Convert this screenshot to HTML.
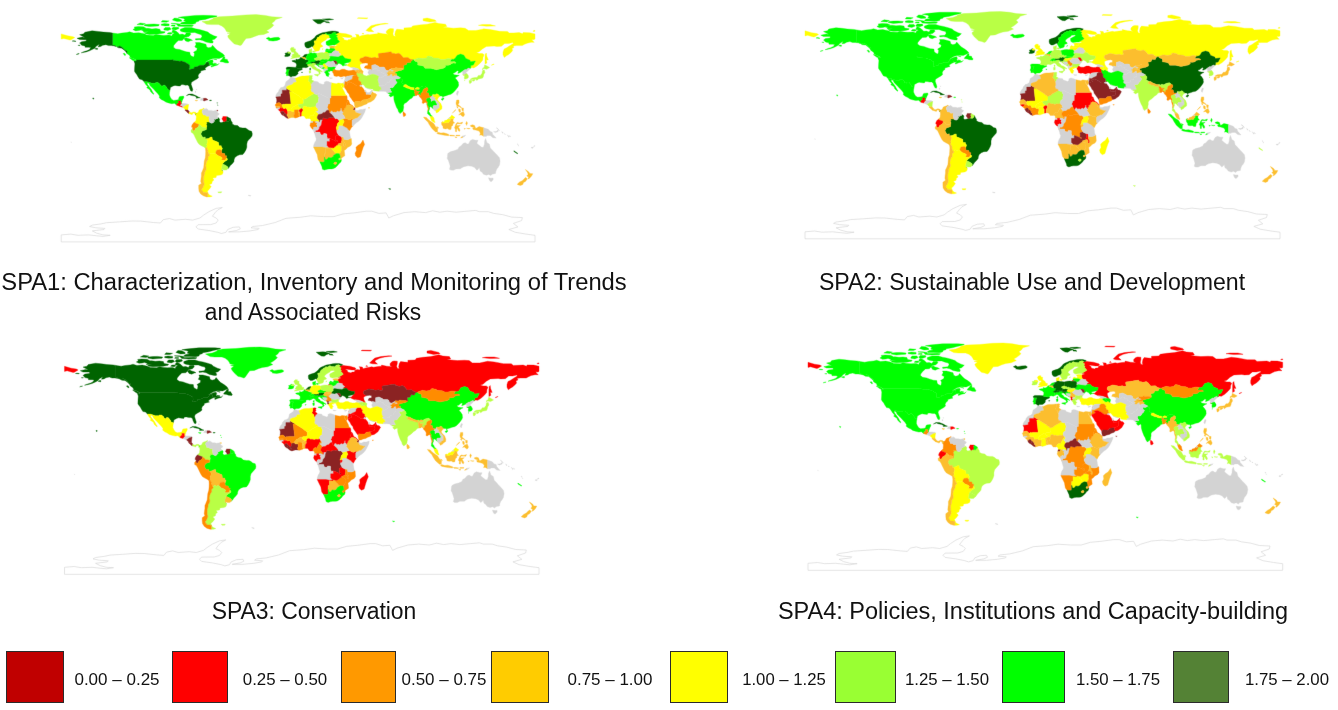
<!DOCTYPE html>
<html lang="en"><head><meta charset="utf-8"><title>Strategic Priority Areas – implementation scores</title>
<style>
html,body{margin:0;padding:0;background:#fff}
body{width:1338px;height:710px;position:relative;overflow:hidden;font-family:"Liberation Sans",sans-serif;color:#111}
svg{position:absolute;left:0;top:0}
.map path{stroke-width:.35;stroke-linejoin:round;fill-rule:evenodd}
.map path.ant{fill:#fff;stroke:#d6d6d6;stroke-width:.65}
.tx{position:absolute;width:800px;text-align:center;white-space:nowrap;transform-origin:50% 0}
.lb{position:absolute;box-sizing:border-box;border:1.5px solid #2b2b2b}
</style></head><body>
<svg width="1338" height="710" viewBox="0 0 1338 710">
<defs><filter id="soft" filterUnits="userSpaceOnUse" x="0" y="0" width="1338" height="710" color-interpolation-filters="sRGB"><feConvolveMatrix order="3" kernelMatrix="0.0025 0.0450 0.0025 0.0450 0.8100 0.0450 0.0025 0.0450 0.0025" divisor="1" edgeMode="none" preserveAlpha="false"/></filter></defs>
<g filter="url(#soft)"><g transform="translate(61.20,0)" class="map">
<path class="ant" d="M0 234.9L9.6 234.1L16.7 235.3L27.5 234.9L35.5 235.8L41.9 236.4L49 235.3L41.9 234.9L35.5 233.2L31.1 230.9L42.8 229.5L43.7 228.4L34.6 227.8L28.4 226.5L31.1 225.1L40 223.9L45.4 222.7L58 221.9L70.5 221L79.5 221.1L92.1 222.5L99.2 223L102 219.7L108.2 218.5L113.6 220.1L124.4 219.3L131.5 220.1L138.7 218L142.3 215.2L147.7 211.7L154.9 208.4L161.1 207.5L156.6 209.9L154 212.6L151.2 216.2L154.9 218L157 220.1L154.9 223L149.5 224.6L136.9 224.7L134.8 226.9L136.9 229L147.7 230.5L156.6 232.3L160.2 233.5L164.8 232.3L166.5 229.5L171.9 227.3L178.2 226.9L179.1 228.8L175.4 230.5L167.4 231.9L178.2 231.9L189 230.9L197 229.5L197.9 228.4L189.8 227.8L191.6 226.5L201.5 225.5L214 222.5L224.8 218.3L238.7 217.3L249.5 215.8L262.2 216.6L272.8 216.6L281.9 213.9L292.6 212.9L305.2 211.2L310.6 211.2L317.7 213.4L324.9 212.9L327.6 218L332.1 215.8L342.8 212.6L353.6 211.7L364.3 212.6L371.5 210.8L378.6 212.2L385.9 211.2L394.8 212.2L405.6 211.2L414.6 210.4L418.1 211.7L427.1 211.7L432.5 213.4L441.6 214.7L450.5 217.1L461.2 217.6L460.4 220.6L452.2 223.4L456.7 226.9L447.7 229.5L454.1 232.3L464.9 234.1L473.8 235.3L473.8 241.9L0 241.9Z"/>
<path d="M121.1 100.8L120.7 100L121.3 100ZM124 109.7L124.1 109.8L124 110.5ZM121.7 107.4L121.1 107.2L121.3 107.1L122 107.4L122 107.6Z" fill="#D3D3D3" stroke="#D3D3D3"/>
<path d="M56.6 33.8L60.5 33.1L65.8 32.5L68.4 31.8L72.4 33.1L77.7 32.7L82.9 33.8L85.5 35.1L92.1 35.4L94.8 34.4L98.7 35.1L102.7 35.4L107.9 35.1L110.6 36L111.2 34.4L113.2 33.1L110.6 32.5L111.2 30.5L112.5 29.9L115.8 31.8L117.1 33.1L118.5 34.4L121.1 34.1L123.7 35.1L125 33.1L129 32.9L129.6 34.4L127.7 36.4L123.7 37.3L122.4 39L121.1 40.4L117.1 40.6L114.5 43L112.5 45.6L112.3 47.2L114.5 48.9L118.5 49.5L121.1 50.5L125 51.8L128.6 52.2L129 54.8L130.3 56.1L132.3 57L132.9 56.1L133.3 53.5L132.3 52.2L135.6 50.2L136 48.2L133.6 46.9L134.9 44.3L134.2 42.6L138.2 42.6L142.1 43.6L144.8 44.3L145.4 46.9L147.4 47.8L150 47.2L151.4 45.2L154 48.2L156 50.2L159.2 52.2L161.9 54.1L163.5 56.1L161.9 56.9L157.9 58.5L152.7 58.3L148.7 59.4L145.4 61.3L143.5 62.8L146.1 61.6L148.7 60.3L151.4 59.8L152 61.3L151.4 62.7L152 63.7L154 64.2L156.6 64.6L157.9 63.3L156.6 65L153.3 65.9L150.3 67.1L150 67L150 65.9L152 64.9L148.7 65.3L148.6 65.3L148.5 65.1L147.7 64.4L147.7 62.5L147 62.2L145.8 62.1L144.8 63L144.4 63.7L142.8 65.3L138.6 65.3L136.3 66.5L132.9 67.2L132.9 68.4L128.3 69.6L127.5 69.1L128.5 67.9L128.3 64.9L127 64L125.7 63.4L125.2 62.8L120.4 61L118.5 61.2L115.2 60.8L112.4 60.4L111.6 59.5L111.6 60L75 60L72.4 58.5L69.1 57.4L68.4 55.4L65.8 53.5L65.8 51L63.4 49.9L61.2 47.6L58.6 46L56 47L55.3 46.5L55.1 46.5L53.7 45.5L51.3 45.2L51.3 33ZM72.8 61L74.6 61L72.8 61.1Z" fill="#00FF00" stroke="#00FF00"/>
<path d="M111.6 59.5L112.4 60.4L115.2 60.8L118.5 61.2L120.4 61L125.2 62.8L125.7 63.4L127 64L128.3 64.9L128.5 67.9L127.5 69.1L128.3 69.6L132.9 68.4L132.9 67.2L136.3 66.5L138.6 65.3L142.8 65.3L144.4 63.7L144.8 63L145.8 62.1L147 62.2L147.7 62.5L147.7 64.4L148.5 65.1L148.6 65.3L146.1 66.6L144.1 67.9L143.7 69.2L144.8 69.6L142.1 70.3L139.5 71.1L139.5 72.5L137.8 73.8L136.9 75.8L137.3 77.7L135.6 79.1L132.9 80.6L130.3 82.3L129.9 84.3L131 87.6L131.6 89.6L131.1 91.3L129.6 90.9L128.3 88.2L127.9 86.3L126.3 85L124.4 85.2L121.7 84.6L119.8 84.7L119.1 86L117.1 85.9L113.8 85.4L111.9 86L109.2 87.6L108.8 90.2L108.8 90.3L106.3 89.6L105.9 88.1L104.4 86.1L103.4 85.2L102 85.2L101.1 86.3L99.4 85.5L98.8 84.2L96.7 82.6L94.5 82.6L94.5 83.3L90.8 83.3L85.8 81.7L82.8 81.7L82.7 81.7L82.7 81.5L80.9 79.7L78.3 79.1L76.6 76.4L75.7 74.7L74 72.5L73.3 71.3L73.4 67.9L73.7 63.7L72.8 61.1L74.6 61L75 61L75 60L111.6 60ZM61.2 47.6L63.4 49.9L65.8 51L65.8 53.5L65.1 52.2L63.2 50.2L60.5 48.2L57.3 47.8L56 47L58.6 46ZM53.7 45.5L55.1 46.5L52.6 45.9L50 45.6L47.4 45.6L44.7 44.7L41.5 45.3L39.5 46.5L36.9 46.9L38.2 44.3L34.9 46.3L33.6 48.2L30.9 49.5L28.3 50.8L25 51.9L21.7 52.6L20 52.8L23 51.5L25.7 50.8L28.3 49.5L29.6 47.6L27.6 47.3L24 47.3L23.7 45.9L20.4 45.2L19.1 43.6L18.4 43L20.4 41.7L25 41L25 39.7L22.4 39.7L18.4 39.6L15.8 38.3L21.1 37.1L23.7 37.7L21.7 36.4L18.4 34.7L22.4 33.8L23.7 32.2L30.9 30.8L36.9 31.4L42.1 32.1L48.7 32.5L51.3 33L51.3 45.2Z" fill="#006400" stroke="#006400"/>
<path d="M90.8 83.3L94.5 83.3L94.5 82.6L96.7 82.6L98.8 84.2L99.4 85.5L101.1 86.3L102 85.2L103.4 85.2L104.4 86.1L105.9 88.1L106.3 89.6L108.8 90.3L108.3 92.8L108.2 95.1L109.2 97.4L110.6 99.4L112.5 100.4L115.2 100L117.1 99.7L117.8 97.4L118.5 96.5L122.4 96.1L122.7 97.4L121.6 99.4L121.3 100L120.7 100L119.6 101L117.1 101L117.1 101.8L117.9 102.8L116.5 103.2L115.6 104.2L115.6 105.3L113.2 103.3L110.6 103.7L107.3 102.9L104.6 102L102.7 100.7L100 99.4L98.1 97.8L98.3 96.1L96.7 93.8L94.1 91.1L92.8 89.6L90.8 87.6L88.8 85.6L87.9 83.4L85.9 82.6L86.2 84.3L88.2 86.9L90.2 89.6L91.5 92.2L92.8 93.9L92.1 94.3L89.5 91.8L88.8 89.9L86.9 88.6L85.5 87.8L86.5 86.5L84.5 84.6L83.3 82.6L82.8 81.7L82.8 81.7L85.8 81.7Z" fill="#00FF00" stroke="#00FF00"/>
<path d="M120.8 101.4L120 103.3L120.8 103.5L120.7 103.7L119.5 103.5L119.6 101L120.7 100L121.1 100.8Z" fill="#00FF00" stroke="#00FF00"/>
<path d="M116.5 103.2L117.9 102.8L117.1 101.8L117.1 101L119.6 101L119.5 103.5L120.7 103.7L119.5 104.8L119.2 105.4L118.5 106.2L118.5 106.2L115.6 105.3L115.6 104.2Z" fill="#FF0000" stroke="#FF0000"/>
<path d="M120.4 106L121.5 106.2L121.3 107.1L121.1 107.2L120.4 107L118.5 106.2L119.2 105.4Z" fill="#FF0000" stroke="#FF0000"/>
<path d="M121.1 103.6L123.7 103.5L126.3 103.9L127.4 104.6L126 105L125 105.3L123.7 106.1L122.8 106.9L122 107.4L121.3 107.1L121.5 106.2L120.4 106L119.2 105.4L119.5 104.8L120.7 103.7L120.8 103.5Z" fill="#D3D3D3" stroke="#D3D3D3"/>
<path d="M123.7 106.1L125 105.3L126 105L127.4 104.6L127 107.3L126.7 109.9L126.8 110L125.3 109.9L124.1 109.8L124 109.7L124 109.6L122 107.6L122 107.4L122.8 106.9Z" fill="#FFFF00" stroke="#FFFF00"/>
<path d="M126.8 110L127.7 111.2L128.2 111.7L128.2 111.9L127.8 112.4L127.8 113.5L126.7 113L125.3 111.5L124 110.5L124 110.5L124.1 109.8L125.3 109.9Z" fill="#8B2323" stroke="#8B2323"/>
<path d="M128.3 111.8L129 112.5L130.3 112.8L132.3 111.9L134.2 112.2L135.2 113.2L134.4 114.9L133.6 113.4L132.3 112.8L131.2 114.1L131 114.7L129.6 114.2L127.9 113.6L127.8 113.5L127.8 112.4L128.2 111.9Z" fill="#FFFF00" stroke="#FFFF00"/>
<path d="M151.6 43.1L149.4 43L144.8 42.1L141.5 40.4L138.2 39.7L134.5 40L134.2 38.8L139.5 38.4L140.8 36.4L140.2 34.7L136.9 33.8L133.6 32.5L129 32.7L125 32.5L121.1 31.8L119.1 30.9L119.1 29.2L123.7 27.5L130.3 27.6L134.2 28.8L138.2 29.5L142.8 30.8L146.7 32.1L148.7 33.8L152.7 35.8L156 36.8L153.3 39.3L150.7 40L152 41.7Z" fill="#00FF00" stroke="#00FF00"/>
<path d="M84.2 33.8L82.9 32.7L87.5 31.8L81.6 32.1L82.9 31.2L80.3 30.2L82.3 28.5L86.9 28.3L90.8 28.9L94.8 28.5L98.7 29.2L99.4 31.2L104 31.8L103.3 32.9L98.7 33.8L94.8 34.2L88.2 34.4Z" fill="#00FF00" stroke="#00FF00"/>
<path d="M71.7 29.6L73.7 28.3L73 27L77 26.6L82.3 26.8L84.9 28.2L81.6 29.5L77.7 30.6L74.4 30.9Z" fill="#00FF00" stroke="#00FF00"/>
<path d="M102.7 29.9L102.7 28.8L104 27.5L108.6 27.5L109.9 29.2L106.6 30.5Z" fill="#00FF00" stroke="#00FF00"/>
<path d="M111.2 29.6L110.6 28.5L111.9 27.2L117.1 27.2L117.8 28.5L114.5 29.9Z" fill="#00FF00" stroke="#00FF00"/>
<path d="M105.9 33.8L107.3 32.7L109.9 32.5L111.2 33.5L109.2 34.3Z" fill="#00FF00" stroke="#00FF00"/>
<path d="M122.7 38.4L125 37.7L127 38.6L129.6 39.3L131.3 40.4L129.6 40.6L127 41.8L124.4 41Z" fill="#00FF00" stroke="#00FF00"/>
<path d="M82.9 25.7L83.6 24.6L88.2 24.2L92.8 24L98.1 24.6L97.4 25.9L93.4 26.2L88.2 26.6Z" fill="#00FF00" stroke="#00FF00"/>
<path d="M100 25.3L100 24.2L103.3 23.6L107.9 24L107.9 25.7L104 25.9Z" fill="#00FF00" stroke="#00FF00"/>
<path d="M109.9 25.9L110.6 25L113.8 25.1L113.8 26.2Z" fill="#00FF00" stroke="#00FF00"/>
<path d="M109.9 23.6L109.9 23.3L114.5 23.4L119.1 24.1L119.1 25L123.7 25.1L129 24.9L132.3 25.3L131 26.4L123.7 26.6L117.1 26.2L115.2 24.2Z" fill="#00FF00" stroke="#00FF00"/>
<path d="M119.8 24.1L119.1 23.3L121.1 22.2L125 21.7L122.4 20.7L123.7 19.4L122.4 18.4L117.1 17.4L121.1 16.7L126.3 16.2L134.2 15.4L142.1 15.3L150 15.4L156 15.9L155.3 16.7L148.7 18L144.1 19.4L138.2 20.3L137.5 21.3L134.9 22L134.2 23.6L131 24.3L125 24.2Z" fill="#00FF00" stroke="#00FF00"/>
<path d="M111.2 20L113.2 18L117.1 18.4L120.4 20L120.4 21.3L115.8 21.6Z" fill="#00FF00" stroke="#00FF00"/>
<path d="M75.7 24.6L79 22.9L84.2 23.7L81.6 25Z" fill="#00FF00" stroke="#00FF00"/>
<path d="M100 22L101.3 20.4L107.9 20.9L105.3 22.2Z" fill="#00FF00" stroke="#00FF00"/>
<path d="M158.9 61.7L159.2 60.7L161.2 58.7L162.1 57.1L163.7 56.9L163.5 59L166.1 59.4L166.5 60.7L167.5 61.9L167.1 63L163.9 62.8L161.9 62Z" fill="#00FF00" stroke="#00FF00"/>
<path d="M68 57.7L71.7 58.3L74.4 60L74.4 61L71.7 60.4Z" fill="#00FF00" stroke="#00FF00"/>
<path d="M61.9 53.5L63.4 53.3L64.5 54.8L63.8 55.7Z" fill="#00FF00" stroke="#00FF00"/>
<path d="M152 58.9L153.3 58.9L155.6 59.5L155.3 59.9Z" fill="#00FF00" stroke="#00FF00"/>
<path d="M152.3 62.9L155.3 63.4L154.6 64L152.7 63.6Z" fill="#00FF00" stroke="#00FF00"/>
<path d="M33.6 48.9L34.9 48.2L36.5 48.2L36.2 49.5Z" fill="#006400" stroke="#006400"/>
<path d="M10.9 41.1L12.5 40.7L14.7 41.1L14.5 41.5Z" fill="#006400" stroke="#006400"/>
<path d="M16.7 45.3L18.8 45.2L18.7 45.7Z" fill="#006400" stroke="#006400"/>
<path d="M15.1 54.5L15.8 54L18 53.5L17.8 53.9Z" fill="#006400" stroke="#006400"/>
<path d="M31.6 97.9L32.8 98.3L32.2 99.3L31.6 98.7Z" fill="#006400" stroke="#006400"/>
<path d="M157.9 16.7L171.1 16.1L184.3 14.9L194.8 14.6L204 15.4L210.6 16.7L221.1 17.4L214.5 19.4L213.2 21.3L210.6 23.3L212.6 25.3L210.6 27.2L207.9 29.2L205.3 30.5L207.9 32.2L202.7 34.4L197.4 35.1L193.5 36.4L189.5 38L184.9 38.4L182.9 41L180.3 44.9L179 45.6L176.4 44.7L173.1 43.9L171.1 41.9L169.1 40.1L167.1 37.7L166.5 35.8L169.1 33.8L165.8 33.1L169.8 32.5L165.2 31.4L164.5 29.9L163.2 27.9L160.6 25.9L157.3 24.6L150 24.6L145.4 24.2L143.5 23L140.8 21.6L147.4 20.7L151.4 19.1L152.7 17.8Z" fill="#B9FF45" stroke="#B9FF45"/>
<path d="M125.2 95.6L127.7 94.1L131 94L134.9 95.7L137.5 97.2L139.2 97.8L134.9 98.2L135.3 97.3L133.6 96.1L129.6 95.3L128.3 94.7Z" fill="#006400" stroke="#006400"/>
<path d="M141.5 100.4L139 100.2L140.4 98.2L142.4 98.3L142.4 100.9Z" fill="#D3D3D3" stroke="#D3D3D3"/>
<path d="M142.4 98.3L144.8 98.3L146.9 99.8L144.8 100.3L142.8 101.1L142.4 100.9Z" fill="#8B2323" stroke="#8B2323"/>
<path d="M133.8 100.2L136.5 100.4L135.6 101L134 100.6Z" fill="#FCBE2E" stroke="#FCBE2E"/>
<path d="M148.5 100L150.4 100.2L150 100.7L148.5 100.7Z" fill="#006400" stroke="#006400"/>
<path d="M155.4 110.3L156.6 110.2L156.6 111.1L155.6 111.1Z" fill="#8B2323" stroke="#8B2323"/>
<path d="M133.8 91.3L134.5 91.3L134.5 92.6L133.8 92.2Z" fill="#D3D3D3" stroke="#D3D3D3"/>
<path d="M134.8 89L135.6 89.6L135.3 89.9Z" fill="#D3D3D3" stroke="#D3D3D3"/>
<path d="M155.6 102.8L156.4 102.8L156 103.3Z" fill="#006400" stroke="#006400"/>
<path d="M156.4 104.8L156.9 105L156.6 105.4Z" fill="#006400" stroke="#006400"/>
<path d="M169.1 118.7L170 121L171.1 122.4L171.1 123.9L173.3 125.2L176.4 125.6L178.6 127.6L181.6 128L184.3 128L186.2 129.2L187.9 130.6L190.4 131.3L191.1 133.8L190.8 136.1L188.9 138.4L187.5 139.8L186.2 141.4L185.6 144L185.6 147.3L184.7 149.9L183.2 152.5L181.6 154.5L178.3 154.8L176 155.8L173.7 157.5L172.9 159.7L172.7 161.7L171.1 163.7L169.1 165.6L167.8 167.6L166.6 168.8L166.6 168.7L166.9 167.2L165.8 166.2L163.7 164.9L163.2 164.7L161.1 163.9L163.5 161.6L166.1 160L166.2 158.7L165 157.9L165.4 155.8L163.9 155.7L163.5 153.6L160.7 153.3L160.3 150.8L161.2 148.2L160.2 147L160 145.7L157.7 145.7L157.3 142.4L155.3 141.6L153.3 140.7L151.4 140.1L151 138.5L150.8 137L149.2 137.3L147.4 138.4L145.3 138.8L144 138.8L144 136.9L141.9 137.4L141 136.4L139.6 133.9L141.1 131L144.9 129.8L145.6 125.9L144.8 123.7L145.8 123.5L145 122.1L148.3 122.1L148.9 122.7L150.7 123.3L152.4 122.4L152.4 121L153.5 121.4L152.7 119.1L154.2 119.5L154.6 118.9L156.6 118.4L157 117.5L157.9 118.4L158.5 119.3L158.1 121.3L159.2 122.6L160.6 122.4L162.5 121.8L163.3 121.8L164.4 121L165.2 121.3L167.1 121.4L167.8 121L168.9 119.1L169.1 118.6ZM161.6 170.9L161.7 171.2L160 170.2L161.3 170.5ZM135.2 113.2L135.2 113.2L135.3 114L134.4 114.9Z" fill="#006400" stroke="#006400"/>
<path d="M143 108.8L141.7 109.6L141.1 110.5L140.8 112.2L141.5 113.2L142.1 115L144.1 115.1L145.4 116.3L148.1 116.2L147.7 118.4L148.3 121.7L148.9 122.7L148.3 122.1L145 122.1L145.8 123.5L144.8 123.7L145.6 125.9L144.9 129.8L144.8 127.9L142.8 127.3L140.8 127.3L139.5 125.6L137.8 124.5L136.2 123.9L134.5 123.3L133.2 122.5L132.8 122.4L132.9 122.4L133.2 122L134.9 120.4L134.9 119.1L135.2 117.1L134.9 115.4L134.4 114.9L135.3 114L135.2 113.2L136.2 112.8L137.3 111.9L137.8 110.3L139.1 109.6L140.8 109.2L142.7 108.1L142.9 108.4Z" fill="#FFFF00" stroke="#FFFF00"/>
<path d="M156.4 115.5L156.1 116.6L157 117.5L156.6 118.4L154.6 118.9L154.2 119.5L152.7 119.1L153.5 121.4L152.4 121L152.4 122.4L150.7 123.3L148.9 122.7L148.3 121.7L147.7 118.4L148.1 116.2L145.4 116.3L144.1 115.1L142.1 115L141.5 113.2L140.8 112.2L141.1 110.5L141.7 109.6L143 108.8L143.1 109.2L144.8 109.1L144.5 108.3L146.7 109.5L147.1 110.4L150 110.4L152 110.9L155.3 110.3L155.6 111.5L156.9 113.2L158.1 113.6L157.5 115Z" fill="#D3D3D3" stroke="#D3D3D3"/>
<path d="M165.8 119.7L165.2 121.3L164.4 121L163.3 121.8L162.5 121.8L161.5 119.9L160.6 119.1L161.5 117.5L161.7 116.5L163.9 116.6L165.8 116.7L165.3 118.4Z" fill="#FF0000" stroke="#FF0000"/>
<path d="M167.8 121L167.1 121.4L165.2 121.3L165.8 119.7L165.3 118.4L165.8 116.7L167.8 117.8L169.1 118.6L168.9 119.1Z" fill="#006400" stroke="#006400"/>
<path d="M136.2 123.9L137.8 124.5L137.5 126.3L136 127.7L134.2 128.5L133.6 130.2L132.5 130.9L131.2 130.1L131.2 128.8L131.6 127.6L130.4 127.2L130.6 125.6L131.6 123.7L132.8 122.5L133.2 122.5L134.5 123.3Z" fill="#FF8C00" stroke="#FF8C00"/>
<path d="M132.5 130.9L133.6 130.2L134.2 128.5L136 127.7L137.5 126.3L137.8 124.5L139.5 125.6L140.8 127.3L142.8 127.3L144.8 127.9L144.9 129.8L141.1 131L139.6 133.9L141 136.4L141.9 137.4L144 136.9L144 138.8L145.3 138.8L146.5 140.7L146.1 143.3L145.4 144.4L146.1 145.7L145.3 147L145.4 147.3L144.2 148.3L142.8 147L140.2 145.7L137.9 144.3L136.5 142.4L135.3 140.1L134 137.4L132.9 135.1L131.7 133.2L130 132.2L129.9 130.2L131.2 128.8L131.2 130.1Z" fill="#B9FF45" stroke="#B9FF45"/>
<path d="M149.2 137.3L150.8 137L151 138.5L151.4 140.1L153.3 140.7L155.3 141.6L157.3 142.4L157.7 145.7L160 145.7L160.2 147L161.2 148.2L160.3 150.8L159.1 149.6L155.6 150.2L155 151.2L154.4 153.4L152.7 153.2L152 153.8L149.6 152.9L148.7 154.1L147.5 154.2L147.1 152.5L146.4 151.2L146.9 149.9L146.1 149.2L145.4 147.3L145.3 147L146.1 145.7L145.4 144.4L146.1 143.3L146.5 140.7L145.3 138.8L147.4 138.4Z" fill="#FFFF00" stroke="#FFFF00"/>
<path d="M155.6 150.2L159.1 149.6L160.3 150.8L160.7 153.3L163.5 153.6L163.9 155.7L165.4 155.8L165 157.9L164.8 159.4L163.5 160.3L161.9 160.3L159.8 160L161.1 157.9L159.5 156.7L156.6 155.5L154.4 153.4L155 151.2Z" fill="#FF8C00" stroke="#FF8C00"/>
<path d="M160 168.9L160 168.8L160.3 167L161.1 163.9L163.2 164.7L163.7 164.9L165.8 166.2L166.9 167.2L166.6 168.7L166.6 168.8L166.5 168.9L165.2 170L162.9 170.1L160.8 169.5ZM160 168.9L161.3 170.5L160 170.2Z" fill="#B9FF45" stroke="#B9FF45"/>
<path d="M149.6 152.9L152 153.8L152.7 153.2L154.4 153.4L156.6 155.5L159.5 156.7L161.1 157.9L159.8 160L161.9 160.3L163.5 160.3L164.8 159.4L165 157.9L166.2 158.7L166.1 160L163.5 161.6L161.1 163.9L160.3 167L160 168.8L160 168.9L160 170.2L161.7 171.2L161.9 172.2L161.2 174.2L159.2 175.1L155.3 175.5L154.9 177.5L151.4 178.1L152.7 180.1L151 181.4L150.7 183.4L148.1 184.7L150 186.6L148.1 189.3L146.1 191.2L146.9 192.9L146.8 193.1L144.8 192.5L142.1 192.5L141.7 191.2L140.8 190.8L140.4 189.3L141.5 188L142.4 186L143.1 184L142.5 182L142.4 179.4L142.5 176.8L143.2 174.8L143.5 172.2L144.2 170.9L145 169.3L145 168L144.5 165.6L145 163L145.8 160.8L147 159.7L146.7 158.8L146.9 156.5L148.3 155.8L148.5 154.5L147.5 154.2L148.7 154.1ZM146.8 193.1L146.7 193.5L148.7 195.2L151.1 196.2L148.7 196.9L146.6 196.9L146.6 193.5Z" fill="#FFFF00" stroke="#FFFF00"/>
<path d="M145.4 147.3L146.1 149.2L146.9 149.9L146.4 151.2L147.1 152.5L147.5 154.2L148.5 154.5L148.3 155.8L146.9 156.5L146.7 158.8L147 159.7L145.8 160.8L145 163L144.5 165.6L145 168L145 169.3L144.2 170.9L143.5 172.2L143.2 174.8L142.5 176.8L142.4 179.4L142.5 182L143.1 184L142.4 186L141.5 188L140.4 189.3L140.8 190.8L141.7 191.2L142.1 192.5L144.8 192.5L146.8 193.1L146.8 193.1L146.6 193.5L146.6 196.9L145.4 196.9L142.1 195.8L139.5 193.9L137.8 191.2L137.5 188L137.5 185.3L140.2 183.4L139.5 181.4L139.8 178.8L140.2 176.1L140.2 173.1L141.2 170.9L142.5 167.6L142.8 164.3L143.1 161.1L144.1 157.8L144.4 154.5L144.5 151.2L144.2 148.3Z" fill="#FCBE2E" stroke="#FCBE2E"/>
<path d="M156.6 191.9L160.6 191.8L159.9 192.8L157.3 192.8Z" fill="#B9FF45" stroke="#B9FF45"/>
<path d="M186.9 195.2L189.5 195.6L189.3 196.1L187.5 195.7Z" fill="#D3D3D3" stroke="#D3D3D3"/>
<path d="M248.3 75.6L248.2 75.9L247.4 75.7ZM247.1 118.5L248.1 118.2L248.1 118.4ZM234.3 118L233.1 117.7L233.2 117.6L234.6 117.9ZM239.8 108.1L240.6 108.1L240.1 108.7ZM254.5 130.7L254.1 131.9L254 130.4Z" fill="#D3D3D3" stroke="#D3D3D3"/>
<path d="M219.5 87.8L221.8 87.2L223.7 85.6L224.1 83.9L224.7 81.7L227 80.1L228.3 79.1L229.1 77.4L229.9 77.2L233 78L234 78.1L234 78.3L234.5 79.1L235.3 81.7L235.2 82.1L232.2 82.7L232 83.8L229.9 85L227.7 85.6L225.4 86.7L225.4 88L219.5 88L219.4 88Z" fill="#D3D3D3" stroke="#D3D3D3"/>
<path d="M225.4 88.5L225.4 90.2L221.1 90.2L221.1 93.5L219.8 94.1L219.8 96.4L214.6 97L214.5 96.8L214.8 95.1L215.8 93.2L217.3 91.5L217.8 89.9L219.4 88L219.5 88L225.4 88Z" fill="#D3D3D3" stroke="#D3D3D3"/>
<path d="M219.8 94.1L221.1 93.5L221.1 90.2L225.4 90.2L225.4 88.5L230.5 91.5L228.4 91.5L229.7 102.9L229.7 104L224.4 104L222.8 104.4L221.8 104L220.8 105L219.3 103.3L217.8 102.5L215.2 103.2L215.6 100.7L215.4 98.7L214.6 97L219.8 96.4Z" fill="#8B2323" stroke="#8B2323"/>
<path d="M219.3 103.3L220.8 105L221.9 108.1L220.7 108.2L218.9 107.8L217.2 107.7L214.9 108.1L214.8 107.1L217.2 106.9L218.7 106.9L218.7 106.6L217.2 106.2L214.7 106.5L213.9 105L215.2 103.3L215.2 103.2L217.8 102.5Z" fill="#FF8C00" stroke="#FF8C00"/>
<path d="M218.7 106.6L218.7 106.9L217.2 106.9L214.8 107.1L214.8 106.6L214.7 106.5L217.2 106.2Z" fill="#FCBE2E" stroke="#FCBE2E"/>
<path d="M218.9 107.8L218.9 109L217.6 109.2L217.2 109.9L217.2 109.9L214.9 108.1L217.2 107.7Z" fill="#D3D3D3" stroke="#D3D3D3"/>
<path d="M218.9 109L218.9 107.8L220.7 108.2L221.9 108.1L222.8 108.7L224.7 108.1L225.7 109.4L226.4 110.9L226.6 113.2L226 114.3L224.7 114.6L224.4 113.3L223.3 113.2L222.8 112.1L222.2 111.2L220.4 111.3L219.4 112.5L219.1 111.6L217.8 110.5L217.2 109.9L217.6 109.2Z" fill="#FF0000" stroke="#FF0000"/>
<path d="M222.2 111.2L222.8 112.1L223.3 113.2L222.9 114.1L221.8 115.3L220.4 114.5L219.5 112.8L219.4 112.5L220.4 111.3Z" fill="#8B2323" stroke="#8B2323"/>
<path d="M223.3 113.2L224.4 113.3L224.7 114.6L226 114.3L225.7 115.8L227 116.7L227 118.5L225.1 117.8L222.7 115.8L221.8 115.3L222.9 114.1Z" fill="#8B2323" stroke="#8B2323"/>
<path d="M225.7 115.8L226 114.3L226.6 113.2L226.4 110.9L228.7 110.4L229.7 110.7L230.7 111.6L233.2 111.7L233.3 113.8L232.7 115.8L233.2 117.6L233.1 117.7L232.3 117.5L230.3 117.5L227 118.5L227 116.7Z" fill="#FCBE2E" stroke="#FCBE2E"/>
<path d="M222.8 104.4L224.4 104L229.7 104L229.7 102.9L228.4 91.5L230.5 91.5L238.5 96.6L239.3 97.7L241.1 98.3L241.2 99.4L242.4 99.3L242.4 102.7L241.5 104.1L238.6 104.2L237.2 104.8L236 104.5L234.3 105.7L233 106.5L231.2 107L231.1 107.9L229.9 108.8L229.7 110.7L228.7 110.4L226.4 110.9L225.7 109.4L224.7 108.1L222.8 108.7L221.9 108.1L220.8 105L221.8 104Z" fill="#FFFF00" stroke="#FFFF00"/>
<path d="M231.1 107.9L231.2 107L233 106.5L234.3 105.7L236 104.5L237.2 104.8L237.3 106L238.2 107.1L239.8 108.1L240.1 108.7L238.7 109.4L238.1 109.9L236.8 109.8L233.2 109.9L233.2 111.7L230.7 111.6L229.7 110.7L229.9 108.8Z" fill="#FFFF00" stroke="#FFFF00"/>
<path d="M233.3 113.8L233.2 111.7L233.2 109.9L236.8 109.8L237.6 110.8L237.4 112.8L237.8 113.4L237.6 115.3L238.5 116.3L238.3 116.5L236.2 117.4L234.6 117.9L233.2 117.6L232.7 115.8Z" fill="#FF8C00" stroke="#FF8C00"/>
<path d="M237.8 113.4L237.4 112.8L237.6 110.8L236.8 109.8L238.1 109.9L238 110.8L239 112.5L239 116.1L238.9 116.3L238.5 116.4L238.5 116.3L237.6 115.3Z" fill="#FCBE2E" stroke="#FCBE2E"/>
<path d="M238 110.8L238.1 109.9L238.7 109.4L240.1 108.7L240.6 108.1L241.6 109L241.9 110.3L240.6 112.5L240.5 115.9L239.2 116.3L239 116.1L239 112.5Z" fill="#FF0000" stroke="#FF0000"/>
<path d="M241.5 104.1L242.4 102.7L242.4 99.3L244.5 98.7L246.8 96.9L252.7 93.5L255.6 94.7L256.6 94.1L256.8 96.4L257.8 97.6L257.6 98.2L257 100.8L257.3 102.1L255.2 103.7L254.7 105.4L254.8 106.3L253.1 107.1L251 106.9L249.4 107.5L247.2 106.9L245.8 107.1L244 106.1L242.3 106.6L241.6 109L240.6 108.1L239.8 108.1L238.2 107.1L237.3 106L237.2 104.8L238.6 104.2Z" fill="#B9FF45" stroke="#B9FF45"/>
<path d="M241.9 110.3L241.6 109L242.3 106.6L244 106.1L245.8 107.1L247.2 106.9L249.4 107.5L251 106.9L253.1 107.1L254.8 106.3L255.6 108.1L256.1 109.1L255.1 109.9L254.3 111.2L253.7 112.8L253 113.4L252.4 115L251.8 115.7L250.7 115.1L249.8 115.4L249.1 116.1L248.5 116.7L248.1 118.2L247.1 118.5L246.1 118.5L244.8 118.7L243.9 117.4L242.8 116.1L240.5 115.9L240.6 112.5Z" fill="#FFFF00" stroke="#FFFF00"/>
<path d="M249.1 116.1L249.8 115.4L250.7 115.1L251.8 115.7L252.4 115L253 113.4L253.7 112.8L254.3 111.2L255.1 109.9L256.1 109.1L255.6 108.1L256 107.4L256.6 109.1L256.8 110.2L257.3 111.2L255.6 111.2L255.2 111.7L256.9 113.2L257.3 114.5L256.4 115.9L256 117.4L256.2 118.4L256.9 119.2L258.1 120.5L258.2 122.1L256 121.4L254.4 121.4L251.8 121.3L249.8 121.3L249.7 121.3L249.8 121L249.7 119.7L248.5 118.4L248.1 118.4L248.1 118.2L248.5 116.7Z" fill="#FFFF00" stroke="#FFFF00"/>
<path d="M251.8 123L249.3 123L249.4 122.7L249.7 121.3L251.8 121.3Z" fill="#D3D3D3" stroke="#D3D3D3"/>
<path d="M251.8 121.3L254.4 121.4L254.3 122.6L255.6 122.5L255.9 123.5L255.2 124.3L256 125.1L255.9 126.8L255.5 127.5L253.7 126.8L253.4 127.5L252.2 127.5L252.6 128.9L251.5 129.4L249.8 127.6L248.7 125.6L249.1 123.9L249.3 123L251.8 123Z" fill="#FF8C00" stroke="#FF8C00"/>
<path d="M252.2 127.5L253.4 127.5L253.7 126.8L255.5 127.5L255.9 126.8L256 125.1L255.2 124.3L255.9 123.5L255.6 122.5L254.3 122.6L254.4 121.4L256 121.4L258.2 122.1L258.6 120.6L258.9 119.7L261.4 119.7L260.7 121.4L260.3 123.9L259.9 125.2L258.2 127.2L258 128.9L257 130L255.9 130.7L254.5 130.7L254 130.4L253.6 130.2L252.3 130.8L252.3 130.7L251.6 129.6L251.5 129.4L252.6 128.9Z" fill="#D3D3D3" stroke="#D3D3D3"/>
<path d="M254.5 130.7L255.9 130.7L257 130L258 128.9L258.2 127.2L259.9 125.2L260.3 123.9L260.7 121.4L261.4 119.7L261.4 118.7L262.6 117.8L263.9 118.4L266.5 118.9L267 118L269.1 117.6L270.2 117.8L273 117.6L274.3 118.7L275.7 118.4L277.4 119.7L278.1 121.4L276.3 123.4L275.9 125.1L275.9 126.2L275.3 126.6L275.1 127.9L275.3 129L275.6 130.1L275.7 132.2L277.3 135.1L274.9 135.5L274.3 136.4L274.5 138.1L274.3 139.8L275.1 140.6L276.1 140.3L276.1 141.9L275.1 141.9L274.3 140.9L273.1 140.3L272.3 139.9L270.2 139.1L268.5 138.6L266.1 139L266.2 138.1L265.6 136.8L265.7 135.2L265.6 133.9L263.6 133.5L262.6 133.5L262.4 134.8L260.1 134.9L259.1 133.8L258.7 132.1L255.2 132.1L253.1 132.3L253 131.9L254.1 131.9Z" fill="#FF0000" stroke="#FF0000"/>
<path d="M258.7 132.1L259.1 133.8L260.1 134.9L262.4 134.8L262.6 133.5L263.6 133.5L265.6 133.9L265.7 135.2L265.6 136.8L266.2 138.1L266.1 139L268.5 138.6L268.5 141.4L265.9 141.4L265.9 145.6L267.7 147.4L264.5 147.8L261.1 147.1L255.3 147.1L252.4 147L252.4 145.3L253.4 142.7L254.7 140.7L255.1 138.8L254.3 136.8L254 135.5L253.1 132.5L253.1 132.3L253.1 132.3L255.2 132.1ZM254 130.4L254.1 131.9L253 131.9L252.3 130.8L253.6 130.2Z" fill="#D3D3D3" stroke="#D3D3D3"/>
<path d="M261.1 147.1L264.5 147.8L267.7 147.4L268.7 147.3L270.2 147.7L268.9 147.9L267.8 148.6L264.5 148.3L264.5 153.2L263.2 153.2L263.2 156.9L263.2 161.6L261.9 162.2L259.9 162L258.6 161.8L256.9 159.7L256.4 157.1L256 154.5L254.7 151.9L253.4 149.2L252.4 147.3L252.4 147L255.3 147.1Z" fill="#FCBE2E" stroke="#FCBE2E"/>
<path d="M264.5 153.2L264.5 148.3L267.8 148.6L268.9 147.9L270.2 147.7L270.2 148.6L271.4 150L272.8 151.2L273.4 152L273.8 152.7L275.6 153.4L274.1 154.2L272.4 155.3L272.2 156.2L270.6 157.6L269.4 157.8L267.2 157.5L266.6 158.6L265.3 159.5L264.1 159.5L263.2 156.9L263.2 153.2Z" fill="#FCBE2E" stroke="#FCBE2E"/>
<path d="M272.4 147.9L273.2 147.1L274.8 146L275.1 145.3L276.9 144.8L276.9 145.3L278.1 145.3L280.1 146.2L280.3 147.1L280.1 148.6L280.3 150.3L279.5 152.3L278.1 153.7L275.6 153.4L273.8 152.7L273.4 152L272.8 151.2L271.4 150L270.2 148.6L270.2 147.7L271 147.8Z" fill="#FFFF00" stroke="#FFFF00"/>
<path d="M268.5 138.6L270.2 139.1L272.3 139.9L273.1 140.3L274.3 140.9L275.1 141.9L276.1 141.9L276.1 140.3L275.1 140.6L274.3 139.8L274.5 138.1L274.3 136.4L274.9 135.5L277.3 135.1L278 135.6L280.2 136.7L280.7 138.5L280.6 140.7L279.9 142.2L280.6 142.7L276.6 144L276.9 144.8L275.1 145.3L274.8 146L273.2 147.1L272.4 147.9L271 147.8L270.2 147.7L268.7 147.3L267.7 147.4L265.9 145.6L265.9 141.4L268.5 141.4Z" fill="#FF0000" stroke="#FF0000"/>
<path d="M282.4 136.9L282.8 139.3L282.4 139.5L282.8 142L284 143.5L284 145.3L283.2 146.8L282 145.3L282.4 144.4L282.2 143.2L280.6 142.7L279.9 142.2L280.6 140.7L280.7 138.5L280.2 136.7L281.5 136.8Z" fill="#FCBE2E" stroke="#FCBE2E"/>
<path d="M279 158.2L278.9 156.2L278.1 153.7L279.5 152.3L280.3 150.3L280.1 148.6L280.3 147.1L280.1 146.2L278.1 145.3L276.9 145.3L276.9 144.8L276.6 144L280.6 142.7L282.2 143.2L282.4 144.4L282 145.3L283.2 146.8L284 145.3L284 143.5L282.8 142L282.4 139.5L282.8 139.3L284.3 139.5L286.3 139.7L288.2 139L289.8 138.2L290.2 138.8L290.3 141.4L290.6 144L289.3 146L286.3 147.5L284.9 149.2L283 150.6L283.4 153.2L283.6 155.8L281 157.5L280.1 158.4L280.1 159.6L279.1 159.5Z" fill="#FCBE2E" stroke="#FCBE2E"/>
<path d="M286.3 139.7L284.3 139.5L282.8 139.3L282.4 136.9L281.5 136.8L280.2 136.7L278 135.6L277.3 135.1L275.7 132.2L275.6 130.1L276.4 130L277.4 128.6L277 127.5L277.4 125.8L277 125.6L281.5 125.6L286.4 128.3L286.6 129.2L288.5 130.5L288.7 130.5L288.2 131.5L288.6 133.5L288.9 135.5L289.3 137.4L289.8 138.2L288.2 139Z" fill="#D3D3D3" stroke="#D3D3D3"/>
<path d="M286.4 128.3L281.5 125.6L281.6 124.1L282.3 122.9L283 121.8L282.3 120.3L281.6 118.8L284.1 118.3L285.5 118.5L287 119.6L288.9 119.9L290.6 118.8L292 119.2L290.9 120.6L290.9 125.4L291.5 126.4L290.2 127.6L289.1 129.6L288.7 130.4L288.5 130.5L286.6 129.2Z" fill="#FF8C00" stroke="#FF8C00"/>
<path d="M275.9 125.1L276.3 123.4L278.1 121.4L277.4 119.7L279 119.6L280.3 119.2L281.6 118.8L282.3 120.3L283 121.8L282.3 122.9L281.6 124.1L281.5 125.6L277 125.6L275.9 126.2Z" fill="#FFFF00" stroke="#FFFF00"/>
<path d="M277.4 125.8L277 127.5L276.3 127.9L275.1 127.9L275.3 126.6L275.9 126.2L277 125.6Z" fill="#FFFF00" stroke="#FFFF00"/>
<path d="M277 127.5L277.4 128.6L276.4 130L275.6 130.1L275.3 129L275.1 127.9L276.3 127.9Z" fill="#FFFF00" stroke="#FFFF00"/>
<path d="M290.9 120.6L292 119.2L293.4 118.7L294.7 117.9L296.1 117.8L300.1 113.8L298.6 113.8L294.7 112.5L293.2 110L293.8 109.2L294.8 110.5L296.8 110.5L298.8 109.6L301.4 109.5L304.3 108.7L304 110.7L303.4 112.5L302 115.1L300.7 117.5L299.4 119.3L297.4 121.3L295.5 122.6L293.5 124.3L291.7 126.3L291.5 126.4L290.9 125.4Z" fill="#D3D3D3" stroke="#D3D3D3"/>
<path d="M291.9 109.9L291.9 109L292.7 107.9L293.5 107.7L293.9 107.9L293.8 109.2L293.2 110Z" fill="#8B2323" stroke="#8B2323"/>
<path d="M290.6 105.8L288.4 105.2L286.8 104.8L286.3 105.7L284.9 105.6L285.5 102.9L286.3 101.6L287.6 100.8L288.6 103.6L289.5 104.6L291.1 105.3L292.8 107.3L293.5 107.7L292.7 107.9Z" fill="#FF8C00" stroke="#FF8C00"/>
<path d="M286.8 104.8L288.4 105.2L290.6 105.8L292.7 107.9L291.9 109L291.9 109.9L293.2 110L294.7 112.5L298.6 113.8L300.1 113.8L296.1 117.8L294.7 117.9L293.4 118.7L292 119.2L290.6 118.8L288.9 119.9L287 119.6L285.5 118.5L284.1 118.3L283.4 117.2L282.6 115.5L281.3 114.2L280.3 113.8L281.8 113L281.8 111.9L282 110.4L283 109.9L282.8 108.7L284.4 107.7L284.9 105.6L286.3 105.7Z" fill="#FCBE2E" stroke="#FCBE2E"/>
<path d="M279 119.6L277.4 119.7L275.7 118.4L274.3 118.7L273 117.6L271.6 115.7L270.1 114.1L268.7 112.9L269.5 111.5L269.8 110.8L270.9 110.7L271.8 111.9L273.6 111.7L274.8 112L276.4 110.8L278 111.5L279.5 109.9L279.1 108.6L279.9 108.3L280.6 108.3L280.5 110.3L281.5 110.9L281.8 111.9L281.8 113L280.3 113.8L281.3 114.2L282.6 115.5L283.4 117.2L284.1 118.3L281.6 118.8L280.3 119.2Z" fill="#D3D3D3" stroke="#D3D3D3"/>
<path d="M285.5 102.9L284.9 105.6L284.4 107.7L282.8 108.7L283 109.9L282 110.4L281.8 111.9L281.5 110.9L280.5 110.3L280.6 108.3L279.9 108.3L279.1 108.6L279.5 109.9L278 111.5L276.4 110.8L274.8 112L273.6 111.7L271.8 111.9L270.9 110.7L269.8 110.8L269.5 111.5L268.7 112.9L267.8 112.5L268 111.3L267 110L266.5 107.8L265.6 107.5L266.2 106.7L266.6 105.7L267 103.9L268.5 103.7L268.5 98.7L268.5 98.1L269.8 98.1L269.8 95.5L285.3 95.5L285.9 96.8L286 99.4L287.6 100.7L287.6 100.8L286.3 101.6Z" fill="#FF8C00" stroke="#FF8C00"/>
<path d="M270.1 82.9L270.1 82.8L272.4 83.3L275.1 83.8L277 83L279 83.3L279.4 83.4L279.7 85L279.9 86.3L281 87.6L281.6 88.9L282.3 90.2L283.4 92.2L283.9 94.1L285.3 95.5L269.8 95.5L269.8 86Z" fill="#FFFF00" stroke="#FFFF00"/>
<path d="M268.5 98.1L268.5 98.7L258 93.6L256.6 94.1L255.6 94.7L252.7 93.5L252 92.4L250.3 92L249.4 89.8L249.9 88.2L249.8 85.7L249.4 84.7L250.3 83.9L250.5 82.7L252 81.7L252.2 80.8L252.2 80.8L253.4 81.3L255.3 81.5L257 81.9L257.6 83.1L259.9 83.9L261.9 84.6L263.2 83.6L263.2 81.9L265.2 81.2L267.2 81.5L269.8 82.7L270.1 82.8L270.1 82.9L269.8 86L269.8 95.5L269.8 98.1Z" fill="#D3D3D3" stroke="#D3D3D3"/>
<path d="M250.5 82.7L250.3 83.9L249.4 84.7L248.7 82.2L247.8 81.7L246.9 80.4L247.7 78.8L247.8 76.4L248.2 75.9L248.3 75.6L248.7 75.5L250.1 75.4L251.4 75.8L250.7 77.1L251.1 78.4L250.3 79.3L251.4 80.4L252.2 80.7L252.2 80.8L252 81.7Z" fill="#B9FF45" stroke="#B9FF45"/>
<path d="M234.9 78.1L236.9 77.2L238.9 76.4L240.8 76L243.5 76L246.1 75.8L247.4 75.7L248.2 75.9L247.8 76.4L247.7 78.8L246.9 80.4L247.8 81.7L248.7 82.2L249.4 84.7L249.8 85.7L249.9 88.2L249.4 89.8L250.3 92L252 92.4L252.7 93.5L246.8 96.9L244.5 98.7L242.4 99.3L241.2 99.4L241.1 98.3L239.3 97.7L238.5 96.6L230.5 91.5L225.4 88.5L225.4 86.7L227.7 85.6L229.9 85L232 83.8L232.2 82.7L235.2 82.1L235.3 81.7L234.5 79.1L234 78.3L234 78.1Z" fill="#FFFF00" stroke="#FFFF00"/>
<path d="M268.5 98.7L268.5 103.7L267 103.9L266.6 105.7L266.2 106.7L265.6 107.5L266.5 107.8L267 110L265.5 110.4L263.7 112.4L262 112.5L261.8 112.9L260.2 114L258.7 114.2L257.3 114.5L256.9 113.2L255.2 111.7L255.6 111.2L257.3 111.2L256.8 110.2L256.6 109.1L256 107.4L255.6 108.1L254.8 106.3L254.7 105.4L255.2 103.7L257.3 102.1L257 100.8L257.6 98.2L257.8 97.6L256.8 96.4L256.6 94.1L258 93.6Z" fill="#D3D3D3" stroke="#D3D3D3"/>
<path d="M260.2 114L261.8 112.9L262 112.5L263.7 112.4L265.5 110.4L267 110L268 111.3L267.8 112.5L268.7 112.9L270.1 114.1L271.6 115.7L273 117.6L270.2 117.8L269.1 117.6L267 118L266.5 118.9L263.9 118.4L262.6 117.8L261.4 118.7L261.4 119.7L258.9 119.7L258.6 120.6L258.2 122.1L258.1 120.5L256.9 119.2L256.2 118.4L256 117.4L256.4 115.9L257.3 114.5L258.7 114.2Z" fill="#8B2323" stroke="#8B2323"/>
<path d="M261.9 162.2L263.2 161.6L263.2 156.9L264.1 159.5L265.3 159.5L266.6 158.6L267.2 157.5L269.4 157.8L270.6 157.6L272.2 156.2L272.4 155.3L274.1 154.2L275.6 153.4L278.1 153.7L278.9 156.2L279 158.2L278.1 158L277.4 159.1L278 160.1L279 160L279.1 159.5L280.1 159.6L280.2 160.4L279.7 162L278 163.4L276.8 165L274.4 167.4L272.4 168.5L270.7 168.9L267.8 168.9L265.9 169.2L263.2 170L261.2 169.2L260.9 167.4L260.6 166.3L259.7 164.3L258.6 161.8L259.9 162ZM273 164.1L274 164.5L275.1 164.1L275.6 163L274.9 162L273.8 162L272.4 163.2Z" fill="#00FF00" stroke="#00FF00"/>
<path d="M279 160L278 160.1L277.4 159.1L278.1 158L279 158.2L279.1 159.5Z" fill="#B9FF45" stroke="#B9FF45"/>
<path d="M273.8 162L274.9 162L275.6 163L275.1 164.1L274 164.5L273 164.1L272.4 163.2Z" fill="#FCBE2E" stroke="#FCBE2E"/>
<path d="M301.8 140.1L303.4 144.4L302 147.3L300.7 151.2L299.2 156.7L296.5 157.8L294.4 155.8L293.9 153.2L295.2 150.6L294.8 147.3L296.8 145.3L299.4 143.7L300.7 141.8Z" fill="#FF8C00" stroke="#FF8C00"/>
<path d="M307 107.7L308.6 107.8L307.7 108.2Z" fill="#FCBE2E" stroke="#FCBE2E"/>
<path d="M373.9 110.8L374.3 110.7L374.3 110.9ZM372.7 118L372.8 118.4L371.8 117ZM338.9 113.7L337.6 112.5L337.2 111.3L339 113.6ZM309.3 89.3L307.3 89L304.7 87.8L304.4 87.4L310.1 89.1ZM300.3 85.2L300.1 85L300.5 85ZM303.8 91.5L303.8 91.3L303.8 91.9L303.1 90.9L303.2 90.4ZM304.8 91.8L305.1 92L304.8 92L304.8 92.6L304.3 92L304.8 91.5Z" fill="#D3D3D3" stroke="#D3D3D3"/>
<path d="M276.4 45.7L274.4 44.9L273.3 45L273.5 44.9L276.4 43.2L278.4 41.8L277 40.1L276 39.3L276.5 38.1L275.1 36.5L276.4 35.5L274.7 34.8L274.3 33.9L274.9 33.7L277.3 32.8L280.3 33.3L284.9 33.8L290.2 35.4L291.1 36.7L289.5 37.5L286.9 37.5L282.3 36.9L280.3 36.7L282.7 38.4L282.7 39.7L286.3 40.5L286.9 39.7L289.5 39.6L289.8 38L292.2 37.2L295.1 37.5L295.1 35.4L294.2 34.3L297.4 34.7L298.1 36.4L300.7 35.5L306.7 34.4L308.6 34.8L313.2 34.1L316.5 33.8L316.5 32.7L321.8 33.8L325.1 34.1L327.1 34.7L325.1 33.1L325.1 31.2L327.1 29.2L329 28.5L332.3 28.8L332.3 31.2L331.7 33.8L332.3 35.8L334.3 36.4L333.6 34.4L334.3 31.2L335.6 29.2L339.6 29.6L342.8 29.9L342.8 27.9L350.1 27.5L351.4 25.9L358 24.9L365.9 24.2L373.8 22.4L377.7 23.6L384.3 24.2L385.6 26.6L381.7 27.2L385.6 27.5L392.2 28.2L399.4 27.8L404 28.2L407.3 30.5L410.6 30.5L414.6 30.5L421.2 29.2L422.5 28.8L429.1 29.5L434.3 30.5L438.3 31.3L446.2 31.4L448.1 33L452.7 32.9L458 32.6L461.3 33.8L462 32.5L468.5 32.7L473.8 33.9L473.8 39L472.5 39.7L470.5 39.4L471.8 41.3L473.1 42.3L469.9 42.3L465.9 43.2L463.3 44.3L461 45.6L455.4 45.6L452.1 45.9L452.7 47.6L450.8 48.5L451.4 50.5L450.1 52.2L447.5 54.5L445.2 55.8L443.1 57.4L441.8 54.8L441.8 52.2L442.9 49.1L445.5 47.8L448.8 45.6L452.1 43.6L451.7 42.6L447.5 43.6L443.5 43.5L440.2 46.3L435.6 46.5L433 46.1L425.1 46.5L421.2 48.9L417.9 51.8L415.2 52.6L417.9 53.5L421.2 53.5L422.9 54.8L421.8 57.4L421.6 60L419.2 62.9L415.9 65.9L412.6 67.9L410.6 67.6L408.9 68.6L408.8 68.7L408.8 68.7L409.6 67.4L409.6 65.5L412.1 65.1L414.2 61L409.3 61.7L408.8 60.2L404.7 58.5L402.7 55.2L399.4 54.1L395.8 55.4L393.8 58.5L391.9 59.4L390.5 59L386.9 58.5L383 59.6L379.7 59.6L377.1 58.3L371.5 57.9L371.4 57L367.2 56.1L365.6 56.8L365.9 57.9L361.3 58.6L357.3 57.9L353.4 59.4L352.5 59.8L351.8 59.8L349 59.2L346.7 57.4L342.2 57.7L339.4 54.4L337.6 53.2L334 54.1L333.6 53.5L330.6 53.2L330.1 51.8L326.7 52.2L322.7 52.9L321.1 53.1L317.2 53.6L317.1 55.4L317.8 57.7L315.3 58.1L313.9 57.3L310.2 57.9L308.6 57.4L306 56.8L303.8 56.5L301 57.9L299.4 58.2L298.5 59.6L298.8 61.3L301.3 63.3L298.8 64.6L298.8 65.9L299.2 67.5L300.1 69.5L300.4 69.8L299.8 70.3L298 69.3L295.5 68.3L292.8 67.6L289.7 67.4L289.1 67.1L286.9 66.1L285.2 65.1L284.6 65.2L285.3 64.9L285.4 64.8L286.3 64.8L286.9 64L288.5 62.7L287.2 62.5L289.3 61.5L289.7 59.2L286.9 58.9L283.8 58.2L281.4 55.6L278.8 56L278.2 54.5L279.9 54.3L277.4 52.4L277.6 51.4L274 50.6L273.5 49.1L273 48.7L273.2 48.4L273 47.2L273.8 46.3ZM401.5 74.8L402.9 74.9L401.9 74.9ZM301.6 74L301.3 73.9L300.1 73.4L301.4 73.9L301.4 73.9ZM284 78.4L284.1 78.8L283.8 79.2ZM264.5 51.8L264.9 51.8L266.8 52.3L266.9 52.9L263 52.9Z" fill="#FFFF00" stroke="#FFFF00"/>
<path d="M353.9 61.2L355.7 61.7L356.7 62.8L356.5 64.9L360 65.4L362.5 66.2L363.8 68.3L369.6 68.3L375.1 69.7L382.2 68.2L384.3 66.9L384 65.3L386.9 65.3L388.9 64.8L390.5 63.4L392.2 63L394.4 63.2L394.6 62.4L392.9 61.5L391.9 61.7L389.3 61.7L388.9 61.1L390.5 59L391.9 59.4L393.8 58.5L395.8 55.4L399.4 54.1L402.7 55.2L404.7 58.5L408.8 60.2L409.3 61.7L414.2 61L412.1 65.1L409.6 65.5L409.6 67.4L408.8 68.7L407.7 68L405.4 69.2L405.5 70L403.9 69.5L400.6 71.7L400.5 71.9L400.5 71.8L397.5 73.2L396.5 73.2L397.5 71.2L396.1 70.7L393.5 72.8L391.8 73.2L392.9 74.7L395.5 75.1L398.1 75.4L396.1 76.4L393.9 78.1L395.5 79.7L397.2 82.3L397.2 83.6L397.5 85L396.8 86.9L394.8 89.6L393.5 91.1L391.5 93.1L389.6 94.3L386.9 94.9L385 95.7L382.3 96.4L381.7 97.6L381 96.1L379 96L378.9 96.1L377.3 95.5L377.1 94.3L375.5 93.8L374.8 94.4L373.6 94.8L371.8 94.5L371.3 94.9L370.7 96.5L370.1 96.5L370.1 96L368.5 96.1L367.5 95.3L367.6 94L366.9 92.8L365.4 93L365.5 91.5L366.8 90.3L366.8 88.2L365.2 87.2L363.6 85.9L361.9 86L360 86.7L358 87.8L357.6 87.8L356 87.3L354 88.4L353.9 88.5L353.8 87.5L352.8 87.7L350.7 87.6L349.7 87.2L347.7 86.4L346.1 85.5L344.8 84.6L343.5 84.7L341.5 83.6L340.5 83L340.5 81.5L341.3 81.5L340.9 79.3L340 78.9L339.3 77.7L336.8 76.3L335.5 75.6L335.2 75.4L335.6 73.8L334 73.7L333.9 72.6L334.3 71.7L336.4 71.2L338.1 70.5L339.8 70.4L342.5 69L342.7 67.8L342.1 65.4L345.2 64.6L346.1 62.4L349.4 62.5L350.1 60.7L351.8 59.8L352.5 59.8Z" fill="#00FF00" stroke="#00FF00"/>
<path d="M357.3 57.9L361.3 58.6L365.9 57.9L365.6 56.8L367.2 56.1L371.4 57L371.5 57.9L377.1 58.3L379.7 59.6L383 59.6L386.9 58.5L390.5 59L388.9 61.1L389.3 61.7L391.9 61.7L392.9 61.5L394.6 62.4L394.4 63.2L392.2 63L390.5 63.4L388.9 64.8L386.9 65.3L384 65.3L384.3 66.9L382.2 68.2L375.1 69.7L369.6 68.3L363.8 68.3L362.5 66.2L360 65.4L356.5 64.9L356.7 62.8L355.7 61.7L353.9 61.2L352.5 59.8L353.4 59.4Z" fill="#B9FF45" stroke="#B9FF45"/>
<path d="M298.5 59.6L299.4 58.2L301 57.9L303.8 56.5L306 56.8L308.6 57.4L310.2 57.9L313.9 57.3L315.3 58.1L317.8 57.7L317.1 55.4L317.2 53.6L321.1 53.1L322.7 52.9L326.7 52.2L330.1 51.8L330.6 53.2L333.6 53.5L334 54.1L337.6 53.2L339.4 54.4L342.2 57.7L346.7 57.4L349 59.2L351.8 59.8L350.1 60.7L349.4 62.5L346.1 62.4L345.2 64.6L342.1 65.4L342.7 67.8L342.5 69L340.9 68.2L336.5 68L334.6 67.6L333.6 68.6L330.3 68.4L330.2 68.8L327.7 70L327.2 70.9L326.4 70.5L324.7 70.3L324.4 69.3L323.8 69.2L323.9 67.9L322.3 67L318.5 67.2L317.3 66.2L314 64.5L310.6 65.3L310.6 70.1L309 69.3L307.3 69L306.6 69.2L306 68.6L303.1 67.9L304 65.9L306.7 65.3L306.7 63.3L304.7 62.9L301.4 63.3L301.3 63.3L298.8 61.3Z" fill="#FF8C00" stroke="#FF8C00"/>
<path d="M405.5 70L405.4 69.2L407.7 68L408.8 68.7L408.8 68.7L407.6 70.1L406 71.6L404.7 72.5L405.8 73.7L405.8 73.7L404 74.1L402.9 74.9L401.5 74.8L401.4 74.7L401.7 72.5L400.5 71.9L400.6 71.7L403.9 69.5Z" fill="#D3D3D3" stroke="#D3D3D3"/>
<path d="M404 74.1L405.8 73.7L407.2 75.8L407.2 77.5L406 78.5L403.4 79.2L403.1 77.7L403.5 75.8L401.9 74.9L402.9 74.9Z" fill="#B9FF45" stroke="#B9FF45"/>
<path d="M330.3 92.3L330.2 91.3L329.2 90.3L329.4 89.6L328.5 88.6L329.8 87.6L331.5 87.7L332.8 86.3L333.5 85.1L335 83.8L335.1 83.5L336 81.9L335.2 81.7L334.7 81L334.2 79.8L334.3 78.8L336.7 79.1L338.2 78.4L339.3 77.7L340 78.9L340.9 79.3L341.3 81.5L340.5 81.5L340.5 83L341.5 83.6L343.5 84.7L342.7 85.2L342.3 86.5L343.8 87.1L345.7 88.1L347.6 88.4L349 89.2L350.1 89.4L351.8 89.7L352.8 89.7L352.8 87.7L353.8 87.5L353.9 88.5L354 89.2L355.7 89.2L358 89.2L358.1 88.4L357.6 87.8L358 87.8L360 86.7L361.9 86L363.6 85.9L365.2 87.2L365 88L363.5 88.5L362.2 89.4L361.4 91.3L361.5 92L360.7 93L359.8 92.8L359.7 94.3L359.6 95.2L358.8 95.6L358.4 94.1L356.9 94.1L356.9 92.7L358.4 91.7L358.5 91.4L355.9 91.3L355.1 91.1L355.1 90.2L353.4 89.6L352.8 90.5L353.9 91.3L352.8 92.2L353.8 92.7L353.6 93.9L354 95.5L353.9 95.7L352.1 96.1L351.4 97.2L350.5 98.2L348.8 99L346.8 101L345.2 102.4L343.2 103.6L342.3 105.3L342.5 107.3L342.1 109.2L341.9 110.8L340.9 112.1L339.8 112.6L339 113.6L337.2 111.3L336.7 109.5L335.3 107.3L334.3 104.6L333.4 102L332.7 99.4L332.6 96.8L332.3 95.5L329.4 97L327.7 95.2L329.4 94.1L327.1 93.5L326.6 93.3L326.7 93.2L327.4 92.4Z" fill="#00FF00" stroke="#00FF00"/>
<path d="M346.1 85.5L347.7 86.4L349.7 87.2L350.7 87.6L352.8 87.7L352.8 89.7L351.8 89.7L350.1 89.4L349 89.2L347.6 88.4L345.7 88.1L343.8 87.1L342.3 86.5L342.7 85.2L343.5 84.7L344.8 84.6Z" fill="#FFFF00" stroke="#FFFF00"/>
<path d="M356 87.3L357.6 87.8L358.1 88.4L358 89.2L355.7 89.2L354 89.2L353.9 88.5L354 88.4Z" fill="#FFFF00" stroke="#FFFF00"/>
<path d="M353.8 92.7L352.8 92.2L353.9 91.3L352.8 90.5L353.4 89.6L355.1 90.2L355.1 91.1L355.9 91.3L358.5 91.4L358.4 91.7L356.9 92.7L356.9 94.1L358.4 94.1L358.8 95.6L358.5 96.7L358 95.5L356.7 94.5L355.7 95.5L354 95.7L354 95.5L353.6 93.9Z" fill="#FF8C00" stroke="#FF8C00"/>
<path d="M320.2 89.3L319.6 88.6L319.6 87.3L318.4 86.9L317.1 85.1L319.2 85.7L321.1 85.6L324.3 85.1L324.9 83.3L326.7 82.6L328.1 82.5L328.1 81.2L329.4 80.6L328.9 79.7L330.5 79.6L331.1 78.5L330.6 77.1L332.3 76L334.4 76L335.5 75.6L336.8 76.3L339.3 77.7L338.2 78.4L336.7 79.1L334.3 78.8L334.2 79.8L334.7 81L335.2 81.7L336 81.9L335.1 83.5L335 83.8L333.5 85.1L332.8 86.3L331.5 87.7L329.8 87.6L328.5 88.6L329.4 89.6L329.2 90.3L330.2 91.3L330.3 92.3L327.4 92.4L326.7 93.2L326.5 93.2L325.7 92.8L324.7 91.5L321.8 91.3L318 91.3L318.2 89.9Z" fill="#D3D3D3" stroke="#D3D3D3"/>
<path d="M319.8 77.9L321.8 76.7L323.2 75.4L324.4 75.3L326.1 75.5L328.1 75.5L329.6 74.1L330.6 73.9L331 74.6L331.4 76.2L333.4 75.3L335.2 75.4L335.5 75.6L334.4 76L332.3 76L330.6 77.1L331.1 78.5L330.5 79.6L328.9 79.7L329.4 80.6L328.1 81.2L328.1 82.5L326.7 82.6L324.9 83.3L324.3 85.1L321.1 85.6L319.2 85.7L317.1 85.1L318.2 83.9L317.1 83L316.5 79.7L317.4 76.3L317.4 77.6Z" fill="#D3D3D3" stroke="#D3D3D3"/>
<path d="M309 69.3L310.6 70.1L311.9 70.1L314 68.3L315.9 69L316 70L318.4 70.4L319 71.8L321.7 73.3L324.4 74.5L324.4 75.3L323.2 75.4L321.8 76.7L319.8 77.9L317.4 77.6L317.4 76.3L314.9 75.1L312.3 74.2L310.6 74.3L307.8 75.4L307.5 75.3L308 75.1L306.7 72.5L307.7 70.5L306.6 69.2L307.3 69Z" fill="#D3D3D3" stroke="#D3D3D3"/>
<path d="M314 64.5L317.3 66.2L318.5 67.2L322.3 67L323.9 67.9L323.8 69.2L324.4 69.3L324.7 70.3L326.4 70.5L327.2 70.9L327.7 70L330.2 68.8L330.7 69L329.7 69.9L331.3 69.9L333 70.8L331.3 71.6L329.7 71.4L329.8 70.7L328.1 70.8L327.2 71.6L327.7 72L325.6 72.9L326.9 74.2L326.1 75.5L324.4 75.3L324.4 74.5L321.7 73.3L319 71.8L318.4 70.4L316 70L315.9 69L314 68.3L311.9 70.1L310.6 70.1L310.6 65.3Z" fill="#D3D3D3" stroke="#D3D3D3"/>
<path d="M333.6 68.6L334.6 67.6L336.5 68L340.9 68.2L342.5 69L339.8 70.4L338.1 70.5L336.4 71.2L334.3 71.7L333.9 72.6L331.7 72.6L329.7 72.4L328.1 72.4L328.1 71.6L329.7 71.4L331.3 71.6L333 70.8L331.3 69.9L329.7 69.9L330.7 69L330.2 68.8L330.3 68.4Z" fill="#FCBE2E" stroke="#FCBE2E"/>
<path d="M325.6 72.9L327.7 72L327.2 71.6L328.1 70.8L329.8 70.7L329.7 71.4L328.1 71.6L328.1 72.4L329.7 72.4L331.7 72.6L333.9 72.6L334 73.7L335.6 73.8L335.2 75.4L333.4 75.3L331.4 76.2L331 74.6L330.6 73.9L329.6 74.1L328.1 75.5L326.1 75.5L326.9 74.2Z" fill="#FCBE2E" stroke="#FCBE2E"/>
<path d="M359.6 95.2L359.7 94.3L359.8 92.8L360.7 93L361.5 92L361.4 91.3L362.2 89.4L363.5 88.5L365 88L365.2 87.2L366.8 88.2L366.8 90.3L365.5 91.5L365.4 93L366.9 92.8L367.6 94L367.5 95.3L368.5 96.1L370.1 96L370.1 96.5L369.2 97.7L368.6 97.6L367.9 97.7L367.1 98.3L365.6 98.6L365.1 100L366.7 102.7L366.1 104.4L367.3 106.2L367.5 107.8L368 108.8L366.9 110.7L366.5 111.2L366.8 108.6L365.9 106L365.5 103.3L364.8 102.3L363.2 102.7L362.3 103.6L361 103.1L361.3 100.7L360.2 98.7L358.6 97L358.5 96.7L358.8 95.6Z" fill="#FF8C00" stroke="#FF8C00"/>
<path d="M368 108.8L367.5 107.8L367.3 106.2L366.1 104.4L366.7 102.7L365.1 100L365.6 98.6L367.1 98.3L367.9 97.7L368.6 97.6L369.3 98.7L370.2 98.7L369.8 100.2L370.1 101.4L371.3 100.4L372.5 100.2L373.8 100.3L374.7 101.4L374.8 102.8L375.9 103.7L375.7 105.3L375.4 105.6L372.5 105.6L371.7 106.5L372.3 109L372.3 109.1L372.2 109L371.1 107.9L369.7 106.7L368.5 106.9L368.2 109.2L367.5 111.5L368.8 113.2L369.6 115.1L371.1 116.2L371.2 116.2L370 116.8L368.8 116.1L368.8 115.8L367.9 114.9L366.3 113.6L366.5 111.2L366.9 110.7Z" fill="#00FF00" stroke="#00FF00"/>
<path d="M370.1 96.5L370.7 96.5L371.3 94.9L372.3 95.8L372.6 97L374.6 97.3L373.8 98.7L375.4 100L377.1 102.1L378.3 103.3L378.5 104.5L378.4 105L376.4 105.6L375.4 105.6L375.7 105.3L375.9 103.7L374.8 102.8L374.7 101.4L373.8 100.3L372.5 100.2L371.3 100.4L370.1 101.4L369.8 100.2L370.2 98.7L369.3 98.7L368.6 97.6L369.2 97.7Z" fill="#D3D3D3" stroke="#D3D3D3"/>
<path d="M372.5 105.6L375.4 105.6L376.4 105.6L378.4 105L378.5 106.7L378.4 108.2L376.3 109L376.7 109.9L375.2 110L374.3 110.7L373.9 110.8L373.1 110.4L372.3 109.2L372.3 109L371.7 106.5Z" fill="#D3D3D3" stroke="#D3D3D3"/>
<path d="M375.2 110L376.7 109.9L376.3 109L378.4 108.2L378.5 106.7L378.4 105L378.5 104.5L378.3 103.3L377.1 102.1L375.4 100L373.8 98.7L374.6 97.3L372.6 97L372.3 95.8L371.3 94.9L371.8 94.5L373.6 94.8L374.8 94.4L375.5 93.8L377.1 94.3L377.3 95.5L378.9 96.1L377.3 97.4L376.1 99.4L377.1 101.1L379.4 103.3L380.8 106.6L380.6 109L378.4 110.5L377.3 111.9L375.1 112.9L374.8 111.2L374.3 110.9L374.3 110.7Z" fill="#FFFF00" stroke="#FFFF00"/>
<path d="M371.2 116.2L371.8 117L372.8 118.4L373.1 120.4L374 122.4L373.1 122.5L371.1 121.3L370.2 120.4L369.2 117.8L368.8 116.1L370 116.8Z" fill="#FFFF00" stroke="#FFFF00"/>
<path d="M295.3 72.6L295.9 72.2L295.9 72.6L296.7 73.2L297.6 73.3L298.1 73.3L298.8 72.8L300.5 72.6L300.1 73.4L301.3 73.9L301.6 74L302.7 75.3L305.3 76L307.5 75.3L307.8 75.4L310.6 74.3L312.3 74.2L314.9 75.1L317.4 76.3L316.5 79.7L317.1 83L318.2 83.9L317.1 85.1L318.4 86.9L319.6 87.3L319.6 88.6L320.2 89.3L318.2 89.9L318 91.3L317.8 91.3L314.6 91L312.3 90.6L311.7 88.9L310.1 89.1L304.4 87.4L303.4 86L302 84.7L301 84.6L300.7 84.8L299.7 83.6L299.7 81.9L297.7 80.8L296.9 78.9L297.6 77.5L296.5 77.1L295.9 75.5L295.2 73.9Z" fill="#B9FF45" stroke="#B9FF45"/>
<path d="M271.9 70.1L271.6 69.6L272.8 69.1L273.6 69.2L273.8 69.7L275.3 70.3L278.1 70.4L280.7 69.2L283.2 69.2L284.9 70.1L287.6 70.7L289.9 70.5L291.5 69.9L291.5 69.9L293.2 69.9L294.2 70.4L294.4 71.6L295.9 72.2L295.3 72.6L295.2 73.9L295.9 75.5L292.7 75.6L290.5 75.6L287.6 75.9L285.7 76.2L285.1 76.8L284.5 77.2L284.3 77.2L284.5 76.3L282.3 76.2L279.7 77L277.2 76L275.1 76.4L272.8 75.8L272.4 73.8L271.5 72.5L271.4 71.8L271.1 70.9L271.5 70.7Z" fill="#FF8C00" stroke="#FF8C00"/>
<path d="M295.5 68.3L298 69.3L298.2 70.3L296.1 70.1L294.2 70.4L293.2 69.9L291.5 69.9L291.5 69.9L291.8 69.7L291.5 68.3L289.7 67.4L292.8 67.6Z" fill="#D3D3D3" stroke="#D3D3D3"/>
<path d="M296.9 70.8L297.3 71.6L298.1 72.5L298.1 73.3L297.6 73.3L296.8 72.5L295.9 72.2L294.4 71.6L294.2 70.4L296.1 70.1Z" fill="#FCBE2E" stroke="#FCBE2E"/>
<path d="M302 71.4L301.4 73.8L301.4 73.9L301.4 73.9L300.1 73.4L300.5 72.6L298.8 72.8L298.1 73.3L298.1 72.5L297.3 71.6L296.9 70.8L296.1 70.1L298.2 70.3L298 69.3L299.8 70.3L300.4 69.8ZM296.7 73.2L295.9 72.6L295.9 72.2L296.8 72.5L297.6 73.3Z" fill="#FCBE2E" stroke="#FCBE2E"/>
<path d="M285.1 76.8L285.7 76.2L287.6 75.9L290.5 75.6L292.7 75.6L291.3 76.6L291.3 77.6L290.9 79.2L288 80.5L285.3 81.9L284 81.4L284 80.6L285.1 79.4L284.7 78.9L284.1 78.8L284 78.4L284.1 77.7L284.3 77.2L284.5 77.2Z" fill="#D3D3D3" stroke="#D3D3D3"/>
<path d="M284.7 78.9L285.1 79.4L284 80.6L283.2 80.9L283.6 79.8L283.8 79.2L284.1 78.8Z" fill="#D3D3D3" stroke="#D3D3D3"/>
<path d="M282.8 81.7L283.2 80.9L284 80.6L284 81.4L283.8 81.8L283.6 83L283.5 83.8L282.9 85.6L282 83.3L282 83Z" fill="#D3D3D3" stroke="#D3D3D3"/>
<path d="M283.6 83L283.8 81.8L284 81.4L285.3 81.9L288 80.5L288.5 82.1L285.6 83L286.9 84.3L286.3 85L285.2 85.1L284.4 86L283 85.9L282.9 85.6L283.5 83.8Z" fill="#FF8C00" stroke="#FF8C00"/>
<path d="M296.5 77.1L297.6 77.5L296.9 78.9L297.7 80.8L299.7 81.9L299.7 83.6L300.7 84.8L300.5 85L300.1 85L299.7 84.8L298.2 86.1L295.7 86L292.2 83.5L290.1 82.5L288.5 82.1L288 80.5L290.9 79.2L291.3 77.6L291.3 76.6L292.7 75.6L295.9 75.5Z" fill="#FF8C00" stroke="#FF8C00"/>
<path d="M300.1 85L300.3 85.2L300.1 85.4L300.6 86.7L300.6 86.8L299.4 86.9L298.2 86.1L299.7 84.8Z" fill="#D3D3D3" stroke="#D3D3D3"/>
<path d="M285.2 85.1L286.3 85L286.9 84.3L285.6 83L288.5 82.1L290.1 82.5L292.2 83.5L295.7 86L298.2 86.1L299.4 86.9L300.6 86.8L300.7 86.9L300.7 86.9L302 88.5L302.7 89.6L303.2 90.4L303.1 90.9L303.8 91.9L304.3 92L304.8 92.6L304.8 94.3L306.1 94.3L309.5 94.5L310.2 95.5L309.3 98.1L305.3 99.4L301.4 99.9L299.4 101.9L298.4 101.6L296.4 101.5L294.8 101.5L293.9 101.4L293.6 102.4L293.2 102.8L293.1 102.8L293.1 102.7L291.5 100.7L290.2 98.7L288.5 96.4L287.8 94.1L286.3 92.4L285.2 90.2L283.4 87.7L282.9 86L283 85.9L284.4 86Z" fill="#FF8C00" stroke="#FF8C00"/>
<path d="M293.9 101.4L294.8 101.5L296.4 101.5L298.4 101.6L299.4 101.9L301.4 99.9L305.3 99.4L306.8 102.5L306.8 102.6L306.7 102.7L305.6 103.9L302.7 104.9L300.7 106L298.1 106.7L296.1 107.5L294.2 107.7L293.8 106.9L293.2 104.6L293.1 103.1L293.2 102.8L293.6 102.4Z" fill="#FCBE2E" stroke="#FCBE2E"/>
<path d="M309.3 98.1L310.2 95.5L309.5 94.5L310.3 92.6L311 91.7L311.1 91.7L311.1 91.8L312.6 93.1L314.2 93.4L315.6 94.8L314.2 97.4L313 99.4L311.3 100.7L309.3 102L306.9 102.6L306.8 102.5L305.3 99.4ZM310.7 90.2L311 89.9L311 90.6L310.7 90.6Z" fill="#FCBE2E" stroke="#FCBE2E"/>
<path d="M305.1 92L306 92.6L308 92.6L309.9 91.1L310.7 90.2L310.7 90.6L311 90.6L311.1 91.4L311 91.7L310.3 92.6L309.5 94.5L306.1 94.3L304.8 94.3L304.8 92.6L304.8 92Z" fill="#D3D3D3" stroke="#D3D3D3"/>
<path d="M304 90.2L304.7 90.2L304.8 91.5L304.3 92L303.8 91.9L303.8 91.3Z" fill="#D3D3D3" stroke="#D3D3D3"/>
<path d="M282.9 85.9L282.8 85.7L282.2 87.6L281.9 88L280.6 86.8L279.8 85.1L279.4 83.4L280.3 83.5L281.9 83.3L281.9 83.2L282 83.3L282.9 85.6Z" fill="#FFFF00" stroke="#FFFF00"/>
<path d="M275.5 33.4L274.3 32.7L273.6 32.3L271.1 32.9L270.7 33.8L269.7 34.3L268.1 34.1L266.4 34.2L265.3 33.4L264 33.7L263.2 34.6L260.7 34.4L260.5 35.2L258.5 35.8L258.1 36.4L257.2 37.3L256 37.6L256 38.6L254.9 39.6L255.5 39.8L255.2 40.4L252.8 40.9L253 41.7L253.1 43.2L253.9 43.9L253 44.3L253.5 45.1L252.4 45.7L252.3 46.6L251.6 46.8L251.6 46.9L250.7 46.3L249.4 47.2L247.4 48.1L245.5 48L243.9 46.5L243.5 44.3L243.7 42.7L246.1 41.7L249.4 40.7L251.4 39.3L253.4 37.7L254.7 35.8L256.6 34.7L258.6 33.8L261.2 32.7L264.5 32.2L267.8 31.4L270.9 31L274.4 31.2L277.7 32.1L277 32.7L277.3 32.8L274.9 33.7Z" fill="#006400" stroke="#006400"/>
<path d="M252.4 45.7L253.5 45.1L253 44.3L253.9 43.9L253.1 43.2L253 41.7L252.8 40.9L255.2 40.4L255.5 39.8L254.9 39.6L256 38.6L256 37.6L257.2 37.3L258.1 36.4L258.5 35.8L260.5 35.2L260.7 34.4L263.2 34.6L264 33.7L265.9 34.4L268 35.2L268 36L268.5 36.7L268.4 37.5L268.7 38L265.9 38.3L264.9 39.7L261.9 41.4L259.9 43L259.5 44.3L261.2 45.6L261.6 46.5L258.9 47.6L258.6 49.5L257.7 50.7L255.7 51.1L254 51.6L253.6 50.6L252.4 48.7L251.6 46.9L251.6 46.9L251.6 46.8L252.3 46.6Z" fill="#FFFF00" stroke="#FFFF00"/>
<path d="M266.4 34.2L268.1 34.1L269.7 34.3L270.7 33.8L271.1 32.9L273.6 32.3L274.3 32.7L275.5 33.4L274.9 33.7L274.3 33.9L274.7 34.8L276.4 35.5L275.1 36.5L276.5 38.1L276 39.3L277 40.1L278.4 41.8L276.4 43.2L273.5 44.9L273.3 45L271.1 45.1L267.2 45.7L265.2 44.7L264.9 43L264.8 41.7L268.5 39.7L270.2 38.6L268.7 38L268.4 37.5L268.5 36.7L268 36L268 35.2L265.9 34.4L264 33.7L265.3 33.4Z" fill="#00FF00" stroke="#00FF00"/>
<path d="M273.2 48.4L273 48.7L271.1 48.5L269.8 48.2L268.9 48.4L268.9 47.8L267.8 46.6L270.5 46.1L273.8 46.3L273 47.2Z" fill="#FCBE2E" stroke="#FCBE2E"/>
<path d="M271.1 48.5L273 48.7L273.5 49.1L274 50.6L271.9 51.2L269.8 50.3L265.9 50.3L264.5 50.7L264.5 49.8L265.5 48.7L267.8 49.5L268.9 49.1L268.9 48.4L269.8 48.2Z" fill="#00FF00" stroke="#00FF00"/>
<path d="M269.8 50.3L271.9 51.2L272.2 51.8L270.9 52.3L270.9 53.2L269 53.6L267.8 53.6L266.9 52.9L266.8 52.3L264.9 51.8L264.5 51.8L264.5 50.7L265.9 50.3Z" fill="#00FF00" stroke="#00FF00"/>
<path d="M270.9 53.2L270.9 52.3L272.2 51.8L271.9 51.2L274 50.6L277.6 51.4L277.4 52.4L279.9 54.3L278.2 54.5L278.8 56L277 57L275.1 56.8L272.4 56.6L269.8 56.2L268 56.8L268 56L267.4 55.7L268.4 55.2L267.8 53.6L269 53.6Z" fill="#D3D3D3" stroke="#D3D3D3"/>
<path d="M268 56.8L269.8 56.2L272.4 56.6L275.1 56.8L277 57L278.8 56L281.4 55.6L283.8 58.2L286.9 58.9L289.7 59.2L289.3 61.5L287.2 62.5L284.9 63L283 63.7L283.4 64.8L284.9 64.8L285.4 64.8L285.3 64.9L284.6 65.2L283.6 65.3L281.6 66.1L281 65.3L279.9 64.2L277.7 63.2L276.4 64.2L276 64.9L276 64.9L274 64.6L274.9 63.8L276.4 63.4L275.3 62L275.3 61.3L273.5 60.7L271.9 61L269.7 61.7L267 61.3L266 60.8L266.6 59.9L268.6 57.7Z" fill="#00FF00" stroke="#00FF00"/>
<path d="M275.3 61.3L275.3 62L276.4 63.4L274.9 63.8L274 64.6L273.9 63.7L272.8 62L271.9 61L273.5 60.7Z" fill="#8B2323" stroke="#8B2323"/>
<path d="M246 66.1L246.1 65L245.8 64.2L246.1 64.1L247.3 64.1L248 63.4L248.7 64.2L249.1 63.3L250.2 63.7L250.6 63.2L250.7 62.8L251.4 62.9L252.8 62.5L253.2 63L254.9 63.3L254.5 63.7L254.8 64.2L255.1 64.5L255 64.5L254.9 64.5L253.1 64.9L253.2 66.2L254.8 67.2L255.6 68.6L258 69.3L259.9 70.8L261.2 71.7L261 72.1L259.3 71.3L258.7 72.2L259.4 73.2L258.6 73.9L258 74.6L257.4 74.3L258 73.2L257.3 71.8L256 71.1L254.7 70.3L253.1 69.6L251.4 68.6L250.5 67.2L249.4 66.3L248.4 66.1L246.8 66.9L247 66.3Z" fill="#B9FF45" stroke="#B9FF45"/>
<path d="M228.2 69.3L228.7 69.7L227.8 70.5L227.8 71.6L227.7 72.2L227 72.4L227.7 73L227.3 73.9L227.7 74.2L227 75.1L227.2 75.5L227.2 75.6L225.3 75.8L225.3 73.8L224.4 73.4L225.2 71.6L225.4 69.9L225.3 69.3L226.1 69.1Z" fill="#00FF00" stroke="#00FF00"/>
<path d="M236.2 68.2L237.8 68.2L239.1 68.6L240.9 68.7L240.9 68.7L241.1 69.5L239.8 70.1L238 70.8L236.5 72.5L237 73.4L236.1 74.5L234.5 75.8L233.9 76L231.1 76.2L229.8 77L228.6 76.3L227.7 75.5L227.2 75.6L227.2 75.5L227 75.1L227.7 74.2L227.3 73.9L227.7 73L227 72.4L227.7 72.2L227.8 71.6L227.8 70.5L228.7 69.7L228.2 69.3L226.1 69.1L225.3 69.3L224.8 67.9L226.4 67L229 67.1L231.9 67.2L234.5 67.4L234.5 67.5Z" fill="#006400" stroke="#006400"/>
<path d="M234.5 67.4L235.3 65.8L235.3 64L233.9 62.4L231.2 61.5L230.7 60.8L233 60.3L234.8 60.4L234.7 59.1L236.6 59.6L238.9 58.6L239.1 57.5L240.1 57.2L240.2 57.3L240.7 57.8L241.1 58.1L242.3 58.3L242.4 58.7L243.2 58.6L243.3 59L244.5 59.4L245.3 59.4L245.7 59.8L247.7 60L246.9 61.2L246.9 61.9L246 62.3L244.9 63.2L244.9 63.7L245.8 63.4L246.1 64.1L245.8 64.2L246.1 65L246 66.1L247 66.3L246.8 66.9L244.8 67.8L243.2 67.4L241.5 67.5L240.8 68.6L240.9 68.7L239.1 68.6L237.8 68.2L236.2 68.2L234.5 67.5L234.5 67.4Z" fill="#006400" stroke="#006400"/>
<path d="M241.2 56.9L241.3 56.9L241.4 57L242.6 56.9L243.5 56.9L244.5 57.1L244.4 57.7L244.8 57.7L245.2 58.1L244.9 58.6L244.5 58.7L244.5 59.4L243.3 59L243.2 58.6L242.4 58.7L242.3 58.3L241.1 58.1L240.7 57.8L240.2 57.3L240.3 57.2Z" fill="#FCBE2E" stroke="#FCBE2E"/>
<path d="M244.9 58.6L245.5 59L245.3 59.4L244.5 59.4L244.5 58.7Z" fill="#D3D3D3" stroke="#D3D3D3"/>
<path d="M242.4 55.8L243.2 54.8L244.8 54.3L246.1 54.2L246.4 54.5L246.2 55.3L245.7 55.4L245.8 56.2L244.8 56.4L244.9 57.1L244.8 57.7L244.4 57.7L244.5 57.1L243.5 56.9L242.6 56.9L241.4 57L241.3 56.9Z" fill="#006400" stroke="#006400"/>
<path d="M246.4 54.1L248.1 53.7L248.4 52.8L248.1 52.3L248.2 52.3L249.8 52.4L249.8 52.4L251.4 53.2L253.1 53.1L255.6 53.5L255.6 53.6L255.6 54.8L256.2 56L256.4 57.5L255.7 57.4L253.9 58.2L253 58.5L253.4 59.4L255.1 60.4L253.9 61.1L254 62L253 61.9L251.4 62.1L249.5 62L248.1 61.7L246.9 61.9L246.9 61.2L247.7 60L245.7 59.8L245.3 59.4L245.5 59L244.9 58.6L245.2 58.1L244.8 57.7L244.9 57.1L244.8 56.4L245.8 56.2L245.7 55.4L246.2 55.3L246.4 54.5L246.1 54.2Z" fill="#00FF00" stroke="#00FF00"/>
<path d="M247.8 51.5L247.7 49.8L249.4 49.3L250.7 48.6L250.7 50.5L250.1 51.8L249.8 52.4L248.2 52.3L248.1 52.3Z" fill="#B9FF45" stroke="#B9FF45"/>
<path d="M246 62.3L246.9 61.9L248.1 61.7L249.5 62L249.5 62.5L250.7 62.8L250.6 63.2L250.2 63.7L249.1 63.3L248.7 64.2L248 63.4L247.3 64.1L246.1 64.1L245.8 63.4L244.9 63.7L244.9 63.2Z" fill="#00FF00" stroke="#00FF00"/>
<path d="M253 61.9L254 62L253.9 61.1L255.1 60.4L256.2 60.6L256.6 60L259.1 60.6L259.5 61.3L259.4 61.7L258.6 62.1L258.1 62.8L257.4 63L256.1 63.4L254.9 63.3L253.2 63L252.8 62.5L251.4 62.9L250.7 62.8L249.5 62.5L249.5 62L251.4 62.1Z" fill="#006400" stroke="#006400"/>
<path d="M255.7 57.4L256.4 57.5L258.2 57.8L258.9 58.6L260.2 58.3L261.8 59.4L260.9 59.6L259.1 60.6L256.6 60L256.2 60.6L255.1 60.4L253.4 59.4L253 58.5L253.9 58.2Z" fill="#B9FF45" stroke="#B9FF45"/>
<path d="M255.6 53.5L258.6 52.8L261.2 52.6L263 52.9L266.9 52.9L267.8 53.6L268.4 55.2L267.4 55.7L268 56L268 56.8L268.6 57.7L266.6 59.9L265.2 59.5L263.2 59.8L261.8 59.4L260.2 58.3L258.9 58.6L258.2 57.8L256.4 57.5L256.2 56L255.6 54.8L255.6 53.6L255.6 53.5Z" fill="#B9FF45" stroke="#B9FF45"/>
<path d="M261.8 59.4L263.2 59.8L265.2 59.5L266.6 59.9L266 60.8L263.6 61L261.6 61.6L259.5 61.3L259.1 60.6L260.9 59.6Z" fill="#00FF00" stroke="#00FF00"/>
<path d="M259.4 61.7L259.5 61.3L261.6 61.6L263.6 61L266 60.8L267 61.3L266 61.9L264.8 63.4L263.6 63.7L261.6 64.1L260.1 64.1L258.7 63.3L258.1 62.8L258.6 62.1Z" fill="#00FF00" stroke="#00FF00"/>
<path d="M256.1 63.4L257.4 63L258.1 62.8L258.7 63.3L257.6 63.7L257.4 64.2L257 64.6L256.1 64.5L255.2 64.7L255 64.5L255.1 64.5L254.8 64.2L254.5 63.7L254.9 63.3Z" fill="#006400" stroke="#006400"/>
<path d="M257 64.6L257.4 64.2L257.6 63.7L258.7 63.3L260.1 64.1L261.6 64.1L262.4 65L261.9 65.4L259.3 65L257.7 65L257.7 65.7L258.4 66.5L260.1 67.8L261.2 68.4L261.2 68.6L259.3 67.6L257 66.3L255.7 65L255.2 64.7L256.1 64.5Z" fill="#00FF00" stroke="#00FF00"/>
<path d="M261.9 65.4L262.4 66.2L262.7 66.7L262.2 67.2L261.5 67.6L261.2 68.4L260.1 67.8L258.4 66.5L257.7 65.7L257.7 65L259.3 65Z" fill="#D3D3D3" stroke="#D3D3D3"/>
<path d="M265.1 65L265.2 65.5L266.5 65.8L266.8 66.3L266.4 67.4L267.2 67.8L266.4 68.7L265.2 69L264 69.3L263.4 68.4L263.7 67.9L262.2 67.2L262.7 66.7L262.4 66.2L261.9 65.4L262.4 65L261.6 64.1L263.6 63.7Z" fill="#FFFF00" stroke="#FFFF00"/>
<path d="M261.5 67.6L262.2 67.2L263.7 67.9L263.4 68.4L262.7 68.6L262.4 69.3L262.2 69.3L261.2 68.6L261.2 68.4Z" fill="#00FF00" stroke="#00FF00"/>
<path d="M263.4 68.4L264 69.3L263.9 70.3L264.5 70.8L264.1 71.7L263.3 72.2L262.4 71.2L262.6 69.6L262.4 69.5L262.4 69.3L262.7 68.6Z" fill="#D3D3D3" stroke="#D3D3D3"/>
<path d="M266.4 68.7L267.2 70L266.9 70.1L265.7 70.4L264.5 70.8L263.9 70.3L264 69.3L265.2 69Z" fill="#D3D3D3" stroke="#D3D3D3"/>
<path d="M264.5 70.8L265.7 70.4L266.9 70.1L267.2 70L269.1 69.9L271.3 70L271.6 69.6L271.9 70.1L271.5 70.7L271.1 70.9L268.5 70.8L268.5 71.8L266.9 71.3L267.2 72.8L268.5 74.2L267.4 74.7L267.4 76.4L266.2 76.3L265.3 75.9L264.8 74.7L264.5 73.8L263.5 72.5L263.3 72.2L264.1 71.7Z" fill="#00FF00" stroke="#00FF00"/>
<path d="M270.3 67L272.4 66.5L274.4 67L273.8 67.9L273.4 68.6L273.6 69.2L272.8 69.1L271.6 69.6L271.3 70L269.1 69.9L267.2 70L266.4 68.7L267.2 67.8L266.4 67.4L266.8 66.3L266.5 65.8L267 66.7Z" fill="#00FF00" stroke="#00FF00"/>
<path d="M269.7 61.7L271.9 61L272.8 62L273.9 63.7L274 64.6L276 64.9L276 65L275.9 65.3L274.7 66.6L274.4 67L272.4 66.5L270.3 67L267 66.7L266.5 65.8L265.2 65.5L265.1 65L263.6 63.7L264.8 63.4L266 61.9L267 61.3Z" fill="#D3D3D3" stroke="#D3D3D3"/>
<path d="M0 33.9L6.6 35.8L11.8 36.7L13.6 37.6L9.9 39.8L8.6 40L5.9 39.3L2.6 38.4L0 39Z" fill="#FFFF00" stroke="#FFFF00"/>
<path d="M229.4 58.7L231 57.3L232.7 56.9L230.1 56.4L231.2 55.4L231 54.4L233 53.7L232.6 52.3L230.6 52.2L229.7 50.6L229 48.9L230.3 47.4L232.7 47.4L232.3 48.6L234.3 48.9L234 50.8L234.9 51.9L236.6 53.2L237.3 54.8L239 55.2L238.6 57.3L234.9 57.8L232.3 58.3Z" fill="#B9FF45" stroke="#B9FF45"/>
<path d="M223.7 53.2L225.7 52.9L226.1 51.9L227.3 51.9L227.3 52.2L226.5 52.6L226.1 52.8L227.3 53.3L228.6 53.3L229.5 53.2L229 54.1L228.6 55.8L226.4 56.5L223.7 56.6L223.5 55.8L224.4 54.5Z" fill="#006400" stroke="#006400"/>
<path d="M226.5 52.6L227.3 52.2L227.3 51.9L228.6 51.9L229.7 52.8L229.5 53.2L228.6 53.3L227.3 53.3L226.1 52.8Z" fill="#B9FF45" stroke="#B9FF45"/>
<path d="M204.9 38.4L207.3 37.2L209.3 38.3L213.2 37.5L217.2 37.3L218.9 38.4L218.5 39.4L215.8 40.4L211.9 41.1L207.3 40.5L207.9 40Z" fill="#00FF00" stroke="#00FF00"/>
<path d="M251.4 19.8L258 19.4L260.6 19.6L265.2 21.2L261.9 22L259.3 23.8L256.6 23.7L254 22Z" fill="#006400" stroke="#006400"/>
<path d="M261.2 19.1L268.5 18.7L272.4 19.5L265.9 20.3Z" fill="#006400" stroke="#006400"/>
<path d="M264.5 22.6L264.5 21.7L267.2 21.7L268.5 22.9Z" fill="#006400" stroke="#006400"/>
<path d="M304.7 30.5L305.3 29.9L307.3 27.9L309.9 25.7L315.9 24.2L323.8 23.3L327.1 23.7L319.8 24.6L314.6 25.9L310.6 27.9L309.9 29.2L312.6 31.7L307.3 31.4Z" fill="#FFFF00" stroke="#FFFF00"/>
<path d="M296.1 18.3L297.4 17.7L306.7 17.9L305.3 18.7Z" fill="#FFFF00" stroke="#FFFF00"/>
<path d="M361.9 20.7L361.9 18.7L365.9 18L373.8 20L375.1 21.3L368.5 22Z" fill="#FFFF00" stroke="#FFFF00"/>
<path d="M417.2 25.3L421.2 24.6L429.1 24.6L434.3 25.9L425.1 26.2Z" fill="#FFFF00" stroke="#FFFF00"/>
<path d="M471.8 31.4L472.5 30.5L473.8 30.5L473.8 31.3Z" fill="#FFFF00" stroke="#FFFF00"/>
<path d="M300.7 33.8L302 33.1L302.7 34.1Z" fill="#FFFF00" stroke="#FFFF00"/>
<path d="M423.8 64L423.8 60.7L423.8 57.4L424.1 54.1L425.1 53.1L425.5 56.1L427.1 60L425.1 59.8L425.8 62.9Z" fill="#FFFF00" stroke="#FFFF00"/>
<path d="M430.4 65.3L430.4 64.9L432.7 64L433 64.2Z" fill="#FFFF00" stroke="#FFFF00"/>
<path d="M421.2 69.9L421.6 67.9L422.9 67.5L423.5 64.8L426.8 66.6L428.4 67.5L425.5 69.2L422.5 68.6Z" fill="#B9FF45" stroke="#B9FF45"/>
<path d="M423.1 70.1L423.8 72.5L422.5 74.5L422.2 76.4L421.4 78.1L419.8 78.4L417.2 78.9L416.9 79.4L415.5 80.4L414.6 78.9L411.9 79.3L409.3 79.7L409.3 78.9L411.3 77.9L413.9 77.6L415.9 77.4L417.2 75.4L419.2 75.4L420.9 73.2L421.2 71.2L421.6 70.3Z" fill="#B9FF45" stroke="#B9FF45"/>
<path d="M408 80.4L410.4 80.2L410.4 82.3L409 83.6L408.3 83.3L408 81.4Z" fill="#B9FF45" stroke="#B9FF45"/>
<path d="M410.9 80.6L412.2 79.4L414.2 79.4L413.5 80.6L411.9 81.3Z" fill="#B9FF45" stroke="#B9FF45"/>
<path d="M396.1 91.1L397.5 91.5L396.1 95.5L395.1 94.1Z" fill="#D3D3D3" stroke="#D3D3D3"/>
<path d="M380 99.1L382.1 97.9L383 98.6L381 100.4Z" fill="#00FF00" stroke="#00FF00"/>
<path d="M403 80.6L403.9 80.4L403.9 80.6Z" fill="#B9FF45" stroke="#B9FF45"/>
<path d="M341.9 111.6L343.8 113.2L344.7 115.1L343.5 116.3L342.2 116.4L341.8 113.8Z" fill="#FF8C00" stroke="#FF8C00"/>
<path d="M395.5 100L397.7 100L397.9 102.7L396.8 104.6L400.1 107.3L400.1 107.9L398.1 106.6L396.1 106.3L395.2 104.9L394.8 103.1Z" fill="#FCBE2E" stroke="#FCBE2E"/>
<path d="M397.5 115.1L399.4 112.9L402.1 111.5L403.4 114.5L402.7 116.1L401.8 116.7L400.1 115.4L399.2 114.5Z" fill="#FCBE2E" stroke="#FCBE2E"/>
<path d="M400.5 107.9L402.3 108.2L402.1 110.9L400.8 110.5Z" fill="#FCBE2E" stroke="#FCBE2E"/>
<path d="M397.5 108.8L399 109.2L399.4 111.9L398.1 112.2L397.5 110.5Z" fill="#FCBE2E" stroke="#FCBE2E"/>
<path d="M391.1 113.2L392.9 111.2L394.4 109.5L394.2 110.5Z" fill="#FCBE2E" stroke="#FCBE2E"/>
<path d="M395.4 106.6L396.8 106.9L396.4 108.2Z" fill="#FCBE2E" stroke="#FCBE2E"/>
<path d="M392.2 118.7L391.8 120.4L392.2 121.7L393.5 123L391.8 123.4L391.5 125.4L390.2 126.3L390 128.3L389.6 129.6L387.9 129.6L386.3 128.6L384 128.9L381.9 128.3L381.7 126.3L380.6 125L380.4 123.7L380.4 122.4L381 121.7L381.2 121.7L381.1 122.6L382.3 123.1L384 123L385 122.4L386.5 122.6L387.7 122.4L388.3 121L389.2 120.4L389 118.8L390.2 118.5L391.7 118.8L392.3 118.6Z" fill="#FCBE2E" stroke="#FCBE2E"/>
<path d="M390.2 118.5L389 118.8L389.2 120.4L388.3 121L387.7 122.4L386.5 122.6L385 122.4L384 123L382.3 123.1L381.1 122.6L381.2 121.7L383 122.1L383.4 120.6L385.6 120.1L387.1 118.6L387.2 118.8L388 118.9L388.6 118.7L388.8 117.8L387.7 118.1L389.6 116.4L390.6 115.1L391.8 116.1L393.8 117.5L392.3 118.6L391.7 118.8Z" fill="#FFFF00" stroke="#FFFF00"/>
<path d="M388.8 117.8L388.6 118.7L388 118.9L387.2 118.8L387.1 118.6L387.6 118.2L387.7 118.1Z" fill="#D3D3D3" stroke="#D3D3D3"/>
<path d="M362.3 117L365.2 117.5L366.8 119.3L368.9 121L370.5 122L372.5 123.4L373.5 125L374.4 126.7L376.4 128.3L376.3 131.9L374.4 131.9L372.5 130.2L370.5 128.3L369.2 126.3L367.9 124.3L366.8 122.1L365 120.4L363.2 118.4Z" fill="#FCBE2E" stroke="#FCBE2E"/>
<path d="M375.5 126.6L377.3 127.6L377.1 128.3L375.7 127.3Z" fill="#FCBE2E" stroke="#FCBE2E"/>
<path d="M375.5 133.2L376.7 132.2L379.7 133.1L382.6 132.8L385.2 133.5L387.6 134.4L387.5 135.7L383 135.2L379.7 134.6L376.9 134Z" fill="#FCBE2E" stroke="#FCBE2E"/>
<path d="M388.3 135.1L390.9 135.2L393.5 135.5L392.9 136.1L388.9 135.9Z" fill="#FCBE2E" stroke="#FCBE2E"/>
<path d="M394.8 135.2L398.8 135.2L398.5 135.9L394.8 135.9Z" fill="#FCBE2E" stroke="#FCBE2E"/>
<path d="M401.3 137.4L401.3 136.2L401.4 136.2L401.5 136.8L402.3 136.9Z" fill="#D3D3D3" stroke="#D3D3D3"/>
<path d="M400.8 137.7L399.4 137.8L401.3 136.2L401.3 137.4Z" fill="#FCBE2E" stroke="#FCBE2E"/>
<path d="M401.5 136.8L401.4 136.2L401.4 136.1L404.4 135.3L403.4 136.4L402.3 136.9Z" fill="#D3D3D3" stroke="#D3D3D3"/>
<path d="M393.5 136.8L395.9 137.3L394.8 137.8Z" fill="#FCBE2E" stroke="#FCBE2E"/>
<path d="M394.2 131.5L394.2 128.9L393.3 127.9L394.6 124.3L395.9 122.6L398.8 123L401.4 122.1L400.8 123.8L396.1 123.7L395.1 125.4L396.8 125.5L399.2 125.4L397.5 126.7L397.1 127.2L398.1 128.6L398.8 130.2L398.1 131.5L397.1 130.6L396.1 128.3L395.5 128.9L395.4 131.7Z" fill="#FCBE2E" stroke="#FCBE2E"/>
<path d="M404.7 123.3L405.4 121.4L406.3 123L405.4 125.4Z" fill="#FCBE2E" stroke="#FCBE2E"/>
<path d="M405.4 128.3L409 128.5L407.3 128.9Z" fill="#FCBE2E" stroke="#FCBE2E"/>
<path d="M402.7 128.5L404.3 128.6L403.7 129.3Z" fill="#FCBE2E" stroke="#FCBE2E"/>
<path d="M419.8 134.8L418.5 135.3L419.2 133.2L417.9 131.1L414.6 130.1L411.9 129.6L411.5 128L413.3 127.6L410.6 126.9L409.3 126.2L409.3 125.4L411.3 124.8L413.3 125.4L414.6 128.6L417.9 126.6L422.5 127.7L422.5 136.3Z" fill="#FCBE2E" stroke="#FCBE2E"/>
<path d="M422.5 127.7L427.1 129.3L429.1 131.5L431 132.2L431.4 134.2L435 138.1L431.7 137.7L429.1 135.5L425.8 135.5L425.1 136.4L422.5 136.3Z" fill="#D3D3D3" stroke="#D3D3D3"/>
<path d="M432.3 131.7L435 131.5L437.2 129.8L436.9 131.5L434.3 132.6Z" fill="#D3D3D3" stroke="#D3D3D3"/>
<path d="M435.4 127.7L438 130L438.3 130.6L435.6 128.3Z" fill="#D3D3D3" stroke="#D3D3D3"/>
<path d="M440.5 131.5L442 132.8L441.3 133.2Z" fill="#D3D3D3" stroke="#D3D3D3"/>
<path d="M442.9 133.5L444.2 134.2L443.9 134.6Z" fill="#D3D3D3" stroke="#D3D3D3"/>
<path d="M446.2 134.8L448.1 136.8L447.5 137.2Z" fill="#D3D3D3" stroke="#D3D3D3"/>
<path d="M448.4 135.5L449.2 136.8L448.8 136.9Z" fill="#D3D3D3" stroke="#D3D3D3"/>
<path d="M456.2 143.7L457 144.3L456.6 144.8Z" fill="#D3D3D3" stroke="#D3D3D3"/>
<path d="M457.1 145.3L457.7 146L457.3 146.1Z" fill="#D3D3D3" stroke="#D3D3D3"/>
<path d="M452.7 150.7L456.7 153.4L456 153.7L452.7 151.5Z" fill="#006400" stroke="#006400"/>
<path d="M470.2 147.3L472.1 147.3L471.8 148.2L470.2 148.1Z" fill="#D3D3D3" stroke="#D3D3D3"/>
<path d="M472.2 146.4L473.8 145.6L473.8 146.1L472.5 146.6Z" fill="#D3D3D3" stroke="#D3D3D3"/>
<path d="M9.6 142L10.3 142L10.1 142.4Z" fill="#D3D3D3" stroke="#D3D3D3"/>
<path d="M387.2 152.9L389.6 151.6L393.5 150.6L396.8 149.2L397.9 146.9L399.7 146L402.1 143.3L404 142.7L406 143.9L407.3 143.9L409 140.7L411.3 139.4L414.6 140.3L416.9 140.3L415.6 143.3L417.9 145.3L420.5 147.3L422.2 147.3L423.3 144L423.4 141L424.4 138.5L425.8 142.7L428.1 144L429.1 147.9L431 149.9L433.4 152.5L435.4 154.5L438.3 157.8L438.9 161.1L438.3 165L436.9 167.4L435.6 168.9L434.6 171.6L434.3 173.5L431 174.2L429.4 175.6L427.5 174.4L425.1 175.2L422.2 174.2L420.8 172.2L418.9 170.9L418.5 169.3L418.1 167.6L417.2 168.9L415.9 170.2L415.2 169.7L413.5 167.6L410.6 166.3L406.7 165.8L402.7 166.7L400.1 168L399.4 168.8L394.8 168.9L392.2 170.2L389.6 170.1L388.3 169.3L389 166.3L388.3 163.7L387.2 160.4L386 158.4L386.3 156.5L386.5 153.8Z" fill="#D3D3D3" stroke="#D3D3D3"/>
<path d="M427.3 177.7L429.7 178.2L431.9 178L431.9 179.7L430.4 181.4L429.1 181.4L428 179.8Z" fill="#D3D3D3" stroke="#D3D3D3"/>
<path d="M464.2 169.5L466.3 170.9L467.9 172.2L468.5 173.5L471.6 173.7L470.5 175.8L469.7 176.8L467.6 178.9L466.8 178.4L467.5 177.1L465.6 175.9L466.8 174.6L466.6 172.9L464.9 170.5Z" fill="#FCBE2E" stroke="#FCBE2E"/>
<path d="M464.2 177.5L466.2 178.8L464.3 181.4L462.3 182.4L461.6 184.5L459.3 185.5L457.3 184.9L456 184.3L458.4 182L461 180.7L462.6 179.2Z" fill="#FCBE2E" stroke="#FCBE2E"/>
<path d="M253.4 74.5L257.4 74.2L256.8 76.2L253.4 75Z" fill="#B9FF45" stroke="#B9FF45"/>
<path d="M247.8 70.7L249.5 70.4L249.5 72.9L248.1 73.2Z" fill="#B9FF45" stroke="#B9FF45"/>
<path d="M248.4 68.4L249.4 68L249.3 69.9L248.4 69.5Z" fill="#006400" stroke="#006400"/>
<path d="M268 77.7L271.4 78.1L269.1 78.5Z" fill="#D3D3D3" stroke="#D3D3D3"/>
<path d="M279.4 78.4L282.3 77.6L281.4 78.7L279.9 78.8Z" fill="#D3D3D3" stroke="#D3D3D3"/>
<path d="M251.4 51.2L253.4 50.8L253.4 52.2L251.8 51.9Z" fill="#B9FF45" stroke="#B9FF45"/>
<path d="M249.8 51.5L251 51.5L251 52L250.1 52Z" fill="#B9FF45" stroke="#B9FF45"/>
<path d="M260.9 49.3L261.9 48.4L261.5 49.4Z" fill="#FFFF00" stroke="#FFFF00"/>
<path d="M240.1 72.4L241.4 72.1L241 72.8Z" fill="#006400" stroke="#006400"/>
<path d="M327.4 188.6L329.7 188.9L328.8 189.5Z" fill="#006400" stroke="#006400"/>
</g></g>
<g filter="url(#soft)"><g transform="translate(805.00,0)" class="map">
<path class="ant" d="M0 231.8L9.6 231L16.8 232.2L27.6 231.8L35.6 232.7L42 233.3L49.1 232.2L42 231.8L35.6 230.1L31.1 227.8L42.9 226.4L43.8 225.3L34.7 224.7L28.5 223.4L31.1 222L40.1 220.8L45.5 219.6L58.2 218.8L70.7 217.9L79.7 218L92.4 219.4L99.5 219.9L102.3 216.6L108.5 215.4L113.9 217L124.7 216.2L131.8 217L139.1 214.9L142.6 212.1L148 208.6L155.3 205.3L161.5 204.4L157 206.8L154.4 209.5L151.6 213.1L155.3 214.9L157.4 217L155.3 219.9L149.9 221.5L137.2 221.6L135.1 223.8L137.2 225.9L148 227.4L157 229.2L160.6 230.4L165.2 229.2L166.9 226.4L172.3 224.2L178.7 223.8L179.6 225.7L175.9 227.4L167.8 228.8L178.7 228.8L189.5 227.8L197.5 226.4L198.4 225.3L190.3 224.7L192.1 223.4L202 222.4L214.5 219.4L225.4 215.2L239.3 214.2L250.2 212.7L262.8 213.5L273.5 213.5L282.6 210.8L293.3 209.8L306 208.1L311.4 208.1L318.5 210.3L325.8 209.8L328.4 214.9L332.9 212.7L343.7 209.5L354.5 208.6L365.2 209.5L372.5 207.7L379.6 209.1L386.9 208.1L395.8 209.1L406.7 208.1L415.6 207.3L419.2 208.6L428.2 208.6L433.6 210.3L442.7 211.6L451.6 214L462.3 214.5L461.5 217.5L453.4 220.3L457.8 223.8L448.9 226.4L455.2 229.2L466 231L475 232.2L475 238.8L0 238.8Z"/>
<path d="M121.4 97.7L121 96.9L121.7 96.9ZM124.3 106.6L124.4 106.7L124.3 107.4ZM122 104.3L121.4 104.1L121.7 104L122.3 104.3L122.3 104.5Z" fill="#D3D3D3" stroke="#D3D3D3"/>
<path d="M56.7 30.7L60.7 30L66 29.4L68.6 28.7L72.6 30L77.8 29.6L83.1 30.7L85.8 32L92.4 32.3L95 31.3L99 32L102.9 32.3L108.2 32L110.8 32.9L111.5 31.3L113.5 30L110.8 29.4L111.5 27.4L112.8 26.8L116.1 28.7L117.4 30L118.8 31.3L121.4 31L124 32L125.3 30L129.3 29.8L130 31.3L128 33.3L124 34.2L122.7 35.9L121.4 37.3L117.4 37.5L114.8 39.9L112.8 42.5L112.5 44.1L114.8 45.8L118.8 46.4L121.4 47.4L125.3 48.7L128.9 49.1L129.3 51.7L130.6 53L132.6 53.9L133.3 53L133.7 50.4L132.6 49.1L135.9 47.1L136.3 45.1L133.9 43.8L135.2 41.2L134.6 39.5L138.5 39.5L142.5 40.5L145.1 41.2L145.8 43.8L147.8 44.7L150.4 44.1L151.7 42.1L154.4 45.1L156.4 47.1L159.7 49.1L162.3 51L163.9 53L162.3 53.8L158.3 55.4L153.1 55.2L149.1 56.3L145.8 58.2L143.8 59.7L146.5 58.5L149.1 57.2L151.7 56.7L152.4 58.2L151.7 59.6L152.4 60.6L154.4 61.1L157 61.5L158.3 60.2L157 61.9L153.7 62.8L150.7 64L150.4 63.9L150.4 62.8L152.4 61.8L149.1 62.2L149 62.2L148.8 62L148 61.3L148 59.4L147.4 59.1L146.2 59L145.1 59.9L144.7 60.6L143.2 62.2L138.9 62.2L136.7 63.4L133.3 64.1L133.3 65.3L128.6 66.5L127.9 66L128.8 64.8L128.6 61.8L127.3 60.9L126 60.3L125.5 59.7L120.7 57.9L118.8 58.1L115.5 57.7L112.7 57.3L111.9 56.4L111.9 56.9L75.2 56.9L72.6 55.4L69.3 54.3L68.6 52.3L66 50.4L66 47.9L63.6 46.8L61.4 44.5L58.7 42.9L56.2 43.9L55.4 43.4L55.3 43.4L53.8 42.4L51.5 42.1L51.5 29.9ZM73 57.9L74.8 57.9L73 58Z" fill="#00FF00" stroke="#00FF00"/>
<path d="M111.9 56.4L112.7 57.3L115.5 57.7L118.8 58.1L120.7 57.9L125.5 59.7L126 60.3L127.3 60.9L128.6 61.8L128.8 64.8L127.9 66L128.6 66.5L133.3 65.3L133.3 64.1L136.7 63.4L138.9 62.2L143.2 62.2L144.7 60.6L145.1 59.9L146.2 59L147.4 59.1L148 59.4L148 61.3L148.8 62L149 62.2L146.5 63.5L144.5 64.8L144.1 66.1L145.1 66.5L142.5 67.2L139.9 68L139.9 69.4L138.1 70.7L137.2 72.7L137.6 74.6L135.9 76L133.3 77.5L130.6 79.2L130.2 81.2L131.3 84.5L131.9 86.5L131.4 88.2L130 87.8L128.6 85.1L128.2 83.2L126.7 81.9L124.7 82.1L122 81.5L120.1 81.6L119.4 82.9L117.4 82.8L114.1 82.3L112.2 82.9L109.5 84.5L109.1 87.1L109.1 87.2L106.6 86.5L106.2 85L104.6 83L103.7 82.1L102.3 82.1L101.3 83.2L99.6 82.4L99.1 81.1L97 79.5L94.7 79.5L94.7 80.2L91 80.2L86 78.6L83 78.6L82.9 78.6L82.9 78.4L81.1 76.6L78.5 76L76.8 73.3L75.9 71.6L74.2 69.4L73.5 68.2L73.6 64.8L73.9 60.6L73 58L74.8 57.9L75.2 57.9L75.2 56.9L111.9 56.9ZM61.4 44.5L63.6 46.8L66 47.9L66 50.4L65.3 49.1L63.3 47.1L60.7 45.1L57.4 44.7L56.2 43.9L58.7 42.9ZM53.8 42.4L55.3 43.4L52.8 42.8L50.1 42.5L47.5 42.5L44.9 41.6L41.6 42.2L39.6 43.4L36.9 43.8L38.3 41.2L35 43.2L33.6 45.1L31 46.4L28.4 47.7L25.1 48.8L21.8 49.5L20.1 49.7L23.1 48.4L25.7 47.7L28.4 46.4L29.7 44.5L27.7 44.2L24 44.2L23.8 42.8L20.5 42.1L19.1 40.5L18.5 39.9L20.5 38.6L25.1 37.9L25.1 36.6L22.4 36.6L18.5 36.5L15.8 35.2L21.1 34L23.8 34.6L21.8 33.3L18.5 31.6L22.4 30.7L23.8 29.1L31 27.7L36.9 28.3L42.2 29L48.8 29.4L51.5 29.9L51.5 42.1Z" fill="#00FF00" stroke="#00FF00"/>
<path d="M91 80.2L94.7 80.2L94.7 79.5L97 79.5L99.1 81.1L99.6 82.4L101.3 83.2L102.3 82.1L103.7 82.1L104.6 83L106.2 85L106.6 86.5L109.1 87.2L108.6 89.7L108.5 92L109.5 94.3L110.8 96.3L112.8 97.3L115.5 96.9L117.4 96.6L118.1 94.3L118.8 93.4L122.7 93L123 94.3L121.9 96.3L121.7 96.9L121 96.9L119.9 97.9L117.4 97.9L117.4 98.7L118.2 99.7L116.8 100.1L115.8 101.1L115.8 102.2L113.5 100.2L110.8 100.6L107.5 99.8L104.9 98.9L102.9 97.6L100.3 96.3L98.3 94.7L98.6 93L97 90.7L94.3 88L93 86.5L91 84.5L89.1 82.5L88.1 80.3L86.2 79.5L86.4 81.2L88.4 83.8L90.4 86.5L91.7 89.1L93 90.8L92.4 91.2L89.7 88.7L89.1 86.8L87.1 85.5L85.8 84.7L86.7 83.4L84.7 81.5L83.5 79.5L83 78.6L83 78.6L86 78.6Z" fill="#00FF00" stroke="#00FF00"/>
<path d="M121.1 98.3L120.3 100.2L121.1 100.4L121 100.6L119.8 100.4L119.9 97.9L121 96.9L121.4 97.7Z" fill="#00FF00" stroke="#00FF00"/>
<path d="M116.8 100.1L118.2 99.7L117.4 98.7L117.4 97.9L119.9 97.9L119.8 100.4L121 100.6L119.8 101.7L119.5 102.3L118.8 103.1L118.8 103.1L115.8 102.2L115.8 101.1Z" fill="#FF0000" stroke="#FF0000"/>
<path d="M120.7 102.9L121.8 103.1L121.7 104L121.4 104.1L120.7 103.9L118.8 103.1L119.5 102.3Z" fill="#D3D3D3" stroke="#D3D3D3"/>
<path d="M121.4 100.5L124 100.4L126.7 100.8L127.7 101.5L126.3 101.9L125.3 102.2L124 103L123.1 103.8L122.3 104.3L121.7 104L121.8 103.1L120.7 102.9L119.5 102.3L119.8 101.7L121 100.6L121.1 100.4Z" fill="#D3D3D3" stroke="#D3D3D3"/>
<path d="M124 103L125.3 102.2L126.3 101.9L127.7 101.5L127.3 104.2L127.1 106.8L127.2 106.9L125.6 106.8L124.4 106.7L124.3 106.6L124.3 106.5L122.3 104.5L122.3 104.3L123.1 103.8Z" fill="#B9FF45" stroke="#B9FF45"/>
<path d="M127.2 106.9L128 108.1L128.5 108.6L128.5 108.8L128.1 109.3L128.1 110.4L127.1 109.9L125.6 108.4L124.3 107.4L124.3 107.4L124.4 106.7L125.6 106.8Z" fill="#FCBE2E" stroke="#FCBE2E"/>
<path d="M128.6 108.7L129.3 109.4L130.6 109.7L132.6 108.8L134.6 109.1L135.5 110.1L134.7 111.8L133.9 110.3L132.6 109.7L131.5 111L131.3 111.6L130 111.1L128.2 110.5L128.1 110.4L128.1 109.3L128.5 108.8Z" fill="#FCBE2E" stroke="#FCBE2E"/>
<path d="M152 40L149.8 39.9L145.1 39L141.8 37.3L138.5 36.6L134.8 36.9L134.6 35.7L139.9 35.3L141.2 33.3L140.5 31.6L137.2 30.7L133.9 29.4L129.3 29.6L125.3 29.4L121.4 28.7L119.4 27.8L119.4 26.1L124 24.4L130.6 24.5L134.6 25.7L138.5 26.4L143.2 27.7L147.1 29L149.1 30.7L153.1 32.7L156.4 33.7L153.7 36.2L151.1 36.9L152.4 38.6Z" fill="#00FF00" stroke="#00FF00"/>
<path d="M84.4 30.7L83.1 29.6L87.7 28.7L81.8 29L83.1 28.1L80.5 27.1L82.5 25.4L87.1 25.2L91 25.8L95 25.4L99 26.1L99.6 28.1L104.2 28.7L103.6 29.8L99 30.7L95 31.1L88.4 31.3Z" fill="#00FF00" stroke="#00FF00"/>
<path d="M71.9 26.5L73.9 25.2L73.2 23.9L77.2 23.5L82.5 23.7L85.1 25.1L81.8 26.4L77.8 27.5L74.5 27.8Z" fill="#00FF00" stroke="#00FF00"/>
<path d="M102.9 26.8L102.9 25.7L104.2 24.4L108.9 24.4L110.2 26.1L106.9 27.4Z" fill="#00FF00" stroke="#00FF00"/>
<path d="M111.5 26.5L110.8 25.4L112.2 24.1L117.4 24.1L118.1 25.4L114.8 26.8Z" fill="#00FF00" stroke="#00FF00"/>
<path d="M106.2 30.7L107.5 29.6L110.2 29.4L111.5 30.4L109.5 31.2Z" fill="#00FF00" stroke="#00FF00"/>
<path d="M123 35.3L125.3 34.6L127.3 35.5L130 36.2L131.7 37.3L130 37.5L127.3 38.7L124.7 37.9Z" fill="#00FF00" stroke="#00FF00"/>
<path d="M83.1 22.6L83.8 21.5L88.4 21.1L93 20.9L98.3 21.5L97.6 22.8L93.7 23.1L88.4 23.5Z" fill="#00FF00" stroke="#00FF00"/>
<path d="M100.3 22.2L100.3 21.1L103.6 20.5L108.2 20.9L108.2 22.6L104.2 22.8Z" fill="#00FF00" stroke="#00FF00"/>
<path d="M110.2 22.8L110.8 21.9L114.1 22L114.1 23.1Z" fill="#00FF00" stroke="#00FF00"/>
<path d="M110.2 20.5L110.2 20.2L114.8 20.3L119.4 21L119.4 21.9L124 22L129.3 21.8L132.6 22.2L131.3 23.3L124 23.5L117.4 23.1L115.5 21.1Z" fill="#00FF00" stroke="#00FF00"/>
<path d="M120.1 21L119.4 20.2L121.4 19.1L125.3 18.6L122.7 17.6L124 16.3L122.7 15.3L117.4 14.3L121.4 13.6L126.7 13.1L134.6 12.3L142.5 12.2L150.4 12.3L156.4 12.8L155.7 13.6L149.1 14.9L144.5 16.3L138.5 17.2L137.9 18.2L135.2 18.9L134.6 20.5L131.3 21.2L125.3 21.1Z" fill="#00FF00" stroke="#00FF00"/>
<path d="M111.5 16.9L113.5 14.9L117.4 15.3L120.7 16.9L120.7 18.2L116.1 18.5Z" fill="#00FF00" stroke="#00FF00"/>
<path d="M75.9 21.5L79.2 19.8L84.4 20.6L81.8 21.9Z" fill="#00FF00" stroke="#00FF00"/>
<path d="M100.3 18.9L101.6 17.3L108.2 17.8L105.6 19.1Z" fill="#00FF00" stroke="#00FF00"/>
<path d="M159.3 58.6L159.7 57.6L161.6 55.6L162.6 54L164.1 53.8L163.9 55.9L166.5 56.3L166.9 57.6L168 58.8L167.6 59.9L164.3 59.7L162.3 58.9Z" fill="#00FF00" stroke="#00FF00"/>
<path d="M68.2 54.6L71.9 55.2L74.5 56.9L74.5 57.9L71.9 57.3Z" fill="#00FF00" stroke="#00FF00"/>
<path d="M62 50.4L63.6 50.2L64.7 51.7L64 52.6Z" fill="#00FF00" stroke="#00FF00"/>
<path d="M152.4 55.8L153.7 55.8L156 56.4L155.7 56.8Z" fill="#00FF00" stroke="#00FF00"/>
<path d="M152.7 59.8L155.7 60.3L155 60.9L153.1 60.5Z" fill="#00FF00" stroke="#00FF00"/>
<path d="M33.6 45.8L35 45.1L36.5 45.1L36.3 46.4Z" fill="#00FF00" stroke="#00FF00"/>
<path d="M11 38L12.5 37.6L14.8 38L14.5 38.4Z" fill="#00FF00" stroke="#00FF00"/>
<path d="M16.8 42.2L18.9 42.1L18.7 42.6Z" fill="#00FF00" stroke="#00FF00"/>
<path d="M15.2 51.4L15.8 50.9L18.1 50.4L17.8 50.8Z" fill="#00FF00" stroke="#00FF00"/>
<path d="M31.7 94.8L32.9 95.2L32.3 96.2L31.7 95.6Z" fill="#00FF00" stroke="#00FF00"/>
<path d="M158.3 13.6L171.5 13L184.7 11.8L195.3 11.5L204.5 12.3L211.1 13.6L221.7 14.3L215.1 16.3L213.8 18.2L211.1 20.2L213.1 22.2L211.1 24.1L208.5 26.1L205.8 27.4L208.5 29.1L203.2 31.3L197.9 32L194 33.3L190 34.9L185.4 35.3L183.4 37.9L180.8 41.8L179.4 42.5L176.8 41.6L173.5 40.8L171.5 38.8L169.5 37L167.6 34.6L166.9 32.7L169.5 30.7L166.2 30L170.2 29.4L165.6 28.3L164.9 26.8L163.6 24.8L161 22.8L157.7 21.5L150.4 21.5L145.8 21.1L143.8 19.9L141.2 18.5L147.8 17.6L151.7 16L153.1 14.7Z" fill="#B9FF45" stroke="#B9FF45"/>
<path d="M125.5 92.5L128 91L131.3 90.9L135.2 92.6L137.9 94.1L139.6 94.7L135.2 95.1L135.6 94.2L133.9 93L130 92.2L128.6 91.6Z" fill="#006400" stroke="#006400"/>
<path d="M141.8 97.3L139.3 97.1L140.8 95.1L142.8 95.2L142.8 97.8Z" fill="#D3D3D3" stroke="#D3D3D3"/>
<path d="M142.8 95.2L145.1 95.2L147.2 96.7L145.1 97.2L143.2 98L142.8 97.8Z" fill="#8B2323" stroke="#8B2323"/>
<path d="M134.2 97.1L136.8 97.3L135.9 97.9L134.3 97.5Z" fill="#FCBE2E" stroke="#FCBE2E"/>
<path d="M148.8 96.9L150.8 97.1L150.4 97.6L148.8 97.6Z" fill="#00FF00" stroke="#00FF00"/>
<path d="M155.8 107.2L157 107.1L157 108L156 108Z" fill="#D3D3D3" stroke="#D3D3D3"/>
<path d="M134.2 88.2L134.8 88.2L134.8 89.5L134.2 89.1Z" fill="#D3D3D3" stroke="#D3D3D3"/>
<path d="M135.1 85.9L135.9 86.5L135.6 86.8Z" fill="#D3D3D3" stroke="#D3D3D3"/>
<path d="M156 99.7L156.8 99.7L156.4 100.2Z" fill="#B9FF45" stroke="#B9FF45"/>
<path d="M156.8 101.7L157.3 101.9L157 102.3Z" fill="#B9FF45" stroke="#B9FF45"/>
<path d="M169.5 115.6L170.5 117.9L171.5 119.3L171.5 120.8L173.8 122.1L176.8 122.5L179 124.5L182.1 124.9L184.7 124.9L186.7 126.1L188.4 127.5L190.9 128.2L191.6 130.7L191.3 133L189.3 135.3L188 136.7L186.7 138.3L186 140.9L186 144.2L185.1 146.8L183.7 149.4L182.1 151.4L178.8 151.7L176.4 152.7L174.2 154.4L173.4 156.6L173.1 158.6L171.5 160.6L169.5 162.5L168.2 164.5L167.1 165.7L167 165.6L167.3 164.1L166.2 163.1L164.1 161.8L163.6 161.6L161.5 160.8L163.9 158.5L166.5 156.9L166.6 155.6L165.5 154.8L165.9 152.7L164.3 152.6L163.9 150.5L161.1 150.2L160.7 147.7L161.6 145.1L160.6 143.9L160.4 142.6L158.1 142.6L157.7 139.3L155.7 138.5L153.7 137.6L151.7 137L151.3 135.4L151.2 133.9L149.6 134.2L147.8 135.3L145.7 135.7L144.3 135.7L144.3 133.8L142.2 134.3L141.3 133.3L140 130.8L141.4 127.9L145.3 126.7L145.9 122.8L145.1 120.6L146.2 120.4L145.4 119L148.7 119L149.2 119.6L151.1 120.2L152.8 119.3L152.8 117.9L153.8 118.3L153.1 116L154.6 116.4L155 115.8L157 115.3L157.4 114.4L158.3 115.3L158.9 116.2L158.5 118.2L159.7 119.5L161 119.3L163 118.7L163.7 118.7L164.8 117.9L165.6 118.2L167.6 118.3L168.2 117.9L169.3 116L169.5 115.5ZM162 167.8L162.1 168.1L160.4 167.1L161.7 167.4ZM135.5 110.1L135.5 110.1L135.6 110.9L134.7 111.8Z" fill="#006400" stroke="#006400"/>
<path d="M143.3 105.7L142.1 106.5L141.4 107.4L141.2 109.1L141.8 110.1L142.5 111.9L144.5 112L145.8 113.2L148.4 113.1L148 115.3L148.7 118.6L149.2 119.6L148.7 119L145.4 119L146.2 120.4L145.1 120.6L145.9 122.8L145.3 126.7L145.1 124.8L143.2 124.2L141.2 124.2L139.9 122.5L138.1 121.4L136.6 120.8L134.8 120.2L133.5 119.4L133.2 119.3L133.3 119.3L133.5 118.9L135.2 117.3L135.2 116L135.5 114L135.2 112.3L134.7 111.8L135.6 110.9L135.5 110.1L136.6 109.7L137.6 108.8L138.1 107.2L139.5 106.5L141.2 106.1L143 105L143.2 105.3Z" fill="#FCBE2E" stroke="#FCBE2E"/>
<path d="M156.8 112.4L156.5 113.5L157.4 114.4L157 115.3L155 115.8L154.6 116.4L153.1 116L153.8 118.3L152.8 117.9L152.8 119.3L151.1 120.2L149.2 119.6L148.7 118.6L148 115.3L148.4 113.1L145.8 113.2L144.5 112L142.5 111.9L141.8 110.1L141.2 109.1L141.4 107.4L142.1 106.5L143.3 105.7L143.4 106.1L145.1 106L144.9 105.2L147.1 106.4L147.5 107.3L150.4 107.3L152.4 107.8L155.7 107.2L156 108.4L157.3 110.1L158.5 110.5L157.9 111.9Z" fill="#D3D3D3" stroke="#D3D3D3"/>
<path d="M166.2 116.6L165.6 118.2L164.8 117.9L163.7 118.7L163 118.7L161.9 116.8L161 116L161.9 114.4L162.2 113.4L164.3 113.5L166.2 113.6L165.7 115.3Z" fill="#8B2323" stroke="#8B2323"/>
<path d="M168.2 117.9L167.6 118.3L165.6 118.2L166.2 116.6L165.7 115.3L166.2 113.6L168.2 114.7L169.5 115.5L169.3 116Z" fill="#B9FF45" stroke="#B9FF45"/>
<path d="M136.6 120.8L138.1 121.4L137.9 123.2L136.3 124.6L134.6 125.4L133.9 127.1L132.9 127.8L131.5 127L131.5 125.7L131.9 124.5L130.8 124.1L130.9 122.5L131.9 120.6L133.1 119.4L133.5 119.4L134.8 120.2Z" fill="#FF0000" stroke="#FF0000"/>
<path d="M132.9 127.8L133.9 127.1L134.6 125.4L136.3 124.6L137.9 123.2L138.1 121.4L139.9 122.5L141.2 124.2L143.2 124.2L145.1 124.8L145.3 126.7L141.4 127.9L140 130.8L141.3 133.3L142.2 134.3L144.3 133.8L144.3 135.7L145.7 135.7L146.9 137.6L146.5 140.2L145.8 141.3L146.5 142.6L145.7 143.9L145.8 144.2L144.6 145.2L143.2 143.9L140.5 142.6L138.3 141.2L136.8 139.3L135.6 137L134.3 134.3L133.3 132L132.1 130.1L130.4 129.1L130.2 127.1L131.5 125.7L131.5 127Z" fill="#FCBE2E" stroke="#FCBE2E"/>
<path d="M149.6 134.2L151.2 133.9L151.3 135.4L151.7 137L153.7 137.6L155.7 138.5L157.7 139.3L158.1 142.6L160.4 142.6L160.6 143.9L161.6 145.1L160.7 147.7L159.5 146.5L156 147.1L155.4 148.1L154.8 150.3L153.1 150.1L152.4 150.7L150 149.8L149.1 151L147.9 151.1L147.5 149.4L146.7 148.1L147.2 146.8L146.5 146.1L145.8 144.2L145.7 143.9L146.5 142.6L145.8 141.3L146.5 140.2L146.9 137.6L145.7 135.7L147.8 135.3Z" fill="#FFFF00" stroke="#FFFF00"/>
<path d="M156 147.1L159.5 146.5L160.7 147.7L161.1 150.2L163.9 150.5L164.3 152.6L165.9 152.7L165.5 154.8L165.2 156.3L163.9 157.2L162.3 157.2L160.2 156.9L161.5 154.8L159.9 153.6L157 152.4L154.8 150.3L155.4 148.1Z" fill="#FF8C00" stroke="#FF8C00"/>
<path d="M160.4 165.8L160.4 165.7L160.7 163.9L161.5 160.8L163.6 161.6L164.1 161.8L166.2 163.1L167.3 164.1L167 165.6L167.1 165.7L166.9 165.8L165.6 166.9L163.3 167L161.2 166.4ZM160.4 165.8L161.7 167.4L160.4 167.1Z" fill="#B9FF45" stroke="#B9FF45"/>
<path d="M150 149.8L152.4 150.7L153.1 150.1L154.8 150.3L157 152.4L159.9 153.6L161.5 154.8L160.2 156.9L162.3 157.2L163.9 157.2L165.2 156.3L165.5 154.8L166.6 155.6L166.5 156.9L163.9 158.5L161.5 160.8L160.7 163.9L160.4 165.7L160.4 165.8L160.4 167.1L162.1 168.1L162.3 169.1L161.6 171.1L159.7 172L155.7 172.4L155.3 174.4L151.7 175L153.1 177L151.3 178.3L151.1 180.3L148.4 181.6L150.4 183.5L148.4 186.2L146.5 188.1L147.2 189.8L147.2 190L145.1 189.4L142.5 189.4L142.1 188.1L141.2 187.7L140.8 186.2L141.8 184.9L142.8 182.9L143.4 180.9L142.9 178.9L142.8 176.3L142.9 173.7L143.6 171.7L143.8 169.1L144.6 167.8L145.4 166.2L145.4 164.9L144.9 162.5L145.4 159.9L146.2 157.7L147.4 156.6L147.1 155.7L147.2 153.4L148.7 152.7L148.8 151.4L147.9 151.1L149.1 151ZM147.2 190L147.1 190.4L149.1 192.1L151.5 193.1L149.1 193.8L147 193.8L147 190.4Z" fill="#FFFF00" stroke="#FFFF00"/>
<path d="M145.8 144.2L146.5 146.1L147.2 146.8L146.7 148.1L147.5 149.4L147.9 151.1L148.8 151.4L148.7 152.7L147.2 153.4L147.1 155.7L147.4 156.6L146.2 157.7L145.4 159.9L144.9 162.5L145.4 164.9L145.4 166.2L144.6 167.8L143.8 169.1L143.6 171.7L142.9 173.7L142.8 176.3L142.9 178.9L143.4 180.9L142.8 182.9L141.8 184.9L140.8 186.2L141.2 187.7L142.1 188.1L142.5 189.4L145.1 189.4L147.2 190L147.2 190L147 190.4L147 193.8L145.8 193.8L142.5 192.7L139.9 190.8L138.1 188.1L137.9 184.9L137.9 182.2L140.5 180.3L139.9 178.3L140.1 175.7L140.5 173L140.5 170L141.6 167.8L142.9 164.5L143.2 161.2L143.4 158L144.5 154.7L144.7 151.4L144.9 148.1L144.6 145.2Z" fill="#FCBE2E" stroke="#FCBE2E"/>
<path d="M157 188.8L161 188.7L160.3 189.7L157.7 189.7Z" fill="#FFFF00" stroke="#FFFF00"/>
<path d="M187.4 192.1L190 192.5L189.7 193L188 192.6Z" fill="#D3D3D3" stroke="#D3D3D3"/>
<path d="M248.9 72.5L248.8 72.8L248 72.6ZM247.7 115.4L248.7 115.1L248.7 115.3ZM234.9 114.9L233.7 114.6L233.8 114.5L235.2 114.8ZM240.4 105L241.2 105L240.7 105.6ZM255.2 127.6L254.8 128.8L254.7 127.3Z" fill="#D3D3D3" stroke="#D3D3D3"/>
<path d="M220.1 84.7L222.3 84.1L224.3 82.5L224.7 80.8L225.2 78.6L227.6 77L228.9 76L229.7 74.3L230.5 74.1L233.5 74.9L234.6 75L234.6 75.2L235.1 76L235.9 78.6L235.8 79L232.8 79.6L232.6 80.7L230.5 81.9L228.3 82.5L226 83.6L226 84.9L220.1 84.9L220 84.9Z" fill="#D3D3D3" stroke="#D3D3D3"/>
<path d="M226 85.4L226 87.1L221.7 87.1L221.7 90.4L220.3 91L220.3 93.3L215.2 93.9L215.1 93.7L215.3 92L216.4 90.1L217.8 88.4L218.4 86.8L220 84.9L220.1 84.9L226 84.9Z" fill="#D3D3D3" stroke="#D3D3D3"/>
<path d="M220.3 91L221.7 90.4L221.7 87.1L226 87.1L226 85.4L231 88.4L229 88.4L230.2 99.8L230.2 100.9L225 100.9L223.4 101.3L222.3 100.9L221.4 101.9L219.8 100.2L218.4 99.4L215.7 100.1L216.1 97.6L216 95.6L215.2 93.9L220.3 93.3Z" fill="#8B2323" stroke="#8B2323"/>
<path d="M219.8 100.2L221.4 101.9L222.5 105L221.3 105.1L219.4 104.7L217.7 104.6L215.5 105L215.4 104L217.7 103.8L219.3 103.8L219.3 103.5L217.7 103.1L215.2 103.4L214.4 101.9L215.7 100.2L215.7 100.1L218.4 99.4Z" fill="#FCBE2E" stroke="#FCBE2E"/>
<path d="M219.3 103.5L219.3 103.8L217.7 103.8L215.4 104L215.3 103.5L215.2 103.4L217.7 103.1Z" fill="#FCBE2E" stroke="#FCBE2E"/>
<path d="M219.4 104.7L219.4 105.9L218.1 106.1L217.8 106.8L217.7 106.8L215.5 105L217.7 104.6Z" fill="#FF0000" stroke="#FF0000"/>
<path d="M219.4 105.9L219.4 104.7L221.3 105.1L222.5 105L223.4 105.6L225.2 105L226.3 106.3L226.9 107.8L227.2 110.1L226.5 111.2L225.2 111.5L225 110.2L223.9 110.1L223.4 109L222.7 108.1L221 108.2L220 109.4L219.7 108.5L218.4 107.4L217.8 106.8L218.1 106.1Z" fill="#FF8C00" stroke="#FF8C00"/>
<path d="M222.7 108.1L223.4 109L223.9 110.1L223.5 111L222.3 112.2L221 111.4L220.1 109.7L220 109.4L221 108.2Z" fill="#8B2323" stroke="#8B2323"/>
<path d="M223.9 110.1L225 110.2L225.2 111.5L226.5 111.2L226.3 112.7L227.6 113.6L227.6 115.4L225.6 114.7L223.2 112.7L222.3 112.2L223.5 111Z" fill="#8B2323" stroke="#8B2323"/>
<path d="M226.3 112.7L226.5 111.2L227.2 110.1L226.9 107.8L229.3 107.3L230.2 107.6L231.3 108.5L233.8 108.6L233.9 110.7L233.3 112.7L233.8 114.5L233.7 114.6L232.9 114.4L230.9 114.4L227.6 115.4L227.6 113.6Z" fill="#FF8C00" stroke="#FF8C00"/>
<path d="M223.4 101.3L225 100.9L230.2 100.9L230.2 99.8L229 88.4L231 88.4L239.1 93.5L239.9 94.6L241.7 95.2L241.9 96.3L243 96.2L243 99.6L242.1 101L239.2 101.1L237.8 101.7L236.6 101.4L234.9 102.6L233.5 103.4L231.8 103.9L231.7 104.8L230.5 105.7L230.2 107.6L229.3 107.3L226.9 107.8L226.3 106.3L225.2 105L223.4 105.6L222.5 105L221.4 101.9L222.3 100.9Z" fill="#FFFF00" stroke="#FFFF00"/>
<path d="M231.7 104.8L231.8 103.9L233.5 103.4L234.9 102.6L236.6 101.4L237.8 101.7L237.9 102.9L238.8 104L240.4 105L240.7 105.6L239.3 106.3L238.7 106.8L237.4 106.7L233.8 106.8L233.8 108.6L231.3 108.5L230.2 107.6L230.5 105.7Z" fill="#FFFF00" stroke="#FFFF00"/>
<path d="M233.9 110.7L233.8 108.6L233.8 106.8L237.4 106.7L238.2 107.7L238 109.7L238.4 110.3L238.2 112.2L239.1 113.2L238.9 113.4L236.8 114.3L235.2 114.8L233.8 114.5L233.3 112.7Z" fill="#FFFF00" stroke="#FFFF00"/>
<path d="M238.4 110.3L238 109.7L238.2 107.7L237.4 106.7L238.7 106.8L238.6 107.7L239.6 109.4L239.6 113L239.5 113.2L239.1 113.3L239.1 113.2L238.2 112.2Z" fill="#FFFF00" stroke="#FFFF00"/>
<path d="M238.6 107.7L238.7 106.8L239.3 106.3L240.7 105.6L241.2 105L242.2 105.9L242.5 107.2L241.2 109.4L241.1 112.8L239.8 113.2L239.6 113L239.6 109.4Z" fill="#FF0000" stroke="#FF0000"/>
<path d="M242.1 101L243 99.6L243 96.2L245.2 95.6L247.4 93.8L253.3 90.4L256.2 91.6L257.3 91L257.4 93.3L258.5 94.5L258.2 95.1L257.7 97.7L258 99L255.8 100.6L255.3 102.3L255.4 103.2L253.7 104L251.6 103.8L250 104.4L247.8 103.8L246.5 104L244.6 103L242.9 103.5L242.2 105.9L241.2 105L240.4 105L238.8 104L237.9 102.9L237.8 101.7L239.2 101.1Z" fill="#B9FF45" stroke="#B9FF45"/>
<path d="M242.5 107.2L242.2 105.9L242.9 103.5L244.6 103L246.5 104L247.8 103.8L250 104.4L251.6 103.8L253.7 104L255.4 103.2L256.2 105L256.8 106L255.7 106.8L254.9 108.1L254.4 109.7L253.6 110.3L253.1 111.9L252.4 112.6L251.4 112L250.4 112.3L249.8 113L249.1 113.6L248.7 115.1L247.7 115.4L246.7 115.4L245.4 115.6L244.5 114.3L243.4 113L241.1 112.8L241.2 109.4Z" fill="#FCBE2E" stroke="#FCBE2E"/>
<path d="M249.8 113L250.4 112.3L251.4 112L252.4 112.6L253.1 111.9L253.6 110.3L254.4 109.7L254.9 108.1L255.7 106.8L256.8 106L256.2 105L256.6 104.3L257.3 106L257.4 107.1L258 108.1L256.2 108.1L255.8 108.6L257.6 110.1L258 111.4L257 112.8L256.6 114.3L256.9 115.3L257.6 116.1L258.7 117.4L258.9 119L256.6 118.3L255 118.3L252.4 118.2L250.4 118.2L250.4 118.2L250.4 117.9L250.3 116.6L249.1 115.3L248.7 115.3L248.7 115.1L249.1 113.6Z" fill="#FCBE2E" stroke="#FCBE2E"/>
<path d="M252.4 119.9L250 119.9L250 119.6L250.4 118.2L252.4 118.2Z" fill="#D3D3D3" stroke="#D3D3D3"/>
<path d="M252.4 118.2L255 118.3L254.9 119.5L256.2 119.4L256.5 120.4L255.8 121.2L256.6 122L256.5 123.7L256.1 124.4L254.4 123.7L254 124.4L252.8 124.4L253.2 125.8L252.2 126.3L250.4 124.5L249.4 122.5L249.8 120.8L250 119.9L252.4 119.9Z" fill="#FF0000" stroke="#FF0000"/>
<path d="M252.8 124.4L254 124.4L254.4 123.7L256.1 124.4L256.5 123.7L256.6 122L255.8 121.2L256.5 120.4L256.2 119.4L254.9 119.5L255 118.3L256.6 118.3L258.9 119L259.3 117.5L259.5 116.6L262 116.6L261.4 118.3L261 120.8L260.6 122.1L258.9 124.1L258.6 125.8L257.7 126.9L256.5 127.6L255.2 127.6L254.7 127.3L254.3 127.1L253 127.7L252.9 127.6L252.3 126.5L252.2 126.3L253.2 125.8Z" fill="#D3D3D3" stroke="#D3D3D3"/>
<path d="M255.2 127.6L256.5 127.6L257.7 126.9L258.6 125.8L258.9 124.1L260.6 122.1L261 120.8L261.4 118.3L262 116.6L262 115.6L263.2 114.7L264.5 115.3L267.2 115.8L267.7 114.9L269.8 114.5L270.9 114.7L273.7 114.5L275 115.6L276.4 115.3L278.1 116.6L278.8 118.3L277 120.3L276.6 122L276.6 123.1L276 123.5L275.8 124.8L276 125.9L276.3 127L276.4 129.1L278 132L275.6 132.4L275 133.3L275.2 135L275 136.7L275.8 137.5L276.8 137.2L276.8 138.8L275.8 138.8L275 137.8L273.8 137.2L273 136.8L270.9 136L269.2 135.5L266.8 135.9L266.9 135L266.3 133.7L266.4 132.1L266.3 130.8L264.3 130.4L263.2 130.4L263.1 131.7L260.7 131.8L259.8 130.7L259.4 129L255.8 129L253.7 129.2L253.6 128.8L254.8 128.8Z" fill="#FF8C00" stroke="#FF8C00"/>
<path d="M259.4 129L259.8 130.7L260.7 131.8L263.1 131.7L263.2 130.4L264.3 130.4L266.3 130.8L266.4 132.1L266.3 133.7L266.9 135L266.8 135.9L269.2 135.5L269.2 138.3L266.5 138.3L266.5 142.5L268.4 144.3L265.2 144.7L261.8 144L256 144L253.1 143.9L253.1 142.2L254 139.6L255.3 137.6L255.7 135.7L254.9 133.7L254.7 132.4L253.7 129.4L253.7 129.2L253.7 129.2L255.8 129ZM254.7 127.3L254.8 128.8L253.6 128.8L252.9 127.7L254.3 127.1Z" fill="#D3D3D3" stroke="#D3D3D3"/>
<path d="M261.8 144L265.2 144.7L268.4 144.3L269.4 144.2L270.9 144.6L269.6 144.8L268.5 145.5L265.2 145.2L265.2 150.1L263.9 150.1L263.9 153.8L263.9 158.5L262.6 159.1L260.6 158.9L259.3 158.7L257.6 156.6L257 154L256.6 151.4L255.3 148.8L254 146.1L253.1 144.2L253.1 143.9L256 144Z" fill="#FCBE2E" stroke="#FCBE2E"/>
<path d="M265.2 150.1L265.2 145.2L268.5 145.5L269.6 144.8L270.9 144.6L270.9 145.5L272.1 146.9L273.5 148.1L274 148.9L274.4 149.6L276.3 150.3L274.8 151.1L273.1 152.2L272.9 153.1L271.3 154.5L270.1 154.7L267.8 154.4L267.3 155.5L266 156.4L264.8 156.4L263.9 153.8L263.9 150.1Z" fill="#FCBE2E" stroke="#FCBE2E"/>
<path d="M273.1 144.8L273.9 144L275.5 142.9L275.8 142.2L277.6 141.7L277.6 142.2L278.8 142.2L280.8 143.1L281 144L280.8 145.5L281 147.2L280.2 149.2L278.8 150.6L276.3 150.3L274.4 149.6L274 148.9L273.5 148.1L272.1 146.9L270.9 145.5L270.9 144.6L271.7 144.7Z" fill="#FCBE2E" stroke="#FCBE2E"/>
<path d="M269.2 135.5L270.9 136L273 136.8L273.8 137.2L275 137.8L275.8 138.8L276.8 138.8L276.8 137.2L275.8 137.5L275 136.7L275.2 135L275 133.3L275.6 132.4L278 132L278.7 132.5L280.9 133.6L281.4 135.4L281.3 137.6L280.6 139.1L281.3 139.6L277.3 140.9L277.6 141.7L275.8 142.2L275.5 142.9L273.9 144L273.1 144.8L271.7 144.7L270.9 144.6L269.4 144.2L268.4 144.3L266.5 142.5L266.5 138.3L269.2 138.3Z" fill="#8B2323" stroke="#8B2323"/>
<path d="M283.2 133.8L283.5 136.2L283.2 136.4L283.5 138.9L284.7 140.4L284.7 142.2L283.9 143.7L282.8 142.2L283.2 141.3L282.9 140.1L281.3 139.6L280.6 139.1L281.3 137.6L281.4 135.4L280.9 133.6L282.2 133.7Z" fill="#FF0000" stroke="#FF0000"/>
<path d="M279.7 155.1L279.6 153.1L278.8 150.6L280.2 149.2L281 147.2L280.8 145.5L281 144L280.8 143.1L278.8 142.2L277.6 142.2L277.6 141.7L277.3 140.9L281.3 139.6L282.9 140.1L283.2 141.3L282.8 142.2L283.9 143.7L284.7 142.2L284.7 140.4L283.5 138.9L283.2 136.4L283.5 136.2L285 136.4L287 136.6L289 135.9L290.6 135.1L290.9 135.7L291.1 138.3L291.3 140.9L290 142.9L287 144.4L285.7 146.1L283.7 147.5L284.1 150.1L284.3 152.7L281.7 154.4L280.8 155.3L280.9 156.5L279.9 156.4Z" fill="#FCBE2E" stroke="#FCBE2E"/>
<path d="M287 136.6L285 136.4L283.5 136.2L283.2 133.8L282.2 133.7L280.9 133.6L278.7 132.5L278 132L276.4 129.1L276.3 127L277.1 126.9L278.1 125.5L277.7 124.4L278.1 122.7L277.7 122.5L282.2 122.5L287.1 125.2L287.4 126.1L289.2 127.4L289.4 127.4L289 128.4L289.4 130.4L289.6 132.4L290 134.3L290.6 135.1L289 135.9Z" fill="#D3D3D3" stroke="#D3D3D3"/>
<path d="M287.1 125.2L282.2 122.5L282.4 121L283 119.8L283.7 118.7L283 117.2L282.4 115.7L284.9 115.2L286.2 115.4L287.8 116.5L289.6 116.8L291.3 115.7L292.8 116.1L291.6 117.5L291.6 122.3L292.3 123.3L290.9 124.5L289.9 126.5L289.5 127.3L289.2 127.4L287.4 126.1Z" fill="#FCBE2E" stroke="#FCBE2E"/>
<path d="M276.6 122L277 120.3L278.8 118.3L278.1 116.6L279.7 116.5L281 116.1L282.4 115.7L283 117.2L283.7 118.7L283 119.8L282.4 121L282.2 122.5L277.7 122.5L276.6 123.1Z" fill="#FFFF00" stroke="#FFFF00"/>
<path d="M278.1 122.7L277.7 124.4L277 124.8L275.8 124.8L276 123.5L276.6 123.1L277.7 122.5Z" fill="#FFFF00" stroke="#FFFF00"/>
<path d="M277.7 124.4L278.1 125.5L277.1 126.9L276.3 127L276 125.9L275.8 124.8L277 124.8Z" fill="#FCBE2E" stroke="#FCBE2E"/>
<path d="M291.6 117.5L292.8 116.1L294.1 115.6L295.4 114.8L296.9 114.7L300.8 110.7L299.4 110.7L295.4 109.4L294 106.9L294.5 106.1L295.6 107.4L297.5 107.4L299.5 106.5L302.2 106.4L305.1 105.6L304.8 107.6L304.1 109.4L302.8 112L301.5 114.4L300.2 116.2L298.2 118.2L296.2 119.5L294.2 121.2L292.4 123.2L292.3 123.3L291.6 122.3Z" fill="#D3D3D3" stroke="#D3D3D3"/>
<path d="M292.7 106.8L292.7 105.9L293.4 104.8L294.3 104.6L294.6 104.8L294.5 106.1L294 106.9Z" fill="#FCBE2E" stroke="#FCBE2E"/>
<path d="M291.3 102.7L289.1 102.1L287.5 101.7L287 102.6L285.7 102.5L286.2 99.8L287 98.5L288.3 97.7L289.4 100.5L290.3 101.5L291.9 102.2L293.6 104.2L294.3 104.6L293.4 104.8Z" fill="#FF0000" stroke="#FF0000"/>
<path d="M287.5 101.7L289.1 102.1L291.3 102.7L293.4 104.8L292.7 105.9L292.7 106.8L294 106.9L295.4 109.4L299.4 110.7L300.8 110.7L296.9 114.7L295.4 114.8L294.1 115.6L292.8 116.1L291.3 115.7L289.6 116.8L287.8 116.5L286.2 115.4L284.9 115.2L284.1 114.1L283.3 112.4L282 111.1L281 110.7L282.5 109.9L282.5 108.8L282.8 107.3L283.7 106.8L283.5 105.6L285.1 104.6L285.7 102.5L287 102.6Z" fill="#FCBE2E" stroke="#FCBE2E"/>
<path d="M279.7 116.5L278.1 116.6L276.4 115.3L275 115.6L273.7 114.5L272.3 112.6L270.8 111L269.4 109.8L270.2 108.4L270.5 107.7L271.5 107.6L272.5 108.8L274.3 108.6L275.5 108.9L277.1 107.7L278.7 108.4L280.2 106.8L279.9 105.5L280.6 105.2L281.3 105.2L281.2 107.2L282.2 107.8L282.5 108.8L282.5 109.9L281 110.7L282 111.1L283.3 112.4L284.1 114.1L284.9 115.2L282.4 115.7L281 116.1Z" fill="#D3D3D3" stroke="#D3D3D3"/>
<path d="M286.2 99.8L285.7 102.5L285.1 104.6L283.5 105.6L283.7 106.8L282.8 107.3L282.5 108.8L282.2 107.8L281.2 107.2L281.3 105.2L280.6 105.2L279.9 105.5L280.2 106.8L278.7 108.4L277.1 107.7L275.5 108.9L274.3 108.6L272.5 108.8L271.5 107.6L270.5 107.7L270.2 108.4L269.4 109.8L268.5 109.4L268.6 108.2L267.7 106.9L267.2 104.7L266.3 104.4L266.9 103.6L267.3 102.6L267.7 100.8L269.2 100.6L269.2 95.6L269.2 95L270.5 95L270.5 92.4L286.1 92.4L286.6 93.7L286.7 96.3L288.3 97.6L288.3 97.7L287 98.5Z" fill="#FF0000" stroke="#FF0000"/>
<path d="M270.8 79.8L270.8 79.7L273.1 80.2L275.8 80.7L277.7 79.9L279.7 80.2L280.1 80.3L280.4 81.9L280.6 83.2L281.7 84.5L282.4 85.8L283 87.1L284.1 89.1L284.6 91L286.1 92.4L270.5 92.4L270.5 82.9Z" fill="#FCBE2E" stroke="#FCBE2E"/>
<path d="M269.2 95L269.2 95.6L258.6 90.5L257.3 91L256.2 91.6L253.3 90.4L252.7 89.3L251 88.9L250 86.7L250.6 85.1L250.4 82.6L250 81.6L251 80.8L251.1 79.6L252.7 78.6L252.8 77.7L252.8 77.7L254 78.2L256 78.4L257.7 78.8L258.2 80L260.6 80.8L262.6 81.5L263.9 80.5L263.9 78.8L265.9 78.1L267.8 78.4L270.5 79.6L270.8 79.7L270.8 79.8L270.5 82.9L270.5 92.4L270.5 95Z" fill="#D3D3D3" stroke="#D3D3D3"/>
<path d="M251.1 79.6L251 80.8L250 81.6L249.4 79.1L248.5 78.6L247.5 77.3L248.3 75.7L248.5 73.3L248.8 72.8L248.9 72.5L249.4 72.4L250.7 72.3L252 72.7L251.4 74L251.8 75.3L251 76.2L252 77.3L252.8 77.6L252.8 77.7L252.7 78.6Z" fill="#B9FF45" stroke="#B9FF45"/>
<path d="M235.5 75L237.5 74.1L239.5 73.3L241.5 72.9L244.1 72.9L246.7 72.7L248 72.6L248.8 72.8L248.5 73.3L248.3 75.7L247.5 77.3L248.5 78.6L249.4 79.1L250 81.6L250.4 82.6L250.6 85.1L250 86.7L251 88.9L252.7 89.3L253.3 90.4L247.4 93.8L245.2 95.6L243 96.2L241.9 96.3L241.7 95.2L239.9 94.6L239.1 93.5L231 88.4L226 85.4L226 83.6L228.3 82.5L230.5 81.9L232.6 80.7L232.8 79.6L235.8 79L235.9 78.6L235.1 76L234.6 75.2L234.6 75Z" fill="#FCBE2E" stroke="#FCBE2E"/>
<path d="M269.2 95.6L269.2 100.6L267.7 100.8L267.3 102.6L266.9 103.6L266.3 104.4L267.2 104.7L267.7 106.9L266.1 107.3L264.4 109.3L262.7 109.4L262.4 109.8L260.9 110.9L259.4 111.1L258 111.4L257.6 110.1L255.8 108.6L256.2 108.1L258 108.1L257.4 107.1L257.3 106L256.6 104.3L256.2 105L255.4 103.2L255.3 102.3L255.8 100.6L258 99L257.7 97.7L258.2 95.1L258.5 94.5L257.4 93.3L257.3 91L258.6 90.5Z" fill="#D3D3D3" stroke="#D3D3D3"/>
<path d="M260.9 110.9L262.4 109.8L262.7 109.4L264.4 109.3L266.1 107.3L267.7 106.9L268.6 108.2L268.5 109.4L269.4 109.8L270.8 111L272.3 112.6L273.7 114.5L270.9 114.7L269.8 114.5L267.7 114.9L267.2 115.8L264.5 115.3L263.2 114.7L262 115.6L262 116.6L259.5 116.6L259.3 117.5L258.9 119L258.7 117.4L257.6 116.1L256.9 115.3L256.6 114.3L257 112.8L258 111.4L259.4 111.1Z" fill="#FF8C00" stroke="#FF8C00"/>
<path d="M262.6 159.1L263.9 158.5L263.9 153.8L264.8 156.4L266 156.4L267.3 155.5L267.8 154.4L270.1 154.7L271.3 154.5L272.9 153.1L273.1 152.2L274.8 151.1L276.3 150.3L278.8 150.6L279.6 153.1L279.7 155.1L278.8 154.9L278.1 156L278.7 157L279.7 156.9L279.9 156.4L280.9 156.5L280.9 157.3L280.4 158.9L278.7 160.3L277.5 161.9L275.1 164.3L273.1 165.4L271.4 165.8L268.5 165.8L266.5 166.1L263.9 166.9L261.9 166.1L261.5 164.3L261.2 163.2L260.3 161.2L259.3 158.7L260.6 158.9ZM273.7 161L274.7 161.4L275.8 161L276.3 159.9L275.6 158.9L274.4 158.9L273.1 160.1Z" fill="#006400" stroke="#006400"/>
<path d="M279.7 156.9L278.7 157L278.1 156L278.8 154.9L279.7 155.1L279.9 156.4Z" fill="#FCBE2E" stroke="#FCBE2E"/>
<path d="M274.4 158.9L275.6 158.9L276.3 159.9L275.8 161L274.7 161.4L273.7 161L273.1 160.1Z" fill="#B9FF45" stroke="#B9FF45"/>
<path d="M302.5 137L304.1 141.3L302.8 144.2L301.5 148.1L299.9 153.6L297.3 154.7L295.2 152.7L294.6 150.1L296 147.5L295.6 144.2L297.5 142.2L300.2 140.6L301.5 138.7Z" fill="#FFFF00" stroke="#FFFF00"/>
<path d="M307.8 104.6L309.4 104.7L308.5 105.1Z" fill="#FF8C00" stroke="#FF8C00"/>
<path d="M374.9 107.7L375.2 107.6L375.2 107.8ZM373.7 114.9L373.7 115.3L372.8 113.9ZM339.8 110.6L338.4 109.4L338.1 108.2L339.8 110.5ZM310.1 86.2L308.1 85.9L305.5 84.7L305.2 84.3L310.9 86ZM301.1 82.1L300.8 81.9L301.3 81.9ZM304.5 88.4L304.6 88.2L304.5 88.8L303.9 87.8L303.9 87.3ZM305.6 88.7L305.8 88.9L305.6 88.9L305.6 89.5L305.1 88.9L305.6 88.4Z" fill="#D3D3D3" stroke="#D3D3D3"/>
<path d="M277.1 42.6L275.1 41.8L274 41.9L274.2 41.8L277.1 40.1L279.1 38.7L277.7 37L276.7 36.2L277.2 35L275.8 33.4L277.1 32.4L275.4 31.7L275 30.8L275.6 30.6L278 29.7L281 30.2L285.7 30.7L290.9 32.3L291.9 33.6L290.3 34.4L287.6 34.4L283 33.8L281 33.6L283.4 35.3L283.4 36.6L287 37.4L287.6 36.6L290.3 36.5L290.5 34.9L292.9 34.1L295.8 34.4L295.8 32.3L294.9 31.2L298.2 31.6L298.9 33.3L301.5 32.4L307.4 31.3L309.4 31.7L314 31L317.3 30.7L317.3 29.6L322.6 30.7L325.9 31L327.9 31.6L325.9 30L325.9 28.1L327.9 26.1L329.9 25.4L333.2 25.7L333.2 28.1L332.5 30.7L333.2 32.7L335.1 33.3L334.5 31.3L335.1 28.1L336.5 26.1L340.4 26.5L343.7 26.8L343.7 24.8L351 24.4L352.3 22.8L358.9 21.8L366.8 21.1L374.7 19.3L378.7 20.5L385.3 21.1L386.6 23.5L382.6 24.1L386.6 24.4L393.2 25.1L400.5 24.7L405.1 25.1L408.4 27.4L411.7 27.4L415.6 27.4L422.2 26.1L423.5 25.7L430.1 26.4L435.4 27.4L439.4 28.2L447.3 28.3L449.3 29.9L453.9 29.8L459.2 29.5L462.5 30.7L463.1 29.4L469.7 29.6L475 30.8L475 35.9L473.7 36.6L471.7 36.3L473 38.2L474.3 39.2L471 39.2L467.1 40.1L464.4 41.2L462.2 42.5L456.5 42.5L453.2 42.8L453.9 44.5L451.9 45.4L452.6 47.4L451.2 49.1L448.6 51.4L446.4 52.7L444.3 54.3L442.9 51.7L442.9 49.1L444 46L446.6 44.7L449.9 42.5L453.2 40.5L452.8 39.5L448.6 40.5L444.7 40.4L441.4 43.2L436.7 43.4L434.1 43L426.2 43.4L422.2 45.8L418.9 48.7L416.3 49.5L418.9 50.4L422.2 50.4L423.9 51.7L422.9 54.3L422.6 56.9L420.2 59.8L416.9 62.8L413.6 64.8L411.7 64.5L410 65.5L409.8 65.6L409.8 65.6L410.6 64.3L410.6 62.4L413.1 62L415.2 57.9L410.3 58.6L409.8 57.1L405.7 55.4L403.8 52.1L400.5 51L396.8 52.3L394.8 55.4L392.9 56.3L391.5 55.9L387.9 55.4L384 56.5L380.7 56.5L378 55.2L372.5 54.8L372.3 53.9L368.1 53L366.5 53.7L366.8 54.8L362.2 55.5L358.2 54.8L354.3 56.3L353.3 56.7L352.7 56.7L349.9 56.1L347.5 54.3L343.1 54.6L340.3 51.3L338.4 50.1L334.9 51L334.5 50.4L331.4 50.1L330.9 48.7L327.5 49.1L323.5 49.8L321.9 50L318 50.5L317.9 52.3L318.6 54.6L316.1 55L314.7 54.2L311 54.8L309.4 54.3L306.8 53.7L304.5 53.4L301.8 54.8L300.2 55.1L299.2 56.5L299.5 58.2L302.1 60.2L299.5 61.5L299.5 62.8L299.9 64.4L300.8 66.4L301.2 66.7L300.6 67.2L298.7 66.2L296.2 65.2L293.6 64.5L290.4 64.3L289.9 64L287.6 63L285.9 62L285.4 62.1L286.1 61.8L286.1 61.7L287 61.7L287.6 60.9L289.2 59.6L287.9 59.4L290 58.4L290.4 56.1L287.6 55.8L284.5 55.1L282.1 52.5L279.5 52.9L278.9 51.4L280.6 51.2L278.1 49.3L278.3 48.3L274.7 47.5L274.2 46L273.7 45.6L273.9 45.3L273.7 44.1L274.4 43.2ZM402.5 71.7L403.9 71.8L402.9 71.8ZM302.3 70.9L302 70.8L300.8 70.3L302.2 70.8L302.2 70.8ZM284.7 75.3L284.9 75.7L284.5 76.1ZM265.2 48.7L265.6 48.7L267.5 49.2L267.6 49.8L263.6 49.8Z" fill="#FFFF00" stroke="#FFFF00"/>
<path d="M354.8 58.1L356.6 58.6L357.6 59.7L357.4 61.8L360.9 62.3L363.4 63.1L364.7 65.2L370.5 65.2L376 66.6L383.2 65.1L385.3 63.8L385 62.2L387.9 62.2L389.9 61.7L391.5 60.3L393.2 59.9L395.4 60.1L395.6 59.3L393.9 58.4L392.9 58.6L390.3 58.6L389.9 58L391.5 55.9L392.9 56.3L394.8 55.4L396.8 52.3L400.5 51L403.8 52.1L405.7 55.4L409.8 57.1L410.3 58.6L415.2 57.9L413.1 62L410.6 62.4L410.6 64.3L409.8 65.6L408.8 64.9L406.4 66.1L406.5 66.9L404.9 66.4L401.6 68.6L401.5 68.8L401.5 68.7L398.5 70.1L397.5 70.1L398.5 68.1L397.2 67.6L394.5 69.7L392.8 70.1L393.9 71.6L396.5 72L399.1 72.3L397.2 73.3L394.9 75L396.5 76.6L398.2 79.2L398.2 80.5L398.5 81.9L397.8 83.8L395.8 86.5L394.5 88L392.5 90L390.6 91.2L387.9 91.8L385.9 92.6L383.3 93.3L382.6 94.5L382 93L380 92.9L379.9 93L378.3 92.4L378 91.2L376.4 90.7L375.8 91.3L374.6 91.7L372.7 91.4L372.2 91.8L371.7 93.4L371 93.4L371 92.9L369.4 93L368.4 92.2L368.5 90.9L367.9 89.7L366.3 89.9L366.4 88.4L367.7 87.2L367.7 85.1L366.1 84.1L364.6 82.8L362.8 82.9L360.9 83.6L358.9 84.7L358.5 84.7L356.9 84.2L354.9 85.3L354.8 85.4L354.7 84.4L353.7 84.6L351.6 84.5L350.6 84.1L348.6 83.3L347 82.4L345.7 81.5L344.4 81.6L342.4 80.5L341.3 79.9L341.3 78.4L342.1 78.4L341.7 76.2L340.8 75.8L340.2 74.6L337.6 73.2L336.3 72.5L336.1 72.3L336.5 70.7L334.9 70.6L334.7 69.5L335.1 68.6L337.2 68.1L339 67.4L340.7 67.3L343.3 65.9L343.6 64.7L342.9 62.3L346.1 61.5L347 59.3L350.3 59.4L351 57.6L352.7 56.7L353.3 56.7Z" fill="#006400" stroke="#006400"/>
<path d="M358.2 54.8L362.2 55.5L366.8 54.8L366.5 53.7L368.1 53L372.3 53.9L372.5 54.8L378 55.2L380.7 56.5L384 56.5L387.9 55.4L391.5 55.9L389.9 58L390.3 58.6L392.9 58.6L393.9 58.4L395.6 59.3L395.4 60.1L393.2 59.9L391.5 60.3L389.9 61.7L387.9 62.2L385 62.2L385.3 63.8L383.2 65.1L376 66.6L370.5 65.2L364.7 65.2L363.4 63.1L360.9 62.3L357.4 61.8L357.6 59.7L356.6 58.6L354.8 58.1L353.3 56.7L354.3 56.3Z" fill="#FCBE2E" stroke="#FCBE2E"/>
<path d="M299.2 56.5L300.2 55.1L301.8 54.8L304.5 53.4L306.8 53.7L309.4 54.3L311 54.8L314.7 54.2L316.1 55L318.6 54.6L317.9 52.3L318 50.5L321.9 50L323.5 49.8L327.5 49.1L330.9 48.7L331.4 50.1L334.5 50.4L334.9 51L338.4 50.1L340.3 51.3L343.1 54.6L347.5 54.3L349.9 56.1L352.7 56.7L351 57.6L350.3 59.4L347 59.3L346.1 61.5L342.9 62.3L343.6 64.7L343.3 65.9L341.7 65.1L337.4 64.9L335.4 64.5L334.5 65.5L331.2 65.3L331 65.7L328.5 66.9L328 67.8L327.2 67.4L325.5 67.2L325.2 66.2L324.6 66.1L324.7 64.8L323.1 63.9L319.3 64.1L318.1 63.1L314.8 61.4L311.4 62.2L311.4 67L309.8 66.2L308.1 65.9L307.4 66.1L306.8 65.5L303.9 64.8L304.8 62.8L307.4 62.2L307.4 60.2L305.5 59.8L302.2 60.2L302.1 60.2L299.5 58.2Z" fill="#FCBE2E" stroke="#FCBE2E"/>
<path d="M406.5 66.9L406.4 66.1L408.8 64.9L409.8 65.6L409.8 65.6L408.6 67L407 68.5L405.7 69.4L406.8 70.6L406.8 70.6L405.1 71L403.9 71.8L402.5 71.7L402.4 71.6L402.7 69.4L401.5 68.8L401.6 68.6L404.9 66.4Z" fill="#D3D3D3" stroke="#D3D3D3"/>
<path d="M405.1 71L406.8 70.6L408.2 72.7L408.2 74.4L407 75.4L404.4 76.1L404.1 74.6L404.5 72.7L402.9 71.8L403.9 71.8Z" fill="#B9FF45" stroke="#B9FF45"/>
<path d="M331.2 89.2L331 88.2L330 87.2L330.3 86.5L329.3 85.5L330.7 84.5L332.4 84.6L333.7 83.2L334.3 82L335.8 80.7L335.9 80.4L336.9 78.8L336.1 78.6L335.5 77.9L335 76.7L335.1 75.7L337.5 76L339.1 75.3L340.2 74.6L340.8 75.8L341.7 76.2L342.1 78.4L341.3 78.4L341.3 79.9L342.4 80.5L344.4 81.6L343.6 82.1L343.2 83.4L344.6 84L346.6 85L348.5 85.3L349.9 86.1L351 86.3L352.7 86.6L353.7 86.6L353.7 84.6L354.7 84.4L354.8 85.4L354.9 86.1L356.6 86.1L358.9 86.1L359 85.3L358.5 84.7L358.9 84.7L360.9 83.6L362.8 82.9L364.6 82.8L366.1 84.1L365.9 84.9L364.4 85.4L363.1 86.3L362.3 88.2L362.5 88.9L361.7 89.9L360.7 89.7L360.6 91.2L360.5 92.1L359.7 92.5L359.3 91L357.8 91L357.8 89.6L359.3 88.6L359.4 88.3L356.8 88.2L356 88L356 87.1L354.3 86.5L353.7 87.4L354.8 88.2L353.7 89.1L354.7 89.6L354.5 90.8L354.9 92.4L354.8 92.6L353 93L352.3 94.1L351.4 95.1L349.7 95.9L347.7 97.9L346.1 99.3L344.1 100.5L343.2 102.2L343.3 104.2L342.9 106.1L342.8 107.7L341.7 109L340.7 109.5L339.8 110.5L338.1 108.2L337.5 106.4L336.2 104.2L335.1 101.5L334.2 98.9L333.6 96.3L333.4 93.7L333.2 92.4L330.3 93.9L328.5 92.1L330.3 91L327.9 90.4L327.5 90.2L327.5 90.1L328.3 89.3Z" fill="#B9FF45" stroke="#B9FF45"/>
<path d="M347 82.4L348.6 83.3L350.6 84.1L351.6 84.5L353.7 84.6L353.7 86.6L352.7 86.6L351 86.3L349.9 86.1L348.5 85.3L346.6 85L344.6 84L343.2 83.4L343.6 82.1L344.4 81.6L345.7 81.5Z" fill="#FCBE2E" stroke="#FCBE2E"/>
<path d="M356.9 84.2L358.5 84.7L359 85.3L358.9 86.1L356.6 86.1L354.9 86.1L354.8 85.4L354.9 85.3Z" fill="#B9FF45" stroke="#B9FF45"/>
<path d="M354.7 89.6L353.7 89.1L354.8 88.2L353.7 87.4L354.3 86.5L356 87.1L356 88L356.8 88.2L359.4 88.3L359.3 88.6L357.8 89.6L357.8 91L359.3 91L359.7 92.5L359.4 93.6L358.9 92.4L357.6 91.4L356.6 92.4L354.9 92.6L354.9 92.4L354.5 90.8Z" fill="#FF8C00" stroke="#FF8C00"/>
<path d="M321 86.2L320.4 85.5L320.4 84.2L319.2 83.8L317.9 82L320 82.6L321.9 82.5L325.1 82L325.8 80.2L327.5 79.5L328.9 79.4L328.9 78.1L330.3 77.5L329.7 76.6L331.3 76.5L332 75.4L331.4 74L333.2 72.9L335.3 72.9L336.3 72.5L337.6 73.2L340.2 74.6L339.1 75.3L337.5 76L335.1 75.7L335 76.7L335.5 77.9L336.1 78.6L336.9 78.8L335.9 80.4L335.8 80.7L334.3 82L333.7 83.2L332.4 84.6L330.7 84.5L329.3 85.5L330.3 86.5L330 87.2L331 88.2L331.2 89.2L328.3 89.3L327.5 90.1L327.4 90.1L326.6 89.7L325.5 88.4L322.6 88.2L318.8 88.2L319 86.8Z" fill="#D3D3D3" stroke="#D3D3D3"/>
<path d="M320.6 74.8L322.6 73.6L324.1 72.3L325.2 72.2L327 72.4L328.9 72.4L330.4 71L331.4 70.8L331.8 71.5L332.2 73.1L334.2 72.2L336.1 72.3L336.3 72.5L335.3 72.9L333.2 72.9L331.4 74L332 75.4L331.3 76.5L329.7 76.6L330.3 77.5L328.9 78.1L328.9 79.4L327.5 79.5L325.8 80.2L325.1 82L321.9 82.5L320 82.6L317.9 82L319 80.8L317.9 79.9L317.3 76.6L318.2 73.2L318.2 74.5Z" fill="#D3D3D3" stroke="#D3D3D3"/>
<path d="M309.8 66.2L311.4 67L312.7 67L314.8 65.2L316.7 65.9L316.8 66.9L319.2 67.3L319.8 68.7L322.5 70.2L325.2 71.4L325.2 72.2L324.1 72.3L322.6 73.6L320.6 74.8L318.2 74.5L318.2 73.2L315.7 72L313.1 71.1L311.4 71.2L308.6 72.3L308.3 72.2L308.8 72L307.4 69.4L308.5 67.4L307.4 66.1L308.1 65.9Z" fill="#D3D3D3" stroke="#D3D3D3"/>
<path d="M314.8 61.4L318.1 63.1L319.3 64.1L323.1 63.9L324.7 64.8L324.6 66.1L325.2 66.2L325.5 67.2L327.2 67.4L328 67.8L328.5 66.9L331 65.7L331.6 65.9L330.5 66.8L332.1 66.8L333.8 67.7L332.1 68.5L330.5 68.3L330.7 67.6L328.9 67.7L328 68.5L328.5 68.9L326.4 69.8L327.8 71.1L327 72.4L325.2 72.2L325.2 71.4L322.5 70.2L319.8 68.7L319.2 67.3L316.8 66.9L316.7 65.9L314.8 65.2L312.7 67L311.4 67L311.4 62.2Z" fill="#D3D3D3" stroke="#D3D3D3"/>
<path d="M334.5 65.5L335.4 64.5L337.4 64.9L341.7 65.1L343.3 65.9L340.7 67.3L339 67.4L337.2 68.1L335.1 68.6L334.7 69.5L332.5 69.5L330.5 69.3L328.9 69.3L328.9 68.5L330.5 68.3L332.1 68.5L333.8 67.7L332.1 66.8L330.5 66.8L331.6 65.9L331 65.7L331.2 65.3Z" fill="#FCBE2E" stroke="#FCBE2E"/>
<path d="M326.4 69.8L328.5 68.9L328 68.5L328.9 67.7L330.7 67.6L330.5 68.3L328.9 68.5L328.9 69.3L330.5 69.3L332.5 69.5L334.7 69.5L334.9 70.6L336.5 70.7L336.1 72.3L334.2 72.2L332.2 73.1L331.8 71.5L331.4 70.8L330.4 71L328.9 72.4L327 72.4L327.8 71.1Z" fill="#FCBE2E" stroke="#FCBE2E"/>
<path d="M360.5 92.1L360.6 91.2L360.7 89.7L361.7 89.9L362.5 88.9L362.3 88.2L363.1 86.3L364.4 85.4L365.9 84.9L366.1 84.1L367.7 85.1L367.7 87.2L366.4 88.4L366.3 89.9L367.9 89.7L368.5 90.9L368.4 92.2L369.4 93L371 92.9L371 93.4L370.1 94.6L369.6 94.5L368.8 94.6L368 95.2L366.5 95.5L366 96.9L367.6 99.6L367.1 101.3L368.3 103.1L368.4 104.7L368.9 105.7L367.9 107.6L367.5 108.1L367.7 105.5L366.8 102.9L366.4 100.2L365.8 99.2L364.2 99.6L363.2 100.5L361.9 100L362.2 97.6L361.1 95.6L359.5 93.9L359.4 93.6L359.7 92.5Z" fill="#FF8C00" stroke="#FF8C00"/>
<path d="M368.9 105.7L368.4 104.7L368.3 103.1L367.1 101.3L367.6 99.6L366 96.9L366.5 95.5L368 95.2L368.8 94.6L369.6 94.5L370.2 95.6L371.2 95.6L370.8 97.1L371 98.3L372.2 97.3L373.4 97.1L374.7 97.2L375.6 98.3L375.8 99.7L376.8 100.6L376.7 102.2L376.3 102.5L373.4 102.5L372.6 103.4L373.3 105.9L373.2 106L373.1 105.9L372.1 104.8L370.6 103.6L369.4 103.8L369.2 106.1L368.4 108.4L369.7 110.1L370.5 112L372.1 113.1L372.1 113.1L370.9 113.7L369.8 113L369.7 112.7L368.8 111.8L367.2 110.5L367.5 108.1L367.9 107.6Z" fill="#B9FF45" stroke="#B9FF45"/>
<path d="M371 93.4L371.7 93.4L372.2 91.8L373.3 92.7L373.5 93.9L375.5 94.2L374.7 95.6L376.3 96.9L378 99L379.2 100.2L379.5 101.4L379.3 101.9L377.4 102.5L376.3 102.5L376.7 102.2L376.8 100.6L375.8 99.7L375.6 98.3L374.7 97.2L373.4 97.1L372.2 97.3L371 98.3L370.8 97.1L371.2 95.6L370.2 95.6L369.6 94.5L370.1 94.6Z" fill="#D3D3D3" stroke="#D3D3D3"/>
<path d="M373.4 102.5L376.3 102.5L377.4 102.5L379.3 101.9L379.5 103.6L379.3 105.1L377.2 105.9L377.6 106.8L376.2 106.9L375.2 107.6L374.9 107.7L374.1 107.3L373.3 106.1L373.3 105.9L372.6 103.4Z" fill="#D3D3D3" stroke="#D3D3D3"/>
<path d="M376.2 106.9L377.6 106.8L377.2 105.9L379.3 105.1L379.5 103.6L379.3 101.9L379.5 101.4L379.2 100.2L378 99L376.3 96.9L374.7 95.6L375.5 94.2L373.5 93.9L373.3 92.7L372.2 91.8L372.7 91.4L374.6 91.7L375.8 91.3L376.4 90.7L378 91.2L378.3 92.4L379.9 93L378.3 94.3L377.1 96.3L378 98L380.4 100.2L381.7 103.5L381.6 105.9L379.3 107.4L378.3 108.8L376 109.8L375.8 108.1L375.2 107.8L375.2 107.6Z" fill="#B9FF45" stroke="#B9FF45"/>
<path d="M372.1 113.1L372.8 113.9L373.7 115.3L374.1 117.3L375 119.3L374.1 119.4L372.1 118.2L371.2 117.3L370.1 114.7L369.8 113L370.9 113.7Z" fill="#FCBE2E" stroke="#FCBE2E"/>
<path d="M296.1 69.5L296.6 69.1L296.6 69.5L297.4 70.1L298.3 70.2L298.9 70.2L299.5 69.7L301.2 69.5L300.8 70.3L302 70.8L302.3 70.9L303.5 72.2L306.1 72.9L308.2 72.2L308.6 72.3L311.4 71.2L313.1 71.1L315.7 72L318.2 73.2L317.3 76.6L317.9 79.9L319 80.8L317.9 82L319.2 83.8L320.4 84.2L320.4 85.5L321 86.2L319 86.8L318.8 88.2L318.6 88.2L315.3 87.9L313.1 87.5L312.4 85.8L310.9 86L305.2 84.3L304.1 82.9L302.8 81.6L301.8 81.5L301.5 81.7L300.4 80.5L300.4 78.8L298.5 77.7L297.7 75.8L298.3 74.4L297.3 74L296.6 72.4L296 70.8Z" fill="#00FF00" stroke="#00FF00"/>
<path d="M272.6 67L272.3 66.5L273.5 66L274.3 66.1L274.4 66.6L276 67.2L278.8 67.3L281.4 66.1L283.9 66.1L285.7 67L288.3 67.6L290.7 67.4L292.2 66.8L292.3 66.8L294 66.8L294.9 67.3L295.2 68.5L296.6 69.1L296.1 69.5L296 70.8L296.6 72.4L293.4 72.5L291.2 72.5L288.3 72.8L286.5 73.1L285.8 73.7L285.3 74.1L285 74.1L285.3 73.2L283 73.1L280.4 73.9L277.9 72.9L275.8 73.3L273.5 72.7L273.1 70.7L272.2 69.4L272.1 68.7L271.8 67.8L272.2 67.6Z" fill="#FF0000" stroke="#FF0000"/>
<path d="M296.2 65.2L298.7 66.2L299 67.2L296.9 67L294.9 67.3L294 66.8L292.3 66.8L292.2 66.8L292.5 66.6L292.3 65.2L290.4 64.3L293.6 64.5Z" fill="#D3D3D3" stroke="#D3D3D3"/>
<path d="M297.7 67.7L298.1 68.5L298.9 69.4L298.9 70.2L298.3 70.2L297.5 69.4L296.6 69.1L295.2 68.5L294.9 67.3L296.9 67Z" fill="#FFFF00" stroke="#FFFF00"/>
<path d="M302.8 68.3L302.2 70.7L302.2 70.8L302.2 70.8L300.8 70.3L301.2 69.5L299.5 69.7L298.9 70.2L298.9 69.4L298.1 68.5L297.7 67.7L296.9 67L299 67.2L298.7 66.2L300.6 67.2L301.2 66.7ZM297.4 70.1L296.6 69.5L296.6 69.1L297.5 69.4L298.3 70.2Z" fill="#FFFF00" stroke="#FFFF00"/>
<path d="M285.8 73.7L286.5 73.1L288.3 72.8L291.2 72.5L293.4 72.5L292 73.5L292 74.5L291.6 76.1L288.7 77.4L286.1 78.8L284.7 78.3L284.7 77.5L285.8 76.3L285.4 75.8L284.9 75.7L284.7 75.3L284.9 74.6L285 74.1L285.3 74.1Z" fill="#D3D3D3" stroke="#D3D3D3"/>
<path d="M285.4 75.8L285.8 76.3L284.7 77.5L283.9 77.8L284.3 76.7L284.5 76.1L284.9 75.7Z" fill="#D3D3D3" stroke="#D3D3D3"/>
<path d="M283.5 78.6L283.9 77.8L284.7 77.5L284.7 78.3L284.5 78.7L284.3 79.9L284.2 80.7L283.6 82.5L282.8 80.2L282.8 79.9Z" fill="#D3D3D3" stroke="#D3D3D3"/>
<path d="M284.3 79.9L284.5 78.7L284.7 78.3L286.1 78.8L288.7 77.4L289.2 79L286.3 79.9L287.6 81.2L287 81.9L285.9 82L285.1 82.9L283.7 82.8L283.6 82.5L284.2 80.7Z" fill="#8B2323" stroke="#8B2323"/>
<path d="M297.3 74L298.3 74.4L297.7 75.8L298.5 77.7L300.4 78.8L300.4 80.5L301.5 81.7L301.3 81.9L300.8 81.9L300.4 81.7L299 83L296.5 82.9L292.9 80.4L290.8 79.4L289.2 79L288.7 77.4L291.6 76.1L292 74.5L292 73.5L293.4 72.5L296.6 72.4Z" fill="#8B2323" stroke="#8B2323"/>
<path d="M300.8 81.9L301.1 82.1L300.8 82.3L301.4 83.6L301.4 83.7L300.2 83.8L299 83L300.4 81.7Z" fill="#D3D3D3" stroke="#D3D3D3"/>
<path d="M285.9 82L287 81.9L287.6 81.2L286.3 79.9L289.2 79L290.8 79.4L292.9 80.4L296.5 82.9L299 83L300.2 83.8L301.4 83.7L301.5 83.8L301.5 83.8L302.8 85.4L303.5 86.5L303.9 87.3L303.9 87.8L304.5 88.8L305.1 88.9L305.6 89.5L305.6 91.2L306.9 91.2L310.3 91.4L311 92.4L310.1 95L306.1 96.3L302.2 96.8L300.2 98.8L299.1 98.5L297.1 98.4L295.6 98.4L294.6 98.3L294.4 99.3L294 99.7L293.8 99.7L293.8 99.6L292.3 97.6L290.9 95.6L289.2 93.3L288.6 91L287 89.3L285.9 87.1L284.1 84.6L283.6 82.9L283.7 82.8L285.1 82.9Z" fill="#8B2323" stroke="#8B2323"/>
<path d="M294.6 98.3L295.6 98.4L297.1 98.4L299.1 98.5L300.2 98.8L302.2 96.8L306.1 96.3L307.6 99.4L307.6 99.5L307.4 99.6L306.4 100.8L303.5 101.8L301.5 102.9L298.9 103.6L296.9 104.4L294.9 104.6L294.5 103.8L294 101.5L293.9 100L294 99.7L294.4 99.3Z" fill="#FF8C00" stroke="#FF8C00"/>
<path d="M310.1 95L311 92.4L310.3 91.4L311.1 89.5L311.8 88.6L311.9 88.6L311.9 88.7L313.4 90L315 90.3L316.4 91.7L315 94.3L313.8 96.3L312 97.6L310.1 98.9L307.7 99.5L307.6 99.4L306.1 96.3ZM311.5 87.1L311.8 86.8L311.8 87.5L311.5 87.5Z" fill="#8B2323" stroke="#8B2323"/>
<path d="M305.8 88.9L306.8 89.5L308.8 89.5L310.7 88L311.5 87.1L311.5 87.5L311.8 87.5L311.9 88.3L311.8 88.6L311.1 89.5L310.3 91.4L306.9 91.2L305.6 91.2L305.6 89.5L305.6 88.9Z" fill="#8B2323" stroke="#8B2323"/>
<path d="M304.8 87.1L305.5 87.1L305.6 88.4L305.1 88.9L304.5 88.8L304.6 88.2Z" fill="#D3D3D3" stroke="#D3D3D3"/>
<path d="M283.6 82.8L283.5 82.6L282.9 84.5L282.6 84.9L281.3 83.7L280.5 82L280.1 80.3L281 80.4L282.6 80.2L282.6 80.1L282.8 80.2L283.6 82.5Z" fill="#FCBE2E" stroke="#FCBE2E"/>
<path d="M276.2 30.3L275 29.6L274.3 29.2L271.8 29.8L271.4 30.7L270.4 31.2L268.8 31L267.1 31.1L266 30.3L264.7 30.6L263.9 31.5L261.4 31.3L261.1 32.1L259.1 32.7L258.7 33.3L257.8 34.2L256.6 34.5L256.6 35.5L255.6 36.5L256.1 36.7L255.8 37.3L253.5 37.8L253.6 38.6L253.7 40.1L254.5 40.8L253.6 41.2L254.1 42L253.1 42.6L252.9 43.5L252.3 43.7L252.2 43.8L251.4 43.2L250 44.1L248.1 45L246.1 44.9L244.5 43.4L244.1 41.2L244.4 39.6L246.7 38.6L250 37.6L252 36.2L254 34.6L255.3 32.7L257.3 31.6L259.3 30.7L261.9 29.6L265.2 29.1L268.5 28.3L271.5 27.9L275.1 28.1L278.4 29L277.7 29.6L278 29.7L275.6 30.6Z" fill="#006400" stroke="#006400"/>
<path d="M253.1 42.6L254.1 42L253.6 41.2L254.5 40.8L253.7 40.1L253.6 38.6L253.5 37.8L255.8 37.3L256.1 36.7L255.6 36.5L256.6 35.5L256.6 34.5L257.8 34.2L258.7 33.3L259.1 32.7L261.1 32.1L261.4 31.3L263.9 31.5L264.7 30.6L266.5 31.3L268.6 32.1L268.6 32.9L269.2 33.6L269 34.4L269.4 34.9L266.5 35.2L265.6 36.6L262.6 38.3L260.6 39.9L260.2 41.2L261.9 42.5L262.3 43.4L259.5 44.5L259.3 46.4L258.3 47.6L256.4 48L254.7 48.5L254.3 47.5L253.1 45.6L252.3 43.8L252.2 43.8L252.3 43.7L252.9 43.5Z" fill="#00FF00" stroke="#00FF00"/>
<path d="M267.1 31.1L268.8 31L270.4 31.2L271.4 30.7L271.8 29.8L274.3 29.2L275 29.6L276.2 30.3L275.6 30.6L275 30.8L275.4 31.7L277.1 32.4L275.8 33.4L277.2 35L276.7 36.2L277.7 37L279.1 38.7L277.1 40.1L274.2 41.8L274 41.9L271.8 42L267.8 42.6L265.9 41.6L265.6 39.9L265.5 38.6L269.2 36.6L270.9 35.5L269.4 34.9L269 34.4L269.2 33.6L268.6 32.9L268.6 32.1L266.5 31.3L264.7 30.6L266 30.3Z" fill="#00FF00" stroke="#00FF00"/>
<path d="M273.9 45.3L273.7 45.6L271.8 45.4L270.5 45.1L269.6 45.3L269.6 44.7L268.5 43.5L271.1 43L274.4 43.2L273.7 44.1Z" fill="#FFFF00" stroke="#FFFF00"/>
<path d="M271.8 45.4L273.7 45.6L274.2 46L274.7 47.5L272.6 48.1L270.5 47.2L266.5 47.2L265.2 47.6L265.2 46.7L266.1 45.6L268.5 46.4L269.6 46L269.6 45.3L270.5 45.1Z" fill="#FFFF00" stroke="#FFFF00"/>
<path d="M270.5 47.2L272.6 48.1L272.9 48.7L271.5 49.2L271.5 50.1L269.7 50.5L268.5 50.5L267.6 49.8L267.5 49.2L265.6 48.7L265.2 48.7L265.2 47.6L266.5 47.2Z" fill="#FFFF00" stroke="#FFFF00"/>
<path d="M271.5 50.1L271.5 49.2L272.9 48.7L272.6 48.1L274.7 47.5L278.3 48.3L278.1 49.3L280.6 51.2L278.9 51.4L279.5 52.9L277.7 53.9L275.8 53.7L273.1 53.5L270.5 53.1L268.6 53.7L268.6 52.9L268.1 52.6L269 52.1L268.5 50.5L269.7 50.5Z" fill="#D3D3D3" stroke="#D3D3D3"/>
<path d="M268.6 53.7L270.5 53.1L273.1 53.5L275.8 53.7L277.7 53.9L279.5 52.9L282.1 52.5L284.5 55.1L287.6 55.8L290.4 56.1L290 58.4L287.9 59.4L285.7 59.9L283.7 60.6L284.1 61.7L285.7 61.7L286.1 61.7L286.1 61.8L285.4 62.1L284.3 62.2L282.4 63L281.7 62.2L280.6 61.1L278.4 60.1L277.1 61.1L276.7 61.8L276.7 61.8L274.7 61.5L275.6 60.7L277.1 60.3L276 58.9L276 58.2L274.2 57.6L272.6 57.9L270.4 58.6L267.7 58.2L266.7 57.7L267.3 56.8L269.3 54.6Z" fill="#B9FF45" stroke="#B9FF45"/>
<path d="M276 58.2L276 58.9L277.1 60.3L275.6 60.7L274.7 61.5L274.6 60.6L273.5 58.9L272.6 57.9L274.2 57.6Z" fill="#FF0000" stroke="#FF0000"/>
<path d="M246.6 63L246.7 61.9L246.5 61.1L246.7 61L247.9 61L248.6 60.3L249.4 61.1L249.8 60.2L250.8 60.6L251.2 60.1L251.4 59.7L252 59.8L253.5 59.4L253.9 59.9L255.6 60.2L255.2 60.6L255.4 61.1L255.7 61.4L255.7 61.4L255.6 61.4L253.7 61.8L253.9 63.1L255.4 64.1L256.2 65.5L258.6 66.2L260.6 67.7L261.9 68.6L261.6 69L259.9 68.2L259.4 69.1L260.1 70.1L259.3 70.8L258.6 71.5L258.1 71.2L258.6 70.1L258 68.7L256.6 68L255.3 67.2L253.7 66.5L252 65.5L251.1 64.1L250 63.2L249 63L247.4 63.8L247.7 63.2Z" fill="#B9FF45" stroke="#B9FF45"/>
<path d="M228.8 66.2L229.3 66.6L228.4 67.4L228.4 68.5L228.3 69.1L227.6 69.3L228.3 69.9L227.9 70.8L228.3 71.1L227.6 72L227.7 72.4L227.7 72.5L225.9 72.7L225.9 70.7L225 70.3L225.8 68.5L226 66.8L225.8 66.2L226.7 66Z" fill="#00FF00" stroke="#00FF00"/>
<path d="M236.8 65.1L238.4 65.1L239.7 65.5L241.5 65.6L241.5 65.6L241.7 66.4L240.4 67L238.6 67.7L237.1 69.4L237.6 70.3L236.7 71.4L235.1 72.7L234.5 72.9L231.7 73.1L230.4 73.9L229.2 73.2L228.3 72.4L227.7 72.5L227.7 72.4L227.6 72L228.3 71.1L227.9 70.8L228.3 69.9L227.6 69.3L228.3 69.1L228.4 68.5L228.4 67.4L229.3 66.6L228.8 66.2L226.7 66L225.8 66.2L225.4 64.8L226.9 63.9L229.6 64L232.5 64.1L235.1 64.3L235.1 64.4Z" fill="#00FF00" stroke="#00FF00"/>
<path d="M235.1 64.3L235.9 62.7L235.9 60.9L234.5 59.3L231.8 58.4L231.3 57.7L233.5 57.2L235.4 57.3L235.3 56L237.2 56.5L239.5 55.5L239.7 54.4L240.7 54.1L240.8 54.2L241.3 54.7L241.7 55L242.9 55.2L243 55.6L243.8 55.5L244 55.9L245.2 56.3L245.9 56.3L246.3 56.7L248.3 56.9L247.5 58.1L247.5 58.8L246.6 59.2L245.5 60.1L245.5 60.6L246.5 60.3L246.7 61L246.5 61.1L246.7 61.9L246.6 63L247.7 63.2L247.4 63.8L245.4 64.7L243.8 64.3L242.1 64.4L241.5 65.5L241.5 65.6L239.7 65.5L238.4 65.1L236.8 65.1L235.1 64.4L235.1 64.3Z" fill="#B9FF45" stroke="#B9FF45"/>
<path d="M241.9 53.8L241.9 53.8L242 53.9L243.2 53.8L244.1 53.8L245.2 54L245 54.6L245.4 54.6L245.8 55L245.5 55.5L245.2 55.6L245.2 56.3L244 55.9L243.8 55.5L243 55.6L242.9 55.2L241.7 55L241.3 54.7L240.8 54.2L240.9 54.1Z" fill="#FCBE2E" stroke="#FCBE2E"/>
<path d="M245.5 55.5L246.1 55.9L245.9 56.3L245.2 56.3L245.2 55.6Z" fill="#D3D3D3" stroke="#D3D3D3"/>
<path d="M243 52.7L243.8 51.7L245.4 51.2L246.7 51.1L247 51.4L246.9 52.2L246.3 52.3L246.5 53.1L245.4 53.3L245.5 54L245.4 54.6L245 54.6L245.2 54L244.1 53.8L243.2 53.8L242 53.9L241.9 53.8Z" fill="#00FF00" stroke="#00FF00"/>
<path d="M247 51L248.7 50.6L249 49.7L248.8 49.2L248.8 49.2L250.4 49.3L250.4 49.3L252 50.1L253.7 50L256.2 50.4L256.2 50.5L256.2 51.7L256.9 52.9L257 54.4L256.4 54.3L254.5 55.1L253.6 55.4L254 56.3L255.7 57.3L254.5 58L254.7 58.9L253.6 58.8L252 59L250.2 58.9L248.7 58.6L247.5 58.8L247.5 58.1L248.3 56.9L246.3 56.7L245.9 56.3L246.1 55.9L245.5 55.5L245.8 55L245.4 54.6L245.5 54L245.4 53.3L246.5 53.1L246.3 52.3L246.9 52.2L247 51.4L246.7 51.1Z" fill="#B9FF45" stroke="#B9FF45"/>
<path d="M248.5 48.4L248.3 46.7L250 46.2L251.4 45.5L251.4 47.4L250.7 48.7L250.4 49.3L248.8 49.2L248.8 49.2Z" fill="#B9FF45" stroke="#B9FF45"/>
<path d="M246.6 59.2L247.5 58.8L248.7 58.6L250.2 58.9L250.2 59.4L251.4 59.7L251.2 60.1L250.8 60.6L249.8 60.2L249.4 61.1L248.6 60.3L247.9 61L246.7 61L246.5 60.3L245.5 60.6L245.5 60.1Z" fill="#00FF00" stroke="#00FF00"/>
<path d="M253.6 58.8L254.7 58.9L254.5 58L255.7 57.3L256.9 57.5L257.3 56.9L259.8 57.5L260.2 58.2L260.1 58.6L259.3 59L258.7 59.7L258.1 59.9L256.8 60.3L255.6 60.2L253.9 59.9L253.5 59.4L252 59.8L251.4 59.7L250.2 59.4L250.2 58.9L252 59Z" fill="#006400" stroke="#006400"/>
<path d="M256.4 54.3L257 54.4L258.9 54.7L259.5 55.5L260.9 55.2L262.4 56.3L261.5 56.5L259.8 57.5L257.3 56.9L256.9 57.5L255.7 57.3L254 56.3L253.6 55.4L254.5 55.1Z" fill="#B9FF45" stroke="#B9FF45"/>
<path d="M256.2 50.4L259.3 49.7L261.9 49.5L263.6 49.8L267.6 49.8L268.5 50.5L269 52.1L268.1 52.6L268.6 52.9L268.6 53.7L269.3 54.6L267.3 56.8L265.9 56.4L263.9 56.7L262.4 56.3L260.9 55.2L259.5 55.5L258.9 54.7L257 54.4L256.9 52.9L256.2 51.7L256.2 50.5L256.2 50.4Z" fill="#00FF00" stroke="#00FF00"/>
<path d="M262.4 56.3L263.9 56.7L265.9 56.4L267.3 56.8L266.7 57.7L264.3 57.9L262.3 58.5L260.2 58.2L259.8 57.5L261.5 56.5Z" fill="#00FF00" stroke="#00FF00"/>
<path d="M260.1 58.6L260.2 58.2L262.3 58.5L264.3 57.9L266.7 57.7L267.7 58.2L266.7 58.8L265.5 60.3L264.3 60.6L262.3 61L260.7 61L259.4 60.2L258.7 59.7L259.3 59Z" fill="#FFFF00" stroke="#FFFF00"/>
<path d="M256.8 60.3L258.1 59.9L258.7 59.7L259.4 60.2L258.2 60.6L258.1 61.1L257.7 61.5L256.8 61.4L255.9 61.6L255.7 61.4L255.7 61.4L255.4 61.1L255.2 60.6L255.6 60.2Z" fill="#006400" stroke="#006400"/>
<path d="M257.7 61.5L258.1 61.1L258.2 60.6L259.4 60.2L260.7 61L262.3 61L263.1 61.9L262.6 62.3L259.9 61.9L258.3 61.9L258.3 62.6L259 63.4L260.7 64.7L261.9 65.3L261.9 65.5L259.9 64.5L257.7 63.2L256.4 61.9L255.9 61.6L256.8 61.4Z" fill="#B9FF45" stroke="#B9FF45"/>
<path d="M262.6 62.3L263.1 63.1L263.4 63.6L262.8 64.1L262.2 64.5L261.9 65.3L260.7 64.7L259 63.4L258.3 62.6L258.3 61.9L259.9 61.9Z" fill="#D3D3D3" stroke="#D3D3D3"/>
<path d="M265.7 61.9L265.9 62.4L267.2 62.7L267.5 63.2L267.1 64.3L267.8 64.7L267.1 65.6L265.9 65.9L264.7 66.2L264 65.3L264.4 64.8L262.8 64.1L263.4 63.6L263.1 63.1L262.6 62.3L263.1 61.9L262.3 61L264.3 60.6Z" fill="#FF8C00" stroke="#FF8C00"/>
<path d="M262.2 64.5L262.8 64.1L264.4 64.8L264 65.3L263.4 65.5L263.1 66.2L262.8 66.2L261.9 65.5L261.9 65.3Z" fill="#B9FF45" stroke="#B9FF45"/>
<path d="M264 65.3L264.7 66.2L264.5 67.2L265.2 67.7L264.8 68.6L263.9 69.1L263.1 68.1L263.2 66.5L263.1 66.4L263.1 66.2L263.4 65.5Z" fill="#D3D3D3" stroke="#D3D3D3"/>
<path d="M267.1 65.6L267.8 66.9L267.6 67L266.4 67.3L265.2 67.7L264.5 67.2L264.7 66.2L265.9 65.9Z" fill="#D3D3D3" stroke="#D3D3D3"/>
<path d="M265.2 67.7L266.4 67.3L267.6 67L267.8 66.9L269.8 66.8L271.9 66.9L272.3 66.5L272.6 67L272.2 67.6L271.8 67.8L269.2 67.7L269.2 68.7L267.6 68.2L267.8 69.7L269.2 71.1L268.1 71.6L268.1 73.3L266.9 73.2L266 72.8L265.5 71.6L265.2 70.7L264.2 69.4L263.9 69.1L264.8 68.6Z" fill="#FFFF00" stroke="#FFFF00"/>
<path d="M271 63.9L273.1 63.4L275.1 63.9L274.4 64.8L274 65.5L274.3 66.1L273.5 66L272.3 66.5L271.9 66.9L269.8 66.8L267.8 66.9L267.1 65.6L267.8 64.7L267.1 64.3L267.5 63.2L267.2 62.7L267.7 63.6Z" fill="#B9FF45" stroke="#B9FF45"/>
<path d="M270.4 58.6L272.6 57.9L273.5 58.9L274.6 60.6L274.7 61.5L276.7 61.8L276.7 61.9L276.6 62.2L275.4 63.5L275.1 63.9L273.1 63.4L271 63.9L267.7 63.6L267.2 62.7L265.9 62.4L265.7 61.9L264.3 60.6L265.5 60.3L266.7 58.8L267.7 58.2Z" fill="#D3D3D3" stroke="#D3D3D3"/>
<path d="M0 30.8L6.6 32.7L11.9 33.6L13.6 34.5L9.9 36.7L8.6 36.9L5.9 36.2L2.6 35.3L0 35.9Z" fill="#FFFF00" stroke="#FFFF00"/>
<path d="M230 55.6L231.6 54.2L233.3 53.8L230.6 53.3L231.8 52.3L231.6 51.3L233.5 50.6L233.1 49.2L231.2 49.1L230.2 47.5L229.6 45.8L230.9 44.3L233.3 44.3L232.9 45.5L234.9 45.8L234.6 47.7L235.5 48.8L237.2 50.1L237.9 51.7L239.6 52.1L239.2 54.2L235.5 54.7L232.9 55.2Z" fill="#FFFF00" stroke="#FFFF00"/>
<path d="M224.3 50.1L226.3 49.8L226.7 48.8L227.9 48.8L227.9 49.1L227.1 49.5L226.7 49.7L227.9 50.2L229.2 50.2L230.1 50.1L229.6 51L229.2 52.7L226.9 53.4L224.3 53.5L224 52.7L225 51.4Z" fill="#006400" stroke="#006400"/>
<path d="M227.1 49.5L227.9 49.1L227.9 48.8L229.2 48.8L230.2 49.7L230.1 50.1L229.2 50.2L227.9 50.2L226.7 49.7Z" fill="#FFFF00" stroke="#FFFF00"/>
<path d="M205.4 35.3L207.8 34.1L209.8 35.2L213.8 34.4L217.7 34.2L219.4 35.3L219 36.3L216.4 37.3L212.4 38L207.8 37.4L208.5 36.9Z" fill="#00FF00" stroke="#00FF00"/>
<path d="M252 16.7L258.6 16.3L261.2 16.5L265.9 18.1L262.6 18.9L259.9 20.7L257.3 20.6L254.7 18.9Z" fill="#006400" stroke="#006400"/>
<path d="M261.9 16L269.2 15.6L273.1 16.4L266.5 17.2Z" fill="#006400" stroke="#006400"/>
<path d="M265.2 19.5L265.2 18.6L267.8 18.6L269.2 19.8Z" fill="#006400" stroke="#006400"/>
<path d="M305.5 27.4L306.1 26.8L308.1 24.8L310.7 22.6L316.7 21.1L324.6 20.2L327.9 20.6L320.6 21.5L315.3 22.8L311.4 24.8L310.7 26.1L313.4 28.6L308.1 28.3Z" fill="#FFFF00" stroke="#FFFF00"/>
<path d="M296.9 15.2L298.2 14.6L307.4 14.8L306.1 15.6Z" fill="#FFFF00" stroke="#FFFF00"/>
<path d="M362.8 17.6L362.8 15.6L366.8 14.9L374.7 16.9L376 18.2L369.4 18.9Z" fill="#FFFF00" stroke="#FFFF00"/>
<path d="M418.3 22.2L422.2 21.5L430.1 21.5L435.4 22.8L426.2 23.1Z" fill="#FFFF00" stroke="#FFFF00"/>
<path d="M473 28.3L473.7 27.4L475 27.4L475 28.2Z" fill="#FFFF00" stroke="#FFFF00"/>
<path d="M301.5 30.7L302.8 30L303.5 31Z" fill="#FFFF00" stroke="#FFFF00"/>
<path d="M424.9 60.9L424.9 57.6L424.9 54.3L425.1 51L426.2 50L426.6 53L428.2 56.9L426.2 56.7L426.8 59.8Z" fill="#FFFF00" stroke="#FFFF00"/>
<path d="M431.5 62.2L431.5 61.8L433.8 60.9L434.1 61.1Z" fill="#FFFF00" stroke="#FFFF00"/>
<path d="M422.2 66.8L422.6 64.8L423.9 64.4L424.6 61.7L427.9 63.5L429.5 64.4L426.6 66.1L423.5 65.5Z" fill="#FCBE2E" stroke="#FCBE2E"/>
<path d="M424.2 67L424.9 69.4L423.5 71.4L423.3 73.3L422.5 75L420.9 75.3L418.3 75.8L418 76.3L416.5 77.3L415.6 75.8L413 76.2L410.3 76.6L410.3 75.8L412.3 74.8L415 74.5L416.9 74.3L418.3 72.3L420.2 72.3L422 70.1L422.2 68.1L422.6 67.2Z" fill="#FCBE2E" stroke="#FCBE2E"/>
<path d="M409 77.3L411.4 77.1L411.4 79.2L410.1 80.5L409.3 80.2L409 78.3Z" fill="#FCBE2E" stroke="#FCBE2E"/>
<path d="M411.9 77.5L413.2 76.3L415.2 76.3L414.6 77.5L413 78.2Z" fill="#FCBE2E" stroke="#FCBE2E"/>
<path d="M397.2 88L398.5 88.4L397.2 92.4L396.1 91Z" fill="#D3D3D3" stroke="#D3D3D3"/>
<path d="M380.9 96L383 94.8L384 95.5L382 97.3Z" fill="#006400" stroke="#006400"/>
<path d="M404 77.5L404.9 77.3L404.9 77.5Z" fill="#B9FF45" stroke="#B9FF45"/>
<path d="M342.8 108.5L344.6 110.1L345.6 112L344.4 113.2L343.1 113.3L342.7 110.7Z" fill="#FF8C00" stroke="#FF8C00"/>
<path d="M396.5 96.9L398.7 96.9L398.9 99.6L397.8 101.5L401.1 104.2L401.1 104.8L399.1 103.5L397.2 103.2L396.2 101.8L395.8 100Z" fill="#FCBE2E" stroke="#FCBE2E"/>
<path d="M398.5 112L400.5 109.8L403.1 108.4L404.4 111.4L403.8 113L402.8 113.6L401.1 112.3L400.2 111.4Z" fill="#FCBE2E" stroke="#FCBE2E"/>
<path d="M401.5 104.8L403.4 105.1L403.1 107.8L401.8 107.4Z" fill="#FCBE2E" stroke="#FCBE2E"/>
<path d="M398.5 105.7L400.1 106.1L400.5 108.8L399.1 109.1L398.5 107.4Z" fill="#FCBE2E" stroke="#FCBE2E"/>
<path d="M392.1 110.1L393.9 108.1L395.4 106.4L395.2 107.4Z" fill="#FCBE2E" stroke="#FCBE2E"/>
<path d="M396.4 103.5L397.8 103.8L397.4 105.1Z" fill="#FCBE2E" stroke="#FCBE2E"/>
<path d="M393.2 115.6L392.8 117.3L393.2 118.6L394.5 119.9L392.8 120.3L392.5 122.3L391.2 123.2L391 125.2L390.6 126.5L388.8 126.5L387.3 125.5L385 125.8L382.9 125.2L382.6 123.2L381.6 121.9L381.3 120.6L381.3 119.3L382 118.6L382.2 118.6L382.1 119.5L383.3 120L385 119.9L385.9 119.3L387.5 119.5L388.7 119.3L389.2 117.9L390.2 117.3L390 115.7L391.2 115.4L392.7 115.7L393.3 115.5Z" fill="#00FF00" stroke="#00FF00"/>
<path d="M391.2 115.4L390 115.7L390.2 117.3L389.2 117.9L388.7 119.3L387.5 119.5L385.9 119.3L385 119.9L383.3 120L382.1 119.5L382.2 118.6L384 119L384.4 117.5L386.6 117L388.1 115.5L388.2 115.7L389 115.8L389.6 115.6L389.8 114.7L388.7 115L390.6 113.3L391.6 112L392.8 113L394.8 114.4L393.3 115.5L392.7 115.7Z" fill="#FCBE2E" stroke="#FCBE2E"/>
<path d="M389.8 114.7L389.6 115.6L389 115.8L388.2 115.7L388.1 115.5L388.6 115.1L388.7 115Z" fill="#D3D3D3" stroke="#D3D3D3"/>
<path d="M363.2 113.9L366.1 114.4L367.7 116.2L369.8 117.9L371.4 118.9L373.4 120.3L374.5 121.9L375.4 123.6L377.4 125.2L377.2 128.8L375.4 128.8L373.4 127.1L371.4 125.2L370.1 123.2L368.8 121.2L367.7 119L365.9 117.3L364.2 115.3Z" fill="#00FF00" stroke="#00FF00"/>
<path d="M376.4 123.5L378.3 124.5L378 125.2L376.7 124.2Z" fill="#00FF00" stroke="#00FF00"/>
<path d="M376.4 130.1L377.6 129.1L380.7 130L383.6 129.7L386.2 130.4L388.6 131.3L388.4 132.6L384 132.1L380.7 131.5L377.9 130.9Z" fill="#00FF00" stroke="#00FF00"/>
<path d="M389.2 132L391.9 132.1L394.5 132.4L393.9 133L389.9 132.8Z" fill="#00FF00" stroke="#00FF00"/>
<path d="M395.8 132.1L399.8 132.1L399.5 132.8L395.8 132.8Z" fill="#00FF00" stroke="#00FF00"/>
<path d="M402.4 134.3L402.4 133.1L402.4 133.1L402.6 133.7L403.3 133.8Z" fill="#D3D3D3" stroke="#D3D3D3"/>
<path d="M401.8 134.6L400.5 134.7L402.4 133.1L402.4 134.3Z" fill="#00FF00" stroke="#00FF00"/>
<path d="M402.6 133.7L402.4 133.1L402.4 133L405.5 132.2L404.4 133.3L403.3 133.8Z" fill="#D3D3D3" stroke="#D3D3D3"/>
<path d="M394.5 133.7L396.9 134.2L395.8 134.7Z" fill="#00FF00" stroke="#00FF00"/>
<path d="M395.2 128.4L395.2 125.8L394.2 124.8L395.6 121.2L396.9 119.5L399.8 119.9L402.4 119L401.8 120.7L397.2 120.6L396.1 122.3L397.8 122.4L400.2 122.3L398.5 123.6L398.1 124.1L399.1 125.5L399.8 127.1L399.1 128.4L398.1 127.5L397.2 125.2L396.5 125.8L396.4 128.6Z" fill="#00FF00" stroke="#00FF00"/>
<path d="M405.7 120.2L406.4 118.3L407.3 119.9L406.4 122.3Z" fill="#00FF00" stroke="#00FF00"/>
<path d="M406.4 125.2L410.1 125.4L408.4 125.8Z" fill="#00FF00" stroke="#00FF00"/>
<path d="M403.8 125.4L405.3 125.5L404.7 126.2Z" fill="#00FF00" stroke="#00FF00"/>
<path d="M420.9 131.7L419.6 132.2L420.2 130.1L418.9 128L415.6 127L413 126.5L412.6 124.9L414.3 124.5L411.7 123.8L410.3 123.1L410.3 122.3L412.3 121.7L414.3 122.3L415.6 125.5L418.9 123.5L423.5 124.6L423.5 133.2Z" fill="#00FF00" stroke="#00FF00"/>
<path d="M423.5 124.6L428.2 126.2L430.1 128.4L432.1 129.1L432.5 131.1L436.1 135L432.8 134.6L430.1 132.4L426.8 132.4L426.2 133.3L423.5 133.2Z" fill="#D3D3D3" stroke="#D3D3D3"/>
<path d="M433.4 128.6L436.1 128.4L438.3 126.7L438.1 128.4L435.4 129.5Z" fill="#D3D3D3" stroke="#D3D3D3"/>
<path d="M436.5 124.6L439.1 126.9L439.4 127.5L436.7 125.2Z" fill="#D3D3D3" stroke="#D3D3D3"/>
<path d="M441.6 128.4L443.1 129.7L442.4 130.1Z" fill="#D3D3D3" stroke="#D3D3D3"/>
<path d="M444 130.4L445.3 131.1L445 131.5Z" fill="#D3D3D3" stroke="#D3D3D3"/>
<path d="M447.3 131.7L449.3 133.7L448.6 134.1Z" fill="#D3D3D3" stroke="#D3D3D3"/>
<path d="M449.5 132.4L450.3 133.7L449.9 133.8Z" fill="#D3D3D3" stroke="#D3D3D3"/>
<path d="M457.3 140.6L458.1 141.2L457.7 141.7Z" fill="#D3D3D3" stroke="#D3D3D3"/>
<path d="M458.2 142.2L458.9 142.9L458.5 143Z" fill="#D3D3D3" stroke="#D3D3D3"/>
<path d="M453.9 147.6L457.8 150.3L457.2 150.6L453.9 148.4Z" fill="#B9FF45" stroke="#B9FF45"/>
<path d="M471.4 144.2L473.3 144.2L473 145.1L471.4 145Z" fill="#D3D3D3" stroke="#D3D3D3"/>
<path d="M473.4 143.3L475 142.5L475 143L473.7 143.5Z" fill="#D3D3D3" stroke="#D3D3D3"/>
<path d="M9.6 138.9L10.3 138.9L10.2 139.3Z" fill="#D3D3D3" stroke="#D3D3D3"/>
<path d="M388.2 149.8L390.6 148.5L394.5 147.5L397.8 146.1L398.9 143.8L400.7 142.9L403.1 140.2L405.1 139.6L407 140.8L408.4 140.8L410.1 137.6L412.3 136.3L415.6 137.2L418 137.2L416.7 140.2L418.9 142.2L421.6 144.2L423.3 144.2L424.3 140.9L424.5 137.9L425.5 135.4L426.8 139.6L429.2 140.9L430.1 144.8L432.1 146.8L434.5 149.4L436.5 151.4L439.4 154.7L440 158L439.4 161.9L438.1 164.3L436.7 165.8L435.7 168.5L435.4 170.4L432.1 171.1L430.5 172.5L428.6 171.3L426.2 172.1L423.3 171.1L421.8 169.1L420 167.8L419.6 166.2L419.2 164.5L418.3 165.8L416.9 167.1L416.3 166.6L414.6 164.5L411.7 163.2L407.7 162.7L403.8 163.6L401.1 164.9L400.5 165.7L395.8 165.8L393.2 167.1L390.6 167L389.2 166.2L390 163.2L389.2 160.6L388.2 157.3L387 155.3L387.3 153.4L387.5 150.7Z" fill="#D3D3D3" stroke="#D3D3D3"/>
<path d="M428.4 174.6L430.8 175.1L433 174.9L433 176.6L431.5 178.3L430.1 178.3L429.1 176.7Z" fill="#D3D3D3" stroke="#D3D3D3"/>
<path d="M465.4 166.4L467.5 167.8L469.1 169.1L469.7 170.4L472.8 170.6L471.7 172.7L470.9 173.7L468.8 175.8L468 175.3L468.7 174L466.8 172.8L468 171.5L467.7 169.8L466 167.4Z" fill="#FCBE2E" stroke="#FCBE2E"/>
<path d="M465.4 174.4L467.3 175.7L465.5 178.3L463.5 179.3L462.7 181.4L460.5 182.4L458.5 181.8L457.2 181.2L459.6 178.9L462.2 177.6L463.8 176.1Z" fill="#FCBE2E" stroke="#FCBE2E"/>
<path d="M254 71.4L258.1 71.1L257.4 73.1L254 71.9Z" fill="#B9FF45" stroke="#B9FF45"/>
<path d="M248.5 67.6L250.2 67.3L250.2 69.8L248.7 70.1Z" fill="#B9FF45" stroke="#B9FF45"/>
<path d="M249 65.3L250 64.9L249.9 66.8L249 66.4Z" fill="#B9FF45" stroke="#B9FF45"/>
<path d="M268.6 74.6L272.1 75L269.8 75.4Z" fill="#D3D3D3" stroke="#D3D3D3"/>
<path d="M280.1 75.3L283 74.5L282.1 75.6L280.6 75.7Z" fill="#D3D3D3" stroke="#D3D3D3"/>
<path d="M252 48.1L254 47.7L254 49.1L252.4 48.8Z" fill="#B9FF45" stroke="#B9FF45"/>
<path d="M250.4 48.4L251.6 48.4L251.6 48.9L250.7 48.9Z" fill="#B9FF45" stroke="#B9FF45"/>
<path d="M261.5 46.2L262.6 45.3L262.2 46.3Z" fill="#00FF00" stroke="#00FF00"/>
<path d="M240.7 69.3L242 69L241.6 69.7Z" fill="#00FF00" stroke="#00FF00"/>
<path d="M328.3 185.5L330.5 185.8L329.6 186.4Z" fill="#B9FF45" stroke="#B9FF45"/>
</g></g>
<g filter="url(#soft)"><g transform="translate(64.50,0)" class="map">
<path class="ant" d="M0 567.3L9.6 566.5L16.7 567.7L27.5 567.3L35.6 568.2L41.9 568.8L49 567.7L41.9 567.3L35.6 565.6L31.1 563.3L42.8 561.9L43.8 560.8L34.7 560.2L28.5 558.9L31.1 557.5L40.1 556.3L45.5 555.1L58.1 554.3L70.6 553.4L79.6 553.5L92.3 554.9L99.4 555.4L102.1 552.1L108.3 550.9L113.7 552.5L124.6 551.7L131.7 552.5L138.9 550.4L142.5 547.6L147.9 544.1L155.1 540.8L161.3 539.9L156.8 542.3L154.2 545L151.4 548.6L155.1 550.4L157.2 552.5L155.1 555.4L149.7 557L137.1 557.1L135 559.3L137.1 561.4L147.9 562.9L156.8 564.7L160.4 565.9L165 564.7L166.7 561.9L172.1 559.7L178.5 559.3L179.4 561.2L175.7 562.9L167.7 564.3L178.5 564.3L189.3 563.3L197.3 561.9L198.2 560.8L190.1 560.2L191.9 558.9L201.8 557.9L214.3 554.9L225.1 550.7L239.1 549.7L249.9 548.2L262.6 549L273.2 549L282.3 546.3L293 545.3L305.7 543.6L311.1 543.6L318.2 545.8L325.4 545.3L328.1 550.4L332.5 548.2L343.4 545L354.2 544.1L364.8 545L372.1 543.2L379.2 544.6L386.5 543.6L395.4 544.6L406.2 543.6L415.2 542.8L418.7 544.1L427.7 544.1L433.1 545.8L442.2 547.1L451.2 549.5L461.8 550L461.1 553L452.9 555.8L457.4 559.3L448.4 561.9L454.7 564.7L465.5 566.5L474.5 567.7L474.5 574.3L0 574.3Z"/>
<path d="M121.2 433.2L120.9 432.4L121.5 432.4ZM124.2 442.1L124.3 442.2L124.2 442.9ZM121.9 439.8L121.3 439.6L121.5 439.5L122.2 439.8L122.1 440Z" fill="#D3D3D3" stroke="#D3D3D3"/>
<path d="M56.7 366.2L60.6 365.5L65.9 364.9L68.5 364.2L72.5 365.5L77.8 365.1L83 366.2L85.7 367.5L92.3 367.8L94.9 366.8L98.9 367.5L102.8 367.8L108.1 367.5L110.7 368.4L111.4 366.8L113.4 365.5L110.7 364.9L111.4 362.9L112.7 362.3L116 364.2L117.3 365.5L118.6 366.8L121.3 366.5L123.9 367.5L125.2 365.5L129.2 365.3L129.8 366.8L127.9 368.8L123.9 369.7L122.6 371.4L121.3 372.8L117.3 373L114.7 375.4L112.7 378L112.4 379.6L114.7 381.3L118.6 381.9L121.3 382.9L125.2 384.2L128.8 384.6L129.2 387.2L130.5 388.5L132.5 389.4L133.1 388.5L133.5 385.9L132.5 384.6L135.8 382.6L136.2 380.6L133.8 379.3L135.1 376.7L134.4 375L138.4 375L142.3 376L145 376.7L145.6 379.3L147.6 380.2L150.3 379.6L151.6 377.6L154.2 380.6L156.2 382.6L159.5 384.6L162.1 386.5L163.7 388.5L162.1 389.3L158.2 390.9L152.9 390.7L148.9 391.8L145.6 393.7L143.7 395.2L146.3 394L148.9 392.7L151.6 392.2L152.2 393.7L151.6 395.1L152.2 396.1L154.2 396.6L156.8 397L158.2 395.7L156.8 397.4L153.6 398.3L150.5 399.5L150.3 399.4L150.3 398.3L152.2 397.3L148.9 397.7L148.8 397.7L148.7 397.5L147.9 396.8L147.9 394.9L147.2 394.6L146 394.5L145 395.4L144.6 396.1L143 397.7L138.8 397.7L136.6 398.9L133.1 399.6L133.1 400.8L128.5 402L127.7 401.5L128.6 400.3L128.5 397.3L127.2 396.4L125.9 395.8L125.3 395.2L120.6 393.4L118.6 393.6L115.3 393.2L112.6 392.8L111.8 391.9L111.8 392.4L75.1 392.4L72.5 390.9L69.2 389.8L68.5 387.8L65.9 385.9L65.9 383.4L63.5 382.3L61.3 380L58.7 378.4L56.1 379.4L55.4 378.9L55.2 378.9L53.8 377.9L51.4 377.6L51.4 365.4ZM72.9 393.4L74.7 393.4L72.9 393.5Z" fill="#006400" stroke="#006400"/>
<path d="M111.8 391.9L112.6 392.8L115.3 393.2L118.6 393.6L120.6 393.4L125.3 395.2L125.9 395.8L127.2 396.4L128.5 397.3L128.6 400.3L127.7 401.5L128.5 402L133.1 400.8L133.1 399.6L136.6 398.9L138.8 397.7L143 397.7L144.6 396.1L145 395.4L146 394.5L147.2 394.6L147.9 394.9L147.9 396.8L148.7 397.5L148.8 397.7L146.3 399L144.3 400.3L143.9 401.6L145 402L142.3 402.7L139.7 403.5L139.7 404.9L138 406.2L137.1 408.2L137.5 410.1L135.8 411.5L133.1 413L130.5 414.7L130.1 416.7L131.1 420L131.8 422L131.3 423.7L129.8 423.3L128.5 420.6L128.1 418.7L126.5 417.4L124.6 417.6L121.9 417L119.9 417.1L119.3 418.4L117.3 418.3L114 417.8L112 418.4L109.4 420L109 422.6L109 422.7L106.5 422L106.1 420.5L104.5 418.5L103.6 417.6L102.1 417.6L101.2 418.7L99.5 417.9L99 416.6L96.9 415L94.6 415L94.6 415.7L90.9 415.7L85.9 414.1L82.9 414.1L82.9 414.1L82.8 413.9L81.1 412.1L78.4 411.5L76.7 408.8L75.8 407.1L74.1 404.9L73.4 403.7L73.5 400.3L73.8 396.1L72.9 393.5L74.7 393.4L75.1 393.4L75.1 392.4L111.8 392.4ZM61.3 380L63.5 382.3L65.9 383.4L65.9 385.9L65.2 384.6L63.3 382.6L60.6 380.6L57.3 380.2L56.1 379.4L58.7 378.4ZM53.8 377.9L55.2 378.9L52.7 378.3L50.1 378L47.5 378L44.8 377.1L41.5 377.7L39.5 378.9L36.9 379.3L38.2 376.7L34.9 378.7L33.6 380.6L31 381.9L28.3 383.2L25 384.3L21.7 385L20 385.2L23.1 383.9L25.7 383.2L28.3 381.9L29.7 380L27.7 379.7L24 379.7L23.7 378.3L20.4 377.6L19.1 376L18.5 375.4L20.4 374.1L25 373.4L25 372.1L22.4 372.1L18.5 372L15.8 370.7L21.1 369.5L23.7 370.1L21.7 368.8L18.5 367.1L22.4 366.2L23.7 364.6L31 363.2L36.9 363.8L42.2 364.5L48.8 364.9L51.4 365.4L51.4 377.6Z" fill="#006400" stroke="#006400"/>
<path d="M90.9 415.7L94.6 415.7L94.6 415L96.9 415L99 416.6L99.5 417.9L101.2 418.7L102.1 417.6L103.6 417.6L104.5 418.5L106.1 420.5L106.5 422L109 422.7L108.5 425.2L108.3 427.5L109.4 429.8L110.7 431.8L112.7 432.8L115.3 432.4L117.3 432.1L118 429.8L118.6 428.9L122.6 428.5L122.8 429.8L121.8 431.8L121.5 432.4L120.9 432.4L119.8 433.4L117.3 433.4L117.3 434.2L118.1 435.2L116.6 435.6L115.7 436.6L115.7 437.7L113.4 435.7L110.7 436.1L107.4 435.3L104.8 434.4L102.8 433.1L100.2 431.8L98.2 430.2L98.5 428.5L96.9 426.2L94.2 423.5L92.9 422L90.9 420L89 418L88 415.8L86.1 415L86.3 416.7L88.3 419.3L90.3 422L91.6 424.6L92.9 426.3L92.3 426.7L89.6 424.2L89 422.3L87 421L85.7 420.2L86.6 418.9L84.6 417L83.4 415L82.9 414.1L82.9 414.1L85.9 414.1Z" fill="#FFFF00" stroke="#FFFF00"/>
<path d="M121 433.8L120.2 435.7L120.9 435.9L120.9 436.1L119.7 435.9L119.8 433.4L120.9 432.4L121.2 433.2Z" fill="#FFFF00" stroke="#FFFF00"/>
<path d="M116.6 435.6L118.1 435.2L117.3 434.2L117.3 433.4L119.8 433.4L119.7 435.9L120.9 436.1L119.7 437.2L119.4 437.8L118.6 438.6L118.6 438.6L115.7 437.7L115.7 436.6Z" fill="#FF0000" stroke="#FF0000"/>
<path d="M120.6 438.4L121.7 438.6L121.5 439.5L121.3 439.6L120.6 439.4L118.6 438.6L119.4 437.8Z" fill="#D3D3D3" stroke="#D3D3D3"/>
<path d="M121.3 436L123.9 435.9L126.5 436.3L127.6 437L126.1 437.4L125.2 437.7L123.9 438.5L123 439.3L122.2 439.8L121.5 439.5L121.7 438.6L120.6 438.4L119.4 437.8L119.7 437.2L120.9 436.1L120.9 435.9Z" fill="#D3D3D3" stroke="#D3D3D3"/>
<path d="M123.9 438.5L125.2 437.7L126.1 437.4L127.6 437L127.2 439.7L126.9 442.3L127 442.4L125.5 442.3L124.3 442.2L124.2 442.1L124.2 442L122.1 440L122.2 439.8L123 439.3Z" fill="#8B2323" stroke="#8B2323"/>
<path d="M127 442.4L127.9 443.6L128.4 444.1L128.4 444.3L128 444.8L128 445.9L126.9 445.4L125.5 443.9L124.2 442.9L124.2 442.9L124.3 442.2L125.5 442.3Z" fill="#8B2323" stroke="#8B2323"/>
<path d="M128.5 444.2L129.2 444.9L130.5 445.2L132.5 444.3L134.4 444.6L135.4 445.6L134.6 447.3L133.8 445.8L132.5 445.2L131.4 446.5L131.1 447.1L129.8 446.6L128.1 446L128 445.9L128 444.8L128.4 444.3Z" fill="#B9FF45" stroke="#B9FF45"/>
<path d="M151.8 375.5L149.6 375.4L145 374.5L141.7 372.8L138.4 372.1L134.7 372.4L134.4 371.2L139.7 370.8L141 368.8L140.4 367.1L137.1 366.2L133.8 364.9L129.2 365.1L125.2 364.9L121.3 364.2L119.3 363.3L119.3 361.6L123.9 359.9L130.5 360L134.4 361.2L138.4 361.9L143 363.2L147 364.5L148.9 366.2L152.9 368.2L156.2 369.2L153.6 371.7L150.9 372.4L152.2 374.1Z" fill="#006400" stroke="#006400"/>
<path d="M84.4 366.2L83 365.1L87.7 364.2L81.7 364.5L83 363.6L80.4 362.6L82.4 360.9L87 360.7L90.9 361.3L94.9 360.9L98.9 361.6L99.5 363.6L104.1 364.2L103.5 365.3L98.9 366.2L94.9 366.6L88.3 366.8Z" fill="#006400" stroke="#006400"/>
<path d="M71.8 362L73.8 360.7L73.2 359.4L77.1 359L82.4 359.2L85 360.6L81.7 361.9L77.8 363L74.5 363.3Z" fill="#006400" stroke="#006400"/>
<path d="M102.8 362.3L102.8 361.2L104.1 359.9L108.7 359.9L110.1 361.6L106.8 362.9Z" fill="#006400" stroke="#006400"/>
<path d="M111.4 362L110.7 360.9L112 359.6L117.3 359.6L118 360.9L114.7 362.3Z" fill="#006400" stroke="#006400"/>
<path d="M106.1 366.2L107.4 365.1L110.1 364.9L111.4 365.9L109.4 366.7Z" fill="#006400" stroke="#006400"/>
<path d="M122.8 370.8L125.2 370.1L127.2 371L129.8 371.7L131.5 372.8L129.8 373L127.2 374.2L124.6 373.4Z" fill="#006400" stroke="#006400"/>
<path d="M83 358.1L83.7 357L88.3 356.6L92.9 356.4L98.2 357L97.5 358.3L93.6 358.6L88.3 359Z" fill="#006400" stroke="#006400"/>
<path d="M100.2 357.7L100.2 356.6L103.5 356L108.1 356.4L108.1 358.1L104.1 358.3Z" fill="#006400" stroke="#006400"/>
<path d="M110.1 358.3L110.7 357.4L114 357.5L114 358.6Z" fill="#006400" stroke="#006400"/>
<path d="M110.1 356L110.1 355.7L114.7 355.8L119.3 356.5L119.3 357.4L123.9 357.5L129.2 357.3L132.5 357.7L131.1 358.8L123.9 359L117.3 358.6L115.3 356.6Z" fill="#006400" stroke="#006400"/>
<path d="M119.9 356.5L119.3 355.7L121.3 354.6L125.2 354.1L122.6 353.1L123.9 351.8L122.6 350.8L117.3 349.8L121.3 349.1L126.5 348.6L134.4 347.8L142.3 347.7L150.3 347.8L156.2 348.3L155.5 349.1L148.9 350.4L144.3 351.8L138.4 352.7L137.7 353.7L135.1 354.4L134.4 356L131.1 356.7L125.2 356.6Z" fill="#006400" stroke="#006400"/>
<path d="M111.4 352.4L113.4 350.4L117.3 350.8L120.6 352.4L120.6 353.7L116 354Z" fill="#006400" stroke="#006400"/>
<path d="M75.8 357L79.1 355.3L84.4 356.1L81.7 357.4Z" fill="#006400" stroke="#006400"/>
<path d="M100.2 354.4L101.5 352.8L108.1 353.3L105.4 354.6Z" fill="#006400" stroke="#006400"/>
<path d="M159.1 394.1L159.5 393.1L161.5 391.1L162.4 389.5L164 389.3L163.7 391.4L166.3 391.8L166.7 393.1L167.8 394.3L167.4 395.4L164.1 395.2L162.1 394.4Z" fill="#006400" stroke="#006400"/>
<path d="M68.1 390.1L71.8 390.7L74.5 392.4L74.5 393.4L71.8 392.8Z" fill="#006400" stroke="#006400"/>
<path d="M61.9 385.9L63.5 385.7L64.6 387.2L63.9 388.1Z" fill="#006400" stroke="#006400"/>
<path d="M152.2 391.3L153.6 391.3L155.8 391.9L155.5 392.3Z" fill="#006400" stroke="#006400"/>
<path d="M152.5 395.3L155.5 395.8L154.9 396.4L152.9 396Z" fill="#006400" stroke="#006400"/>
<path d="M33.6 381.3L34.9 380.6L36.5 380.6L36.2 381.9Z" fill="#006400" stroke="#006400"/>
<path d="M10.9 373.5L12.5 373.1L14.8 373.5L14.5 373.9Z" fill="#006400" stroke="#006400"/>
<path d="M16.7 377.7L18.8 377.6L18.7 378.1Z" fill="#006400" stroke="#006400"/>
<path d="M15.2 386.9L15.8 386.4L18.1 385.9L17.8 386.3Z" fill="#006400" stroke="#006400"/>
<path d="M31.6 430.3L32.8 430.7L32.3 431.7L31.6 431.1Z" fill="#006400" stroke="#006400"/>
<path d="M158.2 349.1L171.3 348.5L184.5 347.3L195.1 347L204.3 347.8L210.9 349.1L221.4 349.8L214.8 351.8L213.5 353.7L210.9 355.7L212.9 357.7L210.9 359.6L208.3 361.6L205.6 362.9L208.3 364.6L203 366.8L197.7 367.5L193.8 368.8L189.8 370.4L185.2 370.8L183.2 373.4L180.6 377.3L179.3 378L176.6 377.1L173.3 376.3L171.3 374.3L169.4 372.5L167.4 370.1L166.7 368.2L169.4 366.2L166.1 365.5L170 364.9L165.4 363.8L164.8 362.3L163.4 360.3L160.8 358.3L157.5 357L150.3 357L145.6 356.6L143.7 355.4L141 354L147.6 353.1L151.6 351.5L152.9 350.2Z" fill="#00FF00" stroke="#00FF00"/>
<path d="M125.3 428L127.9 426.5L131.1 426.4L135.1 428.1L137.7 429.6L139.5 430.2L135.1 430.6L135.5 429.7L133.8 428.5L129.8 427.7L128.5 427.1Z" fill="#006400" stroke="#006400"/>
<path d="M141.7 432.8L139.2 432.6L140.6 430.6L142.6 430.7L142.6 433.3Z" fill="#D3D3D3" stroke="#D3D3D3"/>
<path d="M142.6 430.7L145 430.7L147.1 432.2L145 432.7L143 433.5L142.6 433.3Z" fill="#8B2323" stroke="#8B2323"/>
<path d="M134 432.6L136.7 432.8L135.8 433.4L134.2 433Z" fill="#00FF00" stroke="#00FF00"/>
<path d="M148.7 432.4L150.7 432.6L150.3 433.1L148.7 433.1Z" fill="#006400" stroke="#006400"/>
<path d="M155.7 442.7L156.8 442.6L156.8 443.5L155.8 443.5Z" fill="#FCBE2E" stroke="#FCBE2E"/>
<path d="M134 423.7L134.7 423.7L134.7 425L134 424.6Z" fill="#D3D3D3" stroke="#D3D3D3"/>
<path d="M135 421.4L135.8 422L135.5 422.3Z" fill="#D3D3D3" stroke="#D3D3D3"/>
<path d="M155.8 435.2L156.6 435.2L156.2 435.7Z" fill="#00FF00" stroke="#00FF00"/>
<path d="M156.6 437.2L157.1 437.4L156.8 437.8Z" fill="#00FF00" stroke="#00FF00"/>
<path d="M169.4 451.1L170.3 453.4L171.3 454.8L171.3 456.3L173.6 457.6L176.6 458L178.9 460L181.9 460.4L184.5 460.4L186.5 461.6L188.2 463L190.7 463.7L191.4 466.2L191.1 468.5L189.1 470.8L187.8 472.2L186.5 473.8L185.8 476.4L185.8 479.7L184.9 482.3L183.5 484.9L181.9 486.9L178.6 487.2L176.2 488.2L174 489.9L173.2 492.1L172.9 494.1L171.3 496.1L169.4 498L168.1 500L166.9 501.2L166.9 501.1L167.1 499.6L166.1 498.6L164 497.3L163.4 497.1L161.3 496.3L163.7 494L166.3 492.4L166.5 491.1L165.3 490.3L165.7 488.2L164.1 488.1L163.7 486L160.9 485.7L160.5 483.2L161.5 480.6L160.4 479.4L160.3 478.1L157.9 478.1L157.5 474.8L155.5 474L153.6 473.1L151.6 472.5L151.2 470.9L151 469.4L149.5 469.7L147.6 470.8L145.5 471.2L144.2 471.2L144.2 469.3L142.1 469.8L141.2 468.8L139.8 466.3L141.3 463.4L145.1 462.2L145.8 458.3L145 456.1L146 455.9L145.2 454.5L148.5 454.5L149.1 455.1L150.9 455.7L152.6 454.8L152.6 453.4L153.7 453.8L152.9 451.5L154.5 451.9L154.9 451.3L156.8 450.8L157.2 449.9L158.2 450.8L158.7 451.7L158.3 453.7L159.5 455L160.8 454.8L162.8 454.2L163.6 454.2L164.6 453.4L165.4 453.7L167.4 453.8L168.1 453.4L169.1 451.5L169.3 451ZM161.9 503.3L161.9 503.6L160.3 502.6L161.5 502.9ZM135.4 445.6L135.4 445.6L135.5 446.4L134.6 447.3Z" fill="#00FF00" stroke="#00FF00"/>
<path d="M143.2 441.2L142 442L141.3 442.9L141 444.6L141.7 445.6L142.3 447.4L144.3 447.5L145.6 448.7L148.3 448.6L147.9 450.8L148.5 454.1L149.1 455.1L148.5 454.5L145.2 454.5L146 455.9L145 456.1L145.8 458.3L145.1 462.2L145 460.3L143 459.7L141 459.7L139.7 458L138 456.9L136.4 456.3L134.7 455.7L133.4 454.9L133 454.8L133.1 454.8L133.4 454.4L135.1 452.8L135.1 451.5L135.4 449.5L135.1 447.8L134.6 447.3L135.5 446.4L135.4 445.6L136.4 445.2L137.5 444.3L138 442.7L139.3 442L141 441.6L142.9 440.5L143.1 440.8Z" fill="#B9FF45" stroke="#B9FF45"/>
<path d="M156.6 447.9L156.3 449L157.2 449.9L156.8 450.8L154.9 451.3L154.5 451.9L152.9 451.5L153.7 453.8L152.6 453.4L152.6 454.8L150.9 455.7L149.1 455.1L148.5 454.1L147.9 450.8L148.3 448.6L145.6 448.7L144.3 447.5L142.3 447.4L141.7 445.6L141 444.6L141.3 442.9L142 442L143.2 441.2L143.3 441.6L145 441.5L144.7 440.7L147 441.9L147.4 442.8L150.3 442.8L152.2 443.3L155.5 442.7L155.8 443.9L157.1 445.6L158.3 446L157.8 447.4Z" fill="#D3D3D3" stroke="#D3D3D3"/>
<path d="M166.1 452.1L165.4 453.7L164.6 453.4L163.6 454.2L162.8 454.2L161.7 452.3L160.8 451.5L161.7 449.9L162 448.9L164.1 449L166.1 449.1L165.5 450.8Z" fill="#8B2323" stroke="#8B2323"/>
<path d="M168.1 453.4L167.4 453.8L165.4 453.7L166.1 452.1L165.5 450.8L166.1 449.1L168.1 450.2L169.3 451L169.1 451.5Z" fill="#00FF00" stroke="#00FF00"/>
<path d="M136.4 456.3L138 456.9L137.7 458.7L136.2 460.1L134.4 460.9L133.8 462.6L132.7 463.3L131.4 462.5L131.4 461.2L131.8 460L130.6 459.6L130.8 458L131.8 456.1L133 454.9L133.4 454.9L134.7 455.7Z" fill="#8B2323" stroke="#8B2323"/>
<path d="M132.7 463.3L133.8 462.6L134.4 460.9L136.2 460.1L137.7 458.7L138 456.9L139.7 458L141 459.7L143 459.7L145 460.3L145.1 462.2L141.3 463.4L139.8 466.3L141.2 468.8L142.1 469.8L144.2 469.3L144.2 471.2L145.5 471.2L146.7 473.1L146.3 475.7L145.6 476.8L146.3 478.1L145.5 479.4L145.6 479.7L144.5 480.7L143 479.4L140.4 478.1L138.1 476.7L136.7 474.8L135.5 472.5L134.2 469.8L133.1 467.5L131.9 465.6L130.2 464.6L130.1 462.6L131.4 461.2L131.4 462.5Z" fill="#FF8C00" stroke="#FF8C00"/>
<path d="M149.5 469.7L151 469.4L151.2 470.9L151.6 472.5L153.6 473.1L155.5 474L157.5 474.8L157.9 478.1L160.3 478.1L160.4 479.4L161.5 480.6L160.5 483.2L159.4 482L155.8 482.6L155.3 483.6L154.6 485.8L152.9 485.6L152.2 486.2L149.9 485.3L148.9 486.5L147.8 486.6L147.4 484.9L146.6 483.6L147.1 482.3L146.3 481.6L145.6 479.7L145.5 479.4L146.3 478.1L145.6 476.8L146.3 475.7L146.7 473.1L145.5 471.2L147.6 470.8Z" fill="#FCBE2E" stroke="#FCBE2E"/>
<path d="M155.8 482.6L159.4 482L160.5 483.2L160.9 485.7L163.7 486L164.1 488.1L165.7 488.2L165.3 490.3L165 491.8L163.7 492.7L162.1 492.7L160 492.4L161.3 490.3L159.7 489.1L156.8 487.9L154.6 485.8L155.3 483.6Z" fill="#FF8C00" stroke="#FF8C00"/>
<path d="M160.3 501.3L160.3 501.2L160.5 499.4L161.3 496.3L163.4 497.1L164 497.3L166.1 498.6L167.1 499.6L166.9 501.1L166.9 501.2L166.7 501.3L165.4 502.4L163.2 502.5L161.1 501.9ZM160.3 501.3L161.5 502.9L160.3 502.6Z" fill="#FCBE2E" stroke="#FCBE2E"/>
<path d="M149.9 485.3L152.2 486.2L152.9 485.6L154.6 485.8L156.8 487.9L159.7 489.1L161.3 490.3L160 492.4L162.1 492.7L163.7 492.7L165 491.8L165.3 490.3L166.5 491.1L166.3 492.4L163.7 494L161.3 496.3L160.5 499.4L160.3 501.2L160.3 501.3L160.3 502.6L161.9 503.6L162.1 504.6L161.5 506.6L159.5 507.5L155.5 507.9L155.1 509.9L151.6 510.5L152.9 512.5L151.2 513.8L150.9 515.8L148.3 517.1L150.3 519L148.3 521.7L146.3 523.6L147.1 525.3L147.1 525.5L145 524.9L142.3 524.9L142 523.6L141 523.2L140.6 521.7L141.7 520.4L142.6 518.4L143.3 516.4L142.7 514.4L142.6 511.8L142.7 509.2L143.4 507.2L143.7 504.6L144.5 503.3L145.2 501.7L145.2 500.4L144.7 498L145.2 495.4L146 493.2L147.2 492.1L147 491.2L147.1 488.9L148.5 488.2L148.7 486.9L147.8 486.6L148.9 486.5ZM147 525.5L147 525.9L148.9 527.6L151.3 528.6L148.9 529.3L146.8 529.3L146.8 525.9Z" fill="#B9FF45" stroke="#B9FF45"/>
<path d="M145.6 479.7L146.3 481.6L147.1 482.3L146.6 483.6L147.4 484.9L147.8 486.6L148.7 486.9L148.5 488.2L147.1 488.9L147 491.2L147.2 492.1L146 493.2L145.2 495.4L144.7 498L145.2 500.4L145.2 501.7L144.5 503.3L143.7 504.6L143.4 507.2L142.7 509.2L142.6 511.8L142.7 514.4L143.3 516.4L142.6 518.4L141.7 520.4L140.6 521.7L141 523.2L142 523.6L142.3 524.9L145 524.9L147.1 525.5L147 525.5L146.8 525.9L146.8 529.3L145.6 529.3L142.3 528.2L139.7 526.3L138 523.6L137.7 520.4L137.7 517.7L140.4 515.8L139.7 513.8L140 511.2L140.4 508.5L140.4 505.5L141.4 503.3L142.7 500L143 496.7L143.3 493.5L144.3 490.2L144.6 486.9L144.7 483.6L144.5 480.7Z" fill="#FF8C00" stroke="#FF8C00"/>
<path d="M156.8 524.3L160.8 524.2L160.1 525.2L157.5 525.2Z" fill="#B9FF45" stroke="#B9FF45"/>
<path d="M187.2 527.6L189.8 528L189.5 528.5L187.8 528.1Z" fill="#D3D3D3" stroke="#D3D3D3"/>
<path d="M248.7 408L248.6 408.3L247.7 408.1ZM247.5 450.9L248.5 450.6L248.5 450.8ZM234.6 450.4L233.4 450.1L233.6 450L234.9 450.3ZM240.1 440.5L240.9 440.5L240.4 441.1ZM254.9 463.1L254.5 464.3L254.4 462.8Z" fill="#D3D3D3" stroke="#D3D3D3"/>
<path d="M219.9 420.2L222.1 419.6L224.1 418L224.5 416.3L225 414.1L227.4 412.5L228.7 411.5L229.5 409.8L230.3 409.6L233.3 410.4L234.3 410.5L234.4 410.7L234.9 411.5L235.7 414.1L235.5 414.5L232.5 415.1L232.4 416.2L230.3 417.4L228 418L225.8 419.1L225.8 420.4L219.9 420.4L219.8 420.4Z" fill="#D3D3D3" stroke="#D3D3D3"/>
<path d="M225.8 420.9L225.8 422.6L221.4 422.6L221.4 425.9L220.1 426.5L220.1 428.8L215 429.4L214.8 429.2L215.1 427.5L216.2 425.6L217.6 423.9L218.1 422.3L219.8 420.4L219.9 420.4L225.8 420.4Z" fill="#D3D3D3" stroke="#D3D3D3"/>
<path d="M220.1 426.5L221.4 425.9L221.4 422.6L225.8 422.6L225.8 420.9L230.8 423.9L228.7 423.9L230 435.3L230 436.4L224.7 436.4L223.1 436.8L222.1 436.4L221.2 437.4L219.6 435.7L218.1 434.9L215.5 435.6L215.9 433.1L215.8 431.1L215 429.4L220.1 428.8Z" fill="#8B2323" stroke="#8B2323"/>
<path d="M219.6 435.7L221.2 437.4L222.2 440.5L221 440.6L219.2 440.2L217.5 440.1L215.2 440.5L215.2 439.5L217.5 439.3L219.1 439.3L219.1 439L217.5 438.6L215 438.9L214.2 437.4L215.5 435.7L215.5 435.6L218.1 434.9Z" fill="#FF8C00" stroke="#FF8C00"/>
<path d="M219.1 439L219.1 439.3L217.5 439.3L215.2 439.5L215.1 439L215 438.9L217.5 438.6Z" fill="#FF8C00" stroke="#FF8C00"/>
<path d="M219.2 440.2L219.2 441.4L217.9 441.6L217.5 442.3L217.5 442.3L215.2 440.5L217.5 440.1Z" fill="#D3D3D3" stroke="#D3D3D3"/>
<path d="M219.2 441.4L219.2 440.2L221 440.6L222.2 440.5L223.1 441.1L225 440.5L226 441.8L226.7 443.3L227 445.6L226.3 446.7L225 447L224.7 445.7L223.7 445.6L223.1 444.5L222.5 443.6L220.8 443.7L219.8 444.9L219.5 444L218.1 442.9L217.5 442.3L217.9 441.6Z" fill="#FF0000" stroke="#FF0000"/>
<path d="M222.5 443.6L223.1 444.5L223.7 445.6L223.3 446.5L222.1 447.7L220.8 446.9L219.9 445.2L219.8 444.9L220.8 443.7Z" fill="#8B2323" stroke="#8B2323"/>
<path d="M223.7 445.6L224.7 445.7L225 447L226.3 446.7L226 448.2L227.4 449.1L227.4 450.9L225.4 450.2L223 448.2L222.1 447.7L223.3 446.5Z" fill="#8B2323" stroke="#8B2323"/>
<path d="M226 448.2L226.3 446.7L227 445.6L226.7 443.3L229.1 442.8L230 443.1L231.1 444L233.6 444.1L233.7 446.2L233 448.2L233.6 450L233.4 450.1L232.6 449.9L230.7 449.9L227.4 450.9L227.4 449.1Z" fill="#8B2323" stroke="#8B2323"/>
<path d="M223.1 436.8L224.7 436.4L230 436.4L230 435.3L228.7 423.9L230.8 423.9L238.8 429L239.6 430.1L241.5 430.7L241.6 431.8L242.8 431.7L242.8 435.1L241.9 436.5L239 436.6L237.5 437.2L236.3 436.9L234.6 438.1L233.3 438.9L231.6 439.4L231.5 440.3L230.3 441.2L230 443.1L229.1 442.8L226.7 443.3L226 441.8L225 440.5L223.1 441.1L222.2 440.5L221.2 437.4L222.1 436.4Z" fill="#FF8C00" stroke="#FF8C00"/>
<path d="M231.5 440.3L231.6 439.4L233.3 438.9L234.6 438.1L236.3 436.9L237.5 437.2L237.6 438.4L238.6 439.5L240.1 440.5L240.4 441.1L239.1 441.8L238.4 442.3L237.1 442.2L233.6 442.3L233.6 444.1L231.1 444L230 443.1L230.3 441.2Z" fill="#FCBE2E" stroke="#FCBE2E"/>
<path d="M233.7 446.2L233.6 444.1L233.6 442.3L237.1 442.2L237.9 443.2L237.8 445.2L238.2 445.8L237.9 447.7L238.8 448.7L238.7 448.9L236.6 449.8L234.9 450.3L233.6 450L233 448.2Z" fill="#FF8C00" stroke="#FF8C00"/>
<path d="M238.2 445.8L237.8 445.2L237.9 443.2L237.1 442.2L238.4 442.3L238.3 443.2L239.4 444.9L239.4 448.5L239.3 448.7L238.9 448.8L238.8 448.7L237.9 447.7Z" fill="#FCBE2E" stroke="#FCBE2E"/>
<path d="M238.3 443.2L238.4 442.3L239.1 441.8L240.4 441.1L240.9 440.5L242 441.4L242.3 442.7L240.9 444.9L240.8 448.3L239.5 448.7L239.4 448.5L239.4 444.9Z" fill="#FCBE2E" stroke="#FCBE2E"/>
<path d="M241.9 436.5L242.8 435.1L242.8 431.7L244.9 431.1L247.1 429.3L253.1 425.9L256 427.1L257 426.5L257.2 428.8L258.2 430L257.9 430.6L257.4 433.2L257.7 434.5L255.6 436.1L255 437.8L255.2 438.7L253.5 439.5L251.4 439.3L249.8 439.9L247.5 439.3L246.2 439.5L244.4 438.5L242.7 439L242 441.4L240.9 440.5L240.1 440.5L238.6 439.5L237.6 438.4L237.5 437.2L239 436.6Z" fill="#FFFF00" stroke="#FFFF00"/>
<path d="M242.3 442.7L242 441.4L242.7 439L244.4 438.5L246.2 439.5L247.5 439.3L249.8 439.9L251.4 439.3L253.5 439.5L255.2 438.7L256 440.5L256.5 441.5L255.4 442.3L254.6 443.6L254.1 445.2L253.3 445.8L252.8 447.4L252.1 448.1L251.1 447.5L250.2 447.8L249.5 448.5L248.8 449.1L248.5 450.6L247.5 450.9L246.5 450.9L245.2 451.1L244.2 449.8L243.2 448.5L240.8 448.3L240.9 444.9Z" fill="#FF0000" stroke="#FF0000"/>
<path d="M249.5 448.5L250.2 447.8L251.1 447.5L252.1 448.1L252.8 447.4L253.3 445.8L254.1 445.2L254.6 443.6L255.4 442.3L256.5 441.5L256 440.5L256.4 439.8L257 441.5L257.2 442.6L257.7 443.6L256 443.6L255.6 444.1L257.3 445.6L257.7 446.9L256.8 448.3L256.4 449.8L256.6 450.8L257.3 451.6L258.5 452.9L258.6 454.5L256.4 453.8L254.8 453.8L252.1 453.7L250.2 453.7L250.1 453.7L250.2 453.4L250 452.1L248.8 450.8L248.5 450.8L248.5 450.6L248.8 449.1Z" fill="#FF8C00" stroke="#FF8C00"/>
<path d="M252.1 455.4L249.7 455.4L249.8 455.1L250.1 453.7L252.1 453.7Z" fill="#D3D3D3" stroke="#D3D3D3"/>
<path d="M252.1 453.7L254.8 453.8L254.6 455L256 454.9L256.2 455.9L255.6 456.7L256.4 457.5L256.2 459.2L255.8 459.9L254.1 459.2L253.7 459.9L252.5 459.9L252.9 461.3L251.9 461.8L250.2 460L249.1 458L249.5 456.3L249.7 455.4L252.1 455.4Z" fill="#FF0000" stroke="#FF0000"/>
<path d="M252.5 459.9L253.7 459.9L254.1 459.2L255.8 459.9L256.2 459.2L256.4 457.5L255.6 456.7L256.2 455.9L256 454.9L254.6 455L254.8 453.8L256.4 453.8L258.6 454.5L259 453L259.3 452.1L261.8 452.1L261.1 453.8L260.7 456.3L260.3 457.6L258.6 459.6L258.3 461.3L257.4 462.4L256.2 463.1L254.9 463.1L254.4 462.8L254 462.6L252.7 463.2L252.7 463.1L252 462L251.9 461.8L252.9 461.3Z" fill="#D3D3D3" stroke="#D3D3D3"/>
<path d="M254.9 463.1L256.2 463.1L257.4 462.4L258.3 461.3L258.6 459.6L260.3 457.6L260.7 456.3L261.1 453.8L261.8 452.1L261.8 451.1L263 450.2L264.3 450.8L266.9 451.3L267.4 450.4L269.5 450L270.6 450.2L273.4 450L274.7 451.1L276.1 450.8L277.8 452.1L278.5 453.8L276.7 455.8L276.3 457.5L276.3 458.6L275.7 459L275.5 460.3L275.7 461.4L276 462.5L276.1 464.6L277.7 467.5L275.3 467.9L274.7 468.8L274.9 470.5L274.7 472.2L275.5 473L276.5 472.7L276.5 474.3L275.5 474.3L274.7 473.3L273.5 472.7L272.7 472.3L270.6 471.5L268.9 471L266.5 471.4L266.6 470.5L266 469.2L266.1 467.6L266 466.3L264 465.9L263 465.9L262.8 467.2L260.4 467.3L259.5 466.2L259.1 464.5L255.6 464.5L253.5 464.7L253.3 464.3L254.5 464.3Z" fill="#8B2323" stroke="#8B2323"/>
<path d="M259.1 464.5L259.5 466.2L260.4 467.3L262.8 467.2L263 465.9L264 465.9L266 466.3L266.1 467.6L266 469.2L266.6 470.5L266.5 471.4L268.9 471L268.9 473.8L266.2 473.8L266.2 478L268.1 479.8L264.9 480.2L261.5 479.5L255.7 479.5L252.8 479.4L252.8 477.7L253.7 475.1L255 473.1L255.4 471.2L254.6 469.2L254.4 467.9L253.5 464.9L253.4 464.7L253.5 464.7L255.6 464.5ZM254.4 462.8L254.5 464.3L253.3 464.3L252.7 463.2L254 462.6Z" fill="#D3D3D3" stroke="#D3D3D3"/>
<path d="M261.5 479.5L264.9 480.2L268.1 479.8L269.1 479.7L270.6 480.1L269.3 480.3L268.2 481L264.9 480.7L264.9 485.6L263.6 485.6L263.6 489.3L263.6 494L262.3 494.6L260.3 494.4L259 494.2L257.3 492.1L256.8 489.5L256.4 486.9L255 484.3L253.7 481.6L252.8 479.7L252.8 479.4L255.7 479.5Z" fill="#FF0000" stroke="#FF0000"/>
<path d="M264.9 485.6L264.9 480.7L268.2 481L269.3 480.3L270.6 480.1L270.6 481L271.8 482.4L273.2 483.6L273.8 484.4L274.2 485.1L276 485.8L274.6 486.6L272.8 487.7L272.6 488.6L271 490L269.8 490.2L267.6 489.9L267 491L265.7 491.9L264.5 491.9L263.6 489.3L263.6 485.6Z" fill="#FCBE2E" stroke="#FCBE2E"/>
<path d="M272.8 480.3L273.6 479.5L275.2 478.4L275.5 477.7L277.3 477.2L277.3 477.7L278.5 477.7L280.5 478.6L280.7 479.5L280.5 481L280.7 482.7L280 484.7L278.5 486.1L276 485.8L274.2 485.1L273.8 484.4L273.2 483.6L271.8 482.4L270.6 481L270.6 480.1L271.4 480.2Z" fill="#FF8C00" stroke="#FF8C00"/>
<path d="M268.9 471L270.6 471.5L272.7 472.3L273.5 472.7L274.7 473.3L275.5 474.3L276.5 474.3L276.5 472.7L275.5 473L274.7 472.2L274.9 470.5L274.7 468.8L275.3 467.9L277.7 467.5L278.4 468L280.6 469.1L281.1 470.9L281 473.1L280.4 474.6L281 475.1L277.1 476.4L277.3 477.2L275.5 477.7L275.2 478.4L273.6 479.5L272.8 480.3L271.4 480.2L270.6 480.1L269.1 479.7L268.1 479.8L266.2 478L266.2 473.8L268.9 473.8Z" fill="#FF0000" stroke="#FF0000"/>
<path d="M282.9 469.3L283.3 471.7L282.9 471.9L283.3 474.4L284.4 475.9L284.4 477.7L283.6 479.2L282.5 477.7L282.9 476.8L282.6 475.6L281 475.1L280.4 474.6L281 473.1L281.1 470.9L280.6 469.1L281.9 469.2Z" fill="#FF8C00" stroke="#FF8C00"/>
<path d="M279.4 490.6L279.3 488.6L278.5 486.1L280 484.7L280.7 482.7L280.5 481L280.7 479.5L280.5 478.6L278.5 477.7L277.3 477.7L277.3 477.2L277.1 476.4L281 475.1L282.6 475.6L282.9 476.8L282.5 477.7L283.6 479.2L284.4 477.7L284.4 475.9L283.3 474.4L282.9 471.9L283.3 471.7L284.7 471.9L286.7 472.1L288.7 471.4L290.3 470.6L290.6 471.2L290.8 473.8L291 476.4L289.7 478.4L286.7 479.9L285.4 481.6L283.4 483L283.8 485.6L284 488.2L281.4 489.9L280.5 490.8L280.6 492L279.6 491.9Z" fill="#FF8C00" stroke="#FF8C00"/>
<path d="M286.7 472.1L284.7 471.9L283.3 471.7L282.9 469.3L281.9 469.2L280.6 469.1L278.4 468L277.7 467.5L276.1 464.6L276 462.5L276.8 462.4L277.8 461L277.5 459.9L277.8 458.2L277.5 458L281.9 458L286.8 460.7L287.1 461.6L288.9 462.9L289.1 462.9L288.7 463.9L289 465.9L289.3 467.9L289.7 469.8L290.3 470.6L288.7 471.4Z" fill="#D3D3D3" stroke="#D3D3D3"/>
<path d="M286.8 460.7L281.9 458L282.1 456.5L282.7 455.3L283.4 454.2L282.7 452.7L282.1 451.2L284.6 450.7L285.9 450.9L287.5 452L289.3 452.3L291 451.2L292.5 451.6L291.3 453L291.3 457.8L292 458.8L290.6 460L289.6 462L289.2 462.8L288.9 462.9L287.1 461.6Z" fill="#FF0000" stroke="#FF0000"/>
<path d="M276.3 457.5L276.7 455.8L278.5 453.8L277.8 452.1L279.4 452L280.7 451.6L282.1 451.2L282.7 452.7L283.4 454.2L282.7 455.3L282.1 456.5L281.9 458L277.5 458L276.3 458.6Z" fill="#FFFF00" stroke="#FFFF00"/>
<path d="M277.8 458.2L277.5 459.9L276.7 460.3L275.5 460.3L275.7 459L276.3 458.6L277.5 458Z" fill="#FFFF00" stroke="#FFFF00"/>
<path d="M277.5 459.9L277.8 461L276.8 462.4L276 462.5L275.7 461.4L275.5 460.3L276.7 460.3Z" fill="#FF0000" stroke="#FF0000"/>
<path d="M291.3 453L292.5 451.6L293.8 451.1L295.1 450.3L296.6 450.2L300.5 446.2L299.1 446.2L295.1 444.9L293.7 442.4L294.2 441.6L295.2 442.9L297.2 442.9L299.2 442L301.8 441.9L304.7 441.1L304.5 443.1L303.8 444.9L302.5 447.5L301.2 449.9L299.9 451.7L297.9 453.7L295.9 455L293.9 456.7L292.1 458.7L292 458.8L291.3 457.8Z" fill="#D3D3D3" stroke="#D3D3D3"/>
<path d="M292.3 442.3L292.3 441.4L293.1 440.3L293.9 440.1L294.3 440.3L294.2 441.6L293.7 442.4Z" fill="#8B2323" stroke="#8B2323"/>
<path d="M291 438.2L288.8 437.6L287.2 437.2L286.7 438.1L285.4 438L285.9 435.3L286.7 434L288 433.2L289 436L290 437L291.6 437.7L293.3 439.7L293.9 440.1L293.1 440.3Z" fill="#FF0000" stroke="#FF0000"/>
<path d="M287.2 437.2L288.8 437.6L291 438.2L293.1 440.3L292.3 441.4L292.3 442.3L293.7 442.4L295.1 444.9L299.1 446.2L300.5 446.2L296.6 450.2L295.1 450.3L293.8 451.1L292.5 451.6L291 451.2L289.3 452.3L287.5 452L285.9 450.9L284.6 450.7L283.8 449.6L283 447.9L281.7 446.6L280.7 446.2L282.2 445.4L282.2 444.3L282.5 442.8L283.4 442.3L283.3 441.1L284.8 440.1L285.4 438L286.7 438.1Z" fill="#FCBE2E" stroke="#FCBE2E"/>
<path d="M279.4 452L277.8 452.1L276.1 450.8L274.7 451.1L273.4 450L272 448.1L270.5 446.5L269.1 445.3L269.9 443.9L270.2 443.2L271.3 443.1L272.2 444.3L274 444.1L275.2 444.4L276.8 443.2L278.4 443.9L280 442.3L279.6 441L280.4 440.7L281 440.7L280.9 442.7L281.9 443.3L282.2 444.3L282.2 445.4L280.7 446.2L281.7 446.6L283 447.9L283.8 449.6L284.6 450.7L282.1 451.2L280.7 451.6Z" fill="#D3D3D3" stroke="#D3D3D3"/>
<path d="M285.9 435.3L285.4 438L284.8 440.1L283.3 441.1L283.4 442.3L282.5 442.8L282.2 444.3L281.9 443.3L280.9 442.7L281 440.7L280.4 440.7L279.6 441L280 442.3L278.4 443.9L276.8 443.2L275.2 444.4L274 444.1L272.2 444.3L271.3 443.1L270.2 443.2L269.9 443.9L269.1 445.3L268.2 444.9L268.4 443.7L267.4 442.4L266.9 440.2L266 439.9L266.6 439.1L267 438.1L267.4 436.3L268.9 436.1L268.9 431.1L268.9 430.5L270.2 430.5L270.2 427.9L285.8 427.9L286.3 429.2L286.4 431.8L288 433.1L288 433.2L286.7 434Z" fill="#FF0000" stroke="#FF0000"/>
<path d="M270.5 415.3L270.5 415.2L272.8 415.7L275.5 416.2L277.5 415.4L279.4 415.7L279.8 415.8L280.1 417.4L280.4 418.7L281.4 420L282.1 421.3L282.7 422.6L283.8 424.6L284.3 426.5L285.8 427.9L270.2 427.9L270.2 418.4Z" fill="#FF8C00" stroke="#FF8C00"/>
<path d="M268.9 430.5L268.9 431.1L258.3 426L257 426.5L256 427.1L253.1 425.9L252.4 424.8L250.7 424.4L249.8 422.2L250.3 420.6L250.2 418.1L249.8 417.1L250.7 416.3L250.8 415.1L252.4 414.1L252.5 413.2L252.6 413.2L253.7 413.7L255.7 413.9L257.4 414.3L257.9 415.5L260.3 416.3L262.3 417L263.6 416L263.6 414.3L265.6 413.6L267.6 413.9L270.2 415.1L270.5 415.2L270.5 415.3L270.2 418.4L270.2 427.9L270.2 430.5Z" fill="#D3D3D3" stroke="#D3D3D3"/>
<path d="M250.8 415.1L250.7 416.3L249.8 417.1L249.1 414.6L248.2 414.1L247.3 412.8L248.1 411.2L248.2 408.8L248.6 408.3L248.7 408L249.1 407.9L250.4 407.8L251.7 408.2L251.1 409.5L251.5 410.8L250.7 411.7L251.7 412.8L252.5 413.1L252.5 413.2L252.4 414.1Z" fill="#FF0000" stroke="#FF0000"/>
<path d="M235.3 410.5L237.2 409.6L239.2 408.8L241.2 408.4L243.8 408.4L246.5 408.2L247.7 408.1L248.6 408.3L248.2 408.8L248.1 411.2L247.3 412.8L248.2 414.1L249.1 414.6L249.8 417.1L250.2 418.1L250.3 420.6L249.8 422.2L250.7 424.4L252.4 424.8L253.1 425.9L247.1 429.3L244.9 431.1L242.8 431.7L241.6 431.8L241.5 430.7L239.6 430.1L238.8 429L230.8 423.9L225.8 420.9L225.8 419.1L228 418L230.3 417.4L232.4 416.2L232.5 415.1L235.5 414.5L235.7 414.1L234.9 411.5L234.4 410.7L234.4 410.5Z" fill="#FFFF00" stroke="#FFFF00"/>
<path d="M268.9 431.1L268.9 436.1L267.4 436.3L267 438.1L266.6 439.1L266 439.9L266.9 440.2L267.4 442.4L265.9 442.8L264.1 444.8L262.4 444.9L262.2 445.3L260.6 446.4L259.1 446.6L257.7 446.9L257.3 445.6L255.6 444.1L256 443.6L257.7 443.6L257.2 442.6L257 441.5L256.4 439.8L256 440.5L255.2 438.7L255 437.8L255.6 436.1L257.7 434.5L257.4 433.2L257.9 430.6L258.2 430L257.2 428.8L257 426.5L258.3 426Z" fill="#D3D3D3" stroke="#D3D3D3"/>
<path d="M260.6 446.4L262.2 445.3L262.4 444.9L264.1 444.8L265.9 442.8L267.4 442.4L268.4 443.7L268.2 444.9L269.1 445.3L270.5 446.5L272 448.1L273.4 450L270.6 450.2L269.5 450L267.4 450.4L266.9 451.3L264.3 450.8L263 450.2L261.8 451.1L261.8 452.1L259.3 452.1L259 453L258.6 454.5L258.5 452.9L257.3 451.6L256.6 450.8L256.4 449.8L256.8 448.3L257.7 446.9L259.1 446.6Z" fill="#FF0000" stroke="#FF0000"/>
<path d="M262.3 494.6L263.6 494L263.6 489.3L264.5 491.9L265.7 491.9L267 491L267.6 489.9L269.8 490.2L271 490L272.6 488.6L272.8 487.7L274.6 486.6L276 485.8L278.5 486.1L279.3 488.6L279.4 490.6L278.5 490.4L277.8 491.5L278.4 492.5L279.4 492.4L279.6 491.9L280.6 492L280.6 492.8L280.1 494.4L278.4 495.8L277.2 497.4L274.8 499.8L272.8 500.9L271.1 501.3L268.2 501.3L266.2 501.6L263.6 502.4L261.6 501.6L261.2 499.8L261 498.7L260.1 496.7L259 494.2L260.3 494.4ZM273.4 496.5L274.4 496.9L275.5 496.5L276 495.4L275.3 494.4L274.2 494.4L272.8 495.6Z" fill="#00FF00" stroke="#00FF00"/>
<path d="M279.4 492.4L278.4 492.5L277.8 491.5L278.5 490.4L279.4 490.6L279.6 491.9Z" fill="#FF8C00" stroke="#FF8C00"/>
<path d="M274.2 494.4L275.3 494.4L276 495.4L275.5 496.5L274.4 496.9L273.4 496.5L272.8 495.6Z" fill="#FCBE2E" stroke="#FCBE2E"/>
<path d="M302.2 472.5L303.8 476.8L302.5 479.7L301.2 483.6L299.6 489.1L297 490.2L294.8 488.2L294.3 485.6L295.6 483L295.2 479.7L297.2 477.7L299.9 476.1L301.2 474.2Z" fill="#FF0000" stroke="#FF0000"/>
<path d="M307.5 440.1L309.1 440.2L308.2 440.6Z" fill="#FF8C00" stroke="#FF8C00"/>
<path d="M374.5 443.2L374.9 443.1L374.8 443.3ZM373.3 450.4L373.3 450.8L372.4 449.4ZM339.4 446.1L338.1 444.9L337.7 443.7L339.5 446ZM309.7 421.7L307.8 421.4L305.1 420.2L304.8 419.8L310.6 421.5ZM300.8 417.6L300.5 417.4L301 417.4ZM304.2 423.9L304.2 423.7L304.2 424.3L303.5 423.3L303.6 422.8ZM305.3 424.2L305.5 424.4L305.3 424.4L305.3 425L304.7 424.4L305.2 423.9Z" fill="#D3D3D3" stroke="#D3D3D3"/>
<path d="M276.8 378.1L274.8 377.3L273.7 377.4L273.9 377.3L276.8 375.6L278.8 374.2L277.5 372.5L276.4 371.7L276.9 370.5L275.5 368.9L276.8 367.9L275.1 367.2L274.7 366.3L275.3 366.1L277.7 365.2L280.7 365.7L285.4 366.2L290.6 367.8L291.6 369.1L290 369.9L287.3 369.9L282.7 369.3L280.7 369.1L283.1 370.8L283.1 372.1L286.7 372.9L287.3 372.1L290 372L290.2 370.4L292.6 369.6L295.5 369.9L295.5 367.8L294.6 366.7L297.9 367.1L298.5 368.8L301.2 367.9L307.1 366.8L309.1 367.2L313.7 366.5L317 366.2L317 365.1L322.3 366.2L325.6 366.5L327.5 367.1L325.6 365.5L325.6 363.6L327.5 361.6L329.5 360.9L332.8 361.2L332.8 363.6L332.1 366.2L332.8 368.2L334.8 368.8L334.1 366.8L334.8 363.6L336.1 361.6L340.1 362L343.4 362.3L343.4 360.3L350.6 359.9L351.9 358.3L358.5 357.3L366.4 356.6L374.3 354.8L378.3 356L384.9 356.6L386.2 359L382.2 359.6L386.2 359.9L392.8 360.6L400 360.2L404.6 360.6L407.9 362.9L411.2 362.9L415.2 362.9L421.8 361.6L423.1 361.2L429.7 361.9L435 362.9L438.9 363.7L446.8 363.8L448.8 365.4L453.4 365.3L458.7 365L462 366.2L462.6 364.9L469.2 365.1L474.5 366.3L474.5 371.4L473.2 372.1L471.2 371.8L472.5 373.7L473.8 374.7L470.5 374.7L466.6 375.6L464 376.7L461.7 378L456 378L452.8 378.3L453.4 380L451.4 380.9L452.1 382.9L450.8 384.6L448.1 386.9L445.9 388.2L443.8 389.8L442.5 387.2L442.5 384.6L443.5 381.5L446.2 380.2L449.5 378L452.8 376L452.4 375L448.1 376L444.2 375.9L440.9 378.7L436.3 378.9L433.6 378.5L425.7 378.9L421.8 381.3L418.5 384.2L415.8 385L418.5 385.9L421.8 385.9L423.5 387.2L422.4 389.8L422.2 392.4L419.8 395.3L416.5 398.3L413.2 400.3L411.2 400L409.5 401L409.4 401.1L409.4 401.1L410.2 399.8L410.2 397.9L412.7 397.5L414.8 393.4L409.9 394.1L409.4 392.6L405.3 390.9L403.3 387.6L400 386.5L396.3 387.8L394.4 390.9L392.5 391.8L391.1 391.4L387.5 390.9L383.6 392L380.3 392L377.6 390.7L372.1 390.3L372 389.4L367.7 388.5L366.2 389.2L366.4 390.3L361.8 391L357.9 390.3L353.9 391.8L353 392.2L352.3 392.2L349.5 391.6L347.2 389.8L342.7 390.1L339.9 386.8L338.1 385.6L334.5 386.5L334.1 385.9L331.1 385.6L330.6 384.2L327.1 384.6L323.2 385.3L321.6 385.5L317.7 386L317.5 387.8L318.3 390.1L315.8 390.5L314.4 389.7L310.7 390.3L309.1 389.8L306.4 389.2L304.2 388.9L301.4 390.3L299.9 390.6L298.9 392L299.2 393.7L301.8 395.7L299.2 397L299.2 398.3L299.6 399.9L300.5 401.9L300.9 402.2L300.3 402.7L298.4 401.7L295.9 400.7L293.3 400L290.1 399.8L289.6 399.5L287.3 398.5L285.6 397.5L285.1 397.6L285.8 397.3L285.8 397.2L286.7 397.2L287.3 396.4L288.9 395.1L287.6 394.9L289.7 393.9L290.1 391.6L287.3 391.3L284.2 390.6L281.8 388L279.2 388.4L278.6 386.9L280.4 386.7L277.8 384.8L278 383.8L274.4 383L273.9 381.5L273.4 381.1L273.6 380.8L273.4 379.6L274.2 378.7ZM402.1 407.2L403.5 407.3L402.5 407.3ZM302 406.4L301.7 406.3L300.5 405.8L301.8 406.3L301.9 406.3ZM284.4 410.8L284.6 411.2L284.2 411.6ZM264.9 384.2L265.3 384.2L267.2 384.7L267.3 385.3L263.3 385.3Z" fill="#FF0000" stroke="#FF0000"/>
<path d="M354.4 393.6L356.3 394.1L357.2 395.2L357.1 397.3L360.5 397.8L363 398.6L364.3 400.7L370.1 400.7L375.6 402.1L382.8 400.6L384.9 399.3L384.6 397.7L387.5 397.7L389.5 397.2L391.1 395.8L392.8 395.4L395 395.6L395.2 394.8L393.4 393.9L392.5 394.1L389.9 394.1L389.5 393.5L391.1 391.4L392.5 391.8L394.4 390.9L396.3 387.8L400 386.5L403.3 387.6L405.3 390.9L409.4 392.6L409.9 394.1L414.8 393.4L412.7 397.5L410.2 397.9L410.2 399.8L409.4 401.1L408.3 400.4L406 401.6L406.1 402.4L404.5 401.9L401.2 404.1L401.1 404.3L401.1 404.2L398.1 405.6L397.1 405.6L398.1 403.6L396.7 403.1L394.1 405.2L392.4 405.6L393.4 407.1L396.1 407.5L398.7 407.8L396.7 408.8L394.5 410.5L396.1 412.1L397.8 414.7L397.8 416L398.1 417.4L397.4 419.3L395.4 422L394.1 423.5L392.1 425.5L390.1 426.7L387.5 427.3L385.5 428.1L382.9 428.8L382.2 430L381.6 428.5L379.6 428.4L379.5 428.5L377.9 427.9L377.6 426.7L376 426.2L375.4 426.8L374.2 427.2L372.4 426.9L371.8 427.3L371.3 428.9L370.6 428.9L370.6 428.4L369.1 428.5L368 427.7L368.1 426.4L367.5 425.2L365.9 425.4L366 423.9L367.3 422.7L367.3 420.6L365.8 419.6L364.2 418.3L362.5 418.4L360.5 419.1L358.5 420.2L358.1 420.2L356.5 419.7L354.6 420.8L354.4 420.9L354.3 419.9L353.4 420.1L351.3 420L350.2 419.6L348.2 418.8L346.6 417.9L345.3 417L344 417.1L342 416L341 415.4L341 413.9L341.8 413.9L341.4 411.7L340.5 411.3L339.8 410.1L337.3 408.7L336 408L335.7 407.8L336.1 406.2L334.5 406.1L334.4 405L334.8 404.1L336.9 403.6L338.6 402.9L340.3 402.8L343 401.4L343.2 400.2L342.6 397.8L345.7 397L346.6 394.8L349.9 394.9L350.6 393.1L352.3 392.2L353 392.2Z" fill="#00FF00" stroke="#00FF00"/>
<path d="M357.9 390.3L361.8 391L366.4 390.3L366.2 389.2L367.7 388.5L372 389.4L372.1 390.3L377.6 390.7L380.3 392L383.6 392L387.5 390.9L391.1 391.4L389.5 393.5L389.9 394.1L392.5 394.1L393.4 393.9L395.2 394.8L395 395.6L392.8 395.4L391.1 395.8L389.5 397.2L387.5 397.7L384.6 397.7L384.9 399.3L382.8 400.6L375.6 402.1L370.1 400.7L364.3 400.7L363 398.6L360.5 397.8L357.1 397.3L357.2 395.2L356.3 394.1L354.4 393.6L353 392.2L353.9 391.8Z" fill="#FF8C00" stroke="#FF8C00"/>
<path d="M298.9 392L299.9 390.6L301.4 390.3L304.2 388.9L306.4 389.2L309.1 389.8L310.7 390.3L314.4 389.7L315.8 390.5L318.3 390.1L317.5 387.8L317.7 386L321.6 385.5L323.2 385.3L327.1 384.6L330.6 384.2L331.1 385.6L334.1 385.9L334.5 386.5L338.1 385.6L339.9 386.8L342.7 390.1L347.2 389.8L349.5 391.6L352.3 392.2L350.6 393.1L349.9 394.9L346.6 394.8L345.7 397L342.6 397.8L343.2 400.2L343 401.4L341.4 400.6L337 400.4L335 400L334.1 401L330.8 400.8L330.7 401.2L328.2 402.4L327.7 403.3L326.9 402.9L325.2 402.7L324.9 401.7L324.2 401.6L324.4 400.3L322.8 399.4L319 399.6L317.8 398.6L314.5 396.9L311.1 397.7L311.1 402.5L309.5 401.7L307.8 401.4L307 401.6L306.4 401L303.5 400.3L304.5 398.3L307.1 397.7L307.1 395.7L305.1 395.3L301.8 395.7L301.8 395.7L299.2 393.7Z" fill="#8B2323" stroke="#8B2323"/>
<path d="M406.1 402.4L406 401.6L408.3 400.4L409.4 401.1L409.4 401.1L408.2 402.5L406.6 404L405.3 404.9L406.4 406.1L406.4 406.1L404.6 406.5L403.5 407.3L402.1 407.2L402 407.1L402.3 404.9L401.1 404.3L401.2 404.1L404.5 401.9Z" fill="#D3D3D3" stroke="#D3D3D3"/>
<path d="M404.6 406.5L406.4 406.1L407.8 408.2L407.8 409.9L406.6 410.9L404 411.6L403.7 410.1L404.1 408.2L402.5 407.3L403.5 407.3Z" fill="#00FF00" stroke="#00FF00"/>
<path d="M330.8 424.7L330.7 423.7L329.6 422.7L329.9 422L329 421L330.3 420L332 420.1L333.3 418.7L334 417.5L335.4 416.2L335.6 415.9L336.5 414.3L335.7 414.1L335.2 413.4L334.7 412.2L334.8 411.2L337.2 411.5L338.7 410.8L339.8 410.1L340.5 411.3L341.4 411.7L341.8 413.9L341 413.9L341 415.4L342 416L344 417.1L343.2 417.6L342.8 418.9L344.3 419.5L346.3 420.5L348.1 420.8L349.5 421.6L350.6 421.8L352.3 422.1L353.4 422.1L353.4 420.1L354.3 419.9L354.4 420.9L354.6 421.6L356.3 421.6L358.5 421.6L358.6 420.8L358.1 420.2L358.5 420.2L360.5 419.1L362.5 418.4L364.2 418.3L365.8 419.6L365.5 420.4L364 420.9L362.7 421.8L361.9 423.7L362.1 424.4L361.3 425.4L360.4 425.2L360.2 426.7L360.1 427.6L359.3 428L358.9 426.5L357.5 426.5L357.5 425.1L358.9 424.1L359 423.8L356.4 423.7L355.6 423.5L355.6 422.6L353.9 422L353.4 422.9L354.4 423.7L353.4 424.6L354.3 425.1L354.2 426.3L354.6 427.9L354.4 428.1L352.6 428.5L351.9 429.6L351 430.6L349.3 431.4L347.3 433.4L345.7 434.8L343.7 436L342.8 437.7L343 439.7L342.6 441.6L342.4 443.2L341.4 444.5L340.3 445L339.5 446L337.7 443.7L337.2 441.9L335.8 439.7L334.8 437L333.9 434.4L333.2 431.8L333.1 429.2L332.8 427.9L329.9 429.4L328.2 427.6L329.9 426.5L327.5 425.9L327.1 425.7L327.1 425.6L327.9 424.8Z" fill="#B9FF45" stroke="#B9FF45"/>
<path d="M346.6 417.9L348.2 418.8L350.2 419.6L351.3 420L353.4 420.1L353.4 422.1L352.3 422.1L350.6 421.8L349.5 421.6L348.1 420.8L346.3 420.5L344.3 419.5L342.8 418.9L343.2 417.6L344 417.1L345.3 417Z" fill="#FCBE2E" stroke="#FCBE2E"/>
<path d="M356.5 419.7L358.1 420.2L358.6 420.8L358.5 421.6L356.3 421.6L354.6 421.6L354.4 420.9L354.6 420.8Z" fill="#FCBE2E" stroke="#FCBE2E"/>
<path d="M354.3 425.1L353.4 424.6L354.4 423.7L353.4 422.9L353.9 422L355.6 422.6L355.6 423.5L356.4 423.7L359 423.8L358.9 424.1L357.5 425.1L357.5 426.5L358.9 426.5L359.3 428L359 429.1L358.5 427.9L357.2 426.9L356.3 427.9L354.6 428.1L354.6 427.9L354.2 426.3Z" fill="#FCBE2E" stroke="#FCBE2E"/>
<path d="M320.7 421.7L320 421L320 419.7L318.8 419.3L317.5 417.5L319.6 418.1L321.6 418L324.8 417.5L325.4 415.7L327.1 415L328.6 414.9L328.6 413.6L329.9 413L329.4 412.1L331 412L331.6 410.9L331.1 409.5L332.8 408.4L334.9 408.4L336 408L337.3 408.7L339.8 410.1L338.7 410.8L337.2 411.5L334.8 411.2L334.7 412.2L335.2 413.4L335.7 414.1L336.5 414.3L335.6 415.9L335.4 416.2L334 417.5L333.3 418.7L332 420.1L330.3 420L329 421L329.9 422L329.6 422.7L330.7 423.7L330.8 424.7L327.9 424.8L327.1 425.6L327 425.6L326.2 425.2L325.2 423.9L322.3 423.7L318.4 423.7L318.7 422.3Z" fill="#D3D3D3" stroke="#D3D3D3"/>
<path d="M320.3 410.3L322.3 409.1L323.7 407.8L324.9 407.7L326.6 407.9L328.6 407.9L330 406.5L331.1 406.3L331.5 407L331.9 408.6L333.9 407.7L335.7 407.8L336 408L334.9 408.4L332.8 408.4L331.1 409.5L331.6 410.9L331 412L329.4 412.1L329.9 413L328.6 413.6L328.6 414.9L327.1 415L325.4 415.7L324.8 417.5L321.6 418L319.6 418.1L317.5 417.5L318.7 416.3L317.5 415.4L317 412.1L317.9 408.7L317.9 410Z" fill="#D3D3D3" stroke="#D3D3D3"/>
<path d="M309.5 401.7L311.1 402.5L312.4 402.5L314.5 400.7L316.3 401.4L316.5 402.4L318.8 402.8L319.5 404.2L322.1 405.7L324.9 406.9L324.9 407.7L323.7 407.8L322.3 409.1L320.3 410.3L317.9 410L317.9 408.7L315.4 407.5L312.8 406.6L311.1 406.7L308.3 407.8L308 407.7L308.4 407.5L307.1 404.9L308.2 402.9L307 401.6L307.8 401.4Z" fill="#D3D3D3" stroke="#D3D3D3"/>
<path d="M314.5 396.9L317.8 398.6L319 399.6L322.8 399.4L324.4 400.3L324.2 401.6L324.9 401.7L325.2 402.7L326.9 402.9L327.7 403.3L328.2 402.4L330.7 401.2L331.2 401.4L330.2 402.3L331.8 402.3L333.5 403.2L331.8 404L330.2 403.8L330.3 403.1L328.6 403.2L327.7 404L328.2 404.4L326.1 405.3L327.4 406.6L326.6 407.9L324.9 407.7L324.9 406.9L322.1 405.7L319.5 404.2L318.8 402.8L316.5 402.4L316.3 401.4L314.5 400.7L312.4 402.5L311.1 402.5L311.1 397.7Z" fill="#D3D3D3" stroke="#D3D3D3"/>
<path d="M334.1 401L335 400L337 400.4L341.4 400.6L343 401.4L340.3 402.8L338.6 402.9L336.9 403.6L334.8 404.1L334.4 405L332.1 405L330.2 404.8L328.6 404.8L328.6 404L330.2 403.8L331.8 404L333.5 403.2L331.8 402.3L330.2 402.3L331.2 401.4L330.7 401.2L330.8 400.8Z" fill="#FF8C00" stroke="#FF8C00"/>
<path d="M326.1 405.3L328.2 404.4L327.7 404L328.6 403.2L330.3 403.1L330.2 403.8L328.6 404L328.6 404.8L330.2 404.8L332.1 405L334.4 405L334.5 406.1L336.1 406.2L335.7 407.8L333.9 407.7L331.9 408.6L331.5 407L331.1 406.3L330 406.5L328.6 407.9L326.6 407.9L327.4 406.6Z" fill="#FF8C00" stroke="#FF8C00"/>
<path d="M360.1 427.6L360.2 426.7L360.4 425.2L361.3 425.4L362.1 424.4L361.9 423.7L362.7 421.8L364 420.9L365.5 420.4L365.8 419.6L367.3 420.6L367.3 422.7L366 423.9L365.9 425.4L367.5 425.2L368.1 426.4L368 427.7L369.1 428.5L370.6 428.4L370.6 428.9L369.7 430.1L369.2 430L368.4 430.1L367.6 430.7L366.2 431L365.6 432.4L367.2 435.1L366.7 436.8L367.9 438.6L368 440.2L368.5 441.2L367.5 443.1L367.1 443.6L367.3 441L366.4 438.4L366 435.7L365.4 434.7L363.8 435.1L362.9 436L361.5 435.5L361.8 433.1L360.8 431.1L359.2 429.4L359 429.1L359.3 428Z" fill="#FF8C00" stroke="#FF8C00"/>
<path d="M368.5 441.2L368 440.2L367.9 438.6L366.7 436.8L367.2 435.1L365.6 432.4L366.2 431L367.6 430.7L368.4 430.1L369.2 430L369.8 431.1L370.8 431.1L370.4 432.6L370.6 433.8L371.8 432.8L373 432.6L374.3 432.7L375.3 433.8L375.4 435.2L376.4 436.1L376.3 437.7L375.9 438L373 438L372.2 438.9L372.9 441.4L372.8 441.5L372.7 441.4L371.7 440.3L370.2 439.1L369.1 439.3L368.8 441.6L368 443.9L369.3 445.6L370.1 447.5L371.7 448.6L371.7 448.6L370.5 449.2L369.4 448.5L369.3 448.2L368.4 447.3L366.8 446L367.1 443.6L367.5 443.1Z" fill="#00FF00" stroke="#00FF00"/>
<path d="M370.6 428.9L371.3 428.9L371.8 427.3L372.9 428.2L373.1 429.4L375.1 429.7L374.3 431.1L375.9 432.4L377.6 434.5L378.8 435.7L379.1 436.9L378.9 437.4L377 438L375.9 438L376.3 437.7L376.4 436.1L375.4 435.2L375.3 433.8L374.3 432.7L373 432.6L371.8 432.8L370.6 433.8L370.4 432.6L370.8 431.1L369.8 431.1L369.2 430L369.7 430.1Z" fill="#D3D3D3" stroke="#D3D3D3"/>
<path d="M373 438L375.9 438L377 438L378.9 437.4L379.1 439.1L378.9 440.6L376.8 441.4L377.2 442.3L375.8 442.4L374.9 443.1L374.5 443.2L373.7 442.8L372.9 441.6L372.9 441.4L372.2 438.9Z" fill="#D3D3D3" stroke="#D3D3D3"/>
<path d="M375.8 442.4L377.2 442.3L376.8 441.4L378.9 440.6L379.1 439.1L378.9 437.4L379.1 436.9L378.8 435.7L377.6 434.5L375.9 432.4L374.3 431.1L375.1 429.7L373.1 429.4L372.9 428.2L371.8 427.3L372.4 426.9L374.2 427.2L375.4 426.8L376 426.2L377.6 426.7L377.9 427.9L379.5 428.5L377.9 429.8L376.7 431.8L377.6 433.5L380 435.7L381.3 439L381.2 441.4L378.9 442.9L377.9 444.3L375.6 445.3L375.4 443.6L374.8 443.3L374.9 443.1Z" fill="#FCBE2E" stroke="#FCBE2E"/>
<path d="M371.7 448.6L372.4 449.4L373.3 450.8L373.7 452.8L374.6 454.8L373.7 454.9L371.7 453.7L370.8 452.8L369.7 450.2L369.4 448.5L370.5 449.2Z" fill="#FFFF00" stroke="#FFFF00"/>
<path d="M295.8 405L296.3 404.6L296.3 405L297.1 405.6L298 405.7L298.5 405.7L299.2 405.2L300.9 405L300.5 405.8L301.7 406.3L302 406.4L303.2 407.7L305.8 408.4L307.9 407.7L308.3 407.8L311.1 406.7L312.8 406.6L315.4 407.5L317.9 408.7L317 412.1L317.5 415.4L318.7 416.3L317.5 417.5L318.8 419.3L320 419.7L320 421L320.7 421.7L318.7 422.3L318.4 423.7L318.3 423.7L315 423.4L312.8 423L312.1 421.3L310.6 421.5L304.8 419.8L303.8 418.4L302.5 417.1L301.4 417L301.2 417.2L300.1 416L300.1 414.3L298.1 413.2L297.4 411.3L298 409.9L297 409.5L296.3 407.9L295.6 406.3Z" fill="#FFFF00" stroke="#FFFF00"/>
<path d="M272.3 402.5L272 402L273.2 401.5L274 401.6L274.2 402.1L275.7 402.7L278.5 402.8L281.1 401.6L283.6 401.6L285.4 402.5L288 403.1L290.4 402.9L291.9 402.3L291.9 402.3L293.7 402.3L294.6 402.8L294.8 404L296.3 404.6L295.8 405L295.6 406.3L296.3 407.9L293.1 408L290.9 408L288 408.3L286.1 408.6L285.5 409.2L285 409.6L284.7 409.6L285 408.7L282.7 408.6L280.1 409.4L277.6 408.4L275.5 408.8L273.2 408.2L272.8 406.2L271.9 404.9L271.8 404.2L271.5 403.3L271.9 403.1Z" fill="#FFFF00" stroke="#FFFF00"/>
<path d="M295.9 400.7L298.4 401.7L298.7 402.7L296.6 402.5L294.6 402.8L293.7 402.3L291.9 402.3L291.9 402.3L292.2 402.1L291.9 400.7L290.1 399.8L293.3 400Z" fill="#D3D3D3" stroke="#D3D3D3"/>
<path d="M297.4 403.2L297.7 404L298.5 404.9L298.5 405.7L298 405.7L297.2 404.9L296.3 404.6L294.8 404L294.6 402.8L296.6 402.5Z" fill="#B9FF45" stroke="#B9FF45"/>
<path d="M302.5 403.8L301.8 406.2L301.9 406.3L301.8 406.3L300.5 405.8L300.9 405L299.2 405.2L298.5 405.7L298.5 404.9L297.7 404L297.4 403.2L296.6 402.5L298.7 402.7L298.4 401.7L300.3 402.7L300.9 402.2ZM297.1 405.6L296.3 405L296.3 404.6L297.2 404.9L298 405.7Z" fill="#B9FF45" stroke="#B9FF45"/>
<path d="M285.5 409.2L286.1 408.6L288 408.3L290.9 408L293.1 408L291.7 409L291.7 410L291.3 411.6L288.4 412.9L285.8 414.3L284.4 413.8L284.4 413L285.5 411.8L285.1 411.3L284.6 411.2L284.4 410.8L284.6 410.1L284.7 409.6L285 409.6Z" fill="#D3D3D3" stroke="#D3D3D3"/>
<path d="M285.1 411.3L285.5 411.8L284.4 413L283.6 413.3L284 412.2L284.2 411.6L284.6 411.2Z" fill="#D3D3D3" stroke="#D3D3D3"/>
<path d="M283.3 414.1L283.6 413.3L284.4 413L284.4 413.8L284.2 414.2L284 415.4L283.9 416.2L283.3 418L282.5 415.7L282.5 415.4Z" fill="#D3D3D3" stroke="#D3D3D3"/>
<path d="M284 415.4L284.2 414.2L284.4 413.8L285.8 414.3L288.4 412.9L288.9 414.5L286 415.4L287.3 416.7L286.7 417.4L285.6 417.5L284.8 418.4L283.4 418.3L283.3 418L283.9 416.2Z" fill="#FF0000" stroke="#FF0000"/>
<path d="M297 409.5L298 409.9L297.4 411.3L298.1 413.2L300.1 414.3L300.1 416L301.2 417.2L301 417.4L300.5 417.4L300.1 417.2L298.7 418.5L296.2 418.4L292.6 415.9L290.5 414.9L288.9 414.5L288.4 412.9L291.3 411.6L291.7 410L291.7 409L293.1 408L296.3 407.9Z" fill="#FF0000" stroke="#FF0000"/>
<path d="M300.5 417.4L300.8 417.6L300.5 417.8L301.1 419.1L301 419.2L299.9 419.3L298.7 418.5L300.1 417.2Z" fill="#D3D3D3" stroke="#D3D3D3"/>
<path d="M285.6 417.5L286.7 417.4L287.3 416.7L286 415.4L288.9 414.5L290.5 414.9L292.6 415.9L296.2 418.4L298.7 418.5L299.9 419.3L301 419.2L301.2 419.3L301.2 419.3L302.5 420.9L303.2 422L303.6 422.8L303.5 423.3L304.2 424.3L304.7 424.4L305.3 425L305.3 426.7L306.6 426.7L310 426.9L310.7 427.9L309.7 430.5L305.8 431.8L301.8 432.3L299.9 434.3L298.8 434L296.8 433.9L295.2 433.9L294.3 433.8L294.1 434.8L293.7 435.2L293.5 435.2L293.5 435.1L291.9 433.1L290.6 431.1L288.9 428.8L288.3 426.5L286.7 424.8L285.6 422.6L283.8 420.1L283.3 418.4L283.4 418.3L284.8 418.4Z" fill="#FF0000" stroke="#FF0000"/>
<path d="M294.3 433.8L295.2 433.9L296.8 433.9L298.8 434L299.9 434.3L301.8 432.3L305.8 431.8L307.2 434.9L307.3 435L307.1 435.1L306.1 436.3L303.2 437.3L301.2 438.4L298.5 439.1L296.6 439.9L294.6 440.1L294.2 439.3L293.7 437L293.6 435.5L293.7 435.2L294.1 434.8Z" fill="#FF8C00" stroke="#FF8C00"/>
<path d="M309.7 430.5L310.7 427.9L310 426.9L310.8 425L311.5 424.1L311.6 424.1L311.6 424.2L313 425.5L314.6 425.8L316.1 427.2L314.6 429.8L313.4 431.8L311.7 433.1L309.7 434.4L307.4 435L307.2 434.9L305.8 431.8ZM311.2 422.6L311.5 422.3L311.5 423L311.2 423Z" fill="#FF0000" stroke="#FF0000"/>
<path d="M305.5 424.4L306.4 425L308.4 425L310.4 423.5L311.2 422.6L311.2 423L311.5 423L311.6 423.8L311.5 424.1L310.8 425L310 426.9L306.6 426.7L305.3 426.7L305.3 425L305.3 424.4Z" fill="#FF0000" stroke="#FF0000"/>
<path d="M304.5 422.6L305.1 422.6L305.2 423.9L304.7 424.4L304.2 424.3L304.2 423.7Z" fill="#D3D3D3" stroke="#D3D3D3"/>
<path d="M283.3 418.3L283.3 418.1L282.6 420L282.3 420.4L281 419.2L280.2 417.5L279.8 415.8L280.7 415.9L282.3 415.7L282.3 415.6L282.5 415.7L283.3 418Z" fill="#FF8C00" stroke="#FF8C00"/>
<path d="M275.9 365.8L274.7 365.1L274 364.7L271.5 365.3L271.1 366.2L270.1 366.7L268.5 366.5L266.8 366.6L265.7 365.8L264.4 366.1L263.6 367L261.1 366.8L260.8 367.6L258.9 368.2L258.5 368.8L257.5 369.7L256.4 370L256.4 371L255.3 372L255.8 372.2L255.6 372.8L253.2 373.3L253.3 374.1L253.5 375.6L254.3 376.3L253.3 376.7L253.9 377.5L252.8 378.1L252.7 379L252 379.2L252 379.3L251.1 378.7L249.8 379.6L247.8 380.5L245.8 380.4L244.2 378.9L243.8 376.7L244.1 375.1L246.5 374.1L249.8 373.1L251.7 371.7L253.7 370.1L255 368.2L257 367.1L259 366.2L261.6 365.1L264.9 364.6L268.2 363.8L271.3 363.4L274.8 363.6L278.1 364.5L277.5 365.1L277.7 365.2L275.3 366.1Z" fill="#006400" stroke="#006400"/>
<path d="M252.8 378.1L253.9 377.5L253.3 376.7L254.3 376.3L253.5 375.6L253.3 374.1L253.2 373.3L255.6 372.8L255.8 372.2L255.3 372L256.4 371L256.4 370L257.5 369.7L258.5 368.8L258.9 368.2L260.8 367.6L261.1 366.8L263.6 367L264.4 366.1L266.2 366.8L268.4 367.6L268.4 368.4L268.9 369.1L268.8 369.9L269.1 370.4L266.2 370.7L265.3 372.1L262.3 373.8L260.3 375.4L259.9 376.7L261.6 378L262 378.9L259.3 380L259 381.9L258.1 383.1L256.1 383.5L254.4 384L254 383L252.8 381.1L252 379.3L252 379.3L252 379.2L252.7 379Z" fill="#B9FF45" stroke="#B9FF45"/>
<path d="M266.8 366.6L268.5 366.5L270.1 366.7L271.1 366.2L271.5 365.3L274 364.7L274.7 365.1L275.9 365.8L275.3 366.1L274.7 366.3L275.1 367.2L276.8 367.9L275.5 368.9L276.9 370.5L276.4 371.7L277.5 372.5L278.8 374.2L276.8 375.6L273.9 377.3L273.7 377.4L271.5 377.5L267.6 378.1L265.6 377.1L265.3 375.4L265.2 374.1L268.9 372.1L270.6 371L269.1 370.4L268.8 369.9L268.9 369.1L268.4 368.4L268.4 367.6L266.2 366.8L264.4 366.1L265.7 365.8Z" fill="#B9FF45" stroke="#B9FF45"/>
<path d="M273.6 380.8L273.4 381.1L271.5 380.9L270.2 380.6L269.3 380.8L269.3 380.2L268.2 379L270.9 378.5L274.2 378.7L273.4 379.6Z" fill="#FCBE2E" stroke="#FCBE2E"/>
<path d="M271.5 380.9L273.4 381.1L273.9 381.5L274.4 383L272.3 383.6L270.2 382.7L266.2 382.7L264.9 383.1L264.9 382.2L265.9 381.1L268.2 381.9L269.3 381.5L269.3 380.8L270.2 380.6Z" fill="#00FF00" stroke="#00FF00"/>
<path d="M270.2 382.7L272.3 383.6L272.6 384.2L271.3 384.7L271.3 385.6L269.4 386L268.2 386L267.3 385.3L267.2 384.7L265.3 384.2L264.9 384.2L264.9 383.1L266.2 382.7Z" fill="#00FF00" stroke="#00FF00"/>
<path d="M271.3 385.6L271.3 384.7L272.6 384.2L272.3 383.6L274.4 383L278 383.8L277.8 384.8L280.4 386.7L278.6 386.9L279.2 388.4L277.5 389.4L275.5 389.2L272.8 389L270.2 388.6L268.4 389.2L268.4 388.4L267.8 388.1L268.8 387.6L268.2 386L269.4 386Z" fill="#D3D3D3" stroke="#D3D3D3"/>
<path d="M268.4 389.2L270.2 388.6L272.8 389L275.5 389.2L277.5 389.4L279.2 388.4L281.8 388L284.2 390.6L287.3 391.3L290.1 391.6L289.7 393.9L287.6 394.9L285.4 395.4L283.4 396.1L283.8 397.2L285.4 397.2L285.8 397.2L285.8 397.3L285.1 397.6L284 397.7L282.1 398.5L281.4 397.7L280.4 396.6L278.1 395.6L276.8 396.6L276.5 397.3L276.4 397.3L274.4 397L275.3 396.2L276.8 395.8L275.7 394.4L275.7 393.7L273.9 393.1L272.3 393.4L270.1 394.1L267.4 393.7L266.4 393.2L267 392.3L269 390.1Z" fill="#006400" stroke="#006400"/>
<path d="M275.7 393.7L275.7 394.4L276.8 395.8L275.3 396.2L274.4 397L274.3 396.1L273.2 394.4L272.3 393.4L273.9 393.1Z" fill="#8B2323" stroke="#8B2323"/>
<path d="M246.3 398.5L246.5 397.4L246.2 396.6L246.5 396.5L247.7 396.5L248.3 395.8L249.1 396.6L249.5 395.7L250.6 396.1L251 395.6L251.1 395.2L251.7 395.3L253.2 394.9L253.6 395.4L255.3 395.7L254.9 396.1L255.2 396.6L255.4 396.9L255.4 396.9L255.3 396.9L253.5 397.3L253.6 398.6L255.2 399.6L256 401L258.3 401.7L260.3 403.2L261.6 404.1L261.4 404.5L259.7 403.7L259.1 404.6L259.8 405.6L259 406.3L258.3 407L257.8 406.7L258.3 405.6L257.7 404.2L256.4 403.5L255 402.7L253.5 402L251.7 401L250.8 399.6L249.8 398.7L248.7 398.5L247.1 399.3L247.4 398.7Z" fill="#00FF00" stroke="#00FF00"/>
<path d="M228.6 401.7L229.1 402.1L228.2 402.9L228.2 404L228 404.6L227.4 404.8L228 405.4L227.6 406.3L228 406.6L227.4 407.5L227.5 407.9L227.5 408L225.7 408.2L225.7 406.2L224.7 405.8L225.5 404L225.8 402.3L225.6 401.7L226.4 401.5Z" fill="#00FF00" stroke="#00FF00"/>
<path d="M236.6 400.6L238.2 400.6L239.5 401L241.2 401.1L241.2 401.1L241.5 401.9L240.1 402.5L238.3 403.2L236.9 404.9L237.4 405.8L236.5 406.9L234.9 408.2L234.2 408.4L231.5 408.6L230.1 409.4L228.9 408.7L228 407.9L227.5 408L227.5 407.9L227.4 407.5L228 406.6L227.6 406.3L228 405.4L227.4 404.8L228 404.6L228.2 404L228.2 402.9L229.1 402.1L228.6 401.7L226.4 401.5L225.6 401.7L225.1 400.3L226.7 399.4L229.3 399.5L232.2 399.6L234.8 399.8L234.9 399.9Z" fill="#00FF00" stroke="#00FF00"/>
<path d="M234.9 399.8L235.7 398.2L235.7 396.4L234.2 394.8L231.6 393.9L231.1 393.2L233.3 392.7L235.1 392.8L235 391.5L237 392L239.2 391L239.5 389.9L240.4 389.6L240.5 389.7L241.1 390.2L241.5 390.5L242.7 390.7L242.8 391.1L243.6 391L243.7 391.4L244.9 391.8L245.7 391.8L246.1 392.2L248.1 392.4L247.3 393.6L247.3 394.3L246.3 394.7L245.3 395.6L245.3 396.1L246.2 395.8L246.5 396.5L246.2 396.6L246.5 397.4L246.3 398.5L247.4 398.7L247.1 399.3L245.2 400.2L243.6 399.8L241.9 399.9L241.2 401L241.2 401.1L239.5 401L238.2 400.6L236.6 400.6L234.9 399.9L234.8 399.8Z" fill="#00FF00" stroke="#00FF00"/>
<path d="M241.6 389.3L241.6 389.3L241.7 389.4L242.9 389.3L243.8 389.3L244.9 389.5L244.8 390.1L245.2 390.1L245.6 390.5L245.3 391L244.9 391.1L244.9 391.8L243.7 391.4L243.6 391L242.8 391.1L242.7 390.7L241.5 390.5L241.1 390.2L240.5 389.7L240.6 389.6Z" fill="#FCBE2E" stroke="#FCBE2E"/>
<path d="M245.3 391L245.8 391.4L245.7 391.8L244.9 391.8L244.9 391.1Z" fill="#D3D3D3" stroke="#D3D3D3"/>
<path d="M242.8 388.2L243.6 387.2L245.2 386.7L246.4 386.6L246.7 386.9L246.6 387.7L246.1 387.8L246.2 388.6L245.2 388.8L245.3 389.5L245.2 390.1L244.8 390.1L244.9 389.5L243.8 389.3L242.9 389.3L241.7 389.4L241.6 389.3Z" fill="#006400" stroke="#006400"/>
<path d="M246.7 386.5L248.5 386.1L248.7 385.2L248.5 384.7L248.6 384.7L250.2 384.8L250.2 384.8L251.7 385.6L253.5 385.5L255.9 385.9L256 386L256 387.2L256.6 388.4L256.8 389.9L256.1 389.8L254.3 390.6L253.3 390.9L253.7 391.8L255.4 392.8L254.3 393.5L254.4 394.4L253.3 394.3L251.7 394.5L249.9 394.4L248.5 394.1L247.3 394.3L247.3 393.6L248.1 392.4L246.1 392.2L245.7 391.8L245.8 391.4L245.3 391L245.6 390.5L245.2 390.1L245.3 389.5L245.2 388.8L246.2 388.6L246.1 387.8L246.6 387.7L246.7 386.9L246.4 386.6Z" fill="#FFFF00" stroke="#FFFF00"/>
<path d="M248.2 383.9L248.1 382.2L249.8 381.7L251.1 381L251.1 382.9L250.4 384.2L250.2 384.8L248.6 384.7L248.5 384.7Z" fill="#00FF00" stroke="#00FF00"/>
<path d="M246.3 394.7L247.3 394.3L248.5 394.1L249.9 394.4L249.9 394.9L251.1 395.2L251 395.6L250.6 396.1L249.5 395.7L249.1 396.6L248.3 395.8L247.7 396.5L246.5 396.5L246.2 395.8L245.3 396.1L245.3 395.6Z" fill="#00FF00" stroke="#00FF00"/>
<path d="M253.3 394.3L254.4 394.4L254.3 393.5L255.4 392.8L256.6 393L257 392.4L259.5 393L259.9 393.7L259.8 394.1L259 394.5L258.5 395.2L257.8 395.4L256.5 395.8L255.3 395.7L253.6 395.4L253.2 394.9L251.7 395.3L251.1 395.2L249.9 394.9L249.9 394.4L251.7 394.5Z" fill="#006400" stroke="#006400"/>
<path d="M256.1 389.8L256.8 389.9L258.6 390.2L259.3 391L260.6 390.7L262.2 391.8L261.2 392L259.5 393L257 392.4L256.6 393L255.4 392.8L253.7 391.8L253.3 390.9L254.3 390.6Z" fill="#00FF00" stroke="#00FF00"/>
<path d="M256 385.9L259 385.2L261.6 385L263.3 385.3L267.3 385.3L268.2 386L268.8 387.6L267.8 388.1L268.4 388.4L268.4 389.2L269 390.1L267 392.3L265.6 391.9L263.6 392.2L262.2 391.8L260.6 390.7L259.3 391L258.6 390.2L256.8 389.9L256.6 388.4L256 387.2L256 386L255.9 385.9Z" fill="#B9FF45" stroke="#B9FF45"/>
<path d="M262.2 391.8L263.6 392.2L265.6 391.9L267 392.3L266.4 393.2L264 393.4L262 394L259.9 393.7L259.5 393L261.2 392Z" fill="#FCBE2E" stroke="#FCBE2E"/>
<path d="M259.8 394.1L259.9 393.7L262 394L264 393.4L266.4 393.2L267.4 393.7L266.4 394.3L265.2 395.8L264 396.1L262 396.5L260.4 396.5L259.1 395.7L258.5 395.2L259 394.5Z" fill="#FCBE2E" stroke="#FCBE2E"/>
<path d="M256.5 395.8L257.8 395.4L258.5 395.2L259.1 395.7L257.9 396.1L257.8 396.6L257.4 397L256.5 396.9L255.6 397.1L255.4 396.9L255.4 396.9L255.2 396.6L254.9 396.1L255.3 395.7Z" fill="#00FF00" stroke="#00FF00"/>
<path d="M257.4 397L257.8 396.6L257.9 396.1L259.1 395.7L260.4 396.5L262 396.5L262.8 397.4L262.3 397.8L259.7 397.4L258.1 397.4L258.1 398.1L258.7 398.9L260.4 400.2L261.6 400.8L261.6 401L259.7 400L257.4 398.7L256.1 397.4L255.6 397.1L256.5 396.9Z" fill="#00FF00" stroke="#00FF00"/>
<path d="M262.3 397.8L262.8 398.6L263.1 399.1L262.6 399.6L261.9 400L261.6 400.8L260.4 400.2L258.7 398.9L258.1 398.1L258.1 397.4L259.7 397.4Z" fill="#D3D3D3" stroke="#D3D3D3"/>
<path d="M265.5 397.4L265.6 397.9L266.9 398.2L267.2 398.7L266.8 399.8L267.6 400.2L266.8 401.1L265.6 401.4L264.4 401.7L263.7 400.8L264.1 400.3L262.6 399.6L263.1 399.1L262.8 398.6L262.3 397.8L262.8 397.4L262 396.5L264 396.1Z" fill="#FF8C00" stroke="#FF8C00"/>
<path d="M261.9 400L262.6 399.6L264.1 400.3L263.7 400.8L263.1 401L262.8 401.7L262.6 401.7L261.6 401L261.6 400.8Z" fill="#FF8C00" stroke="#FF8C00"/>
<path d="M263.7 400.8L264.4 401.7L264.3 402.7L264.9 403.2L264.5 404.1L263.6 404.6L262.8 403.6L263 402L262.8 401.9L262.8 401.7L263.1 401Z" fill="#8B2323" stroke="#8B2323"/>
<path d="M266.8 401.1L267.6 402.4L267.3 402.5L266.1 402.8L264.9 403.2L264.3 402.7L264.4 401.7L265.6 401.4Z" fill="#D3D3D3" stroke="#D3D3D3"/>
<path d="M264.9 403.2L266.1 402.8L267.3 402.5L267.6 402.4L269.5 402.3L271.7 402.4L272 402L272.3 402.5L271.9 403.1L271.5 403.3L268.9 403.2L268.9 404.2L267.3 403.7L267.6 405.2L268.9 406.6L267.8 407.1L267.8 408.8L266.6 408.7L265.7 408.3L265.2 407.1L264.9 406.2L263.9 404.9L263.6 404.6L264.5 404.1Z" fill="#FFFF00" stroke="#FFFF00"/>
<path d="M270.7 399.4L272.8 398.9L274.8 399.4L274.2 400.3L273.8 401L274 401.6L273.2 401.5L272 402L271.7 402.4L269.5 402.3L267.6 402.4L266.8 401.1L267.6 400.2L266.8 399.8L267.2 398.7L266.9 398.2L267.4 399.1Z" fill="#B9FF45" stroke="#B9FF45"/>
<path d="M270.1 394.1L272.3 393.4L273.2 394.4L274.3 396.1L274.4 397L276.4 397.3L276.4 397.4L276.3 397.7L275.1 399L274.8 399.4L272.8 398.9L270.7 399.4L267.4 399.1L266.9 398.2L265.6 397.9L265.5 397.4L264 396.1L265.2 395.8L266.4 394.3L267.4 393.7Z" fill="#D3D3D3" stroke="#D3D3D3"/>
<path d="M0 366.3L6.6 368.2L11.9 369.1L13.6 370L9.9 372.2L8.6 372.4L5.9 371.7L2.6 370.8L0 371.4Z" fill="#FF0000" stroke="#FF0000"/>
<path d="M229.7 391.1L231.3 389.7L233 389.3L230.4 388.8L231.6 387.8L231.3 386.8L233.3 386.1L232.9 384.7L230.9 384.6L230 383L229.3 381.3L230.7 379.8L233 379.8L232.6 381L234.6 381.3L234.4 383.2L235.3 384.3L237 385.6L237.6 387.2L239.4 387.6L239 389.7L235.3 390.2L232.6 390.7Z" fill="#B9FF45" stroke="#B9FF45"/>
<path d="M224.1 385.6L226 385.3L226.4 384.3L227.6 384.3L227.6 384.6L226.8 385L226.4 385.2L227.6 385.7L228.9 385.7L229.8 385.6L229.3 386.5L228.9 388.2L226.7 388.9L224.1 389L223.8 388.2L224.7 386.9Z" fill="#00FF00" stroke="#00FF00"/>
<path d="M226.8 385L227.6 384.6L227.6 384.3L228.9 384.3L230 385.2L229.8 385.6L228.9 385.7L227.6 385.7L226.4 385.2Z" fill="#B9FF45" stroke="#B9FF45"/>
<path d="M205.2 370.8L207.6 369.6L209.6 370.7L213.5 369.9L217.5 369.7L219.2 370.8L218.8 371.8L216.2 372.8L212.2 373.5L207.6 372.9L208.3 372.4Z" fill="#00FF00" stroke="#00FF00"/>
<path d="M251.7 352.2L258.3 351.8L261 352L265.6 353.6L262.3 354.4L259.7 356.2L257 356.1L254.4 354.4Z" fill="#006400" stroke="#006400"/>
<path d="M261.6 351.5L268.9 351.1L272.8 351.9L266.2 352.7Z" fill="#006400" stroke="#006400"/>
<path d="M264.9 355L264.9 354.1L267.6 354.1L268.9 355.3Z" fill="#006400" stroke="#006400"/>
<path d="M305.1 362.9L305.8 362.3L307.8 360.3L310.4 358.1L316.3 356.6L324.2 355.7L327.5 356.1L320.3 357L315 358.3L311.1 360.3L310.4 361.6L313 364.1L307.8 363.8Z" fill="#FF0000" stroke="#FF0000"/>
<path d="M296.6 350.7L297.9 350.1L307.1 350.3L305.8 351.1Z" fill="#FF0000" stroke="#FF0000"/>
<path d="M362.5 353.1L362.5 351.1L366.4 350.4L374.3 352.4L375.6 353.7L369.1 354.4Z" fill="#FF0000" stroke="#FF0000"/>
<path d="M417.8 357.7L421.8 357L429.7 357L435 358.3L425.7 358.6Z" fill="#FF0000" stroke="#FF0000"/>
<path d="M472.5 363.8L473.2 362.9L474.5 362.9L474.5 363.7Z" fill="#FF0000" stroke="#FF0000"/>
<path d="M301.2 366.2L302.5 365.5L303.2 366.5Z" fill="#FF0000" stroke="#FF0000"/>
<path d="M424.4 396.4L424.4 393.1L424.4 389.8L424.7 386.5L425.7 385.5L426.1 388.5L427.7 392.4L425.7 392.2L426.4 395.3Z" fill="#FF0000" stroke="#FF0000"/>
<path d="M431 397.7L431 397.3L433.4 396.4L433.6 396.6Z" fill="#FF0000" stroke="#FF0000"/>
<path d="M421.8 402.3L422.2 400.3L423.5 399.9L424.2 397.2L427.4 399L429 399.9L426.1 401.6L423.1 401Z" fill="#B9FF45" stroke="#B9FF45"/>
<path d="M423.8 402.5L424.4 404.9L423.1 406.9L422.8 408.8L422 410.5L420.5 410.8L417.8 411.3L417.6 411.8L416.1 412.8L415.2 411.3L412.6 411.7L409.9 412.1L409.9 411.3L411.9 410.3L414.5 410L416.5 409.8L417.8 407.8L419.8 407.8L421.5 405.6L421.8 403.6L422.2 402.7Z" fill="#B9FF45" stroke="#B9FF45"/>
<path d="M408.6 412.8L411 412.6L411 414.7L409.7 416L408.9 415.7L408.6 413.8Z" fill="#B9FF45" stroke="#B9FF45"/>
<path d="M411.5 413L412.8 411.8L414.8 411.8L414.1 413L412.6 413.7Z" fill="#B9FF45" stroke="#B9FF45"/>
<path d="M396.7 423.5L398.1 423.9L396.7 427.9L395.7 426.5Z" fill="#D3D3D3" stroke="#D3D3D3"/>
<path d="M380.5 431.5L382.6 430.3L383.6 431L381.6 432.8Z" fill="#00FF00" stroke="#00FF00"/>
<path d="M403.6 413L404.5 412.8L404.5 413Z" fill="#00FF00" stroke="#00FF00"/>
<path d="M342.4 444L344.3 445.6L345.2 447.5L344 448.7L342.7 448.8L342.3 446.2Z" fill="#FCBE2E" stroke="#FCBE2E"/>
<path d="M396.1 432.4L398.3 432.4L398.4 435.1L397.4 437L400.7 439.7L400.7 440.3L398.7 439L396.7 438.7L395.8 437.3L395.4 435.5Z" fill="#FCBE2E" stroke="#FCBE2E"/>
<path d="M398.1 447.5L400 445.3L402.7 443.9L404 446.9L403.3 448.5L402.4 449.1L400.7 447.8L399.8 446.9Z" fill="#FCBE2E" stroke="#FCBE2E"/>
<path d="M401.1 440.3L402.9 440.6L402.7 443.3L401.3 442.9Z" fill="#FCBE2E" stroke="#FCBE2E"/>
<path d="M398.1 441.2L399.6 441.6L400 444.3L398.7 444.6L398.1 442.9Z" fill="#FCBE2E" stroke="#FCBE2E"/>
<path d="M391.7 445.6L393.4 443.6L395 441.9L394.8 442.9Z" fill="#FCBE2E" stroke="#FCBE2E"/>
<path d="M395.9 439L397.4 439.3L397 440.6Z" fill="#FCBE2E" stroke="#FCBE2E"/>
<path d="M392.8 451.1L392.4 452.8L392.8 454.1L394.1 455.4L392.4 455.8L392.1 457.8L390.8 458.7L390.5 460.7L390.1 462L388.4 462L386.8 461L384.6 461.3L382.5 460.7L382.2 458.7L381.2 457.4L380.9 456.1L380.9 454.8L381.6 454.1L381.8 454.1L381.7 455L382.9 455.5L384.6 455.4L385.5 454.8L387.1 455L388.3 454.8L388.8 453.4L389.7 452.8L389.6 451.2L390.8 450.9L392.3 451.2L392.9 451Z" fill="#FCBE2E" stroke="#FCBE2E"/>
<path d="M390.8 450.9L389.6 451.2L389.7 452.8L388.8 453.4L388.3 454.8L387.1 455L385.5 454.8L384.6 455.4L382.9 455.5L381.7 455L381.8 454.1L383.6 454.5L383.9 453L386.2 452.5L387.7 451L387.8 451.2L388.6 451.3L389.2 451.1L389.4 450.2L388.3 450.5L390.1 448.8L391.2 447.5L392.4 448.5L394.4 449.9L392.9 451L392.3 451.2Z" fill="#FFFF00" stroke="#FFFF00"/>
<path d="M389.4 450.2L389.2 451.1L388.6 451.3L387.8 451.2L387.7 451L388.2 450.6L388.3 450.5Z" fill="#D3D3D3" stroke="#D3D3D3"/>
<path d="M362.9 449.4L365.8 449.9L367.3 451.7L369.5 453.4L371 454.4L373 455.8L374.1 457.4L375 459.1L377 460.7L376.8 464.3L375 464.3L373 462.6L371 460.7L369.7 458.7L368.4 456.7L367.3 454.5L365.5 452.8L363.8 450.8Z" fill="#FCBE2E" stroke="#FCBE2E"/>
<path d="M376 459L377.9 460L377.6 460.7L376.3 459.7Z" fill="#FCBE2E" stroke="#FCBE2E"/>
<path d="M376 465.6L377.2 464.6L380.3 465.5L383.2 465.2L385.8 465.9L388.2 466.8L388 468.1L383.6 467.6L380.3 467L377.5 466.4Z" fill="#FCBE2E" stroke="#FCBE2E"/>
<path d="M388.8 467.5L391.5 467.6L394.1 467.9L393.4 468.5L389.5 468.3Z" fill="#FCBE2E" stroke="#FCBE2E"/>
<path d="M395.4 467.6L399.4 467.6L399.1 468.3L395.4 468.3Z" fill="#FCBE2E" stroke="#FCBE2E"/>
<path d="M401.9 469.8L401.9 468.6L402 468.6L402.1 469.2L402.9 469.3Z" fill="#D3D3D3" stroke="#D3D3D3"/>
<path d="M401.3 470.1L400 470.2L401.9 468.6L401.9 469.8Z" fill="#FCBE2E" stroke="#FCBE2E"/>
<path d="M402.1 469.2L402 468.6L402 468.5L405 467.7L404 468.8L402.9 469.3Z" fill="#D3D3D3" stroke="#D3D3D3"/>
<path d="M394.1 469.2L396.5 469.7L395.4 470.2Z" fill="#FCBE2E" stroke="#FCBE2E"/>
<path d="M394.8 463.9L394.8 461.3L393.8 460.3L395.2 456.7L396.5 455L399.4 455.4L402 454.5L401.3 456.2L396.7 456.1L395.7 457.8L397.4 457.9L399.8 457.8L398.1 459.1L397.7 459.6L398.7 461L399.4 462.6L398.7 463.9L397.7 463L396.7 460.7L396.1 461.3L395.9 464.1Z" fill="#FCBE2E" stroke="#FCBE2E"/>
<path d="M405.3 455.7L406 453.8L406.9 455.4L406 457.8Z" fill="#FCBE2E" stroke="#FCBE2E"/>
<path d="M406 460.7L409.7 460.9L407.9 461.3Z" fill="#FCBE2E" stroke="#FCBE2E"/>
<path d="M403.3 460.9L404.9 461L404.2 461.7Z" fill="#FCBE2E" stroke="#FCBE2E"/>
<path d="M420.5 467.2L419.1 467.7L419.8 465.6L418.5 463.5L415.2 462.5L412.6 462L412.2 460.4L413.9 460L411.2 459.3L409.9 458.6L409.9 457.8L411.9 457.2L413.9 457.8L415.2 461L418.5 459L423.1 460.1L423.1 468.7Z" fill="#FCBE2E" stroke="#FCBE2E"/>
<path d="M423.1 460.1L427.7 461.7L429.7 463.9L431.7 464.6L432.1 466.6L435.6 470.5L432.3 470.1L429.7 467.9L426.4 467.9L425.7 468.8L423.1 468.7Z" fill="#D3D3D3" stroke="#D3D3D3"/>
<path d="M433 464.1L435.6 463.9L437.9 462.2L437.6 463.9L435 465Z" fill="#D3D3D3" stroke="#D3D3D3"/>
<path d="M436 460.1L438.6 462.4L438.9 463L436.3 460.7Z" fill="#D3D3D3" stroke="#D3D3D3"/>
<path d="M441.2 463.9L442.6 465.2L441.9 465.6Z" fill="#D3D3D3" stroke="#D3D3D3"/>
<path d="M443.5 465.9L444.8 466.6L444.6 467Z" fill="#D3D3D3" stroke="#D3D3D3"/>
<path d="M446.8 467.2L448.8 469.2L448.1 469.6Z" fill="#D3D3D3" stroke="#D3D3D3"/>
<path d="M449.1 467.9L449.9 469.2L449.5 469.3Z" fill="#D3D3D3" stroke="#D3D3D3"/>
<path d="M456.8 476.1L457.6 476.7L457.2 477.2Z" fill="#D3D3D3" stroke="#D3D3D3"/>
<path d="M457.8 477.7L458.4 478.4L458 478.5Z" fill="#D3D3D3" stroke="#D3D3D3"/>
<path d="M453.4 483.1L457.4 485.8L456.7 486.1L453.4 483.9Z" fill="#00FF00" stroke="#00FF00"/>
<path d="M470.9 479.7L472.8 479.7L472.5 480.6L470.9 480.5Z" fill="#D3D3D3" stroke="#D3D3D3"/>
<path d="M472.9 478.8L474.5 478L474.5 478.5L473.2 479Z" fill="#D3D3D3" stroke="#D3D3D3"/>
<path d="M9.6 474.4L10.3 474.4L10.1 474.8Z" fill="#D3D3D3" stroke="#D3D3D3"/>
<path d="M387.8 485.3L390.1 484L394.1 483L397.4 481.6L398.4 479.3L400.3 478.4L402.7 475.7L404.6 475.1L406.6 476.3L407.9 476.3L409.7 473.1L411.9 471.8L415.2 472.7L417.6 472.7L416.2 475.7L418.5 477.7L421.1 479.7L422.8 479.7L423.9 476.4L424 473.4L425.1 470.9L426.4 475.1L428.8 476.4L429.7 480.3L431.7 482.3L434 484.9L436 486.9L438.9 490.2L439.6 493.5L438.9 497.4L437.6 499.8L436.3 501.3L435.2 504L435 505.9L431.7 506.6L430.1 508L428.1 506.8L425.7 507.6L422.8 506.6L421.4 504.6L419.5 503.3L419.1 501.7L418.7 500L417.8 501.3L416.5 502.6L415.8 502.1L414.1 500L411.2 498.7L407.3 498.2L403.3 499.1L400.7 500.4L400 501.2L395.4 501.3L392.8 502.6L390.1 502.5L388.8 501.7L389.6 498.7L388.8 496.1L387.8 492.8L386.6 490.8L386.8 488.9L387.1 486.2Z" fill="#D3D3D3" stroke="#D3D3D3"/>
<path d="M428 510.1L430.3 510.6L432.6 510.4L432.6 512.1L431 513.8L429.7 513.8L428.6 512.2Z" fill="#D3D3D3" stroke="#D3D3D3"/>
<path d="M464.9 501.9L467 503.3L468.6 504.6L469.2 505.9L472.3 506.1L471.2 508.2L470.4 509.2L468.3 511.3L467.5 510.8L468.2 509.5L466.3 508.3L467.5 507L467.3 505.3L465.5 502.9Z" fill="#FCBE2E" stroke="#FCBE2E"/>
<path d="M464.9 509.9L466.9 511.2L465 513.8L463 514.8L462.2 516.9L460 517.9L458 517.3L456.7 516.7L459.1 514.4L461.7 513.1L463.3 511.6Z" fill="#FCBE2E" stroke="#FCBE2E"/>
<path d="M253.7 406.9L257.8 406.6L257.2 408.6L253.7 407.4Z" fill="#00FF00" stroke="#00FF00"/>
<path d="M248.2 403.1L249.9 402.8L249.9 405.3L248.5 405.6Z" fill="#00FF00" stroke="#00FF00"/>
<path d="M248.7 400.8L249.8 400.4L249.6 402.3L248.7 401.9Z" fill="#00FF00" stroke="#00FF00"/>
<path d="M268.4 410.1L271.8 410.5L269.5 410.9Z" fill="#D3D3D3" stroke="#D3D3D3"/>
<path d="M279.8 410.8L282.7 410L281.8 411.1L280.4 411.2Z" fill="#D3D3D3" stroke="#D3D3D3"/>
<path d="M251.7 383.6L253.7 383.2L253.7 384.6L252.1 384.3Z" fill="#00FF00" stroke="#00FF00"/>
<path d="M250.2 383.9L251.4 383.9L251.4 384.4L250.4 384.4Z" fill="#00FF00" stroke="#00FF00"/>
<path d="M261.2 381.7L262.3 380.8L261.9 381.8Z" fill="#B9FF45" stroke="#B9FF45"/>
<path d="M240.4 404.8L241.7 404.5L241.3 405.2Z" fill="#00FF00" stroke="#00FF00"/>
<path d="M327.9 521L330.2 521.3L329.3 521.9Z" fill="#00FF00" stroke="#00FF00"/>
</g></g>
<g filter="url(#soft)"><g transform="translate(808.00,0)" class="map">
<path class="ant" d="M0 563.3L9.6 562.5L16.7 563.7L27.6 563.3L35.6 564.2L41.9 564.8L49.1 563.7L41.9 563.3L35.6 561.6L31.1 559.3L42.9 557.9L43.8 556.8L34.7 556.2L28.5 554.9L31.1 553.5L40.1 552.3L45.5 551.1L58.2 550.3L70.7 549.4L79.6 549.5L92.3 550.9L99.4 551.4L102.2 548.1L108.4 546.9L113.8 548.5L124.6 547.7L131.7 548.5L139 546.4L142.5 543.6L147.9 540.1L155.2 536.8L161.4 535.9L156.9 538.3L154.3 541L151.5 544.6L155.2 546.4L157.3 548.5L155.2 551.4L149.8 553L137.1 553.1L135 555.3L137.1 557.4L147.9 558.9L156.9 560.7L160.5 561.9L165.1 560.7L166.8 557.9L172.2 555.7L178.5 555.3L179.5 557.2L175.8 558.9L167.7 560.3L178.5 560.3L189.4 559.3L197.4 557.9L198.3 556.8L190.1 556.2L192 554.9L201.9 553.9L214.4 550.9L225.2 546.7L239.2 545.7L250 544.2L262.7 545L273.3 545L282.4 542.3L293.1 541.3L305.8 539.6L311.2 539.6L318.3 541.8L325.6 541.3L328.2 546.4L332.7 544.2L343.5 541L354.3 540.1L365 541L372.2 539.2L379.4 540.6L386.6 539.6L395.6 540.6L406.4 539.6L415.4 538.8L418.9 540.1L427.9 540.1L433.3 541.8L442.4 543.1L451.4 545.5L462 546L461.3 549L453.1 551.8L457.6 555.3L448.6 557.9L454.9 560.7L465.7 562.5L474.7 563.7L474.7 570.3L0 570.3Z"/>
<path d="M121.3 429.2L120.9 428.4L121.6 428.4ZM124.2 438.1L124.3 438.2L124.2 438.9ZM122 435.8L121.3 435.6L121.6 435.5L122.2 435.8L122.2 436Z" fill="#D3D3D3" stroke="#D3D3D3"/>
<path d="M56.7 362.2L60.7 361.5L65.9 360.9L68.6 360.2L72.5 361.5L77.8 361.1L83.1 362.2L85.7 363.5L92.3 363.8L94.9 362.8L98.9 363.5L102.9 363.8L108.1 363.5L110.8 364.4L111.4 362.8L113.4 361.5L110.8 360.9L111.4 358.9L112.7 358.3L116 360.2L117.4 361.5L118.7 362.8L121.3 362.5L123.9 363.5L125.3 361.5L129.2 361.3L129.9 362.8L127.9 364.8L123.9 365.7L122.6 367.4L121.3 368.8L117.4 369L114.7 371.4L112.7 374L112.5 375.6L114.7 377.3L118.7 377.9L121.3 378.9L125.3 380.2L128.8 380.6L129.2 383.2L130.5 384.5L132.5 385.4L133.2 384.5L133.6 381.9L132.5 380.6L135.8 378.6L136.2 376.6L133.8 375.3L135.2 372.7L134.5 371L138.5 371L142.4 372L145 372.7L145.7 375.3L147.7 376.2L150.3 375.6L151.6 373.6L154.3 376.6L156.3 378.6L159.6 380.6L162.2 382.5L163.8 384.5L162.2 385.3L158.2 386.9L153 386.7L149 387.8L145.7 389.7L143.7 391.2L146.4 390L149 388.7L151.6 388.2L152.3 389.7L151.6 391.1L152.3 392.1L154.3 392.6L156.9 393L158.2 391.7L156.9 393.4L153.6 394.3L150.6 395.5L150.3 395.4L150.3 394.3L152.3 393.3L149 393.7L148.9 393.7L148.7 393.5L147.9 392.8L147.9 390.9L147.3 390.6L146.1 390.5L145 391.4L144.7 392.1L143.1 393.7L138.8 393.7L136.6 394.9L133.2 395.6L133.2 396.8L128.6 398L127.8 397.5L128.7 396.3L128.6 393.3L127.2 392.4L125.9 391.8L125.4 391.2L120.7 389.4L118.7 389.6L115.4 389.2L112.6 388.8L111.8 387.9L111.8 388.4L75.2 388.4L72.5 386.9L69.2 385.8L68.6 383.8L65.9 381.9L65.9 379.4L63.6 378.3L61.3 376L58.7 374.4L56.1 375.4L55.4 374.9L55.2 374.9L53.8 373.9L51.4 373.6L51.4 361.4ZM72.9 389.4L74.8 389.4L73 389.5Z" fill="#00FF00" stroke="#00FF00"/>
<path d="M111.8 387.9L112.6 388.8L115.4 389.2L118.7 389.6L120.7 389.4L125.4 391.2L125.9 391.8L127.2 392.4L128.6 393.3L128.7 396.3L127.8 397.5L128.6 398L133.2 396.8L133.2 395.6L136.6 394.9L138.8 393.7L143.1 393.7L144.7 392.1L145 391.4L146.1 390.5L147.3 390.6L147.9 390.9L147.9 392.8L148.7 393.5L148.9 393.7L146.4 395L144.4 396.3L144 397.6L145 398L142.4 398.7L139.8 399.5L139.8 400.9L138.1 402.2L137.1 404.2L137.5 406.1L135.8 407.5L133.2 409L130.5 410.7L130.1 412.7L131.2 416L131.9 418L131.3 419.7L129.9 419.3L128.6 416.6L128.2 414.7L126.6 413.4L124.6 413.6L122 413L120 413.1L119.3 414.4L117.4 414.3L114.1 413.8L112.1 414.4L109.4 416L109 418.6L109 418.7L106.5 418L106.1 416.5L104.6 414.5L103.6 413.6L102.2 413.6L101.3 414.7L99.6 413.9L99 412.6L96.9 411L94.7 411L94.7 411.7L91 411.7L86 410.1L82.9 410.1L82.9 410.1L82.8 409.9L81.1 408.1L78.5 407.5L76.7 404.8L75.8 403.1L74.1 400.9L73.4 399.7L73.6 396.3L73.8 392.1L73 389.5L74.8 389.4L75.2 389.4L75.2 388.4L111.8 388.4ZM61.3 376L63.6 378.3L65.9 379.4L65.9 381.9L65.3 380.6L63.3 378.6L60.7 376.6L57.4 376.2L56.1 375.4L58.7 374.4ZM53.8 373.9L55.2 374.9L52.7 374.3L50.1 374L47.5 374L44.8 373.1L41.5 373.7L39.6 374.9L36.9 375.3L38.2 372.7L34.9 374.7L33.6 376.6L31 377.9L28.4 379.2L25.1 380.3L21.8 381L20 381.2L23.1 379.9L25.7 379.2L28.4 377.9L29.7 376L27.7 375.7L24 375.7L23.7 374.3L20.4 373.6L19.1 372L18.5 371.4L20.4 370.1L25.1 369.4L25.1 368.1L22.4 368.1L18.5 368L15.8 366.7L21.1 365.5L23.7 366.1L21.8 364.8L18.5 363.1L22.4 362.2L23.7 360.6L31 359.2L36.9 359.8L42.2 360.5L48.8 360.9L51.4 361.4L51.4 373.6Z" fill="#00FF00" stroke="#00FF00"/>
<path d="M91 411.7L94.7 411.7L94.7 411L96.9 411L99 412.6L99.6 413.9L101.3 414.7L102.2 413.6L103.6 413.6L104.6 414.5L106.1 416.5L106.5 418L109 418.7L108.5 421.2L108.4 423.5L109.4 425.8L110.8 427.8L112.7 428.8L115.4 428.4L117.4 428.1L118 425.8L118.7 424.9L122.6 424.5L122.9 425.8L121.8 427.8L121.6 428.4L120.9 428.4L119.9 429.4L117.4 429.4L117.4 430.2L118.1 431.2L116.7 431.6L115.8 432.6L115.8 433.7L113.4 431.7L110.8 432.1L107.5 431.3L104.8 430.4L102.9 429.1L100.2 427.8L98.2 426.2L98.5 424.5L96.9 422.2L94.3 419.5L93 418L91 416L89 414L88.1 411.8L86.1 411L86.4 412.7L88.3 415.3L90.3 418L91.6 420.6L93 422.3L92.3 422.7L89.7 420.2L89 418.3L87 417L85.7 416.2L86.6 414.9L84.7 413L83.5 411L82.9 410.1L82.9 410.1L86 410.1Z" fill="#00FF00" stroke="#00FF00"/>
<path d="M121 429.8L120.3 431.7L121 431.9L120.9 432.1L119.7 431.9L119.9 429.4L120.9 428.4L121.3 429.2Z" fill="#00FF00" stroke="#00FF00"/>
<path d="M116.7 431.6L118.1 431.2L117.4 430.2L117.4 429.4L119.9 429.4L119.7 431.9L120.9 432.1L119.7 433.2L119.5 433.8L118.7 434.6L118.7 434.6L115.8 433.7L115.8 432.6Z" fill="#FF8C00" stroke="#FF8C00"/>
<path d="M120.7 434.4L121.7 434.6L121.6 435.5L121.3 435.6L120.7 435.4L118.7 434.6L119.5 433.8Z" fill="#D3D3D3" stroke="#D3D3D3"/>
<path d="M121.3 432L123.9 431.9L126.6 432.3L127.6 433L126.2 433.4L125.3 433.7L123.9 434.5L123 435.3L122.2 435.8L121.6 435.5L121.7 434.6L120.7 434.4L119.5 433.8L119.7 433.2L120.9 432.1L121 431.9Z" fill="#D3D3D3" stroke="#D3D3D3"/>
<path d="M123.9 434.5L125.3 433.7L126.2 433.4L127.6 433L127.2 435.7L127 438.3L127.1 438.4L125.5 438.3L124.3 438.2L124.2 438.1L124.2 438L122.2 436L122.2 435.8L123 435.3Z" fill="#FFFF00" stroke="#FFFF00"/>
<path d="M127.1 438.4L127.9 439.6L128.4 440.1L128.4 440.3L128 440.8L128 441.9L127 441.4L125.5 439.9L124.2 438.9L124.2 438.9L124.3 438.2L125.5 438.3Z" fill="#FCBE2E" stroke="#FCBE2E"/>
<path d="M128.5 440.2L129.2 440.9L130.5 441.2L132.5 440.3L134.5 440.6L135.4 441.6L134.6 443.3L133.8 441.8L132.5 441.2L131.5 442.5L131.2 443.1L129.9 442.6L128.2 442L128 441.9L128 440.8L128.4 440.3Z" fill="#FCBE2E" stroke="#FCBE2E"/>
<path d="M151.9 371.5L149.7 371.4L145 370.5L141.8 368.8L138.5 368.1L134.8 368.4L134.5 367.2L139.8 366.8L141.1 364.8L140.4 363.1L137.1 362.2L133.8 360.9L129.2 361.1L125.3 360.9L121.3 360.2L119.3 359.3L119.3 357.6L123.9 355.9L130.5 356L134.5 357.2L138.5 357.9L143.1 359.2L147 360.5L149 362.2L153 364.2L156.3 365.2L153.6 367.7L151 368.4L152.3 370.1Z" fill="#00FF00" stroke="#00FF00"/>
<path d="M84.4 362.2L83.1 361.1L87.7 360.2L81.8 360.5L83.1 359.6L80.4 358.6L82.4 356.9L87 356.7L91 357.3L94.9 356.9L98.9 357.6L99.6 359.6L104.2 360.2L103.5 361.3L98.9 362.2L94.9 362.6L88.3 362.8Z" fill="#00FF00" stroke="#00FF00"/>
<path d="M71.9 358L73.8 356.7L73.2 355.4L77.1 355L82.4 355.2L85.1 356.6L81.8 357.9L77.8 359L74.5 359.3Z" fill="#00FF00" stroke="#00FF00"/>
<path d="M102.9 358.3L102.9 357.2L104.2 355.9L108.8 355.9L110.1 357.6L106.8 358.9Z" fill="#00FF00" stroke="#00FF00"/>
<path d="M111.4 358L110.8 356.9L112.1 355.6L117.4 355.6L118 356.9L114.7 358.3Z" fill="#00FF00" stroke="#00FF00"/>
<path d="M106.1 362.2L107.5 361.1L110.1 360.9L111.4 361.9L109.4 362.7Z" fill="#00FF00" stroke="#00FF00"/>
<path d="M122.9 366.8L125.3 366.1L127.2 367L129.9 367.7L131.6 368.8L129.9 369L127.2 370.2L124.6 369.4Z" fill="#00FF00" stroke="#00FF00"/>
<path d="M83.1 354.1L83.7 353L88.3 352.6L93 352.4L98.2 353L97.6 354.3L93.6 354.6L88.3 355Z" fill="#00FF00" stroke="#00FF00"/>
<path d="M100.2 353.7L100.2 352.6L103.5 352L108.1 352.4L108.1 354.1L104.2 354.3Z" fill="#00FF00" stroke="#00FF00"/>
<path d="M110.1 354.3L110.8 353.4L114.1 353.5L114.1 354.6Z" fill="#00FF00" stroke="#00FF00"/>
<path d="M110.1 352L110.1 351.7L114.7 351.8L119.3 352.5L119.3 353.4L123.9 353.5L129.2 353.3L132.5 353.7L131.2 354.8L123.9 355L117.4 354.6L115.4 352.6Z" fill="#00FF00" stroke="#00FF00"/>
<path d="M120 352.5L119.3 351.7L121.3 350.6L125.3 350.1L122.6 349.1L123.9 347.8L122.6 346.8L117.4 345.8L121.3 345.1L126.6 344.6L134.5 343.8L142.4 343.7L150.3 343.8L156.3 344.3L155.6 345.1L149 346.4L144.4 347.8L138.5 348.7L137.8 349.7L135.2 350.4L134.5 352L131.2 352.7L125.3 352.6Z" fill="#00FF00" stroke="#00FF00"/>
<path d="M111.4 348.4L113.4 346.4L117.4 346.8L120.7 348.4L120.7 349.7L116 350Z" fill="#00FF00" stroke="#00FF00"/>
<path d="M75.8 353L79.1 351.3L84.4 352.1L81.8 353.4Z" fill="#00FF00" stroke="#00FF00"/>
<path d="M100.2 350.4L101.5 348.8L108.1 349.3L105.5 350.6Z" fill="#00FF00" stroke="#00FF00"/>
<path d="M159.2 390.1L159.6 389.1L161.5 387.1L162.5 385.5L164 385.3L163.8 387.4L166.4 387.8L166.8 389.1L167.9 390.3L167.5 391.4L164.2 391.2L162.2 390.4Z" fill="#00FF00" stroke="#00FF00"/>
<path d="M68.2 386.1L71.9 386.7L74.5 388.4L74.5 389.4L71.9 388.8Z" fill="#00FF00" stroke="#00FF00"/>
<path d="M62 381.9L63.6 381.7L64.6 383.2L64 384.1Z" fill="#00FF00" stroke="#00FF00"/>
<path d="M152.3 387.3L153.6 387.3L155.9 387.9L155.6 388.3Z" fill="#00FF00" stroke="#00FF00"/>
<path d="M152.6 391.3L155.6 391.8L154.9 392.4L153 392Z" fill="#00FF00" stroke="#00FF00"/>
<path d="M33.6 377.3L34.9 376.6L36.5 376.6L36.3 377.9Z" fill="#00FF00" stroke="#00FF00"/>
<path d="M10.9 369.5L12.5 369.1L14.8 369.5L14.5 369.9Z" fill="#00FF00" stroke="#00FF00"/>
<path d="M16.7 373.7L18.9 373.6L18.7 374.1Z" fill="#00FF00" stroke="#00FF00"/>
<path d="M15.2 382.9L15.8 382.4L18.1 381.9L17.8 382.3Z" fill="#00FF00" stroke="#00FF00"/>
<path d="M31.6 426.3L32.8 426.7L32.3 427.7L31.6 427.1Z" fill="#00FF00" stroke="#00FF00"/>
<path d="M158.2 345.1L171.4 344.5L184.6 343.3L195.2 343L204.4 343.8L211 345.1L221.5 345.8L214.9 347.8L213.6 349.7L211 351.7L213 353.7L211 355.6L208.3 357.6L205.7 358.9L208.3 360.6L203.1 362.8L197.8 363.5L193.8 364.8L189.9 366.4L185.3 366.8L183.3 369.4L180.6 373.3L179.3 374L176.7 373.1L173.4 372.3L171.4 370.3L169.4 368.5L167.5 366.1L166.8 364.2L169.4 362.2L166.1 361.5L170.1 360.9L165.5 359.8L164.8 358.3L163.5 356.3L160.9 354.3L157.6 353L150.3 353L145.7 352.6L143.7 351.4L141.1 350L147.7 349.1L151.6 347.5L153 346.2Z" fill="#FFFF00" stroke="#FFFF00"/>
<path d="M125.4 424L127.9 422.5L131.2 422.4L135.2 424.1L137.8 425.6L139.5 426.2L135.2 426.6L135.6 425.7L133.8 424.5L129.9 423.7L128.6 423.1Z" fill="#006400" stroke="#006400"/>
<path d="M141.8 428.8L139.2 428.6L140.7 426.6L142.7 426.7L142.7 429.3Z" fill="#D3D3D3" stroke="#D3D3D3"/>
<path d="M142.7 426.7L145 426.7L147.2 428.2L145 428.7L143.1 429.5L142.7 429.3Z" fill="#FF0000" stroke="#FF0000"/>
<path d="M134.1 428.6L136.7 428.8L135.8 429.4L134.2 429Z" fill="#FCBE2E" stroke="#FCBE2E"/>
<path d="M148.7 428.4L150.7 428.6L150.3 429.1L148.7 429.1Z" fill="#00FF00" stroke="#00FF00"/>
<path d="M155.7 438.7L156.9 438.6L156.9 439.5L155.9 439.5Z" fill="#FCBE2E" stroke="#FCBE2E"/>
<path d="M134.1 419.7L134.8 419.7L134.8 421L134.1 420.6Z" fill="#D3D3D3" stroke="#D3D3D3"/>
<path d="M135 417.4L135.8 418L135.6 418.3Z" fill="#D3D3D3" stroke="#D3D3D3"/>
<path d="M155.9 431.2L156.7 431.2L156.3 431.7Z" fill="#00FF00" stroke="#00FF00"/>
<path d="M156.7 433.2L157.2 433.4L156.9 433.8Z" fill="#00FF00" stroke="#00FF00"/>
<path d="M169.4 447.1L170.4 449.4L171.4 450.8L171.4 452.3L173.7 453.6L176.7 454L178.9 456L182 456.4L184.6 456.4L186.6 457.6L188.3 459L190.8 459.7L191.5 462.2L191.2 464.5L189.2 466.8L187.9 468.2L186.6 469.8L185.9 472.4L185.9 475.7L185 478.3L183.6 480.9L182 482.9L178.7 483.2L176.3 484.2L174.1 485.9L173.3 488.1L173 490.1L171.4 492.1L169.4 494L168.1 496L167 497.2L166.9 497.1L167.2 495.6L166.1 494.6L164 493.3L163.5 493.1L161.4 492.3L163.8 490L166.4 488.4L166.5 487.1L165.4 486.3L165.7 484.2L164.2 484.1L163.8 482L161 481.7L160.6 479.2L161.5 476.6L160.5 475.4L160.3 474.1L158 474.1L157.6 470.8L155.6 470L153.6 469.1L151.6 468.5L151.2 466.9L151.1 465.4L149.5 465.7L147.7 466.8L145.6 467.2L144.3 467.2L144.3 465.3L142.1 465.8L141.2 464.8L139.9 462.3L141.4 459.4L145.2 458.2L145.8 454.3L145 452.1L146.1 451.9L145.3 450.5L148.6 450.5L149.1 451.1L151 451.7L152.7 450.8L152.7 449.4L153.8 449.8L153 447.5L154.5 447.9L154.9 447.3L156.9 446.8L157.3 445.9L158.2 446.8L158.8 447.7L158.4 449.7L159.6 451L160.9 450.8L162.8 450.2L163.6 450.2L164.7 449.4L165.5 449.7L167.5 449.8L168.1 449.4L169.2 447.5L169.4 447ZM161.9 499.3L162 499.6L160.3 498.6L161.6 498.9ZM135.4 441.6L135.4 441.6L135.6 442.4L134.6 443.3Z" fill="#B9FF45" stroke="#B9FF45"/>
<path d="M143.2 437.2L142 438L141.4 438.9L141.1 440.6L141.8 441.6L142.4 443.4L144.4 443.5L145.7 444.7L148.3 444.6L147.9 446.8L148.6 450.1L149.1 451.1L148.6 450.5L145.3 450.5L146.1 451.9L145 452.1L145.8 454.3L145.2 458.2L145 456.3L143.1 455.7L141.1 455.7L139.8 454L138.1 452.9L136.5 452.3L134.8 451.7L133.4 450.9L133.1 450.8L133.2 450.8L133.4 450.4L135.2 448.8L135.2 447.5L135.4 445.5L135.2 443.8L134.6 443.3L135.6 442.4L135.4 441.6L136.5 441.2L137.5 440.3L138.1 438.7L139.4 438L141.1 437.6L143 436.5L143.2 436.8Z" fill="#FF8C00" stroke="#FF8C00"/>
<path d="M156.7 443.9L156.4 445L157.3 445.9L156.9 446.8L154.9 447.3L154.5 447.9L153 447.5L153.8 449.8L152.7 449.4L152.7 450.8L151 451.7L149.1 451.1L148.6 450.1L147.9 446.8L148.3 444.6L145.7 444.7L144.4 443.5L142.4 443.4L141.8 441.6L141.1 440.6L141.4 438.9L142 438L143.2 437.2L143.3 437.6L145 437.5L144.8 436.7L147 437.9L147.4 438.8L150.3 438.8L152.3 439.3L155.6 438.7L155.9 439.9L157.2 441.6L158.4 442L157.8 443.4Z" fill="#D3D3D3" stroke="#D3D3D3"/>
<path d="M166.1 448.1L165.5 449.7L164.7 449.4L163.6 450.2L162.8 450.2L161.8 448.3L160.9 447.5L161.8 445.9L162.1 444.9L164.2 445L166.1 445.1L165.6 446.8Z" fill="#FF0000" stroke="#FF0000"/>
<path d="M168.1 449.4L167.5 449.8L165.5 449.7L166.1 448.1L165.6 446.8L166.1 445.1L168.1 446.2L169.4 447L169.2 447.5Z" fill="#00FF00" stroke="#00FF00"/>
<path d="M136.5 452.3L138.1 452.9L137.8 454.7L136.2 456.1L134.5 456.9L133.8 458.6L132.8 459.3L131.5 458.5L131.5 457.2L131.9 456L130.7 455.6L130.8 454L131.9 452.1L133.1 450.9L133.4 450.9L134.8 451.7Z" fill="#FF0000" stroke="#FF0000"/>
<path d="M132.8 459.3L133.8 458.6L134.5 456.9L136.2 456.1L137.8 454.7L138.1 452.9L139.8 454L141.1 455.7L143.1 455.7L145 456.3L145.2 458.2L141.4 459.4L139.9 462.3L141.2 464.8L142.1 465.8L144.3 465.3L144.3 467.2L145.6 467.2L146.8 469.1L146.4 471.7L145.7 472.8L146.4 474.1L145.6 475.4L145.7 475.7L144.5 476.7L143.1 475.4L140.4 474.1L138.2 472.7L136.7 470.8L135.6 468.5L134.2 465.8L133.2 463.5L132 461.6L130.3 460.6L130.1 458.6L131.5 457.2L131.5 458.5Z" fill="#FCBE2E" stroke="#FCBE2E"/>
<path d="M149.5 465.7L151.1 465.4L151.2 466.9L151.6 468.5L153.6 469.1L155.6 470L157.6 470.8L158 474.1L160.3 474.1L160.5 475.4L161.5 476.6L160.6 479.2L159.4 478L155.9 478.6L155.3 479.6L154.7 481.8L153 481.6L152.3 482.2L149.9 481.3L149 482.5L147.8 482.6L147.4 480.9L146.6 479.6L147.2 478.3L146.4 477.6L145.7 475.7L145.6 475.4L146.4 474.1L145.7 472.8L146.4 471.7L146.8 469.1L145.6 467.2L147.7 466.8Z" fill="#FFFF00" stroke="#FFFF00"/>
<path d="M155.9 478.6L159.4 478L160.6 479.2L161 481.7L163.8 482L164.2 484.1L165.7 484.2L165.4 486.3L165.1 487.8L163.8 488.7L162.2 488.7L160.1 488.4L161.4 486.3L159.8 485.1L156.9 483.9L154.7 481.8L155.3 479.6Z" fill="#FF8C00" stroke="#FF8C00"/>
<path d="M160.3 497.3L160.3 497.2L160.6 495.4L161.4 492.3L163.5 493.1L164 493.3L166.1 494.6L167.2 495.6L166.9 497.1L167 497.2L166.8 497.3L165.5 498.4L163.2 498.5L161.1 497.9ZM160.3 497.3L161.6 498.9L160.3 498.6Z" fill="#B9FF45" stroke="#B9FF45"/>
<path d="M149.9 481.3L152.3 482.2L153 481.6L154.7 481.8L156.9 483.9L159.8 485.1L161.4 486.3L160.1 488.4L162.2 488.7L163.8 488.7L165.1 487.8L165.4 486.3L166.5 487.1L166.4 488.4L163.8 490L161.4 492.3L160.6 495.4L160.3 497.2L160.3 497.3L160.3 498.6L162 499.6L162.2 500.6L161.5 502.6L159.6 503.5L155.6 503.9L155.2 505.9L151.6 506.5L153 508.5L151.2 509.8L151 511.8L148.3 513.1L150.3 515L148.3 517.7L146.4 519.6L147.2 521.3L147.1 521.5L145 520.9L142.4 520.9L142 519.6L141.1 519.2L140.7 517.7L141.8 516.4L142.7 514.4L143.3 512.4L142.8 510.4L142.7 507.8L142.8 505.2L143.5 503.2L143.7 500.6L144.5 499.3L145.3 497.7L145.3 496.4L144.8 494L145.3 491.4L146.1 489.2L147.3 488.1L147 487.2L147.2 484.9L148.6 484.2L148.7 482.9L147.8 482.6L149 482.5ZM147.1 521.5L147 521.9L149 523.6L151.4 524.6L149 525.3L146.9 525.3L146.9 521.9Z" fill="#FFFF00" stroke="#FFFF00"/>
<path d="M145.7 475.7L146.4 477.6L147.2 478.3L146.6 479.6L147.4 480.9L147.8 482.6L148.7 482.9L148.6 484.2L147.2 484.9L147 487.2L147.3 488.1L146.1 489.2L145.3 491.4L144.8 494L145.3 496.4L145.3 497.7L144.5 499.3L143.7 500.6L143.5 503.2L142.8 505.2L142.7 507.8L142.8 510.4L143.3 512.4L142.7 514.4L141.8 516.4L140.7 517.7L141.1 519.2L142 519.6L142.4 520.9L145 520.9L147.1 521.5L147.1 521.5L146.9 521.9L146.9 525.3L145.7 525.3L142.4 524.2L139.8 522.3L138.1 519.6L137.8 516.4L137.8 513.7L140.4 511.8L139.8 509.8L140 507.2L140.4 504.5L140.4 501.5L141.5 499.3L142.8 496L143.1 492.7L143.3 489.5L144.4 486.2L144.7 482.9L144.8 479.6L144.5 476.7Z" fill="#FCBE2E" stroke="#FCBE2E"/>
<path d="M156.9 520.3L160.9 520.2L160.2 521.2L157.6 521.2Z" fill="#FFFF00" stroke="#FFFF00"/>
<path d="M187.2 523.6L189.9 524L189.6 524.5L187.9 524.1Z" fill="#D3D3D3" stroke="#D3D3D3"/>
<path d="M248.8 404L248.7 404.3L247.8 404.1ZM247.6 446.9L248.6 446.6L248.6 446.8ZM234.7 446.4L233.5 446.1L233.7 446L235 446.3ZM240.3 436.5L241 436.5L240.5 437.1ZM255 459.1L254.6 460.3L254.5 458.8Z" fill="#D3D3D3" stroke="#D3D3D3"/>
<path d="M219.9 416.2L222.2 415.6L224.2 414L224.6 412.3L225.1 410.1L227.5 408.5L228.8 407.5L229.6 405.8L230.4 405.6L233.4 406.4L234.4 406.5L234.4 406.7L235 407.5L235.8 410.1L235.6 410.5L232.6 411.1L232.5 412.2L230.4 413.4L228.1 414L225.9 415.1L225.9 416.4L219.9 416.4L219.8 416.4Z" fill="#D3D3D3" stroke="#D3D3D3"/>
<path d="M225.9 416.9L225.9 418.6L221.5 418.6L221.5 421.9L220.2 422.5L220.2 424.8L215 425.4L214.9 425.2L215.2 423.5L216.3 421.6L217.7 419.9L218.2 418.3L219.8 416.4L219.9 416.4L225.9 416.4Z" fill="#D3D3D3" stroke="#D3D3D3"/>
<path d="M220.2 422.5L221.5 421.9L221.5 418.6L225.9 418.6L225.9 416.9L230.9 419.9L228.8 419.9L230.1 431.3L230.1 432.4L224.8 432.4L223.2 432.8L222.2 432.4L221.3 433.4L219.7 431.7L218.2 430.9L215.6 431.6L216 429.1L215.9 427.1L215 425.4L220.2 424.8Z" fill="#FF0000" stroke="#FF0000"/>
<path d="M219.7 431.7L221.3 433.4L222.3 436.5L221.1 436.6L219.3 436.2L217.6 436.1L215.3 436.5L215.2 435.5L217.6 435.3L219.2 435.3L219.2 435L217.6 434.6L215.1 434.9L214.3 433.4L215.6 431.7L215.6 431.6L218.2 430.9Z" fill="#FCBE2E" stroke="#FCBE2E"/>
<path d="M219.2 435L219.2 435.3L217.6 435.3L215.2 435.5L215.2 435L215.1 434.9L217.6 434.6Z" fill="#FCBE2E" stroke="#FCBE2E"/>
<path d="M219.3 436.2L219.3 437.4L218 437.6L217.6 438.3L217.6 438.3L215.3 436.5L217.6 436.1Z" fill="#D3D3D3" stroke="#D3D3D3"/>
<path d="M219.3 437.4L219.3 436.2L221.1 436.6L222.3 436.5L223.2 437.1L225.1 436.5L226.1 437.8L226.8 439.3L227.1 441.6L226.4 442.7L225.1 443L224.8 441.7L223.8 441.6L223.2 440.5L222.6 439.6L220.9 439.7L219.8 440.9L219.5 440L218.2 438.9L217.6 438.3L218 437.6Z" fill="#FCBE2E" stroke="#FCBE2E"/>
<path d="M222.6 439.6L223.2 440.5L223.8 441.6L223.4 442.5L222.2 443.7L220.9 442.9L219.9 441.2L219.8 440.9L220.9 439.7Z" fill="#8B2323" stroke="#8B2323"/>
<path d="M223.8 441.6L224.8 441.7L225.1 443L226.4 442.7L226.1 444.2L227.5 445.1L227.5 446.9L225.5 446.2L223.1 444.2L222.2 443.7L223.4 442.5Z" fill="#8B2323" stroke="#8B2323"/>
<path d="M226.1 444.2L226.4 442.7L227.1 441.6L226.8 439.3L229.2 438.8L230.1 439.1L231.2 440L233.7 440.1L233.8 442.2L233.1 444.2L233.7 446L233.5 446.1L232.7 445.9L230.8 445.9L227.5 446.9L227.5 445.1Z" fill="#FCBE2E" stroke="#FCBE2E"/>
<path d="M223.2 432.8L224.8 432.4L230.1 432.4L230.1 431.3L228.8 419.9L230.9 419.9L238.9 425L239.7 426.1L241.6 426.7L241.7 427.8L242.9 427.7L242.9 431.1L242 432.5L239.1 432.6L237.6 433.2L236.4 432.9L234.7 434.1L233.4 434.9L231.7 435.4L231.5 436.3L230.4 437.2L230.1 439.1L229.2 438.8L226.8 439.3L226.1 437.8L225.1 436.5L223.2 437.1L222.3 436.5L221.3 433.4L222.2 432.4Z" fill="#FFFF00" stroke="#FFFF00"/>
<path d="M231.5 436.3L231.7 435.4L233.4 434.9L234.7 434.1L236.4 432.9L237.6 433.2L237.7 434.4L238.7 435.5L240.3 436.5L240.5 437.1L239.2 437.8L238.5 438.3L237.2 438.2L233.7 438.3L233.7 440.1L231.2 440L230.1 439.1L230.4 437.2Z" fill="#FFFF00" stroke="#FFFF00"/>
<path d="M233.8 442.2L233.7 440.1L233.7 438.3L237.2 438.2L238 439.2L237.9 441.2L238.3 441.8L238 443.7L238.9 444.7L238.8 444.9L236.7 445.8L235 446.3L233.7 446L233.1 444.2Z" fill="#FFFF00" stroke="#FFFF00"/>
<path d="M238.3 441.8L237.9 441.2L238 439.2L237.2 438.2L238.5 438.3L238.4 439.2L239.5 440.9L239.5 444.5L239.4 444.7L239 444.8L238.9 444.7L238 443.7Z" fill="#FCBE2E" stroke="#FCBE2E"/>
<path d="M238.4 439.2L238.5 438.3L239.2 437.8L240.5 437.1L241 436.5L242.1 437.4L242.4 438.7L241 440.9L240.9 444.3L239.6 444.7L239.5 444.5L239.5 440.9Z" fill="#FCBE2E" stroke="#FCBE2E"/>
<path d="M242 432.5L242.9 431.1L242.9 427.7L245 427.1L247.2 425.3L253.2 421.9L256.1 423.1L257.1 422.5L257.3 424.8L258.3 426L258.1 426.6L257.5 429.2L257.8 430.5L255.7 432.1L255.2 433.8L255.3 434.7L253.6 435.5L251.5 435.3L249.9 435.9L247.6 435.3L246.3 435.5L244.5 434.5L242.8 435L242.1 437.4L241 436.5L240.3 436.5L238.7 435.5L237.7 434.4L237.6 433.2L239.1 432.6Z" fill="#FFFF00" stroke="#FFFF00"/>
<path d="M242.4 438.7L242.1 437.4L242.8 435L244.5 434.5L246.3 435.5L247.6 435.3L249.9 435.9L251.5 435.3L253.6 435.5L255.3 434.7L256.1 436.5L256.6 437.5L255.5 438.3L254.8 439.6L254.2 441.2L253.4 441.8L252.9 443.4L252.3 444.1L251.2 443.5L250.3 443.8L249.6 444.5L249 445.1L248.6 446.6L247.6 446.9L246.6 446.9L245.3 447.1L244.3 445.8L243.3 444.5L240.9 444.3L241 440.9Z" fill="#FCBE2E" stroke="#FCBE2E"/>
<path d="M249.6 444.5L250.3 443.8L251.2 443.5L252.3 444.1L252.9 443.4L253.4 441.8L254.2 441.2L254.8 439.6L255.5 438.3L256.6 437.5L256.1 436.5L256.5 435.8L257.1 437.5L257.3 438.6L257.8 439.6L256.1 439.6L255.7 440.1L257.4 441.6L257.8 442.9L256.9 444.3L256.5 445.8L256.7 446.8L257.4 447.6L258.6 448.9L258.7 450.5L256.5 449.8L254.9 449.8L252.3 449.7L250.3 449.7L250.2 449.7L250.3 449.4L250.1 448.1L249 446.8L248.6 446.8L248.6 446.6L249 445.1Z" fill="#FFFF00" stroke="#FFFF00"/>
<path d="M252.3 451.4L249.8 451.4L249.9 451.1L250.2 449.7L252.3 449.7Z" fill="#8B2323" stroke="#8B2323"/>
<path d="M252.3 449.7L254.9 449.8L254.8 451L256.1 450.9L256.3 451.9L255.7 452.7L256.5 453.5L256.3 455.2L255.9 455.9L254.2 455.2L253.8 455.9L252.6 455.9L253 457.3L252 457.8L250.3 456L249.2 454L249.6 452.3L249.8 451.4L252.3 451.4Z" fill="#FCBE2E" stroke="#FCBE2E"/>
<path d="M252.6 455.9L253.8 455.9L254.2 455.2L255.9 455.9L256.3 455.2L256.5 453.5L255.7 452.7L256.3 451.9L256.1 450.9L254.8 451L254.9 449.8L256.5 449.8L258.7 450.5L259.1 449L259.4 448.1L261.9 448.1L261.2 449.8L260.8 452.3L260.4 453.6L258.7 455.6L258.4 457.3L257.5 458.4L256.3 459.1L255 459.1L254.5 458.8L254.1 458.6L252.8 459.2L252.8 459.1L252.1 458L252 457.8L253 457.3Z" fill="#D3D3D3" stroke="#D3D3D3"/>
<path d="M255 459.1L256.3 459.1L257.5 458.4L258.4 457.3L258.7 455.6L260.4 453.6L260.8 452.3L261.2 449.8L261.9 448.1L261.9 447.1L263.1 446.2L264.4 446.8L267 447.3L267.5 446.4L269.7 446L270.7 446.2L273.5 446L274.8 447.1L276.2 446.8L278 448.1L278.6 449.8L276.8 451.8L276.4 453.5L276.4 454.6L275.9 455L275.6 456.3L275.9 457.4L276.1 458.5L276.2 460.6L277.8 463.5L275.5 463.9L274.8 464.8L275.1 466.5L274.8 468.2L275.6 469L276.6 468.7L276.6 470.3L275.6 470.3L274.8 469.3L273.6 468.7L272.8 468.3L270.7 467.5L269 467L266.6 467.4L266.8 466.5L266.1 465.2L266.2 463.6L266.1 462.3L264.1 461.9L263.1 461.9L262.9 463.2L260.6 463.3L259.6 462.2L259.2 460.5L255.7 460.5L253.6 460.7L253.4 460.3L254.6 460.3Z" fill="#FF8C00" stroke="#FF8C00"/>
<path d="M259.2 460.5L259.6 462.2L260.6 463.3L262.9 463.2L263.1 461.9L264.1 461.9L266.1 462.3L266.2 463.6L266.1 465.2L266.8 466.5L266.6 467.4L269 467L269 469.8L266.4 469.8L266.4 474L268.2 475.8L265 476.2L261.6 475.5L255.8 475.5L252.9 475.4L252.9 473.7L253.8 471.1L255.2 469.1L255.5 467.2L254.8 465.2L254.5 463.9L253.6 460.9L253.5 460.7L253.6 460.7L255.7 460.5ZM254.5 458.8L254.6 460.3L253.4 460.3L252.8 459.2L254.1 458.6Z" fill="#D3D3D3" stroke="#D3D3D3"/>
<path d="M261.6 475.5L265 476.2L268.2 475.8L269.3 475.7L270.7 476.1L269.4 476.3L268.3 477L265 476.7L265 481.6L263.7 481.6L263.7 485.3L263.7 490L262.4 490.6L260.4 490.4L259.1 490.2L257.4 488.1L256.9 485.5L256.5 482.9L255.2 480.3L253.8 477.6L252.9 475.7L252.9 475.4L255.8 475.5Z" fill="#FF8C00" stroke="#FF8C00"/>
<path d="M265 481.6L265 476.7L268.3 477L269.4 476.3L270.7 476.1L270.7 477L271.9 478.4L273.3 479.6L273.9 480.4L274.3 481.1L276.1 481.8L274.7 482.6L273 483.7L272.7 484.6L271.1 486L269.9 486.2L267.7 485.9L267.2 487L265.8 487.9L264.6 487.9L263.7 485.3L263.7 481.6Z" fill="#FFFF00" stroke="#FFFF00"/>
<path d="M273 476.3L273.7 475.5L275.3 474.4L275.6 473.7L277.4 473.2L277.4 473.7L278.6 473.7L280.6 474.6L280.9 475.5L280.6 477L280.9 478.7L280.1 480.7L278.6 482.1L276.1 481.8L274.3 481.1L273.9 480.4L273.3 479.6L271.9 478.4L270.7 477L270.7 476.1L271.5 476.2Z" fill="#FFFF00" stroke="#FFFF00"/>
<path d="M269 467L270.7 467.5L272.8 468.3L273.6 468.7L274.8 469.3L275.6 470.3L276.6 470.3L276.6 468.7L275.6 469L274.8 468.2L275.1 466.5L274.8 464.8L275.5 463.9L277.8 463.5L278.5 464L280.7 465.1L281.3 466.9L281.1 469.1L280.5 470.6L281.1 471.1L277.2 472.4L277.4 473.2L275.6 473.7L275.3 474.4L273.7 475.5L273 476.3L271.5 476.2L270.7 476.1L269.3 475.7L268.2 475.8L266.4 474L266.4 469.8L269 469.8Z" fill="#FF8C00" stroke="#FF8C00"/>
<path d="M283 465.3L283.4 467.7L283 467.9L283.4 470.4L284.6 471.9L284.6 473.7L283.8 475.2L282.6 473.7L283 472.8L282.7 471.6L281.1 471.1L280.5 470.6L281.1 469.1L281.3 466.9L280.7 465.1L282.1 465.2Z" fill="#FCBE2E" stroke="#FCBE2E"/>
<path d="M279.5 486.6L279.4 484.6L278.6 482.1L280.1 480.7L280.9 478.7L280.6 477L280.9 475.5L280.6 474.6L278.6 473.7L277.4 473.7L277.4 473.2L277.2 472.4L281.1 471.1L282.7 471.6L283 472.8L282.6 473.7L283.8 475.2L284.6 473.7L284.6 471.9L283.4 470.4L283 467.9L283.4 467.7L284.8 467.9L286.8 468.1L288.8 467.4L290.4 466.6L290.8 467.2L290.9 469.8L291.1 472.4L289.8 474.4L286.8 475.9L285.5 477.6L283.5 479L283.9 481.6L284.2 484.2L281.5 485.9L280.6 486.8L280.7 488L279.7 487.9Z" fill="#FF8C00" stroke="#FF8C00"/>
<path d="M286.8 468.1L284.8 467.9L283.4 467.7L283 465.3L282.1 465.2L280.7 465.1L278.5 464L277.8 463.5L276.2 460.6L276.1 458.5L276.9 458.4L278 457L277.6 455.9L278 454.2L277.6 454L282.1 454L286.9 456.7L287.2 457.6L289 458.9L289.3 458.9L288.8 459.9L289.2 461.9L289.4 463.9L289.8 465.8L290.4 466.6L288.8 467.4Z" fill="#D3D3D3" stroke="#D3D3D3"/>
<path d="M286.9 456.7L282.1 454L282.2 452.5L282.8 451.3L283.5 450.2L282.8 448.7L282.2 447.2L284.7 446.7L286 446.9L287.6 448L289.4 448.3L291.1 447.2L292.6 447.6L291.4 449L291.4 453.8L292.1 454.8L290.8 456L289.7 458L289.3 458.8L289 458.9L287.2 457.6Z" fill="#FCBE2E" stroke="#FCBE2E"/>
<path d="M276.4 453.5L276.8 451.8L278.6 449.8L278 448.1L279.5 448L280.9 447.6L282.2 447.2L282.8 448.7L283.5 450.2L282.8 451.3L282.2 452.5L282.1 454L277.6 454L276.4 454.6Z" fill="#FFFF00" stroke="#FFFF00"/>
<path d="M278 454.2L277.6 455.9L276.8 456.3L275.6 456.3L275.9 455L276.4 454.6L277.6 454Z" fill="#FFFF00" stroke="#FFFF00"/>
<path d="M277.6 455.9L278 457L276.9 458.4L276.1 458.5L275.9 457.4L275.6 456.3L276.8 456.3Z" fill="#FCBE2E" stroke="#FCBE2E"/>
<path d="M291.4 449L292.6 447.6L293.9 447.1L295.2 446.3L296.7 446.2L300.6 442.2L299.2 442.2L295.2 440.9L293.8 438.4L294.3 437.6L295.4 438.9L297.3 438.9L299.3 438L302 437.9L304.9 437.1L304.6 439.1L303.9 440.9L302.6 443.5L301.3 445.9L300 447.7L298 449.7L296 451L294.1 452.7L292.2 454.7L292.1 454.8L291.4 453.8Z" fill="#D3D3D3" stroke="#D3D3D3"/>
<path d="M292.5 438.3L292.5 437.4L293.3 436.3L294.1 436.1L294.4 436.3L294.3 437.6L293.8 438.4Z" fill="#FCBE2E" stroke="#FCBE2E"/>
<path d="M291.1 434.2L288.9 433.6L287.3 433.2L286.8 434.1L285.5 434L286 431.3L286.8 430L288.1 429.2L289.2 432L290.1 433L291.7 433.7L293.4 435.7L294.1 436.1L293.3 436.3Z" fill="#FF8C00" stroke="#FF8C00"/>
<path d="M287.3 433.2L288.9 433.6L291.1 434.2L293.3 436.3L292.5 437.4L292.5 438.3L293.8 438.4L295.2 440.9L299.2 442.2L300.6 442.2L296.7 446.2L295.2 446.3L293.9 447.1L292.6 447.6L291.1 447.2L289.4 448.3L287.6 448L286 446.9L284.7 446.7L283.9 445.6L283.1 443.9L281.8 442.6L280.9 442.2L282.3 441.4L282.3 440.3L282.6 438.8L283.5 438.3L283.4 437.1L285 436.1L285.5 434L286.8 434.1Z" fill="#FCBE2E" stroke="#FCBE2E"/>
<path d="M279.5 448L278 448.1L276.2 446.8L274.8 447.1L273.5 446L272.2 444.1L270.6 442.5L269.3 441.3L270.1 439.9L270.3 439.2L271.4 439.1L272.3 440.3L274.1 440.1L275.3 440.4L276.9 439.2L278.5 439.9L280.1 438.3L279.7 437L280.5 436.7L281.1 436.7L281 438.7L282.1 439.3L282.3 440.3L282.3 441.4L280.9 442.2L281.8 442.6L283.1 443.9L283.9 445.6L284.7 446.7L282.2 447.2L280.9 447.6Z" fill="#D3D3D3" stroke="#D3D3D3"/>
<path d="M286 431.3L285.5 434L285 436.1L283.4 437.1L283.5 438.3L282.6 438.8L282.3 440.3L282.1 439.3L281 438.7L281.1 436.7L280.5 436.7L279.7 437L280.1 438.3L278.5 439.9L276.9 439.2L275.3 440.4L274.1 440.1L272.3 440.3L271.4 439.1L270.3 439.2L270.1 439.9L269.3 441.3L268.3 440.9L268.5 439.7L267.5 438.4L267 436.2L266.1 435.9L266.8 435.1L267.2 434.1L267.5 432.3L269 432.1L269 427.1L269 426.5L270.3 426.5L270.3 423.9L285.9 423.9L286.4 425.2L286.5 427.8L288.1 429.1L288.1 429.2L286.8 430Z" fill="#FF8C00" stroke="#FF8C00"/>
<path d="M270.6 411.3L270.6 411.2L273 411.7L275.6 412.2L277.6 411.4L279.5 411.7L279.9 411.8L280.2 413.4L280.5 414.7L281.5 416L282.2 417.3L282.8 418.6L283.9 420.6L284.4 422.5L285.9 423.9L270.3 423.9L270.3 414.4Z" fill="#FCBE2E" stroke="#FCBE2E"/>
<path d="M269 426.5L269 427.1L258.4 422L257.1 422.5L256.1 423.1L253.2 421.9L252.5 420.8L250.8 420.4L249.9 418.2L250.4 416.6L250.3 414.1L249.9 413.1L250.8 412.3L250.9 411.1L252.5 410.1L252.6 409.2L252.7 409.2L253.8 409.7L255.8 409.9L257.5 410.3L258.1 411.5L260.4 412.3L262.4 413L263.7 412L263.7 410.3L265.7 409.6L267.7 409.9L270.3 411.1L270.6 411.2L270.6 411.3L270.3 414.4L270.3 423.9L270.3 426.5Z" fill="#D3D3D3" stroke="#D3D3D3"/>
<path d="M250.9 411.1L250.8 412.3L249.9 413.1L249.2 410.6L248.3 410.1L247.4 408.8L248.2 407.2L248.3 404.8L248.7 404.3L248.8 404L249.2 403.9L250.5 403.8L251.9 404.2L251.2 405.5L251.6 406.8L250.8 407.7L251.9 408.8L252.6 409.1L252.6 409.2L252.5 410.1Z" fill="#FCBE2E" stroke="#FCBE2E"/>
<path d="M235.4 406.5L237.4 405.6L239.3 404.8L241.3 404.4L243.9 404.4L246.6 404.2L247.8 404.1L248.7 404.3L248.3 404.8L248.2 407.2L247.4 408.8L248.3 410.1L249.2 410.6L249.9 413.1L250.3 414.1L250.4 416.6L249.9 418.2L250.8 420.4L252.5 420.8L253.2 421.9L247.2 425.3L245 427.1L242.9 427.7L241.7 427.8L241.6 426.7L239.7 426.1L238.9 425L230.9 419.9L225.9 416.9L225.9 415.1L228.1 414L230.4 413.4L232.5 412.2L232.6 411.1L235.6 410.5L235.8 410.1L235 407.5L234.4 406.7L234.5 406.5Z" fill="#FCBE2E" stroke="#FCBE2E"/>
<path d="M269 427.1L269 432.1L267.5 432.3L267.2 434.1L266.8 435.1L266.1 435.9L267 436.2L267.5 438.4L266 438.8L264.2 440.8L262.5 440.9L262.3 441.3L260.7 442.4L259.2 442.6L257.8 442.9L257.4 441.6L255.7 440.1L256.1 439.6L257.8 439.6L257.3 438.6L257.1 437.5L256.5 435.8L256.1 436.5L255.3 434.7L255.2 433.8L255.7 432.1L257.8 430.5L257.5 429.2L258.1 426.6L258.3 426L257.3 424.8L257.1 422.5L258.4 422Z" fill="#D3D3D3" stroke="#D3D3D3"/>
<path d="M260.7 442.4L262.3 441.3L262.5 440.9L264.2 440.8L266 438.8L267.5 438.4L268.5 439.7L268.3 440.9L269.3 441.3L270.6 442.5L272.2 444.1L273.5 446L270.7 446.2L269.7 446L267.5 446.4L267 447.3L264.4 446.8L263.1 446.2L261.9 447.1L261.9 448.1L259.4 448.1L259.1 449L258.7 450.5L258.6 448.9L257.4 447.6L256.7 446.8L256.5 445.8L256.9 444.3L257.8 442.9L259.2 442.6Z" fill="#8B2323" stroke="#8B2323"/>
<path d="M262.4 490.6L263.7 490L263.7 485.3L264.6 487.9L265.8 487.9L267.2 487L267.7 485.9L269.9 486.2L271.1 486L272.7 484.6L273 483.7L274.7 482.6L276.1 481.8L278.6 482.1L279.4 484.6L279.5 486.6L278.6 486.4L278 487.5L278.5 488.5L279.5 488.4L279.7 487.9L280.7 488L280.7 488.8L280.2 490.4L278.5 491.8L277.3 493.4L274.9 495.8L273 496.9L271.2 497.3L268.3 497.3L266.4 497.6L263.7 498.4L261.7 497.6L261.3 495.8L261.1 494.7L260.2 492.7L259.1 490.2L260.4 490.4ZM273.5 492.5L274.5 492.9L275.6 492.5L276.1 491.4L275.5 490.4L274.3 490.4L273 491.6Z" fill="#006400" stroke="#006400"/>
<path d="M279.5 488.4L278.5 488.5L278 487.5L278.6 486.4L279.5 486.6L279.7 487.9Z" fill="#FCBE2E" stroke="#FCBE2E"/>
<path d="M274.3 490.4L275.5 490.4L276.1 491.4L275.6 492.5L274.5 492.9L273.5 492.5L273 491.6Z" fill="#FCBE2E" stroke="#FCBE2E"/>
<path d="M302.4 468.5L303.9 472.8L302.6 475.7L301.3 479.6L299.7 485.1L297.1 486.2L295 484.2L294.4 481.6L295.8 479L295.4 475.7L297.3 473.7L300 472.1L301.3 470.2Z" fill="#FCBE2E" stroke="#FCBE2E"/>
<path d="M307.6 436.1L309.2 436.2L308.3 436.6Z" fill="#8B2323" stroke="#8B2323"/>
<path d="M374.6 439.2L375 439.1L375 439.3ZM373.4 446.4L373.5 446.8L372.5 445.4ZM339.5 442.1L338.2 440.9L337.9 439.7L339.6 442ZM309.9 417.7L307.9 417.4L305.3 416.2L305 415.8L310.7 417.5ZM300.9 413.6L300.6 413.4L301.1 413.4ZM304.3 419.9L304.4 419.7L304.3 420.3L303.7 419.3L303.7 418.8ZM305.4 420.2L305.6 420.4L305.4 420.4L305.4 421L304.9 420.4L305.4 419.9Z" fill="#D3D3D3" stroke="#D3D3D3"/>
<path d="M276.9 374.1L274.9 373.3L273.9 373.4L274 373.3L276.9 371.6L278.9 370.2L277.6 368.5L276.5 367.7L277 366.5L275.6 364.9L276.9 363.9L275.2 363.2L274.8 362.3L275.5 362.1L277.8 361.2L280.9 361.7L285.5 362.2L290.8 363.8L291.7 365.1L290.1 365.9L287.5 365.9L282.8 365.3L280.9 365.1L283.2 366.8L283.2 368.1L286.8 368.9L287.5 368.1L290.1 368L290.4 366.4L292.7 365.6L295.6 365.9L295.6 363.8L294.7 362.7L298 363.1L298.7 364.8L301.3 363.9L307.2 362.8L309.2 363.2L313.8 362.5L317.1 362.2L317.1 361.1L322.4 362.2L325.7 362.5L327.7 363.1L325.7 361.5L325.7 359.6L327.7 357.6L329.7 356.9L332.9 357.2L332.9 359.6L332.3 362.2L332.9 364.2L334.9 364.8L334.3 362.8L334.9 359.6L336.2 357.6L340.2 358L343.5 358.3L343.5 356.3L350.8 355.9L352.1 354.3L358.7 353.3L366.6 352.6L374.5 350.8L378.4 352L385 352.6L386.4 355L382.4 355.6L386.4 355.9L392.9 356.6L400.2 356.2L404.8 356.6L408.1 358.9L411.4 358.9L415.4 358.9L422 357.6L423.3 357.2L429.9 357.9L435.1 358.9L439.1 359.7L447 359.8L449 361.4L453.6 361.3L458.9 361L462.2 362.2L462.8 360.9L469.4 361.1L474.7 362.3L474.7 367.4L473.4 368.1L471.4 367.8L472.7 369.7L474 370.7L470.7 370.7L466.8 371.6L464.2 372.7L461.9 374L456.2 374L452.9 374.3L453.6 376L451.6 376.9L452.3 378.9L451 380.6L448.3 382.9L446.1 384.2L444 385.8L442.7 383.2L442.7 380.6L443.7 377.5L446.3 376.2L449.6 374L452.9 372L452.5 371L448.3 372L444.4 371.9L441.1 374.7L436.5 374.9L433.8 374.5L425.9 374.9L422 377.3L418.7 380.2L416 381L418.7 381.9L422 381.9L423.7 383.2L422.6 385.8L422.4 388.4L420 391.3L416.7 394.3L413.4 396.3L411.4 396L409.7 397L409.6 397.1L409.6 397.1L410.4 395.8L410.4 393.9L412.9 393.5L415 389.4L410.1 390.1L409.6 388.6L405.5 386.9L403.5 383.6L400.2 382.5L396.5 383.8L394.5 386.9L392.7 387.8L391.2 387.4L387.7 386.9L383.7 388L380.4 388L377.8 386.7L372.2 386.3L372.1 385.4L367.9 384.5L366.3 385.2L366.6 386.3L362 387L358 386.3L354 387.8L353.1 388.2L352.5 388.2L349.7 387.6L347.3 385.8L342.8 386.1L340.1 382.8L338.2 381.6L334.7 382.5L334.3 381.9L331.2 381.6L330.7 380.2L327.3 380.6L323.3 381.3L321.7 381.5L317.8 382L317.7 383.8L318.4 386.1L315.9 386.5L314.5 385.7L310.8 386.3L309.2 385.8L306.6 385.2L304.3 384.9L301.6 386.3L300 386.6L299.1 388L299.3 389.7L301.9 391.7L299.3 393L299.3 394.3L299.7 395.9L300.6 397.9L301 398.2L300.4 398.7L298.5 397.7L296 396.7L293.4 396L290.3 395.8L289.7 395.5L287.5 394.5L285.7 393.5L285.2 393.6L285.9 393.3L285.9 393.2L286.8 393.2L287.5 392.4L289 391.1L287.7 390.9L289.8 389.9L290.2 387.6L287.5 387.3L284.3 386.6L281.9 384L279.3 384.4L278.8 382.9L280.5 382.7L278 380.8L278.1 379.8L274.5 379L274 377.5L273.5 377.1L273.7 376.8L273.5 375.6L274.3 374.7ZM402.2 403.2L403.6 403.3L402.6 403.3ZM302.1 402.4L301.8 402.3L300.6 401.8L302 402.3L302 402.3ZM284.5 406.8L284.7 407.2L284.3 407.6ZM265 380.2L265.4 380.2L267.3 380.7L267.4 381.3L263.5 381.3Z" fill="#FF0000" stroke="#FF0000"/>
<path d="M354.6 389.6L356.4 390.1L357.3 391.2L357.2 393.3L360.6 393.8L363.1 394.6L364.5 396.7L370.3 396.7L375.8 398.1L382.9 396.6L385 395.3L384.8 393.7L387.7 393.7L389.6 393.2L391.2 391.8L392.9 391.4L395.2 391.6L395.3 390.8L393.6 389.9L392.7 390.1L390 390.1L389.6 389.5L391.2 387.4L392.7 387.8L394.5 386.9L396.5 383.8L400.2 382.5L403.5 383.6L405.5 386.9L409.6 388.6L410.1 390.1L415 389.4L412.9 393.5L410.4 393.9L410.4 395.8L409.6 397.1L408.5 396.4L406.1 397.6L406.3 398.4L404.7 397.9L401.4 400.1L401.3 400.3L401.3 400.2L398.2 401.6L397.3 401.6L398.2 399.6L396.9 399.1L394.3 401.2L392.6 401.6L393.6 403.1L396.2 403.5L398.9 403.8L396.9 404.8L394.7 406.5L396.2 408.1L398 410.7L398 412L398.2 413.4L397.6 415.3L395.6 418L394.3 419.5L392.3 421.5L390.3 422.7L387.7 423.3L385.7 424.1L383.1 424.8L382.4 426L381.7 424.5L379.8 424.4L379.7 424.5L378 423.9L377.8 422.7L376.2 422.2L375.5 422.8L374.4 423.2L372.5 422.9L372 423.3L371.5 424.9L370.8 424.9L370.8 424.4L369.2 424.5L368.2 423.7L368.3 422.4L367.6 421.2L366 421.4L366.2 419.9L367.5 418.7L367.5 416.6L365.9 415.6L364.3 414.3L362.6 414.4L360.6 415.1L358.7 416.2L358.3 416.2L356.7 415.7L354.7 416.8L354.6 416.9L354.4 415.9L353.5 416.1L351.4 416L350.4 415.6L348.4 414.8L346.8 413.9L345.5 413L344.2 413.1L342.2 412L341.1 411.4L341.1 409.9L341.9 409.9L341.5 407.7L340.6 407.3L339.9 406.1L337.4 404.7L336.1 404L335.9 403.8L336.2 402.2L334.7 402.1L334.5 401L334.9 400.1L337 399.6L338.8 398.9L340.5 398.8L343.1 397.4L343.4 396.2L342.7 393.8L345.9 393L346.8 390.8L350.1 390.9L350.8 389.1L352.5 388.2L353.1 388.2Z" fill="#00FF00" stroke="#00FF00"/>
<path d="M358 386.3L362 387L366.6 386.3L366.3 385.2L367.9 384.5L372.1 385.4L372.2 386.3L377.8 386.7L380.4 388L383.7 388L387.7 386.9L391.2 387.4L389.6 389.5L390 390.1L392.7 390.1L393.6 389.9L395.3 390.8L395.2 391.6L392.9 391.4L391.2 391.8L389.6 393.2L387.7 393.7L384.8 393.7L385 395.3L382.9 396.6L375.8 398.1L370.3 396.7L364.5 396.7L363.1 394.6L360.6 393.8L357.2 393.3L357.3 391.2L356.4 390.1L354.6 389.6L353.1 388.2L354 387.8Z" fill="#FF8C00" stroke="#FF8C00"/>
<path d="M299.1 388L300 386.6L301.6 386.3L304.3 384.9L306.6 385.2L309.2 385.8L310.8 386.3L314.5 385.7L315.9 386.5L318.4 386.1L317.7 383.8L317.8 382L321.7 381.5L323.3 381.3L327.3 380.6L330.7 380.2L331.2 381.6L334.3 381.9L334.7 382.5L338.2 381.6L340.1 382.8L342.8 386.1L347.3 385.8L349.7 387.6L352.5 388.2L350.8 389.1L350.1 390.9L346.8 390.8L345.9 393L342.7 393.8L343.4 396.2L343.1 397.4L341.5 396.6L337.2 396.4L335.2 396L334.3 397L331 396.8L330.8 397.2L328.3 398.4L327.8 399.3L327 398.9L325.3 398.7L325 397.7L324.4 397.6L324.5 396.3L322.9 395.4L319.1 395.6L317.9 394.6L314.6 392.9L311.2 393.7L311.2 398.5L309.6 397.7L307.9 397.4L307.2 397.6L306.6 397L303.7 396.3L304.6 394.3L307.2 393.7L307.2 391.7L305.3 391.3L302 391.7L301.9 391.7L299.3 389.7Z" fill="#FCBE2E" stroke="#FCBE2E"/>
<path d="M406.3 398.4L406.1 397.6L408.5 396.4L409.6 397.1L409.6 397.1L408.4 398.5L406.8 400L405.5 400.9L406.5 402.1L406.5 402.1L404.8 402.5L403.6 403.3L402.2 403.2L402.2 403.1L402.4 400.9L401.3 400.3L401.4 400.1L404.7 397.9Z" fill="#D3D3D3" stroke="#D3D3D3"/>
<path d="M404.8 402.5L406.5 402.1L408 404.2L408 405.9L406.8 406.9L404.2 407.6L403.9 406.1L404.3 404.2L402.6 403.3L403.6 403.3Z" fill="#00FF00" stroke="#00FF00"/>
<path d="M331 420.7L330.8 419.7L329.8 418.7L330 418L329.1 417L330.4 416L332.2 416.1L333.5 414.7L334.1 413.5L335.6 412.2L335.7 411.9L336.6 410.3L335.9 410.1L335.3 409.4L334.8 408.2L334.9 407.2L337.3 407.5L338.9 406.8L339.9 406.1L340.6 407.3L341.5 407.7L341.9 409.9L341.1 409.9L341.1 411.4L342.2 412L344.2 413.1L343.4 413.6L343 414.9L344.4 415.5L346.4 416.5L348.2 416.8L349.7 417.6L350.8 417.8L352.5 418.1L353.5 418.1L353.5 416.1L354.4 415.9L354.6 416.9L354.7 417.6L356.4 417.6L358.7 417.6L358.8 416.8L358.3 416.2L358.7 416.2L360.6 415.1L362.6 414.4L364.3 414.3L365.9 415.6L365.7 416.4L364.2 416.9L362.9 417.8L362.1 419.7L362.2 420.4L361.4 421.4L360.5 421.2L360.4 422.7L360.2 423.6L359.5 424L359.1 422.5L357.6 422.5L357.6 421.1L359.1 420.1L359.2 419.8L356.6 419.7L355.8 419.5L355.8 418.6L354 418L353.5 418.9L354.6 419.7L353.5 420.6L354.4 421.1L354.3 422.3L354.7 423.9L354.6 424.1L352.7 424.5L352.1 425.6L351.1 426.6L349.4 427.4L347.5 429.4L345.9 430.8L343.9 432L343 433.7L343.1 435.7L342.7 437.6L342.6 439.2L341.5 440.5L340.5 441L339.6 442L337.9 439.7L337.3 437.9L336 435.7L334.9 433L334 430.4L333.3 427.8L333.2 425.2L332.9 423.9L330 425.4L328.3 423.6L330 422.5L327.7 421.9L327.2 421.7L327.3 421.6L328.1 420.8Z" fill="#00FF00" stroke="#00FF00"/>
<path d="M346.8 413.9L348.4 414.8L350.4 415.6L351.4 416L353.5 416.1L353.5 418.1L352.5 418.1L350.8 417.8L349.7 417.6L348.2 416.8L346.4 416.5L344.4 415.5L343 414.9L343.4 413.6L344.2 413.1L345.5 413Z" fill="#FFFF00" stroke="#FFFF00"/>
<path d="M356.7 415.7L358.3 416.2L358.8 416.8L358.7 417.6L356.4 417.6L354.7 417.6L354.6 416.9L354.7 416.8Z" fill="#FFFF00" stroke="#FFFF00"/>
<path d="M354.4 421.1L353.5 420.6L354.6 419.7L353.5 418.9L354 418L355.8 418.6L355.8 419.5L356.6 419.7L359.2 419.8L359.1 420.1L357.6 421.1L357.6 422.5L359.1 422.5L359.5 424L359.2 425.1L358.7 423.9L357.3 422.9L356.4 423.9L354.7 424.1L354.7 423.9L354.3 422.3Z" fill="#FF8C00" stroke="#FF8C00"/>
<path d="M320.8 417.7L320.2 417L320.2 415.7L319 415.3L317.7 413.5L319.8 414.1L321.7 414L324.9 413.5L325.6 411.7L327.3 411L328.7 410.9L328.7 409.6L330 409L329.5 408.1L331.1 408L331.8 406.9L331.2 405.5L332.9 404.4L335.1 404.4L336.1 404L337.4 404.7L339.9 406.1L338.9 406.8L337.3 407.5L334.9 407.2L334.8 408.2L335.3 409.4L335.9 410.1L336.6 410.3L335.7 411.9L335.6 412.2L334.1 413.5L333.5 414.7L332.2 416.1L330.4 416L329.1 417L330 418L329.8 418.7L330.8 419.7L331 420.7L328.1 420.8L327.3 421.6L327.2 421.6L326.4 421.2L325.3 419.9L322.4 419.7L318.6 419.7L318.8 418.3Z" fill="#D3D3D3" stroke="#D3D3D3"/>
<path d="M320.4 406.3L322.4 405.1L323.9 403.8L325 403.7L326.8 403.9L328.7 403.9L330.2 402.5L331.2 402.3L331.6 403L332 404.6L334 403.7L335.9 403.8L336.1 404L335.1 404.4L332.9 404.4L331.2 405.5L331.8 406.9L331.1 408L329.5 408.1L330 409L328.7 409.6L328.7 410.9L327.3 411L325.6 411.7L324.9 413.5L321.7 414L319.8 414.1L317.7 413.5L318.8 412.3L317.7 411.4L317.1 408.1L318 404.7L318 406Z" fill="#D3D3D3" stroke="#D3D3D3"/>
<path d="M309.6 397.7L311.2 398.5L312.5 398.5L314.6 396.7L316.5 397.4L316.6 398.4L319 398.8L319.6 400.2L322.3 401.7L325 402.9L325 403.7L323.9 403.8L322.4 405.1L320.4 406.3L318 406L318 404.7L315.5 403.5L312.9 402.6L311.2 402.7L308.4 403.8L308.1 403.7L308.6 403.5L307.2 400.9L308.3 398.9L307.2 397.6L307.9 397.4Z" fill="#D3D3D3" stroke="#D3D3D3"/>
<path d="M314.6 392.9L317.9 394.6L319.1 395.6L322.9 395.4L324.5 396.3L324.4 397.6L325 397.7L325.3 398.7L327 398.9L327.8 399.3L328.3 398.4L330.8 397.2L331.4 397.4L330.3 398.3L331.9 398.3L333.6 399.2L331.9 400L330.3 399.8L330.4 399.1L328.7 399.2L327.8 400L328.3 400.4L326.2 401.3L327.5 402.6L326.8 403.9L325 403.7L325 402.9L322.3 401.7L319.6 400.2L319 398.8L316.6 398.4L316.5 397.4L314.6 396.7L312.5 398.5L311.2 398.5L311.2 393.7Z" fill="#D3D3D3" stroke="#D3D3D3"/>
<path d="M334.3 397L335.2 396L337.2 396.4L341.5 396.6L343.1 397.4L340.5 398.8L338.8 398.9L337 399.6L334.9 400.1L334.5 401L332.3 401L330.3 400.8L328.7 400.8L328.7 400L330.3 399.8L331.9 400L333.6 399.2L331.9 398.3L330.3 398.3L331.4 397.4L330.8 397.2L331 396.8Z" fill="#FF8C00" stroke="#FF8C00"/>
<path d="M326.2 401.3L328.3 400.4L327.8 400L328.7 399.2L330.4 399.1L330.3 399.8L328.7 400L328.7 400.8L330.3 400.8L332.3 401L334.5 401L334.7 402.1L336.2 402.2L335.9 403.8L334 403.7L332 404.6L331.6 403L331.2 402.3L330.2 402.5L328.7 403.9L326.8 403.9L327.5 402.6Z" fill="#FCBE2E" stroke="#FCBE2E"/>
<path d="M360.2 423.6L360.4 422.7L360.5 421.2L361.4 421.4L362.2 420.4L362.1 419.7L362.9 417.8L364.2 416.9L365.7 416.4L365.9 415.6L367.5 416.6L367.5 418.7L366.2 419.9L366 421.4L367.6 421.2L368.3 422.4L368.2 423.7L369.2 424.5L370.8 424.4L370.8 424.9L369.9 426.1L369.3 426L368.6 426.1L367.8 426.7L366.3 427L365.8 428.4L367.4 431.1L366.8 432.8L368 434.6L368.2 436.2L368.7 437.2L367.6 439.1L367.2 439.6L367.5 437L366.6 434.4L366.2 431.7L365.5 430.7L363.9 431.1L363 432L361.7 431.5L362 429.1L360.9 427.1L359.3 425.4L359.2 425.1L359.5 424Z" fill="#FCBE2E" stroke="#FCBE2E"/>
<path d="M368.7 437.2L368.2 436.2L368 434.6L366.8 432.8L367.4 431.1L365.8 428.4L366.3 427L367.8 426.7L368.6 426.1L369.3 426L370 427.1L370.9 427.1L370.5 428.6L370.8 429.8L372 428.8L373.2 428.6L374.5 428.7L375.4 429.8L375.5 431.2L376.6 432.1L376.5 433.7L376.1 434L373.2 434L372.4 434.9L373 437.4L373 437.5L372.9 437.4L371.8 436.3L370.4 435.1L369.2 435.3L368.9 437.6L368.2 439.9L369.5 441.6L370.3 443.5L371.8 444.6L371.9 444.6L370.7 445.2L369.5 444.5L369.5 444.2L368.6 443.3L367 442L367.2 439.6L367.6 439.1Z" fill="#B9FF45" stroke="#B9FF45"/>
<path d="M370.8 424.9L371.5 424.9L372 423.3L373 424.2L373.3 425.4L375.3 425.7L374.5 427.1L376.1 428.4L377.8 430.5L379 431.7L379.2 432.9L379.1 433.4L377.1 434L376.1 434L376.5 433.7L376.6 432.1L375.5 431.2L375.4 429.8L374.5 428.7L373.2 428.6L372 428.8L370.8 429.8L370.5 428.6L370.9 427.1L370 427.1L369.3 426L369.9 426.1Z" fill="#D3D3D3" stroke="#D3D3D3"/>
<path d="M373.2 434L376.1 434L377.1 434L379.1 433.4L379.2 435.1L379.1 436.6L377 437.4L377.4 438.3L375.9 438.4L375 439.1L374.6 439.2L373.8 438.8L373 437.6L373 437.4L372.4 434.9Z" fill="#D3D3D3" stroke="#D3D3D3"/>
<path d="M375.9 438.4L377.4 438.3L377 437.4L379.1 436.6L379.2 435.1L379.1 433.4L379.2 432.9L379 431.7L377.8 430.5L376.1 428.4L374.5 427.1L375.3 425.7L373.3 425.4L373 424.2L372 423.3L372.5 422.9L374.4 423.2L375.5 422.8L376.2 422.2L377.8 422.7L378 423.9L379.7 424.5L378 425.8L376.9 427.8L377.8 429.5L380.2 431.7L381.5 435L381.3 437.4L379.1 438.9L378 440.3L375.8 441.3L375.5 439.6L375 439.3L375 439.1Z" fill="#B9FF45" stroke="#B9FF45"/>
<path d="M371.9 444.6L372.5 445.4L373.5 446.8L373.8 448.8L374.7 450.8L373.8 450.9L371.8 449.7L370.9 448.8L369.9 446.2L369.5 444.5L370.7 445.2Z" fill="#FF8C00" stroke="#FF8C00"/>
<path d="M295.9 401L296.4 400.6L296.4 401L297.2 401.6L298.1 401.7L298.7 401.7L299.3 401.2L301 401L300.6 401.8L301.8 402.3L302.1 402.4L303.3 403.7L305.9 404.4L308.1 403.7L308.4 403.8L311.2 402.7L312.9 402.6L315.5 403.5L318 404.7L317.1 408.1L317.7 411.4L318.8 412.3L317.7 413.5L319 415.3L320.2 415.7L320.2 417L320.8 417.7L318.8 418.3L318.6 419.7L318.4 419.7L315.1 419.4L312.9 419L312.2 417.3L310.7 417.5L305 415.8L303.9 414.4L302.6 413.1L301.6 413L301.3 413.2L300.2 412L300.2 410.3L298.3 409.2L297.5 407.3L298.1 405.9L297.1 405.5L296.4 403.9L295.8 402.3Z" fill="#FFFF00" stroke="#FFFF00"/>
<path d="M272.4 398.5L272.2 398L273.3 397.5L274.1 397.6L274.3 398.1L275.9 398.7L278.6 398.8L281.3 397.6L283.8 397.6L285.5 398.5L288.1 399.1L290.5 398.9L292 398.3L292.1 398.3L293.8 398.3L294.7 398.8L295 400L296.4 400.6L295.9 401L295.8 402.3L296.4 403.9L293.3 404L291 404L288.1 404.3L286.3 404.6L285.6 405.2L285.1 405.6L284.8 405.6L285.1 404.7L282.8 404.6L280.2 405.4L277.7 404.4L275.6 404.8L273.3 404.2L273 402.2L272 400.9L271.9 400.2L271.6 399.3L272 399.1Z" fill="#FFFF00" stroke="#FFFF00"/>
<path d="M296 396.7L298.5 397.7L298.8 398.7L296.7 398.5L294.7 398.8L293.8 398.3L292.1 398.3L292 398.3L292.3 398.1L292.1 396.7L290.3 395.8L293.4 396Z" fill="#D3D3D3" stroke="#D3D3D3"/>
<path d="M297.5 399.2L297.9 400L298.7 400.9L298.7 401.7L298.1 401.7L297.3 400.9L296.4 400.6L295 400L294.7 398.8L296.7 398.5Z" fill="#00FF00" stroke="#00FF00"/>
<path d="M302.6 399.8L302 402.2L302 402.3L302 402.3L300.6 401.8L301 401L299.3 401.2L298.7 401.7L298.7 400.9L297.9 400L297.5 399.2L296.7 398.5L298.8 398.7L298.5 397.7L300.4 398.7L301 398.2ZM297.2 401.6L296.4 401L296.4 400.6L297.3 400.9L298.1 401.7Z" fill="#00FF00" stroke="#00FF00"/>
<path d="M285.6 405.2L286.3 404.6L288.1 404.3L291 404L293.3 404L291.8 405L291.8 406L291.4 407.6L288.5 408.9L285.9 410.3L284.6 409.8L284.6 409L285.6 407.8L285.2 407.3L284.7 407.2L284.5 406.8L284.7 406.1L284.8 405.6L285.1 405.6Z" fill="#D3D3D3" stroke="#D3D3D3"/>
<path d="M285.2 407.3L285.6 407.8L284.6 409L283.7 409.3L284.2 408.2L284.3 407.6L284.7 407.2Z" fill="#D3D3D3" stroke="#D3D3D3"/>
<path d="M283.4 410.1L283.7 409.3L284.6 409L284.6 409.8L284.3 410.2L284.2 411.4L284 412.2L283.4 414L282.6 411.7L282.6 411.4Z" fill="#D3D3D3" stroke="#D3D3D3"/>
<path d="M284.2 411.4L284.3 410.2L284.6 409.8L285.9 410.3L288.5 408.9L289 410.5L286.1 411.4L287.5 412.7L286.8 413.4L285.7 413.5L285 414.4L283.5 414.3L283.4 414L284 412.2Z" fill="#FF8C00" stroke="#FF8C00"/>
<path d="M297.1 405.5L298.1 405.9L297.5 407.3L298.3 409.2L300.2 410.3L300.2 412L301.3 413.2L301.1 413.4L300.6 413.4L300.2 413.2L298.8 414.5L296.3 414.4L292.7 411.9L290.6 410.9L289 410.5L288.5 408.9L291.4 407.6L291.8 406L291.8 405L293.3 404L296.4 403.9Z" fill="#FF8C00" stroke="#FF8C00"/>
<path d="M300.6 413.4L300.9 413.6L300.6 413.8L301.2 415.1L301.2 415.2L300 415.3L298.8 414.5L300.2 413.2Z" fill="#D3D3D3" stroke="#D3D3D3"/>
<path d="M285.7 413.5L286.8 413.4L287.5 412.7L286.1 411.4L289 410.5L290.6 410.9L292.7 411.9L296.3 414.4L298.8 414.5L300 415.3L301.2 415.2L301.3 415.3L301.3 415.3L302.6 416.9L303.3 418L303.7 418.8L303.7 419.3L304.3 420.3L304.9 420.4L305.4 421L305.4 422.7L306.7 422.7L310.1 422.9L310.8 423.9L309.9 426.5L305.9 427.8L302 428.3L300 430.3L298.9 430L297 429.9L295.4 429.9L294.4 429.8L294.2 430.8L293.8 431.2L293.7 431.2L293.7 431.1L292.1 429.1L290.8 427.1L289 424.8L288.4 422.5L286.8 420.8L285.7 418.6L283.9 416.1L283.4 414.4L283.5 414.3L285 414.4Z" fill="#FF0000" stroke="#FF0000"/>
<path d="M294.4 429.8L295.4 429.9L297 429.9L298.9 430L300 430.3L302 428.3L305.9 427.8L307.4 430.9L307.4 431L307.2 431.1L306.2 432.3L303.3 433.3L301.3 434.4L298.7 435.1L296.7 435.9L294.7 436.1L294.3 435.3L293.8 433L293.7 431.5L293.8 431.2L294.2 430.8Z" fill="#8B2323" stroke="#8B2323"/>
<path d="M309.9 426.5L310.8 423.9L310.1 422.9L310.9 421L311.6 420.1L311.7 420.1L311.7 420.2L313.2 421.5L314.8 421.8L316.2 423.2L314.8 425.8L313.6 427.8L311.9 429.1L309.9 430.4L307.5 431L307.4 430.9L305.9 427.8ZM311.3 418.6L311.6 418.3L311.6 419L311.3 419Z" fill="#FF0000" stroke="#FF0000"/>
<path d="M305.6 420.4L306.6 421L308.6 421L310.5 419.5L311.3 418.6L311.3 419L311.6 419L311.7 419.8L311.6 420.1L310.9 421L310.1 422.9L306.7 422.7L305.4 422.7L305.4 421L305.4 420.4Z" fill="#FF0000" stroke="#FF0000"/>
<path d="M304.6 418.6L305.3 418.6L305.4 419.9L304.9 420.4L304.3 420.3L304.4 419.7Z" fill="#D3D3D3" stroke="#D3D3D3"/>
<path d="M283.4 414.3L283.4 414.1L282.7 416L282.4 416.4L281.1 415.2L280.3 413.5L279.9 411.8L280.9 411.9L282.4 411.7L282.5 411.6L282.6 411.7L283.4 414Z" fill="#FCBE2E" stroke="#FCBE2E"/>
<path d="M276 361.8L274.8 361.1L274.1 360.7L271.6 361.3L271.2 362.2L270.2 362.7L268.6 362.5L266.9 362.6L265.8 361.8L264.5 362.1L263.7 363L261.2 362.8L261 363.6L259 364.2L258.6 364.8L257.7 365.7L256.5 366L256.5 367L255.4 368L255.9 368.2L255.7 368.8L253.3 369.3L253.4 370.1L253.6 371.6L254.4 372.3L253.4 372.7L254 373.5L252.9 374.1L252.8 375L252.1 375.2L252.1 375.3L251.2 374.7L249.9 375.6L247.9 376.5L245.9 376.4L244.3 374.9L243.9 372.7L244.2 371.1L246.6 370.1L249.9 369.1L251.9 367.7L253.8 366.1L255.2 364.2L257.1 363.1L259.1 362.2L261.7 361.1L265 360.6L268.3 359.8L271.4 359.4L274.9 359.6L278.2 360.5L277.6 361.1L277.8 361.2L275.5 362.1Z" fill="#006400" stroke="#006400"/>
<path d="M252.9 374.1L254 373.5L253.4 372.7L254.4 372.3L253.6 371.6L253.4 370.1L253.3 369.3L255.7 368.8L255.9 368.2L255.4 368L256.5 367L256.5 366L257.7 365.7L258.6 364.8L259 364.2L261 363.6L261.2 362.8L263.7 363L264.5 362.1L266.4 362.8L268.5 363.6L268.5 364.4L269 365.1L268.9 365.9L269.3 366.4L266.4 366.7L265.4 368.1L262.4 369.8L260.4 371.4L260 372.7L261.7 374L262.1 374.9L259.4 376L259.1 377.9L258.2 379.1L256.2 379.5L254.5 380L254.1 379L252.9 377.1L252.1 375.3L252.1 375.3L252.1 375.2L252.8 375Z" fill="#B9FF45" stroke="#B9FF45"/>
<path d="M266.9 362.6L268.6 362.5L270.2 362.7L271.2 362.2L271.6 361.3L274.1 360.7L274.8 361.1L276 361.8L275.5 362.1L274.8 362.3L275.2 363.2L276.9 363.9L275.6 364.9L277 366.5L276.5 367.7L277.6 368.5L278.9 370.2L276.9 371.6L274 373.3L273.9 373.4L271.6 373.5L267.7 374.1L265.7 373.1L265.4 371.4L265.3 370.1L269 368.1L270.7 367L269.3 366.4L268.9 365.9L269 365.1L268.5 364.4L268.5 363.6L266.4 362.8L264.5 362.1L265.8 361.8Z" fill="#B9FF45" stroke="#B9FF45"/>
<path d="M273.7 376.8L273.5 377.1L271.6 376.9L270.3 376.6L269.4 376.8L269.4 376.2L268.3 375L271 374.5L274.3 374.7L273.5 375.6Z" fill="#FFFF00" stroke="#FFFF00"/>
<path d="M271.6 376.9L273.5 377.1L274 377.5L274.5 379L272.4 379.6L270.3 378.7L266.4 378.7L265 379.1L265 378.2L266 377.1L268.3 377.9L269.4 377.5L269.4 376.8L270.3 376.6Z" fill="#FFFF00" stroke="#FFFF00"/>
<path d="M270.3 378.7L272.4 379.6L272.7 380.2L271.4 380.7L271.4 381.6L269.5 382L268.3 382L267.4 381.3L267.3 380.7L265.4 380.2L265 380.2L265 379.1L266.4 378.7Z" fill="#00FF00" stroke="#00FF00"/>
<path d="M271.4 381.6L271.4 380.7L272.7 380.2L272.4 379.6L274.5 379L278.1 379.8L278 380.8L280.5 382.7L278.8 382.9L279.3 384.4L277.6 385.4L275.6 385.2L273 385L270.3 384.6L268.5 385.2L268.5 384.4L267.9 384.1L268.9 383.6L268.3 382L269.5 382Z" fill="#D3D3D3" stroke="#D3D3D3"/>
<path d="M268.5 385.2L270.3 384.6L273 385L275.6 385.2L277.6 385.4L279.3 384.4L281.9 384L284.3 386.6L287.5 387.3L290.2 387.6L289.8 389.9L287.7 390.9L285.5 391.4L283.5 392.1L283.9 393.2L285.5 393.2L285.9 393.2L285.9 393.3L285.2 393.6L284.2 393.7L282.2 394.5L281.5 393.7L280.5 392.6L278.2 391.6L276.9 392.6L276.6 393.3L276.5 393.3L274.5 393L275.5 392.2L276.9 391.8L275.9 390.4L275.9 389.7L274 389.1L272.4 389.4L270.2 390.1L267.5 389.7L266.5 389.2L267.2 388.3L269.1 386.1Z" fill="#00FF00" stroke="#00FF00"/>
<path d="M275.9 389.7L275.9 390.4L276.9 391.8L275.5 392.2L274.5 393L274.4 392.1L273.3 390.4L272.4 389.4L274 389.1Z" fill="#8B2323" stroke="#8B2323"/>
<path d="M246.4 394.5L246.6 393.4L246.3 392.6L246.6 392.5L247.8 392.5L248.4 391.8L249.2 392.6L249.6 391.7L250.7 392.1L251.1 391.6L251.2 391.2L251.9 391.3L253.3 390.9L253.7 391.4L255.4 391.7L255 392.1L255.3 392.6L255.5 392.9L255.5 392.9L255.4 392.9L253.6 393.3L253.7 394.6L255.3 395.6L256.1 397L258.4 397.7L260.4 399.2L261.7 400.1L261.5 400.5L259.8 399.7L259.2 400.6L259.9 401.6L259.1 402.3L258.4 403L257.9 402.7L258.4 401.6L257.8 400.2L256.5 399.5L255.2 398.7L253.6 398L251.9 397L250.9 395.6L249.9 394.7L248.8 394.5L247.2 395.3L247.5 394.7Z" fill="#00FF00" stroke="#00FF00"/>
<path d="M228.6 397.7L229.2 398.1L228.3 398.9L228.3 400L228.1 400.6L227.5 400.8L228.1 401.4L227.7 402.3L228.1 402.6L227.5 403.5L227.6 403.9L227.6 404L225.7 404.2L225.7 402.2L224.8 401.8L225.6 400L225.9 398.3L225.7 397.7L226.5 397.5Z" fill="#00FF00" stroke="#00FF00"/>
<path d="M236.7 396.6L238.3 396.6L239.6 397L241.3 397.1L241.3 397.1L241.6 397.9L240.3 398.5L238.4 399.2L237 400.9L237.5 401.8L236.6 402.9L235 404.2L234.3 404.4L231.5 404.6L230.2 405.4L229 404.7L228.1 403.9L227.6 404L227.6 403.9L227.5 403.5L228.1 402.6L227.7 402.3L228.1 401.4L227.5 400.8L228.1 400.6L228.3 400L228.3 398.9L229.2 398.1L228.6 397.7L226.5 397.5L225.7 397.7L225.2 396.3L226.8 395.4L229.4 395.5L232.3 395.6L234.9 395.8L235 395.9Z" fill="#006400" stroke="#006400"/>
<path d="M235 395.8L235.8 394.2L235.8 392.4L234.3 390.8L231.7 389.9L231.2 389.2L233.4 388.7L235.2 388.8L235.1 387.5L237.1 388L239.3 387L239.6 385.9L240.5 385.6L240.6 385.7L241.2 386.2L241.6 386.5L242.8 386.7L242.9 387.1L243.7 387L243.8 387.4L245 387.8L245.8 387.8L246.2 388.2L248.2 388.4L247.4 389.6L247.4 390.3L246.4 390.7L245.4 391.6L245.4 392.1L246.3 391.8L246.6 392.5L246.3 392.6L246.6 393.4L246.4 394.5L247.5 394.7L247.2 395.3L245.3 396.2L243.7 395.8L242 395.9L241.3 397L241.3 397.1L239.6 397L238.3 396.6L236.7 396.6L235 395.9L234.9 395.8Z" fill="#00FF00" stroke="#00FF00"/>
<path d="M241.7 385.3L241.7 385.3L241.8 385.4L243 385.3L243.9 385.3L245 385.5L244.9 386.1L245.3 386.1L245.7 386.5L245.4 387L245 387.1L245 387.8L243.8 387.4L243.7 387L242.9 387.1L242.8 386.7L241.6 386.5L241.2 386.2L240.6 385.7L240.7 385.6Z" fill="#FCBE2E" stroke="#FCBE2E"/>
<path d="M245.4 387L245.9 387.4L245.8 387.8L245 387.8L245 387.1Z" fill="#D3D3D3" stroke="#D3D3D3"/>
<path d="M242.9 384.2L243.7 383.2L245.3 382.7L246.5 382.6L246.8 382.9L246.7 383.7L246.2 383.8L246.3 384.6L245.3 384.8L245.4 385.5L245.3 386.1L244.9 386.1L245 385.5L243.9 385.3L243 385.3L241.8 385.4L241.7 385.3Z" fill="#00FF00" stroke="#00FF00"/>
<path d="M246.8 382.5L248.6 382.1L248.8 381.2L248.6 380.7L248.7 380.7L250.3 380.8L250.3 380.8L251.9 381.6L253.6 381.5L256 381.9L256.1 382L256.1 383.2L256.7 384.4L256.9 385.9L256.2 385.8L254.4 386.6L253.4 386.9L253.8 387.8L255.5 388.8L254.4 389.5L254.5 390.4L253.4 390.3L251.9 390.5L250 390.4L248.6 390.1L247.4 390.3L247.4 389.6L248.2 388.4L246.2 388.2L245.8 387.8L245.9 387.4L245.4 387L245.7 386.5L245.3 386.1L245.4 385.5L245.3 384.8L246.3 384.6L246.2 383.8L246.7 383.7L246.8 382.9L246.5 382.6Z" fill="#006400" stroke="#006400"/>
<path d="M248.3 379.9L248.2 378.2L249.9 377.7L251.2 377L251.2 378.9L250.5 380.2L250.3 380.8L248.7 380.7L248.6 380.7Z" fill="#FFFF00" stroke="#FFFF00"/>
<path d="M246.4 390.7L247.4 390.3L248.6 390.1L250 390.4L250 390.9L251.2 391.2L251.1 391.6L250.7 392.1L249.6 391.7L249.2 392.6L248.4 391.8L247.8 392.5L246.6 392.5L246.3 391.8L245.4 392.1L245.4 391.6Z" fill="#006400" stroke="#006400"/>
<path d="M253.4 390.3L254.5 390.4L254.4 389.5L255.5 388.8L256.7 389L257.1 388.4L259.6 389L260 389.7L259.9 390.1L259.1 390.5L258.6 391.2L257.9 391.4L256.6 391.8L255.4 391.7L253.7 391.4L253.3 390.9L251.9 391.3L251.2 391.2L250 390.9L250 390.4L251.9 390.5Z" fill="#006400" stroke="#006400"/>
<path d="M256.2 385.8L256.9 385.9L258.7 386.2L259.4 387L260.7 386.7L262.3 387.8L261.3 388L259.6 389L257.1 388.4L256.7 389L255.5 388.8L253.8 387.8L253.4 386.9L254.4 386.6Z" fill="#B9FF45" stroke="#B9FF45"/>
<path d="M256.1 381.9L259.1 381.2L261.7 381L263.5 381.3L267.4 381.3L268.3 382L268.9 383.6L267.9 384.1L268.5 384.4L268.5 385.2L269.1 386.1L267.2 388.3L265.7 387.9L263.7 388.2L262.3 387.8L260.7 386.7L259.4 387L258.7 386.2L256.9 385.9L256.7 384.4L256.1 383.2L256.1 382L256 381.9Z" fill="#006400" stroke="#006400"/>
<path d="M262.3 387.8L263.7 388.2L265.7 387.9L267.2 388.3L266.5 389.2L264.1 389.4L262.1 390L260 389.7L259.6 389L261.3 388Z" fill="#B9FF45" stroke="#B9FF45"/>
<path d="M259.9 390.1L260 389.7L262.1 390L264.1 389.4L266.5 389.2L267.5 389.7L266.5 390.3L265.3 391.8L264.1 392.1L262.1 392.5L260.6 392.5L259.2 391.7L258.6 391.2L259.1 390.5Z" fill="#FFFF00" stroke="#FFFF00"/>
<path d="M256.6 391.8L257.9 391.4L258.6 391.2L259.2 391.7L258.1 392.1L257.9 392.6L257.5 393L256.6 392.9L255.7 393.1L255.5 392.9L255.5 392.9L255.3 392.6L255 392.1L255.4 391.7Z" fill="#006400" stroke="#006400"/>
<path d="M257.5 393L257.9 392.6L258.1 392.1L259.2 391.7L260.6 392.5L262.1 392.5L262.9 393.4L262.4 393.8L259.8 393.4L258.2 393.4L258.2 394.1L258.8 394.9L260.6 396.2L261.7 396.8L261.7 397L259.8 396L257.5 394.7L256.2 393.4L255.7 393.1L256.6 392.9Z" fill="#00FF00" stroke="#00FF00"/>
<path d="M262.4 393.8L262.9 394.6L263.2 395.1L262.7 395.6L262 396L261.7 396.8L260.6 396.2L258.8 394.9L258.2 394.1L258.2 393.4L259.8 393.4Z" fill="#D3D3D3" stroke="#D3D3D3"/>
<path d="M265.6 393.4L265.7 393.9L267 394.2L267.3 394.7L266.9 395.8L267.7 396.2L266.9 397.1L265.7 397.4L264.5 397.7L263.9 396.8L264.2 396.3L262.7 395.6L263.2 395.1L262.9 394.6L262.4 393.8L262.9 393.4L262.1 392.5L264.1 392.1Z" fill="#FCBE2E" stroke="#FCBE2E"/>
<path d="M262 396L262.7 395.6L264.2 396.3L263.9 396.8L263.2 397L262.9 397.7L262.7 397.7L261.7 397L261.7 396.8Z" fill="#FCBE2E" stroke="#FCBE2E"/>
<path d="M263.9 396.8L264.5 397.7L264.4 398.7L265 399.2L264.6 400.1L263.8 400.6L262.9 399.6L263.1 398L262.9 397.9L262.9 397.7L263.2 397Z" fill="#FF0000" stroke="#FF0000"/>
<path d="M266.9 397.1L267.7 398.4L267.4 398.5L266.2 398.8L265 399.2L264.4 398.7L264.5 397.7L265.7 397.4Z" fill="#D3D3D3" stroke="#D3D3D3"/>
<path d="M265 399.2L266.2 398.8L267.4 398.5L267.7 398.4L269.7 398.3L271.8 398.4L272.2 398L272.4 398.5L272 399.1L271.6 399.3L269 399.2L269 400.2L267.4 399.7L267.7 401.2L269 402.6L267.9 403.1L267.9 404.8L266.8 404.7L265.8 404.3L265.3 403.1L265 402.2L264 400.9L263.8 400.6L264.6 400.1Z" fill="#B9FF45" stroke="#B9FF45"/>
<path d="M270.8 395.4L273 394.9L274.9 395.4L274.3 396.3L273.9 397L274.1 397.6L273.3 397.5L272.2 398L271.8 398.4L269.7 398.3L267.7 398.4L266.9 397.1L267.7 396.2L266.9 395.8L267.3 394.7L267 394.2L267.5 395.1Z" fill="#B9FF45" stroke="#B9FF45"/>
<path d="M270.2 390.1L272.4 389.4L273.3 390.4L274.4 392.1L274.5 393L276.5 393.3L276.5 393.4L276.4 393.7L275.2 395L274.9 395.4L273 394.9L270.8 395.4L267.5 395.1L267 394.2L265.7 393.9L265.6 393.4L264.1 392.1L265.3 391.8L266.5 390.3L267.5 389.7Z" fill="#D3D3D3" stroke="#D3D3D3"/>
<path d="M0 362.3L6.6 364.2L11.9 365.1L13.6 366L9.9 368.2L8.6 368.4L5.9 367.7L2.6 366.8L0 367.4Z" fill="#FF0000" stroke="#FF0000"/>
<path d="M229.8 387.1L231.4 385.7L233.1 385.3L230.5 384.8L231.7 383.8L231.4 382.8L233.4 382.1L233 380.7L231 380.6L230.1 379L229.4 377.3L230.8 375.8L233.1 375.8L232.7 377L234.7 377.3L234.4 379.2L235.4 380.3L237.1 381.6L237.7 383.2L239.5 383.6L239.1 385.7L235.4 386.2L232.7 386.7Z" fill="#FFFF00" stroke="#FFFF00"/>
<path d="M224.2 381.6L226.1 381.3L226.5 380.3L227.7 380.3L227.7 380.6L226.9 381L226.5 381.2L227.7 381.7L229 381.7L229.9 381.6L229.4 382.5L229 384.2L226.8 384.9L224.2 385L223.9 384.2L224.8 382.9Z" fill="#B9FF45" stroke="#B9FF45"/>
<path d="M226.9 381L227.7 380.6L227.7 380.3L229 380.3L230.1 381.2L229.9 381.6L229 381.7L227.7 381.7L226.5 381.2Z" fill="#FFFF00" stroke="#FFFF00"/>
<path d="M205.3 366.8L207.7 365.6L209.7 366.7L213.6 365.9L217.6 365.7L219.3 366.8L218.9 367.8L216.3 368.8L212.3 369.5L207.7 368.9L208.3 368.4Z" fill="#006400" stroke="#006400"/>
<path d="M251.9 348.2L258.4 347.8L261.1 348L265.7 349.6L262.4 350.4L259.8 352.2L257.1 352.1L254.5 350.4Z" fill="#006400" stroke="#006400"/>
<path d="M261.7 347.5L269 347.1L273 347.9L266.4 348.7Z" fill="#006400" stroke="#006400"/>
<path d="M265 351L265 350.1L267.7 350.1L269 351.3Z" fill="#006400" stroke="#006400"/>
<path d="M305.3 358.9L305.9 358.3L307.9 356.3L310.5 354.1L316.5 352.6L324.4 351.7L327.7 352.1L320.4 353L315.1 354.3L311.2 356.3L310.5 357.6L313.2 360.1L307.9 359.8Z" fill="#FF0000" stroke="#FF0000"/>
<path d="M296.7 346.7L298 346.1L307.2 346.3L305.9 347.1Z" fill="#FF0000" stroke="#FF0000"/>
<path d="M362.6 349.1L362.6 347.1L366.6 346.4L374.5 348.4L375.8 349.7L369.2 350.4Z" fill="#FF0000" stroke="#FF0000"/>
<path d="M418 353.7L422 353L429.9 353L435.1 354.3L425.9 354.6Z" fill="#FF0000" stroke="#FF0000"/>
<path d="M472.7 359.8L473.4 358.9L474.7 358.9L474.7 359.7Z" fill="#FF0000" stroke="#FF0000"/>
<path d="M301.3 362.2L302.6 361.5L303.3 362.5Z" fill="#FF0000" stroke="#FF0000"/>
<path d="M424.6 392.4L424.6 389.1L424.6 385.8L424.9 382.5L425.9 381.5L426.3 384.5L427.9 388.4L425.9 388.2L426.6 391.3Z" fill="#FF0000" stroke="#FF0000"/>
<path d="M431.2 393.7L431.2 393.3L433.6 392.4L433.8 392.6Z" fill="#FF0000" stroke="#FF0000"/>
<path d="M422 398.3L422.4 396.3L423.7 395.9L424.3 393.2L427.6 395L429.2 395.9L426.3 397.6L423.3 397Z" fill="#FCBE2E" stroke="#FCBE2E"/>
<path d="M423.9 398.5L424.6 400.9L423.3 402.9L423 404.8L422.2 406.5L420.6 406.8L418 407.3L417.7 407.8L416.3 408.8L415.4 407.3L412.7 407.7L410.1 408.1L410.1 407.3L412.1 406.3L414.7 406L416.7 405.8L418 403.8L420 403.8L421.7 401.6L422 399.6L422.4 398.7Z" fill="#FCBE2E" stroke="#FCBE2E"/>
<path d="M408.8 408.8L411.1 408.6L411.1 410.7L409.8 412L409 411.7L408.8 409.8Z" fill="#FCBE2E" stroke="#FCBE2E"/>
<path d="M411.7 409L413 407.8L415 407.8L414.3 409L412.7 409.7Z" fill="#FCBE2E" stroke="#FCBE2E"/>
<path d="M396.9 419.5L398.2 419.9L396.9 423.9L395.8 422.5Z" fill="#D3D3D3" stroke="#D3D3D3"/>
<path d="M380.7 427.5L382.8 426.3L383.7 427L381.7 428.8Z" fill="#00FF00" stroke="#00FF00"/>
<path d="M403.8 409L404.7 408.8L404.7 409Z" fill="#00FF00" stroke="#00FF00"/>
<path d="M342.6 440L344.4 441.6L345.3 443.5L344.2 444.7L342.8 444.8L342.4 442.2Z" fill="#FF0000" stroke="#FF0000"/>
<path d="M396.2 428.4L398.5 428.4L398.6 431.1L397.6 433L400.9 435.7L400.9 436.3L398.9 435L396.9 434.7L396 433.3L395.6 431.5Z" fill="#FCBE2E" stroke="#FCBE2E"/>
<path d="M398.2 443.5L400.2 441.3L402.8 439.9L404.2 442.9L403.5 444.5L402.6 445.1L400.9 443.8L399.9 442.9Z" fill="#FCBE2E" stroke="#FCBE2E"/>
<path d="M401.3 436.3L403.1 436.6L402.8 439.3L401.5 438.9Z" fill="#FCBE2E" stroke="#FCBE2E"/>
<path d="M398.2 437.2L399.8 437.6L400.2 440.3L398.9 440.6L398.2 438.9Z" fill="#FCBE2E" stroke="#FCBE2E"/>
<path d="M391.9 441.6L393.6 439.6L395.2 437.9L394.9 438.9Z" fill="#FCBE2E" stroke="#FCBE2E"/>
<path d="M396.1 435L397.6 435.3L397.2 436.6Z" fill="#FCBE2E" stroke="#FCBE2E"/>
<path d="M392.9 447.1L392.6 448.8L392.9 450.1L394.3 451.4L392.6 451.8L392.3 453.8L391 454.7L390.7 456.7L390.3 458L388.6 458L387 457L384.8 457.3L382.7 456.7L382.4 454.7L381.3 453.4L381.1 452.1L381.1 450.8L381.7 450.1L381.9 450.1L381.9 451L383.1 451.5L384.8 451.4L385.7 450.8L387.3 451L388.5 450.8L389 449.4L389.9 448.8L389.8 447.2L391 446.9L392.4 447.2L393.1 447Z" fill="#B9FF45" stroke="#B9FF45"/>
<path d="M391 446.9L389.8 447.2L389.9 448.8L389 449.4L388.5 450.8L387.3 451L385.7 450.8L384.8 451.4L383.1 451.5L381.9 451L381.9 450.1L383.7 450.5L384.1 449L386.4 448.5L387.8 447L387.9 447.2L388.7 447.3L389.4 447.1L389.5 446.2L388.4 446.5L390.3 444.8L391.4 443.5L392.6 444.5L394.5 445.9L393.1 447L392.4 447.2Z" fill="#FF8C00" stroke="#FF8C00"/>
<path d="M389.5 446.2L389.4 447.1L388.7 447.3L387.9 447.2L387.8 447L388.3 446.6L388.4 446.5Z" fill="#D3D3D3" stroke="#D3D3D3"/>
<path d="M363 445.4L365.9 445.9L367.5 447.7L369.6 449.4L371.2 450.4L373.2 451.8L374.2 453.4L375.1 455.1L377.1 456.7L377 460.3L375.1 460.3L373.2 458.6L371.2 456.7L369.9 454.7L368.6 452.7L367.5 450.5L365.7 448.8L363.9 446.8Z" fill="#B9FF45" stroke="#B9FF45"/>
<path d="M376.2 455L378 456L377.8 456.7L376.5 455.7Z" fill="#B9FF45" stroke="#B9FF45"/>
<path d="M376.2 461.6L377.4 460.6L380.4 461.5L383.3 461.2L386 461.9L388.3 462.8L388.2 464.1L383.7 463.6L380.4 463L377.7 462.4Z" fill="#B9FF45" stroke="#B9FF45"/>
<path d="M389 463.5L391.6 463.6L394.3 463.9L393.6 464.5L389.6 464.3Z" fill="#B9FF45" stroke="#B9FF45"/>
<path d="M395.6 463.6L399.5 463.6L399.3 464.3L395.6 464.3Z" fill="#B9FF45" stroke="#B9FF45"/>
<path d="M402.1 465.8L402.1 464.6L402.1 464.6L402.3 465.2L403.1 465.3Z" fill="#D3D3D3" stroke="#D3D3D3"/>
<path d="M401.5 466.1L400.2 466.2L402.1 464.6L402.1 465.8Z" fill="#B9FF45" stroke="#B9FF45"/>
<path d="M402.3 465.2L402.1 464.6L402.2 464.5L405.2 463.7L404.2 464.8L403.1 465.3Z" fill="#D3D3D3" stroke="#D3D3D3"/>
<path d="M394.3 465.2L396.6 465.7L395.6 466.2Z" fill="#B9FF45" stroke="#B9FF45"/>
<path d="M394.9 459.9L394.9 457.3L394 456.3L395.3 452.7L396.6 451L399.5 451.4L402.2 450.5L401.5 452.2L396.9 452.1L395.8 453.8L397.6 453.9L399.9 453.8L398.2 455.1L397.8 455.6L398.9 457L399.5 458.6L398.9 459.9L397.8 459L396.9 456.7L396.2 457.3L396.1 460.1Z" fill="#B9FF45" stroke="#B9FF45"/>
<path d="M405.5 451.7L406.1 449.8L407.1 451.4L406.1 453.8Z" fill="#B9FF45" stroke="#B9FF45"/>
<path d="M406.1 456.7L409.8 456.9L408.1 457.3Z" fill="#B9FF45" stroke="#B9FF45"/>
<path d="M403.5 456.9L405.1 457L404.4 457.7Z" fill="#B9FF45" stroke="#B9FF45"/>
<path d="M420.6 463.2L419.3 463.7L420 461.6L418.7 459.5L415.4 458.5L412.7 458L412.3 456.4L414 456L411.4 455.3L410.1 454.6L410.1 453.8L412.1 453.2L414 453.8L415.4 457L418.7 455L423.3 456.1L423.3 464.7Z" fill="#B9FF45" stroke="#B9FF45"/>
<path d="M423.3 456.1L427.9 457.7L429.9 459.9L431.8 460.6L432.2 462.6L435.8 466.5L432.5 466.1L429.9 463.9L426.6 463.9L425.9 464.8L423.3 464.7Z" fill="#D3D3D3" stroke="#D3D3D3"/>
<path d="M433.2 460.1L435.8 459.9L438 458.2L437.8 459.9L435.1 461Z" fill="#D3D3D3" stroke="#D3D3D3"/>
<path d="M436.2 456.1L438.8 458.4L439.1 459L436.5 456.7Z" fill="#D3D3D3" stroke="#D3D3D3"/>
<path d="M441.3 459.9L442.8 461.2L442.1 461.6Z" fill="#D3D3D3" stroke="#D3D3D3"/>
<path d="M443.7 461.9L445 462.6L444.8 463Z" fill="#D3D3D3" stroke="#D3D3D3"/>
<path d="M447 463.2L449 465.2L448.3 465.6Z" fill="#D3D3D3" stroke="#D3D3D3"/>
<path d="M449.3 463.9L450 465.2L449.6 465.3Z" fill="#D3D3D3" stroke="#D3D3D3"/>
<path d="M457 472.1L457.8 472.7L457.4 473.2Z" fill="#D3D3D3" stroke="#D3D3D3"/>
<path d="M458 473.7L458.6 474.4L458.2 474.5Z" fill="#D3D3D3" stroke="#D3D3D3"/>
<path d="M453.6 479.1L457.6 481.8L456.9 482.1L453.6 479.9Z" fill="#00FF00" stroke="#00FF00"/>
<path d="M471.1 475.7L473 475.7L472.7 476.6L471.1 476.5Z" fill="#D3D3D3" stroke="#D3D3D3"/>
<path d="M473.1 474.8L474.7 474L474.7 474.5L473.4 475Z" fill="#D3D3D3" stroke="#D3D3D3"/>
<path d="M9.6 470.4L10.3 470.4L10.2 470.8Z" fill="#D3D3D3" stroke="#D3D3D3"/>
<path d="M387.9 481.3L390.3 480L394.3 479L397.6 477.6L398.6 475.3L400.5 474.4L402.8 471.7L404.8 471.1L406.8 472.3L408.1 472.3L409.8 469.1L412.1 467.8L415.4 468.7L417.7 468.7L416.4 471.7L418.7 473.7L421.3 475.7L423 475.7L424.1 472.4L424.2 469.4L425.3 466.9L426.6 471.1L428.9 472.4L429.9 476.3L431.8 478.3L434.2 480.9L436.2 482.9L439.1 486.2L439.8 489.5L439.1 493.4L437.8 495.8L436.5 497.3L435.4 500L435.1 501.9L431.8 502.6L430.3 504L428.3 502.8L425.9 503.6L423 502.6L421.6 500.6L419.7 499.3L419.3 497.7L418.9 496L418 497.3L416.7 498.6L416 498.1L414.3 496L411.4 494.7L407.5 494.2L403.5 495.1L400.9 496.4L400.2 497.2L395.6 497.3L392.9 498.6L390.3 498.5L389 497.7L389.8 494.7L389 492.1L387.9 488.8L386.7 486.8L387 484.9L387.3 482.2Z" fill="#D3D3D3" stroke="#D3D3D3"/>
<path d="M428.2 506.1L430.5 506.6L432.8 506.4L432.8 508.1L431.2 509.8L429.9 509.8L428.8 508.2Z" fill="#D3D3D3" stroke="#D3D3D3"/>
<path d="M465.1 497.9L467.2 499.3L468.8 500.6L469.4 501.9L472.5 502.1L471.4 504.2L470.6 505.2L468.5 507.3L467.7 506.8L468.4 505.5L466.5 504.3L467.7 503L467.4 501.3L465.7 498.9Z" fill="#FCBE2E" stroke="#FCBE2E"/>
<path d="M465.1 505.9L467.1 507.2L465.2 509.8L463.2 510.8L462.4 512.9L460.2 513.9L458.2 513.3L456.9 512.7L459.3 510.4L461.9 509.1L463.5 507.6Z" fill="#FCBE2E" stroke="#FCBE2E"/>
<path d="M253.8 402.9L257.9 402.6L257.3 404.6L253.8 403.4Z" fill="#00FF00" stroke="#00FF00"/>
<path d="M248.3 399.1L250 398.8L250 401.3L248.6 401.6Z" fill="#00FF00" stroke="#00FF00"/>
<path d="M248.8 396.8L249.9 396.4L249.7 398.3L248.8 397.9Z" fill="#00FF00" stroke="#00FF00"/>
<path d="M268.5 406.1L271.9 406.5L269.7 406.9Z" fill="#D3D3D3" stroke="#D3D3D3"/>
<path d="M279.9 406.8L282.8 406L281.9 407.1L280.5 407.2Z" fill="#D3D3D3" stroke="#D3D3D3"/>
<path d="M251.9 379.6L253.8 379.2L253.8 380.6L252.3 380.3Z" fill="#FFFF00" stroke="#FFFF00"/>
<path d="M250.3 379.9L251.5 379.9L251.5 380.4L250.5 380.4Z" fill="#FFFF00" stroke="#FFFF00"/>
<path d="M261.3 377.7L262.4 376.8L262 377.8Z" fill="#B9FF45" stroke="#B9FF45"/>
<path d="M240.5 400.8L241.8 400.5L241.4 401.2Z" fill="#006400" stroke="#006400"/>
<path d="M328.1 517L330.3 517.3L329.4 517.9Z" fill="#00FF00" stroke="#00FF00"/>
</g></g>
</svg>
<div class="tx" style="left:-86.4px;top:266.5px;font-size:23px;line-height:30px;transform:scaleX(1.0328)">SPA1: Characterization, Inventory and Monitoring of Trends</div>
<div class="tx" style="left:-87.4px;top:297.1px;font-size:23px;line-height:30px;transform:scaleX(0.9895)">and Associated Risks</div>
<div class="tx" style="left:631.8px;top:266.5px;font-size:23px;line-height:30px;transform:scaleX(1.0049)">SPA2: Sustainable Use and Development</div>
<div class="tx" style="left:-86.0px;top:595.7px;font-size:23px;line-height:30px;transform:scaleX(0.9966)">SPA3: Conservation</div>
<div class="tx" style="left:633.3px;top:595.7px;font-size:23px;line-height:30px;transform:scaleX(1.0214)">SPA4: Policies, Institutions and Capacity-building</div>
<div class="lb" style="left:5.8px;top:651.4px;width:58.2px;height:51.8px;background:#C00000"></div>
<div class="tx" style="left:-282.8px;top:668.8px;font-size:17px;line-height:22px;transform:scaleX(1.0004)">0.00 – 0.25</div>
<div class="lb" style="left:172px;top:651.4px;width:56px;height:51.8px;background:#FF0000"></div>
<div class="tx" style="left:-115.1px;top:668.8px;font-size:17px;line-height:22px;transform:scaleX(0.9922)">0.25 – 0.50</div>
<div class="lb" style="left:341.4px;top:651.4px;width:54.6px;height:51.8px;background:#FF9900"></div>
<div class="tx" style="left:44.2px;top:668.8px;font-size:17px;line-height:22px;transform:scaleX(0.9980)">0.50 – 0.75</div>
<div class="lb" style="left:491.3px;top:651.4px;width:57.9px;height:51.8px;background:#FFCC00"></div>
<div class="tx" style="left:209.5px;top:668.8px;font-size:17px;line-height:22px;transform:scaleX(0.9980)">0.75 – 1.00</div>
<div class="lb" style="left:670.2px;top:651.4px;width:57.7px;height:51.8px;background:#FFFF00"></div>
<div class="tx" style="left:384.4px;top:668.8px;font-size:17px;line-height:22px;transform:scaleX(0.9828)">1.00 – 1.25</div>
<div class="lb" style="left:835.3px;top:651.4px;width:60.5px;height:51.8px;background:#99FF33"></div>
<div class="tx" style="left:546.8px;top:668.8px;font-size:17px;line-height:22px;transform:scaleX(0.9886)">1.25 – 1.50</div>
<div class="lb" style="left:1001.8px;top:651.4px;width:63.5px;height:51.8px;background:#00FF00"></div>
<div class="tx" style="left:717.8px;top:668.8px;font-size:17px;line-height:22px;transform:scaleX(0.9886)">1.50 – 1.75</div>
<div class="lb" style="left:1173.3px;top:651.4px;width:56px;height:51.8px;background:#548235"></div>
<div class="tx" style="left:887.3px;top:668.8px;font-size:17px;line-height:22px;transform:scaleX(0.9886)">1.75 – 2.00</div>
</body></html>
